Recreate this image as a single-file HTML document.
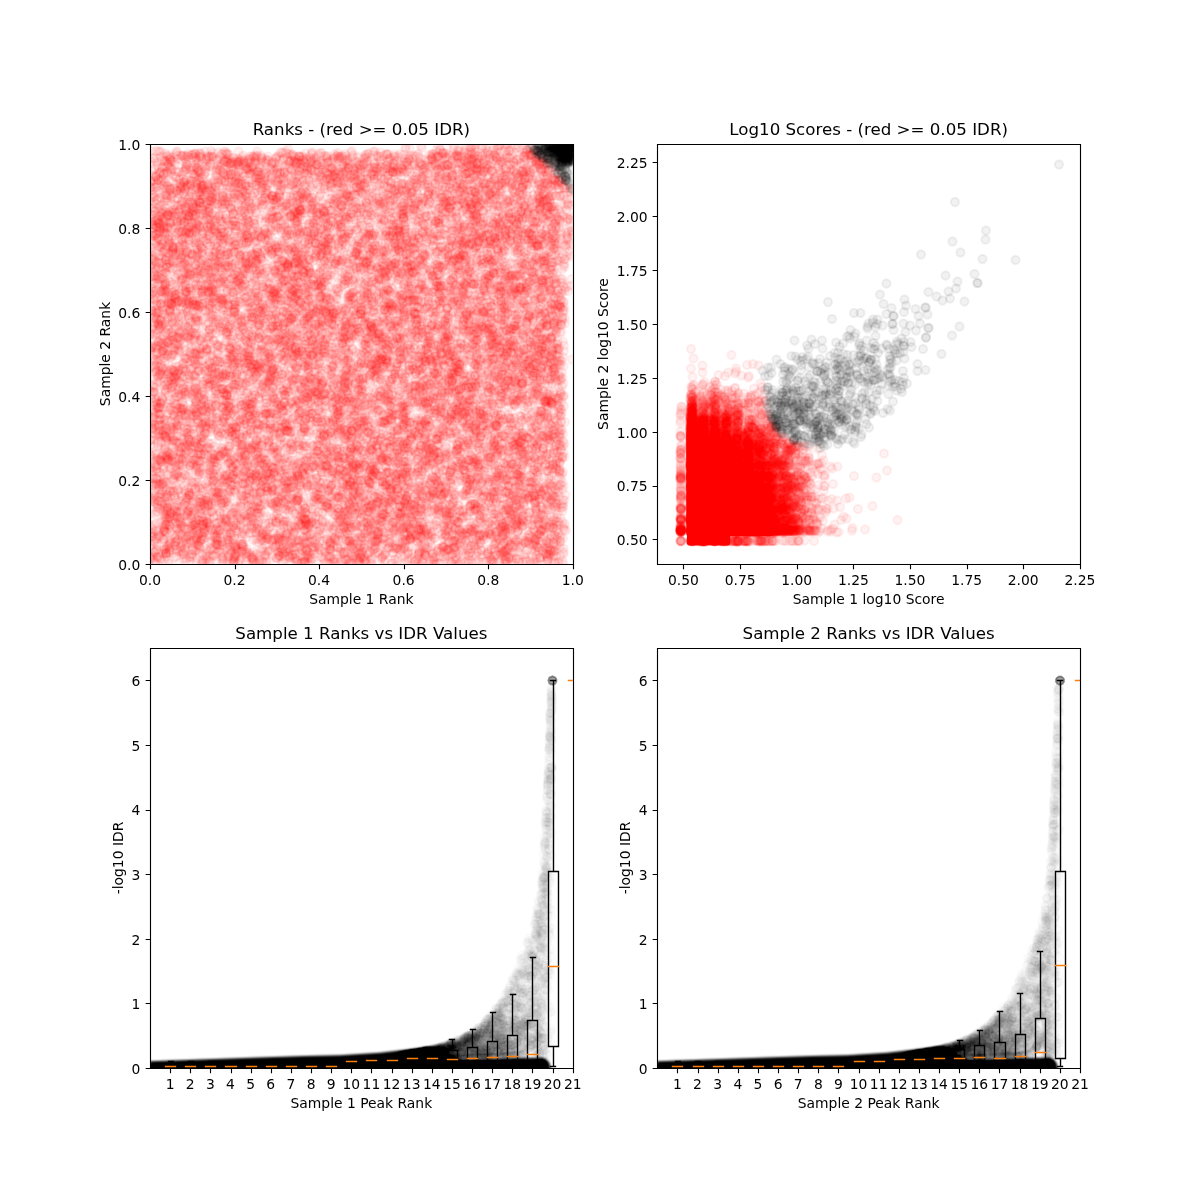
<!DOCTYPE html>
<html><head><meta charset="utf-8"><title>IDR plots</title>
<style>html,body{margin:0;padding:0;background:#fff}svg{display:block}text{font-family:'DejaVu Sans','Liberation Sans',sans-serif;fill:#000}</style></head><body>
<svg width="1200" height="1200" viewBox="0 0 1200 1200">
<rect width="1200" height="1200" fill="#fff"/>
<defs>
<marker id="mr" markerUnits="userSpaceOnUse" markerWidth="1" markerHeight="1" refX="0" refY="0" overflow="visible"><circle r="8.33" fill="#f00" fill-opacity="0.05" stroke="#f00" stroke-opacity="0.05" stroke-width="4.17"/></marker>
<marker id="mk" markerUnits="userSpaceOnUse" markerWidth="1" markerHeight="1" refX="0" refY="0" overflow="visible"><circle r="8.33" fill="#000" fill-opacity="0.05" stroke="#000" stroke-opacity="0.05" stroke-width="4.17"/></marker>
<marker id="mg" markerUnits="userSpaceOnUse" markerWidth="1" markerHeight="1" refX="0" refY="0" overflow="visible"><circle r="8.33" fill="#000" fill-opacity="0.02" stroke="#000" stroke-opacity="0.02" stroke-width="4.17"/></marker>
<marker id="mh" markerUnits="userSpaceOnUse" markerWidth="1" markerHeight="1" refX="0" refY="0" overflow="visible"><circle r="8.33" fill="#000" fill-opacity="0.01" stroke="#000" stroke-opacity="0.01" stroke-width="4.17"/></marker>
<filter id="bl" x="-5%" y="-50%" width="110%" height="200%"><feGaussianBlur stdDeviation="0.9"/></filter>
<clipPath id="c1"><rect x="150.00" y="144.00" width="422.73" height="420.00"/></clipPath>
<clipPath id="c2"><rect x="657.27" y="144.00" width="422.73" height="420.00"/></clipPath>
<clipPath id="c3"><rect x="150.00" y="648.00" width="422.73" height="420.00"/></clipPath>
<clipPath id="c4"><rect x="657.27" y="648.00" width="422.73" height="420.00"/></clipPath>
</defs>
<g clip-path="url(#c1)">
<path transform="scale(.5)" fill="none" marker-start="url(#mr)" marker-mid="url(#mr)" marker-end="url(#mr)" d="M1098 395 604 1124 964 1033 800 961 1080 753 1035 993 608 346 490 797 981 775 876 738 698 936 326 755 1057 721 785 661 630 690 600 404 851 892 593 318 729 929 614 1101 347 962 512 419 1011 351 992 941 864 551 1120 427 1010 709 507 715 780 812 1108 1111 964 292 612 1049 697 318 738 456 1063 316 904 562 637 1099 691 852 378 608 716 1075 494 684 379 1069 377 446 482 411 891 1113 451 537 781 838 809 345 1117 370 687 363 955 604 330 859 845 464 340 1034 1067 602 432 912 871 925 321 679 352 841 414 1021 1062 479 962 603 860 540 849 1109 548 1012 746 402 707 993 1104 458 684 909 931 528 603 620 1082 823 1021 656 492 486 1036 876 703 819 731 892 758 1021 378 679 1045 1073 811 843 389 750 925 1068 396 909 622 682 866 627 693 959 355 311 826 579 610 1060 622 780 438 370 455 852 811 897 797 1000 960 503 624 306 430 1112 813 508 642 593 641 563 374 403 656 452 344 709 1063 491 617 488 905 625 797 859 672 843 586 581 327 938 853 615 384 444 499 817 1111 1000 618 448 606 1040 883 561 528 769 611 837 560 346 888 1007 365 1001 622 426 842 410 702 1055 545 422 319 944 1069 881 1078 659 1127 1128 705 852 802 544 544 437 1000 529 793 951 551 688 549 856 601 823 867 986 951 398 388 793 1085 536 937 361 980 673 467 565 421 1052 921 957 593 812 385 431 576 526 1008 872 996 498 498 477 431 745 719 1019 571 753 1019 560 693 900 492 942 664 336 488 571 895 574 1122 478 814 555 501 1066 987 535 608 647 375 865 430 536 614 417 1006 663 492 1123 962 1007 370 668 1010 1067 904 346 375 500 336 1016 513 320 452 510 847 1118 698 1014 784 636 541 666 1127 793 386 797 860 403 749 1029 1107 670 706 937 679 521 602 980 445 565 876 338 1050 1085 703 362 1076 580 507 313 526 574 1108 1085 1077 940 733 894 766 358 599 746 324 1005 617 765 1133 443 730 344 982 420 436 729 921 455 799 906 564 821 694 390 530 478 923 309 358 787 918 531 1005 391 510 831 603 539 592 678 1041 771 432 1122 1073 978 378 880 331 906 986 718 355 676 780 882 738 570 1049 731 870 512 876 290 583 432 1093 914 367 367 877 509 392 805 452 828 627 447 722 354 345 1048 643 582 754 947 536 716 643 913 959 887 461 708 561 1058 533 579 510 985 332 1107 1109 1094 730 605 576 535 1044 930 319 841 390 656 316 568 326 534 302 364 815 491 907 828 599 889 1085 433 939 921 950 496 742 1057 347 525 401 1081 576 836 415 1007 839 669 359 1125 759 559 607 844 625 1067 367 1053 908 519 946 1127 570 454 618 703 885 766 412 896 820 698 589 1116 892 1068 837 598 564 482 537 664 631 487 550 503 942 509 968 321 719 895 716 991 940 800 761 313 313 808 374 979 625 1031 1012 400 662 694 827 497 777 779 368 1110 704 862 665 807 1070 898 553 653 699 595 704 862 902 601 703 876 350 992 373 844 1086 1045 563 992 1089 352 738 844 961 358 728 843 478 663 836 917 681 844 1095 992 770 495 643 742 468 547 582 609 986 448 437 989 691 684 843 657 676 866 637 1093 331 377 990 1103 363 441 666 756 371 833 566 652 960 476 1082 594 334 924 555 369 882 415 614 473 420 924 417 679 916 963 887 458 1092 1019 363 1103 314 945 408 1064 1080 411 667 1007 663 708 528 997 465 600 399 769 937 708 336 710 927 592 723 565 453 598 494 395 337 659 1012 777 805 963 922 749 756 721 351 342 901 746 1052 1075 523 325 630 343 822 623 410 1012 447 346 518 735 1084 632 984 689 314 325 775 797 469 504 511 973 746 797 463 971 880 917 332 666 327 581 545 747 378 991 1023 638 950 752 774 310 921 592 308 403 502 322 738 1009 799 674 580 807 512 751 1027 570 770 677 1022 368 387 719 979 647 359 916 597 891 639 714 355 397 1086 387 651 343 355 411 583 682 807 766 864 475 787 656 843 1008 1112 667 573 1068 581 393 902 868 845 633 578 1113 1090 550 1127 1057 889 684 1002 595 1061 585 807 574 1065 898 766 687 575 916 739 905 436 1065 1122 783 436 361 581 686 406 1048 1001 324 929 453 1015 762 1080 414 962 612 808 846 889 771 1019 987 435 797 495 453 790 507 701 1043 1090 391 580 866 358 423 541 420 451 868 659 1053 390 814 826 1048 628 522 493 787 1050 752 879 533 390 430 745 385 892 315 696 461 443 458 593 523 1057 642 335 1091 344 587 890 358 1001 1060 822 444 1062 976 734 429 850 843 665 835 969 397 330 918 631 744 392 394 704 513 930 762 426 618 469 608 1061 309 316 493 731 1125 352 761 549 894 981 483 815 417 1053 579 713 375 392 753 365 350 747 658 1077 840 935 751 359 703 448 1029 835 918 797 421 1070 1099 708 538 534 678 401 1095 936 886 1067 1090 916 1079 436 998 822 877 1060 624 704 874 333 620 530 765 857 563 406 976 596 790 1129 914 410 554 669 592 849 1011 479 509 984 1042 446 391 806 811 332 1102 746 1082 502 418 414 867 334 864 526 608 1012 1017 510 448 1094 683 785 1126 399 1084 588 635 895 1051 615 787 850 570 884 991 443 1007 549 583 855 1099 732 677 728 706 402 570 1064 471 325 558 935 549 547 436 951 654 565 991 980 677 823 405 1114 696 905 659 1059 563 598 1105 894 314 881 689 475 1051 947 764 760 913 1075 665 732 841 1035 414 562 609 598 1094 770 847 360 767 1054 502 856 373 1091 801 1079 882 388 783 517 461 924 374 677 612 970 712 706 584 465 324 541 855 772 308 1051 365 319 952 731 641 772 614 1072 711 345 427 639 1040 901 561 472 854 862 688 516 1043 748 329 766 1014 390 615 761 619 718 1125 481 566 312 627 964 850 685 515 717 313 614 708 607 318 780 637 768 587 791 1089 604 1101 674 1049 605 892 321 923 357 885 1070 444 701 837 418 314 836 308 1011 1020 598 704 654 500 1075 697 1084 425 999 703 597 710 351 786 905 350 467 443 943 788 1027 929 720 495 813 937 832 374 522 1103 557 1113 563 1099 843 1018 1021 775 930 394 821 596 375 371 617 1127 681 757 882 591 984 612 687 902 509 386 384 388 552 591 690 721 926 1032 1036 290 652 967 561 381 743 352 617 648 507 988 933 805 517 350 915 491 850 330 568 690 978 556 570 975 1008 613 856 602 379 864 689 766 464 640 706 736 347 1032 371 421 753 852 902 425 440 499 768 1029 901 368 1009 776 671 477 1128 390 992 1023 595 853 443 568 469 727 1075 1047 345 504 655 903 1008 588 482 400 406 521 507 952 899 393 828 697 376 307 428 682 799 677 759 726 911 349 494 757 753 731 997 512 1113 664 941 789 1041 579 472 571 711 557 1124 794 820 967 427 564 625 710 459 326 999 1035 430 443 712 509 725 681 1007 723 339 1035 456 610 470 1097 680 924 1074 1094 916 628 675 849 585 511 983 807 845 921 895 616 1055 524 344 495 985 674 722 1113 364 932 381 339 1068 1086 451 564 953 534 939 799 642 638 493 431 399 489 543 507 838 476 1002 1096 708 488 400 704 995 650 725 582 676 425 926 329 332 1106 453 855 328 365 515 464 693 997 456 664 330 899 367 1106 599 538 674 621 450 550 713 902 837 803 592 934 740 941 460 523 609 932 622 1048 870 448 957 787 570 962 868 309 512 1013 1043 360 407 378 806 922 498 426 571 848 622 627 461 921 743 1126 1059 485 389 333 369 711 626 1019 1103 756 915 1017 596 477 1108 900 1050 487 640 826 1103 745 988 296 893 619 947 924 1092 910 909 1082 865 724 691 638 1111 455 532 938 1039 349 502 844 494 473 491 605 1058 761 920 516 516 848 436 1060 894 812 420 423 1076 378 405 848 865 986 481 362 844 653 1075 927 1006 614 820 588 718 980 662 994 895 1021 945 419 852 340 703 659 925 368 594 334 519 940 341 590 466 1080 1121 875 835 1118 617 971 1108 558 358 895 573 408 655 465 507 893 988 813 524 316 711 1047 1120 925 715 316 500 806 804 850 1025 1030 601 326 364 373 656 982 980 317 430 360 556 432 467 822 1063 416 1008 649 416 582 407 915 495 654 946 291 374 421 778 1018 895 1101 1076 876 667 819 1022 1024 1015 403 387 753 767 813 309 649 974 721 460 414 702 1091 411 1000 981 977 676 824 623 1034 344 760 890 307 325 736 552 316 996 1029 691 621 547 791 1022 1089 491 769 546 499 496 627 1057 875 316 416 1044 441 772 993 980 1122 656 869 514 736 675 555 462 415 331 643 588 322 838 476 498 946 391 571 917 623 313 1061 311 599 498 428 674 819 517 1120 744 950 952 637 718 673 696 979 819 493 577 859 649 522 642 572 525 588 752 682 825 469 381 1063 514 860 720 860 396 742 843 988 883 823 825 660 764 945 522 381 612 496 515 1018 713 1049 1035 478 597 656 902 827 657 430 694 655 1086 783 531 442 1048 1110 383 643 931 539 606 332 1035 469 378 990 986 473 1002 777 917 1107 461 1057 887 730 563 555 1133 376 991 383 777 350 377 892 615 548 809 489 1098 872 429 746 553 441 932 658 538 830 918 896 437 605 354 758 818 1094 799 617 596 986 307 873 470 1115 327 628 987 546 371 466 431 617 354 849 990 476 810 1005 461 983 474 893 466 863 431 374 665 1066 1083 378 1103 664 1118 610 388 1083 953 350 595 647 752 939 558 817 884 858 577 963 1042 548 480 764 614 974 934 1064 400 405 350 755 388 1027 883 998 1113 808 692 352 665 914 377 425 385 378 473 776 732 535 555 370 590 526 805 835 1053 615 380 890 408 1046 462 715 994 822 643 844 1023 310 721 798 440 535 848 1060 454 974 992 850 454 1080 480 853 1014 704 989 717 820 689 693 1120 877 452 502 587 330 390 600 958 827 485 460 1066 914 736 1032 773 625 616 589 1083 405 1036 982 1120 623 411 1116 485 702 1106 782 606 573 334 740 653 920 915 522 953 827 614 618 981 453 1069 1077 694 366 627 1122 425 1104 510 594 555 723 906 424 376 799 704 323 322 1011 769 392 803 1078 479 489 711 605 542 323 598 619 910 354 1023 1084 794 992 961 1126 1007 680 316 830 509 734 1046 1124 635 767 801 975 517 569 432 921 490 926 840 656 476 486 311 427 1035 983 954 1100 881 471 1108 761 539 836 943 399 558 1041 1024 466 921 860 820 752 717 898 417 794 642 434 992 349 605 873 820 1064 908 710 357 1062 1040 770 687 572 835 472 958 791 371 1071 321 331 664 731 325 969 582 910 990 539 580 334 1013 954 492 1001 574 409 480 399 698 444 855 776 424 771 647 624 826 1124 581 928 1090 743 469 456 623 361 748 710 1105 1063 1074 894 1027 1074 406 529 736 626 827 704 949 490 890 828 1009 424 709 751 1008 705 697 567 534 347 881 555 645 632 1048 542 553 603 509 587 648 634 729 496 784 376 407 399 1012 651 698 903 411 603 385 501 618 830 531 530 396 623 806 1002 867 665 639 570 527 545 1111 798 379 779 962 991 686 312 355 723 1103 1005 1072 792 672 1019 428 360 1056 1018 715 418 992 334 312 563 601 704 1126 840 793 458 320 814 516 330 1008 1118 359 1069 697 649 1125 588 760 711 553 1108 567 865 805 966 928 861 795 387 1080 1050 589 580 684 366 497 544 644 372 1044 958 375 861 1084 711 505 994 296 586 371 732 601 775 1039 700 970 449 400 915 810 492 845 368 911 519 331 628 462 897 1099 767 684 1083 920 753 343 558 740 1053 707 325 869 464 827 951 339 563 887 1103 393 370 378 373 858 564 413 893 895 1022 962 519 622 604 779 930 571 824 731 771 795 865 955 767 417 383 468 402 889 317 439 596 960 702 427 1133 420 793 962 437 984 718 662 713 1116 897 630 899 960 573 307 999 1096 722 539 332 1106 687 369 431 925 841 776 903 382 845 1076 586 406 497 688 372 895 586 561 758 368 359 386 992 973 632 321 367 1011 544 505 448 1038 526 1124 600 468 510 480 352 419 1019 328 885 1055 802 813 921 385 821 550 763 844 483 431 781 861 722 371 973 862 990 867 873 564 711 510 371 789 1057 1075 727 1057 1118 891 370 493 349 744 816 774 319 454 1111 569 307 690 958 672 939 840 831 440 802 428 891 733 1050 799 1047 670 667 365 358 832 941 710 543 717 711 811 533 565 428 557 434 722 863 746 755 951 469 944 941 296 989 358 882 838 785 462 1056 804 547 736 882 708 808 870 595 442 531 466 353 954 663 335 919 547 794 610 1108 358 396 360 722 487 368 475 1085 1099 530 444 590 1040 949 1090 1038 1125 1118 797 676 798 499 419 1088 527 808 790 1064 323 454 671 1000 559 1008 1030 1127 1108 612 921 644 879 881 875 544 390 927 727 1100 581 748 883 792 501 484 469 500 1031 554 665 960 496 957 413 502 900 631 354 1115 730 640 426 649 422 1021 934 966 809 681 938 989 845 592 516 331 842 541 608 1058 1025 375 1029 972 728 717 779 503 647 561 583 1068 870 998 370 821 1019 952 824 1011 934 623 920 611 385 489 1100 329 596 770 1066 325 369 845 676 794 728 1029 1107 567 623 972 852 724 416 468 475 846 746 797 546 946 429 913 433 584 1021 1088 513 327 504 659 597 1060 403 363 1085 716 1014 953 810 341 842 587 635 861 888 585 838 917 545 612 562 881 617 729 681 400 608 782 470 750 1083 632 520 1026 1094 814 325 880 989 423 769 628 743 560 684 925 574 404 598 569 883 637 731 651 433 917 758 502 339 593 538 943 407 518 1016 581 922 563 465 703 897 985 704 850 618 717 567 1060 684 838 314 856 447 347 904 910 455 683 1033 1002 988 1036 777 750 1097 866 793 842 552 606 1031 1095 1015 335 431 350 479 805 676 697 1081 580 951 1031 659 892 910 1071 520 1079 837 954 680 469 621 730 1005 868 1121 966 822 689 877 397 586 401 341 705 1001 1047 734 1065 737 744 717 802 1095 1035 599 780 531 796 870 371 1123 741 900 1014 1123 733 1119 497 712 372 339 1020 554 485 810 1076 493 379 391 600 329 1060 351 848 1107 332 983 447 962 900 1099 1016 917 791 414 424 427 359 433 981 1068 1007 1103 871 878 548 995 388 832 978 809 769 621 339 1007 977 871 737 596 866 905 307 582 833 948 695 956 784 611 821 1013 978 771 992 832 457 462 1070 1082 449 954 880 417 634 695 1068 661 747 604 756 1064 865 1023 343 713 613 794 422 452 400 613 437 692 1125 979 734 430 784 492 876 971 323 427 938 856 1019 669 627 555 951 290 555 969 566 1095 568 560 598 399 966 426 1016 760 865 1121 602 916 1113 565 472 451 1046 641 1018 426 931 348 329 443 1048 305 762 684 1024 369 995 412 1033 801 542 635 478 578 957 378 916 1010 330 565 852 818 666 1120 495 726 589 755 989 633 381 1053 754 504 676 789 678 820 326 860 326 420 407 798 1108 497 953 524 545 738 551 361 746 504 1007 501 710 505 424 973 1063 743 526 962 980 1114 1112 587 946 1045 937 774 743 889 789 750 724 450 334 396 367 939 855 807 445 555 697 379 1115 801 1102 458 1091 804 805 1057 605 703 736 853 803 601 641 713 415 439 368 786 394 554 875 923 926 336 347 592 712 799 536 496 948 736 598 897 1039 1011 489 425 441 1025 1002 925 665 733 905 461 885 356 967 837 864 442 1067 972 406 820 643 944 352 354 421 1122 456 779 434 836 514 601 1055 1033 992 465 702 600 1035 649 1000 546 503 333 783 622 978 552 515 861 423 584 489 1031 1124 539 584 889 300 376 843 853 580 394 924 423 834 381 438 647 362 533 301 880 448 596 478 329 372 334 795 942 468 327 524 1079 721 627 525 1097 958 945 425 592 1124 826 1056 920 625 330 492 518 330 484 647 564 793 828 514 985 984 339 546 896 928 722 885 775 412 384 313 454 427 631 750 971 1003 324 873 528 327 447 791 842 557 504 849 922 1124 643 1038 924 940 304 802 583 647 791 1064 1050 469 854 518 409 854 659 385 349 562 489 404 1034 321 1072 934 327 952 406 1035 1063 1051 630 389 610 779 603 884 380 656 451 1064 896 358 931 421 394 550 541 421 735 395 1090 392 567 1014 764 839 443 744 898 814 478 1117 1124 1010 887 669 1077 816 811 699 939 442 865 1017 783 553 678 775 550 1128 519 442 596 1052 799 687 1024 451 524 525 703 910 813 1014 661 1094 444 1067 427 366 913 320 860 453 377 565 373 958 465 507 1113 663 539 411 1054 764 690 918 737 592 503 896 357 861 768 867 725 913 698 540 337 941 920 1076 650 545 1012 354 655 873 747 998 372 322 609 850 511 509 592 780 1056 400 978 885 311 963 994 488 953 808 1113 897 994 520 615 867 982 1048 710 928 577 452 751 1012 359 855 771 484 315 429 461 329 708 1021 300 1087 316 955 415 620 545 865 952 491 360 805 1078 374 503 508 744 753 586 808 924 1094 651 377 549 988 718 825 382 676 365 464 955 410 852 861 915 592 628 610 818 798 502 442 525 826 738 577 1096 698 839 632 647 631 624 571 578 659 625 712 628 813 524 606 662 1011 515 1078 712 591 696 309 363 1038 753 338 430 783 836 545 759 552 1037 1077 1068 584 636 499 348 768 534 1022 426 843 500 642 416 549 894 828 849 615 1086 905 855 831 487 976 859 609 864 531 537 928 568 787 862 933 312 391 1048 690 861 819 1028 870 748 380 990 771 759 576 529 751 492 743 868 767 311 808 972 709 822 864 1069 475 972 526 407 651 616 649 360 1088 580 594 846 1071 941 969 629 767 609 1010 1121 575 645 356 465 529 974 350 596 524 365 754 748 485 802 454 1103 328 1060 501 346 337 601 625 890 482 811 568 563 421 936 1083 990 744 982 982 704 1053 986 436 788 867 982 340 933 1077 361 935 1099 680 417 869 352 630 995 1027 764 438 503 623 337 811 976 917 1045 419 617 669 804 711 1076 974 846 453 805 1014 982 753 682 817 716 379 576 1069 601 608 761 1105 736 746 820 644 1012 328 934 921 368 719 940 596 592 533 1033 395 338 392 375 875 967 419 964 338 424 334 534 646 622 389 676 469 821 640 677 680 897 802 353 966 996 658 841 1010 302 584 535 814 387 426 386 727 757 918 639 582 340 554 518 329 1100 638 555 922 562 835 615 921 696 751 848 1104 343 610 786 569 523 1048 665 441 536 617 745 1090 535 669 1052 678 433 1002 601 627 628 318 993 469 322 1112 1112 1023 616 1020 1028 884 434 540 863 842 814 817 337 543 431 585 1110 590 954 1070 664 302 1074 946 669 692 956 555 509 463 336 1090 470 648 655 700 1008 1120 785 796 450 555 433 985 687 558 496 1011 458 870 955 590 936 772 625 663 865 368 446 392 556 722 1091 940 405 948 335 883 493 517 832 731 526 551 1016 888 602 526 345 892 424 830 1005 587 678 511 1067 1031 673 998 946 1096 557 867 584 1045 373 397 1089 575 701 919 884 405 372 858 608 488 943 1004 1019 877 355 777 463 1024 939 491 528 1068 838 666 407 942 355 410 818 832 1128 1010 470 1032 999 583 448 688 1030 697 905 1064 1051 714 852 695 603 1117 578 603 564 869 618 1053 1108 988 665 387 422 314 467 720 1054 943 782 419 334 511 730 1110 370 674 311 856 368 929 1033 693 1120 1128 812 933 771 955 1019 747 342 424 459 931 589 428 578 1002 759 994 754 382 583 583 533 572 789 809 409 396 378 1019 544 331 365 800 1012 683 453 509 654 546 777 1108 646 567 1099 357 695 523 539 1093 471 844 1023 405 369 684 652 1090 972 609 856 844 940 787 627 369 717 807 619 689 662 1050 909 579 308 891 1093 710 342 503 348 622 710 797 500 988 826 1086 901 643 698 326 487 731 560 688 512 938 321 505 934 814 992 649 855 1050 357 677 941 456 1051 304 952 466 315 446 835 305 1072 481 588 640 1096 845 520 956 766 737 510 485 387 494 873 548 392 804 823 855 1025 505 517 338 623 1095 341 552 318 943 440 774 553 514 962 1005 1025 473 855 373 329 729 1096 953 398 378 394 751 676 536 1078 1029 651 336 456 446 345 568 1108 738 497 784 790 872 945 339 508 666 1093 1084 597 702 971 387 460 866 734 669 528 980 398 410 1060 1098 330 796 394 1066 338 566 522 623 416 776 475 742 688 787 519 484 573 982 1012 427 1074 1047 412 648 1118 1059 1070 863 351 1035 786 697 764 938 662 567 425 469 980 1097 414 403 672 580 1101 982 635 840 328 545 334 1079 803 878 602 1086 1031 1100 989 626 341 1092 929 950 589 548 867 809 453 856 777 1070 627 868 1050 970 624 689 359 904 456 423 1024 545 656 483 440 989 875 1067 857 368 686 600 369 1011 553 972 1072 519 1011 869 859 751 334 1053 300 1050 967 457 578 986 987 582 1009 385 1109 931 600 426 655 509 472 551 532 1127 767 1094 1081 403 922 1001 799 939 964 639 934 440 596 762 911 373 996 700 393 1065 568 1121 360 738 539 947 662 346 363 575 609 660 867 983 1016 813 523 932 1081 537 885 1127 1104 976 337 830 1023 997 459 448 385 1011 799 862 1081 1115 1091 836 872 424 758 969 656 766 1114 676 582 523 982 848 877 1033 551 457 610 702 714 625 696 851 732 1093 651 998 1123 632 548 896 639 989 885 1109 748 313 638 610 586 817 1117 1091 731 1078 328 318 446 507 911 1010 609 723 778 369 982 587 1001 325 801 407 582 844 529 1053 460 578 631 570 543 924 1079 1101 969 556 955 961 409 499 720 795 762 1067 940 412 421 587 427 751 426 361 931 494 930 435 987 842 292 871 838 1038 1059 748 626 447 416 476 700 503 847 892 520 445 599 445 559 358 1036 1119 440 319 829 959 861 979 387 1038 385 599 565 541 948 816 1054 1100 880 421 380 949 418 862 716 918 509 1096 410 768 795 1074 775 463 910 505 760 856 385 870 388 451 683 1051 410 539 1055 958 1030 1041 909 443 328 974 626 1009 623 416 976 308 992 1102 805 740 751 940 672 905 1026 1107 472 313 710 734 325 1081 742 480 784 708 512 576 533 842 1067 624 472 478 343 706 559 869 1018 364 407 791 792 356 444 431 981 301 956 776 551 857 408 518 677 789 487 554 899 766 971 888 401 836 1125 1041 326 590 598 396 547 1034 716 321 994 1108 784 500 962 314 618 332 424 813 343 955 980 990 475 670 854 937 801 881 696 590 1064 732 1003 962 717 1132 493 367 387 871 826 973 367 345 774 645 330 945 616 842 1059 724 1116 1002 808 716 389 728 1096 548 736 976 913 928 490 1115 1028 897 906 569 345 845 810 576 321 878 1126 750 327 875 550 1061 486 657 383 1070 1078 627 1004 687 1119 566 941 530 936 1082 814 815 1056 336 904 1087 720 608 892 638 628 524 691 350 1053 475 1089 516 595 577 1060 344 608 569 598 602 777 485 827 532 480 1102 540 366 572 553 763 563 331 1025 730 702 999 341 716 881 454 301 447 433 320 870 442 916 535 1041 895 1136 409 1069 536 432 644 867 1011 449 787 931 517 843 604 445 417 817 404 791 874 664 648 335 918 554 828 315 706 531 920 995 955 349 832 552 1116 880 1113 382 658 449 322 848 713 320 456 321 639 497 816 1032 547 727 368 990 1055 1104 609 1016 1065 665 633 808 341 535 752 506 721 985 391 684 413 573 1067 365 614 867 914 594 943 533 806 718 947 838 777 406 849 341 1063 676 488 725 486 959 472 1074 852 632 768 706 367 644 339 866 492 645 1039 992 1070 830 783 607 949 456 373 1067 643 889 749 1044 787 831 744 967 796 416 408 658 874 469 1045 1037 710 418 478 376 857 547 761 345 644 1055 338 1072 768 1078 1096 1039 944 1121 465 1116 831 391 490 946 487 715 733 355 699 1010 1120 871 847 742 892 395 818 539 717 1035 894 699 327 413 1031 405 593 673 515 935 822 323 582 1068 1128 560 596 1045 659 878 1097 880 872 502 867 412 699 770 407 625 627 351 924 523 320 934 1072 1067 680 1107 548 619 398 481 837 730 478 379 488 404 748 781 1084 574 767 726 1075 357 852 1005 842 671 354 972 836 772 935 921 739 1080 822 373 311 458 506 1017 803 1011 376 708 1013 398 877 368 546 600 957 345 885 1093 653 838 723 1043 328 694 1044 870 782 469 875 1113 698 334 830 1096 1020 843 353 571 1071 352 816 1015 447 733 1016 877 864 645 859 432 666 734 526 937 887 748 554 594 716 851 1071 873 385 347 765 873 428 416 585 356 838 736 308 385 991 416 886 735 678 885 374 787 661 351 589 1038 574 1111 660 481 1039 447 339 694 474 478 517 563 1079 679 726 964 421 945 547 809 467 1061 344 701 996 992 770 375 599 1078 420 403 317 362 905 1102 815 716 534 523 415 841 1006 367 769 467 775 697 922 569 480 1112 1090 875 904 355 793 1143 378 1015 674 939 641 521 1060 1033 1079 413 769 771 696 844 495 476 365 755 820 551 410 438 848 325 585 947 452 360 683 420 700 751 741 743 430 670 398 698 335 1104 1104 839 567 1107 367 646 965 802 547 556 1004 991 379 717 773 744 423 476 676 593 586 677 830 769 848 490 384 612 1104 847 449 664 994 573 779 620 371 477 324 905 327 635 1063 878 1016 735 1055 377 764 701 401 974 993 1011 838 677 789 880 606 776 605 478 1063 1063 696 1105 800 662 517 813 479 825 311 742 348 677 994 323 583 755 338 1068 546 516 1004 581 322 849 842 1019 1115 775 1006 793 978 962 1086 1029 551 895 1099 1016 538 697 1004 963 1114 315 331 500 845 474 1004 479 374 1053 1100 341 486 988 625 1050 918 463 395 1038 707 1074 665 1096 800 390 1041 311 804 331 1062 608 1058 397 1071 501 585 1029 577 689 699 791 518 977 658 507 1121 1102 1034 627 985 644 850 457 752 415 455 794 900 748 509 455 1074 429 910 601 529 925 486 862 1065 907 753 609 862 392 446 580 1017 668 351 808 908 668 775 363 820 914 522 1014 958 311 704 300 781 434 494 436 338 734 810 1040 796 970 864 376 546 777 833 431 1088 675 599 486 457 496 1035 1027 1029 380 932 389 919 1120 391 1022 1060 1045 787 720 383 774 970 822 1062 715 804 762 993 945 819 1078 1044 1055 426 329 435 640 882 391 778 1122 600 711 767 836 936 455 917 689 726 1112 724 690 1119 610 613 630 1095 397 524 636 882 1045 908 450 731 928 928 352 1092 372 582 832 539 1089 366 775 589 634 700 670 635 754 1040 665 850 408 351 1089 976 704 314 368 311 980 371 904 542 362 450 347 518 880 577 935 859 1039 608 683 467 584 580 902 680 899 582 383 335 545 653 706 624 441 696 330 1032 663 643 613 462 357 732 468 397 986 669 766 963 1027 900 1002 1041 972 399 933 958 469 1122 886 1075 418 541 624 1093 986 1123 1072 517 1029 326 483 639 746 932 540 847 390 785 785 344 733 946 933 636 410 742 621 704 417 459 552 628 870 661 330 587 565 543 694 765 766 519 1094 353 606 1075 815 523 745 827 880 479 367 738 814 955 1101 428 794 650 343 600 845 943 556 456 739 865 711 322 1079 656 643 670 1092 562 658 1116 437 969 483 685 1083 340 823 786 579 584 485 703 331 580 763 515 431 503 779 461 1003 478 970 368 811 1014 395 955 1071 598 524 376 1037 950 1017 972 607 1075 325 912 734 314 317 814 852 843 799 884 478 357 882 976 376 779 975 958 484 542 321 720 644 513 1008 713 1088 747 1112 471 580 519 413 704 595 840 423 712 339 874 392 639 808 639 553 598 396 324 737 1024 834 871 1043 432 319 1070 389 724 702 641 1051 875 542 397 347 854 572 421 969 526 1103 1000 762 449 617 745 388 1050 749 646 354 1098 732 378 334 964 646 734 749 303 358 423 1027 934 492 447 1081 1029 321 758 1045 393 780 710 628 963 513 586 950 1008 404 1007 380 990 473 360 727 786 407 558 959 601 978 495 922 778 897 674 362 1068 351 590 786 1094 991 836 795 901 461 843 428 996 355 1079 670 670 868 908 753 626 445 814 585 1109 1009 547 815 886 432 801 441 517 951 430 743 1072 363 843 1057 924 1075 1078 833 849 333 546 946 918 419 1050 672 742 687 347 1002 572 610 1018 370 376 492 521 493 336 910 1041 399 812 962 1100 768 339 606 504 325 549 518 650 1105 686 1111 654 527 839 982 386 1049 895 754 929 444 897 1053 355 909 577 667 819 556 981 705 804 915 769 745 472 967 361 306 456 973 691 496 929 886 437 803 958 510 714 965 887 829 758 919 794 729 806 852 698 950 766 1000 449 1028 305 723 1007 1071 686 483 874 394 783 934 553 950 771 1096 869 907 299 972 395 715 837 472 697 444 479 1098 863 577 500 308 543 893 914 668 539 1072 775 861 801 1001 1011 381 1114 652 555 853 923 792 344 672 967 957 1091 899 521 593 801 369 491 1039 852 501 947 1037 676 636 990 916 516 949 1019 564 573 477 331 973 591 509 729 1097 325 631 674 953 667 809 1081 838 800 823 473 1001 793 469 364 692 740 755 667 707 924 787 399 477 735 787 326 699 540 459 657 803 692 431 1091 427 962 763 739 437 530 398 596 1038 1020 969 565 464 754 1119 792 609 791 992 694 750 412 1119 1049 1095 412 401 390 309 591 641 768 373 718 1031 850 335 611 800 1060 510 790 873 444 527 908 819 903 870 748 551 629 1028 616 616 465 786 995 1104 381 380 885 469 1122 1108 937 990 381 848 663 908 712 437 531 593 736 1104 412 791 1120 896 709 582 1052 882 934 454 1055 781 768 393 710 628 317 367 779 704 966 960 705 864 649 915 602 584 954 322 409 594 326 837 579 872 315 453 547 1110 361 723 386 666 1124 1090 848 661 1127 561 865 1085 687 756 903 830 771 440 524 459 840 1041 911 766 732 649 801 668 626 1114 1008 421 450 706 756 897 763 1120 1076 301 1114 505 565 1033 725 1059 741 384 406 524 608 659 717 1071 1038 958 483 1076 718 654 346 576 854 700 547 483 922 891 1109 400 306 716 525 743 1081 796 1097 646 684 561 305 1024 589 1100 1077 595 829 971 1024 362 618 611 1016 500 460 1042 448 987 899 526 574 347 568 1016 421 541 459 926 344 776 701 833 648 978 689 900 950 484 487 391 308 306 360 994 711 766 1027 769 842 891 1070 438 1044 587 931 1081 1115 692 620 764 675 822 497 1043 518 882 999 957 934 840 732 927 761 493 1115 1088 934 633 983 999 452 734 523 1068 545 905 1081 612 613 831 421 1117 761 523 572 649 378 772 718 392 829 1098 429 802 591 596 550 614 893 416 912 424 858 477 939 467 1093 407 1042 1062 964 602 605 619 1110 349 785 562 856 457 443 727 690 403 722 1096 942 304 575 437 1062 407 1057 751 527 932 414 1021 484 497 727 951 471 688 568 541 754 329 779 1033 319 304 692 395 780 995 497 791 959 682 336 1093 529 341 1085 397 610 588 555 696 594 375 314 1066 612 619 519 683 479 662 727 582 900 1099 1054 952 403 1070 1103 607 856 553 967 1053 563 621 339 481 904 535 322 563 565 550 327 792 345 548 906 1080 1115 486 548 688 826 815 533 1031 574 419 659 629 494 998 840 815 922 852 728 938 489 1002 1118 1087 1032 762 573 1008 734 774 698 1003 360 1009 749 549 588 560 348 452 951 832 998 545 775 1123 488 661 748 934 368 777 1086 690 644 953 928 821 845 772 841 681 457 678 485 996 334 772 928 331 693 353 733 842 710 395 793 948 502 817 319 1089 627 508 634 599 361 456 464 850 970 1084 766 610 527 646 497 718 331 378 414 876 684 462 799 765 1088 302 302 675 958 593 612 821 856 483 454 318 873 1042 576 525 963 662 512 590 446 341 445 809 679 692 869 650 818 389 893 626 932 414 823 662 973 814 992 348 1115 1069 366 915 940 1010 532 664 544 945 654 1016 447 532 587 1080 480 827 543 825 731 1107 907 688 441 1122 649 757 401 822 914 991 969 708 984 554 420 432 996 495 335 949 1022 803 987 1107 1005 1097 740 1019 453 976 784 753 735 426 474 416 948 628 993 758 557 979 1006 552 1045 337 347 610 1111 702 675 547 935 653 776 378 750 329 1054 392 1082 1072 572 553 1011 554 1046 541 702 619 537 820 520 825 331 921 952 709 453 539 1122 564 522 454 370 412 801 929 1060 1036 475 691 890 751 839 686 475 455 307 883 785 990 311 476 498 333 397 774 681 932 1124 603 867 322 970 992 1028 1042 1022 720 534 453 989 912 423 1077 1103 681 826 723 862 413 994 818 574 1080 405 885 426 551 706 332 876 703 795 758 1068 766 952 471 604 938 1111 381 463 843 356 1113 1043 1061 461 372 618 762 717 333 467 902 966 442 910 1084 565 1108 993 521 738 506 958 1087 695 942 409 371 361 477 338 470 969 399 355 922 331 487 327 1043 841 677 1031 1082 850 565 1017 394 486 551 423 1027 394 1090 768 643 647 763 487 1115 903 529 958 684 916 785 1106 528 654 365 312 766 968 477 406 590 576 448 563 1079 716 1122 900 706 358 983 666 1075 934 890 917 591 694 1074 944 1078 1019 861 906 514 1057 657 976 478 763 550 638 769 1074 987 1124 1103 675 812 881 530 1008 303 429 823 364 1065 562 1083 467 345 672 321 424 640 1055 862 1102 1125 1122 672 626 1129 621 608 544 389 637 377 479 538 756 883 1069 638 648 390 706 962 859 589 312 544 741 883 1011 549 609 595 704 1081 1120 975 771 400 363 1129 491 531 1064 522 1080 866 955 651 651 814 936 428 1069 514 893 479 366 615 1064 396 721 995 689 553 921 926 509 304 736 858 895 661 451 1039 576 807 809 625 706 847 583 850 585 1077 398 585 718 767 551 783 748 645 882 984 589 588 967 300 733 458 915 944 368 944 1076 835 581 584 495 836 477 332 322 470 875 757 382 627 1100 325 748 768 1003 341 334 455 1088 472 1092 586 591 434 555 336 859 533 468 978 747 784 1003 585 896 537 706 449 531 798 1027 1083 571 702 428 454 830 415 1102 542 848 830 788 574 699 1060 1122 1083 1062 1028 977 356 850 798 344 690 655 832 451 988 701 653 844 337 385 351 581 608 371 386 622 403 677 403 344 361 1047 1060 788 964 528 1058 289 609 1119 350 652 867 929 955 396 926 992 859 509 462 1075 505 729 1126 509 594 617 1059 531 445 387 676 1017 1021 1020 339 681 495 1056 942 800 1102 534 680 331 695 737 1037 464 374 1073 728 886 353 626 1056 423 1104 937 587 364 396 840 1082 323 769 605 905 773 623 758 698 1007 765 714 633 499 689 895 903 959 820 485 492 595 495 1022 341 390 339 982 698 1062 1019 303 527 469 416 453 618 863 1109 334 976 994 557 524 787 441 992 905 870 1128 760 758 514 994 685 786 447 1117 600 1021 846 617 300 880 953 1060 1045 342 655 739 826 316 719 376 693 637 581 975 640 634 1008 803 900 376 393 538 940 1012 899 621 864 730 619 632 1008 900 951 495 1123 843 892 665 879 947 614 801 503 851 926 697 938 342 953 873 542 942 842 892 883 307 1069 1121 1067 1058 491 673 859 719 952 385 652 312 947 873 740 660 394 1077 592 644 475 786 1046 469 834 366 729 1066 388 868 778 1068 992 448 358 462 779 376 969 666 333 1095 1116 700 683 997 802 683 857 853 1003 616 643 950 385 1050 974 1012 437 832 806 670 332 530 440 872 1019 658 923 922 313 920 870 968 562 874 880 972 1054 929 417 585 346 499 608 895 911 490 872 791 644 771 580 900 1063 668 1017 499 552 363 941 477 962 781 677 415 1075 710 340 423 885 601 597 1042 630 634 976 964 657 484 880 301 998 390 772 470 444 448 708 1047 856 957 301 401 928 932 1057 1082 357 945 945 812 399 399 533 827 452 646 658 371 480 521 867 996 963 648 658 1024 921 1071 460 831 773 658 337 668 790 1025 903 434 1016 1057 483 1081 800 718 762 404 359 1036 815 819 306 1122 719 987 608 526 943 518 308 317 515 496 699 435 821 670 929 908 836 675 619 945 450 511 629 669 1037 367 1040 317 342 666 983 566 557 717 307 1061 332 466 909 521 935 601 977 1063 584 352 726 1016 517 358 1056 615 1014 615 344 633 575 352 519 356 994 851 1099 1050 912 1114 625 892 451 914 907 1086 618 669 954 965 972 327 1122 408 618 520 640 603 316 475 547 784 853 758 432 581 990 956 640 965 404 1066 777 682 476 1105 488 726 800 504 879 548 950 751 927 580 383 899 721 626 1097 1119 874 503 790 641 565 920 652 433 873 1041 1119 944 800 1100 503 567 327 605 1100 399 1110 979 639 474 363 1070 621 568 779 319 413 857 598 1083 326 427 954 318 311 1029 636 467 836 937 356 781 644 1044 806 428 400 366 484 644 436 954 417 1103 929 854 734 997 870 690 789 481 547 1007 684 967 310 375 966 305 652 422 831 748 422 302 1031 914 1017 415 694 862 646 787 891 530 520 872 595 995 780 924 733 578 802 1029 301 669 780 894 583 1094 697 402 302 529 625 720 402 526 904 391 725 856 940 945 643 465 1024 458 521 993 810 1035 736 522 643 306 660 765 1081 551 1014 698 426 638 420 824 1078 548 609 1124 589 1061 545 983 462 416 609 727 309 338 676 577 714 941 735 573 907 379 583 863 673 448 410 622 942 978 627 408 435 485 378 660 309 810 545 739 824 653 915 326 931 824 965 474 932 1082 465 1054 629 657 465 951 705 519 306 958 466 1025 846 395 1123 664 940 621 781 535 365 1013 772 885 511 953 622 1046 525 547 1030 811 851 795 1066 457 369 510 1002 346 809 889 837 944 953 846 819 741 665 1015 471 759 1090 359 796 339 815 331 909 550 1117 707 841 395 583 673 966 852 487 925 884 781 520 877 1028 750 777 540 1118 625 851 723 789 746 980 883 621 417 772 522 913 830 922 776 1057 803 1070 917 890 376 1054 628 856 804 1051 894 664 502 946 726 1117 377 462 506 574 470 1056 398 926 589 907 851 526 1083 557 609 343 426 513 403 418 547 355 860 988 975 352 369 878 329 569 782 541 825 379 884 816 689 1008 942 514 500 763 1043 861 544 692 678 377 787 906 624 452 438 775 916 310 831 1088 980 960 1069 764 431 741 965 570 1042 1070 716 894 293 827 1043 492 594 676 317 739 757 598 787 384 678 341 757 902 355 489 596 407 691 910 830 669 1013 575 534 307 733 502 947 321 607 320 962 689 879 497 713 494 484 597 478 713 1018 744 393 837 836 756 1003 648 1055 1119 856 730 632 979 669 493 726 498 483 422 402 469 851 495 615 525 430 703 635 1105 703 696 1036 715 1026 790 1067 724 621 315 439 399 405 1016 1083 749 944 778 566 680 313 754 1084 835 1060 940 601 499 380 723 813 1075 1028 790 526 1012 643 878 358 591 735 805 747 357 481 487 693 490 916 643 778 411 389 912 439 440 1060 506 642 930 348 472 352 1039 831 933 628 509 386 657 558 462 1045 316 1015 949 621 1004 887 812 1079 995 477 632 315 921 1063 457 612 627 908 706 1088 486 654 880 962 1108 1125 431 782 635 569 850 847 1055 418 479 670 311 868 696 527 1034 500 1049 418 686 979 839 519 316 1002 591 709 826 1018 729 904 722 1051 742 1043 938 775 889 940 433 634 400 1014 347 861 366 735 303 395 1029 1033 336 1044 375 874 809 324 1104 808 1069 300 915 1043 357 674 573 975 1096 639 962 450 1026 559 747 1028 804 812 1010 639 419 849 629 648 504 811 650 488 1093 995 617 730 558 1110 378 466 474 1101 395 506 875 402 657 989 889 1059 1078 1049 715 360 329 839 823 637 536 960 987 852 1049 887 679 673 509 556 902 477 1078 699 393 451 1026 694 549 802 470 652 1143 396 599 696 812 327 712 929 765 1030 448 504 964 1102 302 324 958 484 487 330 943 1105 638 1068 454 953 875 541 849 370 937 768 758 532 765 977 488 1000 846 991 803 414 340 817 1008 409 939 848 548 691 306 316 1051 471 562 1097 804 504 1019 949 811 755 942 419 900 449 406 783 947 972 809 634 716 324 722 726 942 673 974 590 735 497 403 356 418 616 728 648 1074 1077 717 864 446 786 1095 839 724 749 933 533 750 611 506 1041 1114 939 617 599 560 1083 1047 1044 748 336 986 887 1000 314 861 718 455 504 447 960 650 691 370 742 638 989 943 1008 892 411 966 534 1080 654 941 750 946 691 694 802 466 1053 1060 543 902 671 1089 326 1003 538 843 860 870 632 378 638 516 571 892 646 843 1003 366 930 604 621 456 727 308 1004 816 909 572 393 866 754 876 689 524 1121 1077 784 403 835 1071 681 889 627 1104 807 913 492 801 702 335 949 708 899 638 578 1043 561 584 673 934 624 531 1052 415 487 754 1003 508 1024 437 985 1048 955 806 832 923 399 725 768 895 953 722 1035 1038 438 1095 652 1121 729 401 1004 404 377 458 597 338 563 622 1068 998 577 1078 626 541 708 1057 543 499 794 473 328 682 858 885 408 987 763 747 303 325 587 701 1093 316 359 916 601 800 710 794 676 535 1061 1119 941 721 656 1099 952 882 582 355 819 500 318 809 840 897 1086 737 543 911 570 533 982 660 980 844 835 855 478 628 1108 471 926 1011 986 805 859 757 821 736 1109 400 571 1021 673 367 474 485 354 910 581 704 1020 760 1052 947 799 964 351 482 1012 1081 759 550 620 395 576 535 976 334 1065 858 682 466 485 930 357 1044 581 636 975 385 603 391 693 843 665 660 1086 911 765 828 479 1101 869 339 481 406 1001 659 406 1030 971 1052 829 615 533 999 679 1107 596 1094 415 495 741 307 786 544 638 441 655 918 991 558 809 420 712 549 435 927 691 320 526 1125 965 373 444 304 470 461 963 643 1114 541 767 1041 457 996 830 1133 465 682 574 1115 1058 885 972 949 727 511 562 746 623 900 868 888 1053 1126 433 1106 631 659 758 758 858 384 972 1073 327 606 903 701 1081 1102 604 437 413 701 726 819 882 672 597 880 618 460 751 873 828 988 688 367 811 378 620 852 896 419 827 404 1017 340 337 592 875 1013 1042 1079 982 960 822 743 989 816 1070 860 967 321 1120 387 909 834 423 877 471 984 1125 863 963 615 915 1003 365 1100 373 448 1000 738 964 674 1109 849 399 1111 1019 443 1004 757 589 883 596 986 657 926 649 312 441 954 698 305 658 1004 367 838 428 325 614 449 481 983 780 1072 492 942 1121 1093 874 796 719 307 834 847 903 566 668 992 679 677 323 758 749 1084 1015 402 1078 331 565 855 330 553 781 839 343 508 1125 667 588 1029 836 843 841 360 532 901 418 701 963 536 1074 642 610 530 1070 636 1107 947 782 381 671 948 569 1089 522 1038 649 446 661 1081 834 409 908 1011 743 1032 1014 1026 1022 581 433 1075 788 1020 481 875 340 669 376 914 637 1114 712 1041 716 376 457 1082 560 1042 424 1093 639 843 331 500 713 731 708 410 839 741 871 998 978 849 426 1088 1063 1081 459 730 1121 628 930 685 963 1052 304 633 844 684 521 759 905 808 762 850 1044 640 593 693 804 720 512 578 719 850 473 594 672 664 872 616 1082 577 750 707 971 385 414 542 501 461 696 1103 1044 950 378 377 1022 416 463 635 711 909 1002 751 1048 898 522 485 992 900 681 630 798 618 1070 501 1042 351 933 859 887 1103 485 324 467 880 338 620 636 1007 950 877 360 710 893 636 889 359 700 618 685 715 869 989 1074 434 495 1034 448 465 870 730 315 730 835 539 397 960 814 808 1053 359 586 943 1002 832 771 647 861 1101 716 787 459 607 938 427 681 457 653 806 434 575 775 1029 800 333 712 1086 1088 836 739 669 1117 497 706 636 309 721 600 1079 1069 878 600 608 1035 527 626 795 463 472 1110 804 770 530 721 679 492 769 829 1015 316 940 1022 533 346 895 360 678 1066 592 329 762 823 822 379 490 921 654 920 313 374 990 782 702 506 779 342 753 1062 874 719 756 988 1034 448 683 453 683 1124 884 395 362 382 980 659 912 675 1035 360 721 607 373 830 1064 995 515 312 722 976 1115 438 601 752 711 880 635 560 409 741 572 438 536 826 491 470 867 407 649 435 772 912 627 783 943 308 604 419 597 602 570 745 911 338 538 959 704 1110 773 734 925 823 1062 366 568 821 926 354 925 492 343 322 489 822 1021 437 632 366 747 498 418 766 408 790 426 919 652 593 1111 595 754 919 799 503 662 485 927 808 343 872 680 409 622 546 596 427 1073 1092 872 711 896 602 432 349 898 863 453 733 313 697 1101 791 920 1059 686 433 336 748 529 880 1058 378 348 903 892 470 317 446 780 475 765 677 1010 440 466 553 1060 347 889 543 1067 757 821 979 1112 938 719 960 899 838 324 670 681 464 836 1086 772 486 569 362 310 1122 1036 807 454 790 842 713 416 471 749 647 959 581 889 931 351 1022 1062 320 676 814 843 563 1109 1070 414 406 371 1006 1074 493 524 371 1086 904 469 984 1001 305 961 341 960 743 729 649 789 770 469 442 634 1074 990 389 1079 583 1071 585 418 605 848 788 387 418 618 478 892 651 786 1106 970 928 1035 502 726 622 1072 1018 880 533 311 909 390 765 607 855 952 484 959 614 1031 551 400 1004 758 1064 677 1017 476 1097 1003 786 770 1120 945 477 419 758 594 664 547 533 496 709 998 1078 764 711 390 707 602 1032 1042 941 1064 473 707 420 381 549 734 407 760 1127 785 344 1010 959 892 963 477 303 416 1010 834 406 683 662 1100 761 1016 489 308 1049 484 707 996 665 795 978 545 531 928 550 821 845 513 879 713 744 972 331 493 802 651 713 382 738 956 931 378 433 1024 990 764 524 812 381 676 436 823 702 823 880 684 410 927 335 318 1113 1016 602 509 325 574 1050 331 781 315 724 468 713 880 989 898 988 513 1006 962 872 427 950 437 557 670 719 705 894 431 465 316 648 315 551 905 611 1066 339 315 1115 576 369 542 639 1055 811 1040 986 321 344 1044 375 823 386 416 374 792 928 466 950 706 904 654 1012 998 328 666 1057 904 765 926 737 734 676 830 1009 1011 492 508 940 769 589 412 532 637 736 347 958 646 458 915 1118 623 597 787 338 343 675 827 895 922 511 959 1072 746 657 499 532 857 898 605 312 303 622 1015 881 1099 580 496 700 312 581 934 516 1092 1090 1071 788 724 900 635 430 1120 392 878 919 377 604 726 522 800 392 615 672 638 1008 945 761 728 910 522 474 420 437 543 424 685 686 312 1047 1034 638 1049 888 641 576 567 720 913 735 784 389 387 601 334 708 983 628 562 963 451 408 867 477 930 533 839 1101 307 804 842 849 583 589 498 401 952 1021 740 964 774 308 747 675 351 948 1048 345 714 498 337 520 830 711 824 1077 804 1103 793 1043 798 385 706 428 1072 456 387 610 952 629 900 912 1054 611 319 494 584 696 943 568 435 764 855 696 928 321 945 885 365 727 689 569 829 483 1103 795 522 1011 602 922 614 973 1048 536 470 358 413 1112 967 621 1070 565 649 522 535 370 1081 830 961 901 508 417 373 844 319 1002 1126 883 460 892 1110 619 600 976 656 691 851 1063 806 633 982 545 607 886 1023 1028 649 425 603 701 438 613 874 783 390 750 778 1049 575 462 312 626 661 347 991 1064 969 477 535 927 321 747 1082 344 970 1065 888 332 645 1042 706 409 691 928 472 857 499 578 450 845 592 736 694 1068 702 351 399 944 653 554 387 920 341 446 427 960 943 331 451 904 480 320 880 299 549 664 323 515 727 852 582 319 830 864 895 1033 514 1086 1032 1008 534 536 347 879 908 1095 1032 568 976 750 384 846 1026 799 641 351 313 813 430 520 430 762 541 366 876 878 1094 788 523 673 671 527 647 344 320 839 560 389 573 989 762 438 983 343 911 725 1002 560 306 501 1079 839 566 1003 739 794 348 833 983 1070 723 929 537 1103 1005 665 891 1024 914 897 735 665 966 658 1023 1104 545 586 903 311 332 873 1004 505 1024 979 514 522 966 797 585 931 1060 684 745 901 798 595 777 337 335 878 317 433 817 369 817 781 322 607 372 338 430 458 404 785 691 744 800 1054 429 381 998 1033 832 748 304 342 1008 599 1079 998 742 530 382 371 812 977 385 512 849 462 824 1040 735 1107 567 890 969 636 847 732 924 674 505 671 810 473 511 743 412 427 406 676 630 1086 1103 524 399 858 457 1114 421 402 798 1015 562 588 572 853 1012 711 484 981 464 359 391 729 381 371 789 755 986 718 935 972 1023 691 676 904 782 812 431 397 963 739 329 1119 607 1036 518 668 991 913 380 738 777 495 1099 375 1078 364 1121 1112 945 933 677 924 995 463 602 571 924 460 912 658 705 873 536 681 611 1039 424 985 385 309 1066 985 844 1125 519 891 887 414 961 382 916 792 402 810 315 1023 1094 724 580 430 1060 735 820 802 492 392 913 1035 553 1029 579 753 1036 975 646 416 892 980 375 1026 618 582 1026 381 864 314 755 311 642 460 897 842 633 623 361 1036 596 511 449 972 350 1015 953 820 662 442 589 958 511 316 317 1075 825 618 438 432 597 536 323 924 792 478 443 409 805 616 624 657 1066 752 1010 464 722 619 1027 692 939 381 611 892 592 681 759 952 995 299 485 766 668 408 957 481 656 596 814 400 1019 415 363 824 1032 692 1037 1043 493 980 312 354 662 1075 545 976 1105 701 901 574 1092 1108 794 677 883 331 961 875 989 520 594 1009 544 710 949 876 781 654 495 634 480 890 1060 685 309 775 307 710 432 513 644 636 412 557 476 562 565 442 1078 369 357 927 584 697 627 892 805 339 886 1114 938 543 399 1092 562 523 1018 835 351 1044 432 812 793 734 386 409 999 540 562 542 598 1000 946 842 988 600 449 1006 361 703 830 787 515 671 965 623 767 893 1027 734 572 626 1005 982 1072 667 506 828 390 720 948 470 800 1033 318 944 430 490 951 1018 320 828 850 910 491 735 355 1102 342 605 819 845 922 918 418 561 818 317 956 886 364 437 1007 839 1064 399 1050 962 911 716 1085 939 684 700 690 551 814 856 662 1101 1106 930 357 575 685 388 702 407 894 401 369 893 762 881 680 530 863 775 333 1026 522 1018 1080 542 546 652 959 826 572 1043 794 691 907 598 1066 636 643 575 692 932 453 1038 367 821 387 340 522 633 918 1059 729 592 544 785 489 443 683 413 985 1027 1120 749 927 825 641 306 571 508 423 956 397 642 485 1098 1110 448 586 494 968 405 1057 727 549 585 1131 990 400 1024 894 360 656 434 370 1097 533 989 523 548 544 392 651 1079 759 742 776 358 478 452 850 368 346 875 569 499 808 706 536 353 810 885 783 758 736 852 388 820 434 596 955 833 795 1000 730 551 776 801 957 454 341 318 795 642 829 602 657 1008 1119 926 403 494 549 540 496 526 1069 428 733 619 706 646 1073 756 982 891 463 1104 664 660 829 366 444 1115 503 463 724 794 682 497 1041 574 1130 844 757 681 492 1013 410 303 1031 631 789 332 952 694 712 536 560 694 663 398 383 1036 693 860 556 435 1015 753 529 324 1006 450 402 991 446 607 906 549 1093 645 902 408 380 925 375 438 463 332 358 776 951 968 914 898 415 1028 308 577 461 649 968 1021 739 698 405 607 537 883 799 472 467 623 875 1102 1110 755 337 727 430 390 783 830 620 835 811 948 649 469 884 334 889 1048 1067 390 403 909 1113 476 899 1010 1030 652 349 1090 1077 720 918 574 1086 896 1104 454 440 429 484 890 507 440 869 814 867 741 394 827 896 1097 488 482 420 391 665 673 351 535 660 359 814 343 548 740 1031 468 536 366 318 763 350 739 1108 1053 315 807 1113 1061 1094 378 456 508 689 344 763 1092 471 866 645 651 920 565 902 532 695 424 1028 718 1056 637 959 797 420 512 713 375 471 490 1049 1082 1085 701 987 592 894 835 993 486 458 706 975 460 472 1098 958 659 618 697 748 560 360 928 459 777 661 915 635 836 517 733 424 580 758 598 529 362 952 860 1144 411 621 325 379 481 674 404 456 892 1119 502 977 909 385 348 392 643 737 711 731 1076 307 784 944 775 692 1081 492 626 1075 888 901 561 449 837 1144 719 374 671 378 496 1021 373 755 537 1129 1000 1055 727 328 958 540 761 687 401 302 912 691 1047 941 547 589 424 1121 831 716 416 943 382 928 611 311 408 430 492 852 714 574 1074 698 822 1120 730 1117 726 408 410 1095 369 840 975 885 941 419 628 326 699 338 1127 392 763 912 536 523 621 987 548 873 471 932 332 1036 553 872 504 450 349 637 902 614 513 591 1085 342 405 944 688 496 531 512 830 830 989 790 410 816 779 561 944 569 914 657 982 1126 1000 662 740 659 1093 675 388 351 915 499 860 624 305 1120 754 500 732 1078 618 556 637 860 548 682 1058 504 335 1111 347 933 668 650 788 602 420 820 830 690 477 951 960 927 985 690 418 476 602 542 1080 1058 878 354 382 666 1026 568 735 822 568 526 381 1033 653 570 681 546 400 621 886 983 640 802 924 521 926 690 429 796 441 426 735 1089 722 1002 494 346 495 331 1042 995 759 771 1004 989 470 448 630 332 857 669 313 391 728 986 1004 747 664 363 566 1042 904 349 1021 1026 794 436 536 446 596 872 768 862 431 908 990 314 817 541 986 799 790 943 1060 855 744 302 1027 988 1113 727 873 806 1015 955 865 692 433 758 466 618 542 904 423 1038 352 683 623 655 711 336 635 318 536 914 687 643 930 1005 1062 447 608 902 1124 1093 358 814 435 444 965 718 780 399 1107 1019 1058 498 537 1100 1110 871 1050 946 852 439 660 741 897 735 342 386 665 1015 802 454 1096 331 785 584 803 831 508 895 329 604 1027 613 1027 1097 442 541 683 540 807 649 787 1020 1061 412 967 988 483 1052 566 451 823 858 1128 983 784 904 1054 716 630 653 594 555 900 664 338 316 754 766 543 1028 455 907 385 620 755 846 535 399 1006 635 611 915 312 1105 739 956 1104 741 730 1117 851 787 884 596 993 487 659 380 906 1089 623 584 547 486 381 351 330 677 920 382 1110 1064 1125 980 906 462 1030 372 475 894 653 582 1086 453 568 448 642 557 1080 879 572 851 1112 561 877 788 908 893 976 962 1080 463 623 873 1043 311 469 606 835 348 991 946 969 728 328 546 936 439 340 970 592 805 909 760 452 982 1098 576 665 473 1104 933 754 994 995 689 665 713 890 1069 780 998 1088 408 544 812 999 768 583 855 681 736 1025 376 624 911 756 438 1102 785 845 833 1030 796 335 999 957 441 715 1042 342 890 1118 1010 683 791 379 314 636 403 372 996 292 490 815 529 1110 762 355 537 606 820 1059 692 781 666 844 1043 726 955 339 494 720 536 313 1035 802 630 784 462 572 924 1102 776 622 521 1121 433 689 577 636 541 578 363 480 1103 674 810 486 933 932 437 433 1093 458 1069 493 318 979 597 996 738 1090 925 802 752 534 1096 886 1084 561 1071 726 360 410 784 378 518 676 905 492 610 732 1034 1048 689 569 836 805 381 454 437 979 636 672 845 751 998 760 836 727 1035 320 1020 480 301 936 1144 460 465 451 885 811 868 826 746 801 728 1034 495 510 606 397 798 463 822 973 664 687 864 584 978 915 466 710 317 868 930 827 1084 680 752 407 624 322 1057 479 717 664 677 705 1098 482 362 1050 847 724 396 640 875 768 325 648 619 786 643 403 608 715 873 301 991 1051 359 357 442 990 445 845 1104 590 752 595 1070 1081 1016 1096 707 653 948 648 713 447 1007 717 642 325 888 572 1059 926 441 565 650 451 1094 866 660 956 885 705 408 391 986 383 1036 890 570 704 964 293 512 370 1102 806 876 541 662 864 381 362 400 549 775 783 933 591 735 321 693 549 839 963 775 726 868 578 1003 608 493 1041 939 534 1103 504 595 998 806 437 869 906 884 710 653 512 610 765 754 892 1082 1061 751 677 556 1105 1010 1064 384 521 585 462 1043 733 1106 356 351 1071 844 658 455 778 440 1074 391 823 443 588 584 1077 464 656 821 536 424 827 503 1014 364 510 689 679 468 1076 559 386 1130 576 675 853 372 739 942 961 733 469 828 412 325 504 798 1071 828 415 494 470 623 597 897 1058 722 541 661 341 950 619 829 328 518 726 409 903 598 826 320 395 632 571 1020 1090 929 805 981 607 429 970 527 469 1090 634 393 1038 619 850 927 1022 827 481 1085 717 417 1011 652 666 890 983 709 389 482 967 862 960 737 1052 555 548 646 640 917 453 871 820 597 952 667 735 698 1082 956 738 697 1069 1108 743 617 632 926 771 640 1072 1086 758 574 716 750 816 390 884 755 492 351 557 461 1028 1032 1118 1095 1102 446 486 309 566 720 982 453 331 1103 487 307 783 404 1053 741 980 896 718 543 727 877 1013 428 984 807 1055 760 991 998 435 417 1004 440 724 728 666 845 975 828 599 1032 1041 621 1116 1059 437 812 924 1063 865 643 431 696 955 1089 801 935 680 985 302 623 309 890 682 610 346 483 838 527 522 881 572 1020 662 846 764 512 735 748 325 452 1004 786 712 663 426 395 542 920 447 439 951 300 534 388 907 746 1099 389 307 378 695 1068 464 903 694 482 466 754 312 1011 470 962 552 389 797 977 742 1059 308 319 873 984 929 544 509 374 608 611 1085 778 1077 765 704 671 963 968 1034 692 490 1094 805 901 865 1087 787 371 607 685 519 1021 351 800 1037 1096 1107 578 995 456 1084 1021 950 720 1095 857 382 861 543 684 545 865 896 899 573 711 1001 310 719 661 1114 824 791 503 513 623 1044 982 735 900 1050 762 1055 856 464 885 603 466 450 548 879 1014 706 304 695 838 741 980 755 1019 1099 1133 512 614 642 301 374 507 536 444 1125 785 659 421 888 950 1056 372 1088 1071 852 694 324 1023 550 416 646 668 927 1117 1067 663 944 326 864 572 978 326 1021 455 449 342 608 463 773 760 719 744 926 941 1011 537 880 1010 970 494 1098 855 1038 663 755 832 922 1035 950 507 1119 311 745 1073 1015 972 984 824 899 762 868 465 934 421 526 318 519 1135 477 482 714 1005 1046 1059 416 346 910 1013 960 726 902 916 403 659 1098 1036 421 315 558 357 509 718 1097 1059 719 955 986 611 326 553 905 459 536 1079 871 1043 878 1114 842 1037 882 435 1080 359 499 856 672 844 543 766 634 607 1081 1005 1100 705 945 380 546 945 449 1077 923 611 604 946 744 1103 435 901 1103 665 968 454 789 1033 933 603 386 571 960 526 735 782 964 907 682 969 548 886 862 678 314 765 855 935 697 1110 609 1052 337 343 536 1084 468 568 316 320 750 563 404 373 459 905 605 770 619 383 424 927 917 1017 1099 504 312 1000 696 578 763 381 816 503 317 702 608 522 515 516 904 827 680 501 1024 506 984 690 395 1040 979 954 474 1129 528 600 421 326 438 859 931 524 633 334 534 860 989 578 978 1115 689 515 699 405 498 386 1066 493 1111 446 800 804 647 819 588 1068 455 1035 1050 563 1050 789 586 1043 987 440 1091 645 1115 987 609 690 817 394 369 748 358 340 983 931 291 933 894 979 959 943 611 840 1056 762 1078 802 748 467 376 936 1067 921 326 464 856 637 1127 306 837 328 619 380 427 1043 526 772 947 950 336 447 549 650 706 988 1028 1050 837 715 1012 706 595 849 870 556 504 709 629 945 319 572 473 504 736 750 1083 618 546 833 311 427 596 590 493 948 1068 481 1088 784 805 719 1068 421 356 558 557 566 947 809 331 850 452 834 347 634 999 484 1104 1043 391 562 777 555 1018 915 1044 638 916 481 1049 653 931 614 964 1027 558 990 752 661 1081 511 602 378 952 749 620 353 540 400 896 464 529 1038 900 421 929 462 919 562 601 758 694 810 1037 433 826 614 873 889 898 973 379 302 1066 556 916 1106 927 349 672 723 627 902 830 780 403 808 438 426 947 987 781 1035 550 686 804 441 753 527 652 690 308 905 783 748 979 1090 846 669 825 480 423 754 534 820 370 467 618 1074 678 988 399 1059 633 1101 803 1104 479 680 1043 633 440 975 659 810 459 588 314 422 749 1071 632 334 333 858 844 503 896 406 592 953 658 839 841 344 881 654 316 1068 746 776 691 1030 897 309 600 961 677 975 1108 463 558 384 906 957 403 544 905 321 690 472 1050 1023 597 914 312 917 628 1138 502 440 1061 901 700 490 568 379 577 1127 375 303 798 372 985 1011 732 312 611 372 548 331 307 385 608 445 755 1072 729 465 770 770 963 634 956 505 803 953 721 628 325 771 1029 774 579 865 617 1043 421 1059 912 988 984 652 624 732 755 643 619 1037 495 729 688 630 785 532 320 794 431 851 904 1005 482 944 325 471 364 415 699 1115 1051 393 397 421 555 808 702 366 484 798 528 402 1018 895 749 1051 530 899 510 930 340 792 382 756 996 340 754 747 693 583 578 1065 486 1026 323 1019 579 1008 1061 854 814 1031 580 454 832 1119 362 922 540 781 335 1097 515 1088 1071 974 773 1082 429 724 736 305 985 531 657 649 363 1122 818 1107 490 791 802 772 674 888 729 372 1002 526 851 840 1128 746 904 893 1060 461 578 421 327 691 754 649 787 482 810 396 730 953 506 732 690 1068 1000 1026 1076 1046 570 460 981 766 581 985 400 762 413 949 299 357 548 859 505 739 380 957 569 975 508 301 925 896 504 1017 434 841 804 594 573 1039 970 505 839 871 940 544 327 1063 992 312 730 689 1105 490 525 484 368 832 552 554 587 857 603 621 446 1027 706 709 1053 380 642 742 1008 1117 775 728 853 567 1049 997 563 1052 553 336 763 497 445 920 1090 550 684 1106 1056 991 630 626 453 1043 886 1040 1005 504 536 611 462 422 1059 1041 706 776 922 818 497 896 481 342 936 400 385 420 612 618 603 404 884 341 1088 858 398 1110 1125 477 770 636 786 855 867 758 831 1101 973 486 1088 1133 471 756 769 902 441 608 465 765 1021 876 1057 1019 894 720 1025 371 922 340 535 1014 573 490 413 400 681 427 558 681 851 773 467 815 1080 832 649 797 925 869 578 1058 993 743 728 1080 395 664 733 529 1071 874 879 964 779 877 416 533 975 608 761 328 582 873 674 457 1112 778 449 582 1080 1084 736 400 452 367 1107 817 361 364 1108 492 490 441 437 484 1072 746 430 905 523 445 400 863 996 463 760 473 569 916 887 599 342 650 1103 889 508 1129 376 773 872 331 895 454 533 1065 963 546 592 632 1080 394 1117 1006 953 1101 726 586 605 982 365 891 359 699 974 1107 945 438 724 886 396 778 1001 623 321 1112 796 310 825 631 651 637 465 732 698 721 446 868 448 698 934 645 666 824 875 1028 1079 807 420 1110 392 828 933 894 617 1002 806 988 1090 572 862 696 775 346 494 695 554 1117 861 945 464 750 924 551 539 778 721 779 1095 416 1002 545 494 1092 559 1132 1061 874 656 373 1117 790 909 354 751 840 650 496 763 849 1019 1096 771 1058 711 634 329 1086 1049 927 830 1008 640 574 1069 379 582 518 361 691 437 324 923 785 966 542 497 441 764 413 409 939 828 443 465 570 803 965 755 689 917 1105 356 976 968 815 1070 744 347 1078 702 866 1113 966 472 862 481 521 335 1141 387 520 539 933 833 818 1053 528 694 441 778 980 705 900 945 1122 1009 414 703 992 686 782 365 918 780 475 884 392 1100 855 1070 903 940 612 755 767 668 728 570 983 460 693 343 1058 777 1060 664 733 524 610 802 730 795 820 1072 590 526 1037 499 557 567 534 622 721 835 526 640 715 491 850 1106 831 410 316 653 419 447 331 585 415 1045 768 403 745 668 514 343 903 479 311 621 620 821 362 960 796 448 723 710 314 1014 1094 677 856 584 898 1084 599 421 612 1046 683 350 716 343 787 696 884 1093 813 996 824 799 652 1107 1080 322 1035 599 519 721 963 839 453 395 1099 895 956 412 515 731 855 639 852 921 1041 644 914 663 607 724 571 932 859 889 455 985 436 365 320 1018 586 926 371 895 833 662 424 736 940 825 861 624 801 329 400 428 795 592 1103 709 839 1092 523 315 811 1088 750 735 459 799 701 1053 331 781 983 674 908 291 668 607 1051 1085 904 834 963 312 960 820 923 778 805 596 1013 693 567 684 366 754 890 380 334 325 342 345 1068 446 721 708 800 906 771 799 676 836 824 601 793 892 911 861 601 971 530 596 462 348 529 460 572 769 820 776 698 921 1103 1101 683 1066 574 713 1053 648 601 1126 813 996 549 797 821 904 366 559 847 701 979 559 652 1090 766 328 975 329 749 728 737 976 636 714 734 916 419 1070 470 549 625 848 766 636 363 824 1007 564 687 1107 791 1098 321 362 821 1079 460 906 827 1047 669 522 630 1037 698 684 1063 459 911 731 1015 448 1076 396 389 480 555 904 303 849 553 496 929 409 482 1033 318 525 451 750 444 599 392 671 561 559 805 1084 472 369 933 964 838 470 837 578 580 468 1045 1038 674 685 579 330 594 1034 941 486 935 308 407 420 1086 436 839 325 452 665 837 615 757 645 483 556 1070 1005 816 615 629 730 707 1034 748 706 588 432 723 687 690 776 358 344 909 983 700 1122 1017 1049 887 1052 357 979 769 900 691 643 536 465 1110 426 612 682 786 426 775 841 1096 814 595 450 535 907 1078 687 706 927 692 944 358 763 1077 792 687 835 993 954 870 347 609 690 499 313 575 476 456 1108 978 777 441 922 759 349 1126 429 739 446 786 1008 1082 737 343 696 685 871 406 873 547 449 945 915 437 871 753 1037 731 1080 648 493 333 580 447 572 875 529 475 648 706 698 337 685 456 607 1031 491 1055 954 990 354 884 510 567 984 914 435 951 1049 995 636 402 541 974 729 1019 1004 1036 941 1073 1023 931 665 637 1049 874 480 533 934 971 572 321 582 404 469 753 994 802 367 1085 554 477 726 692 320 544 857 1020 572 917 516 308 449 332 1098 386 906 771 542 1073 734 415 758 767 896 592 496 1039 356 950 1009 1082 700 580 1085 812 867 755 754 611 307 485 1088 360 680 934 610 842 891 520 986 1055 1048 1036 506 1003 323 338 487 1026 363 576 734 352 972 530 954 861 468 1049 365 477 630 379 676 766 964 641 543 1012 1102 565 667 900 835 1045 804 404 507 454 741 693 706 714 325 462 964 1096 831 349 1032 1056 997 601 314 538 708 485 997 753 593 526 487 395 704 1109 900 664 858 1070 848 301 1003 335 1022 1063 546 945 490 843 408 489 909 400 433 1112 761 314 1088 800 1027 734 357 653 902 320 673 1051 436 652 503 328 1098 385 748 1127 391 789 830 782 548 454 964 513 425 1047 905 891 657 904 352 456 509 720 628 918 540 1063 865 407 1058 504 639 433 1073 429 893 1011 874 739 510 1046 866 580 1116 649 944 312 1126 536 982 937 587 1079 1037 548 1095 1041 542 493 994 749 1063 496 404 929 754 782 652 439 912 1102 582 365 604 463 546 966 442 448 321 1023 1116 318 733 754 373 1056 986 348 657 885 341 824 859 1086 342 918 793 827 418 1080 523 839 963 694 1082 584 1060 762 605 552 554 853 808 790 868 694 1087 678 835 990 697 481 495 1012 868 1124 772 1068 738 860 853 717 875 374 312 742 1017 1044 841 330 897 749 753 524 568 937 537 696 783 804 665 507 673 947 867 1017 565 300 917 933 772 625 370 919 811 743 744 1025 1057 696 991 315 610 1064 855 637 344 521 640 742 819 564 811 491 737 421 949 713 541 631 804 355 601 838 1059 882 692 960 940 699 602 930 940 880 651 430 432 317 382 934 881 349 325 407 371 531 847 989 831 500 719 834 493 618 815 829 1019 768 911 820 1058 622 402 779 999 330 1019 1072 1117 903 983 774 712 676 450 1019 315 350 755 364 956 520 576 349 952 424 523 616 480 512 1107 466 586 880 551 764 963 515 1018 886 660 1034 790 608 641 515 630 869 1115 1086 388 499 962 391 635 895 616 787 327 830 567 958 648 540 556 1077 596 547 422 335 1000 778 484 327 578 681 861 906 815 636 773 767 503 497 584 550 594 1095 994 503 808 1012 298 446 696 367 596 873 611 648 699 676 369 976 354 923 594 515 601 594 365 806 758 1022 1002 479 803 377 901 679 345 587 554 922 617 506 680 340 938 525 945 896 669 555 1117 1046 429 1079 407 1048 458 777 944 874 889 828 952 890 795 631 665 444 1083 714 1029 1105 525 873 1126 567 1080 707 564 612 501 1093 582 665 799 679 939 634 784 1003 1053 1105 417 907 655 529 1025 595 1126 641 312 329 1059 872 1016 606 338 321 816 885 1068 475 321 1023 439 362 633 957 395 367 736 856 646 318 659 1025 753 646 1082 841 893 756 1071 926 939 939 791 1035 1084 485 912 556 937 316 793 385 964 961 758 892 1040 863 876 672 1031 685 400 335 749 1122 789 505 1116 499 831 393 641 323 483 372 324 1140 441 690 560 854 512 681 448 425 514 960 928 811 945 779 315 362 456 1088 955 1024 928 722 629 316 1011 559 701 660 357 898 754 805 998 302 463 998 470 578 705 929 391 488 542 817 600 492 1108 1086 974 639 547 730 975 533 1078 808 434 934 978 1111 1006 859 669 466 383 376 1072 771 689 1100 998 1067 304 837 402 1049 528 1105 805 906 556 1117 751 738 1013 838 876 973 830 406 884 981 916 876 891 309 1006 806 954 581 550 590 327 515 731 987 487 994 859 1013 1114 1004 625 493 766 368 830 606 320 442 443 1119 866 349 699 518 676 363 830 612 575 791 1032 410 865 903 506 909 903 933 409 811 836 1012 803 317 448 393 1060 699 1083 806 889 337 1003 549 1094 737 1022 856 686 830 463 915 486 481 950 683 769 744 608 341 1025 478 415 835 741 969 1068 328 455 631 812 976 614 872 1114 746 1009 696 552 809 924 674 913 681 843 987 706 656 946 833 881 983 678 1015 1013 957 318 362 594 761 423 607 641 900 707 646 530 962 1069 1112 441 505 586 616 658 339 975 900 954 594 354 1056 428 620 1084 940 559 361 1002 1021 839 485 824 970 1014 434 932 772 561 807 629 779 895 1007 1112 789 1045 896 672 849 760 880 709 460 1126 372 717 717 845 307 520 425 1013 776 350 338 606 615 397 1098 918 404 586 1037 1000 303 847 826 1029 339 908 358 1086 1025 434 318 431 481 702 573 421 671 936 339 1100 637 495 594 443 512 754 993 1072 1005 1105 689 916 1108 974 455 859 625 1044 1058 1000 1014 546 740 708 576 1010 588 366 784 912 466 1050 919 450 762 719 869 1020 844 749 469 624 948 783 318 444 571 862 875 312 951 694 939 630 456 409 821 866 947 555 1001 1109 807 463 605 529 546 461 517 639 804 1036 1112 632 730 467 530 919 813 425 319 975 1070 991 325 333 1049 821 846 1053 531 821 795 560 686 330 1095 908 669 650 480 841 686 640 985 1051 740 460 809 1096 817 1105 697 567 318 646 383 580 966 368 765 963 699 797 968 373 612 710 787 933 1069 478 1126 604 759 518 820 344 301 535 310 512 473 1062 1071 1079 776 852 353 438 1126 1077 599 912 637 998 1064 470 319 559 311 353 520 593 639 544 830 611 393 802 806 606 625 445 1090 336 1013 438 889 529 638 393 733 389 472 868 600 1112 983 737 734 727 832 1072 746 940 874 962 732 557 710 936 621 788 829 469 340 570 547 406 1045 1021 1047 812 333 684 917 1045 1055 310 1124 354 677 823 454 324 578 783 328 716 642 800 338 527 402 1048 412 829 355 522 332 520 791 999 1090 976 569 334 512 511 1023 757 608 1086 650 689 562 791 806 517 1035 1068 854 886 762 708 1024 659 939 1106 899 786 1001 385 733 317 646 652 800 805 440 313 633 431 319 1003 1120 613 790 998 967 909 1001 682 607 775 352 456 1030 759 581 888 468 916 951 453 618 755 651 1012 860 1035 489 848 842 698 867 745 674 947 976 1067 1054 875 435 1090 547 400 620 914 1029 755 448 816 805 960 958 1005 672 715 518 336 961 913 925 583 640 877 406 640 480 726 782 560 1087 645 841 749 1104 696 304 612 584 370 509 617 771 545 947 829 409 762 1005 687 942 1045 888 331 497 1128 761 305 400 940 361 895 492 682 1005 395 415 807 482 804 778 916 830 312 865 870 853 416 724 825 1071 323 986 546 1008 560 418 312 940 391 919 833 614 341 914 1069 1031 895 598 964 592 1123 1090 371 817 483 829 627 812 839 939 429 422 863 500 808 749 365 492 871 905 1097 416 332 855 851 809 1002 783 967 894 702 710 1028 985 328 306 996 1082 650 499 326 567 354 692 844 720 842 931 475 910 726 536 946 574 945 348 806 407 845 814 564 723 358 910 819 798 589 474 692 395 616 303 450 653 598 844 1103 701 670 347 741 358 602 807 854 401 347 375 1029 744 932 939 1045 661 939 358 601 383 310 956 1014 755 897 1034 348 498 412 377 947 1127 572 868 764 674 475 493 836 824 964 667 695 632 843 935 323 318 515 328 333 448 555 1112 523 474 747 657 700 866 558 499 342 1001 1057 813 603 1127 373 635 902 877 409 646 798 758 584 623 923 1048 583 1036 1103 841 767 701 877 1116 582 597 391 807 674 641 595 1003 641 1038 961 992 408 895 636 813 715 615 794 997 807 545 392 990 554 665 990 301 667 449 907 697 1032 446 1006 1058 311 499 681 875 773 444 1106 769 675 907 997 550 799 895 514 914 890 827 546 881 592 406 579 1096 358 857 779 957 1122 715 480 328 347 390 669 611 838 769 1109 939 455 715 336 1086 575 549 820 711 675 1046 381 1117 815 507 1104 796 874 952 729 423 634 927 585 530 499 827 899 876 921 773 600 928 748 641 1004 674 899 347 829 330 629 339 489 512 1127 408 441 930 569 533 682 471 536 513 909 321 304 362 549 456 531 497 953 883 628 654 1078 614 1057 919 609 514 919 1080 401 553 1042 888 825 1032 889 735 1037 772 779 944 318 1064 310 381 613 712 875 865 978 1101 1107 868 796 546 680 899 999 943 505 831 773 696 561 699 589 433 757 628 1094 798 742 711 611 656 489 742 861 765 765 303 853 842 1059 498 373 1123 587 978 1003 938 969 521 1111 863 1007 526 774 1066 826 502 686 1029 503 690 658 480 920 747 500 440 441 373 584 893 675 680 373 989 521 1074 912 705 929 528 926 409 804 978 468 378 332 313 957 870 394 568 962 609 858 739 1041 1011 712 584 878 435 471 1043 485 1127 732 383 693 938 575 673 922 735 563 1107 412 647 447 398 996 1018 301 943 954 362 517 799 485 456 927 926 421 364 556 665 943 1072 515 1064 884 1126 635 988 993 855 347 819 419 325 967 340 619 605 864 943 342 814 887 302 554 971 1037 402 875 393 832 647 627 586 727 879 806 908 603 1073 1110 511 1110 634 790 772 505 818 819 1094 429 982 343 955 436 404 787 998 781 495 470 477 505 338 1050 742 649 343 1027 445 376 799 1049 838 905 576 977 359 1043 337 315 707 531 858 827 428 961 813 847 314 1008 1003 795 650 484 919 379 319 412 933 761 513 761 856 676 646 959 941 661 923 835 382 697 849 508 581 604 983 579 328 764 995 454 975 1105 370 1099 656 967 321 920 813 592 1103 579 1042 866 423 669 367 776 741 573 971 487 620 666 966 444 1089 707 320 564 629 692 599 971 675 829 826 1022 983 526 548 691 967 1029 894 716 503 837 540 957 318 828 847 715 403 585 1026 697 822 874 889 732 841 531 1082 1062 421 689 541 933 729 1123 1058 466 959 645 1033 506 1064 968 1095 366 942 651 955 575 577 528 398 385 376 653 607 674 767 392 970 470 1057 455 541 734 479 958 701 856 407 1078 753 729 428 457 744 652 966 961 537 946 489 421 921 1031 480 674 991 1009 551 589 949 916 1092 1107 856 534 398 950 959 379 855 368 310 695 890 1009 850 319 892 985 711 404 961 855 482 652 588 473 736 1059 739 1014 1019 1118 521 1026 867 560 362 418 869 1076 309 1104 801 668 642 387 916 649 920 727 690 761 585 710 1104 1073 389 531 576 1042 499 648 695 871 950 841 383 828 355 980 969 486 1072 608 354 451 1085 615 1033 949 924 482 1031 974 967 607 553 738 766 1111 1024 928 841 1072 552 872 1004 1068 598 821 1056 580 505 891 1141 487 383 384 1044 766 422 789 333 583 996 897 975 407 406 1119 1066 787 1102 922 609 324 983 642 992 601 393 456 466 429 632 786 764 1059 784 1050 712 460 322 988 1010 289 544 1037 984 712 495 439 921 904 768 640 1105 970 1043 1092 1054 792 328 464 601 419 394 887 591 731 603 459 339 521 832 760 782 368 600 429 741 358 533 830 514 650 727 813 540 1053 529 704 656 911 843 1108 915 873 639 599 333 505 1005 432 1044 374 445 754 888 827 481 907 307 758 321 511 385 1057 729 931 408 908 475 725 911 1075 441 458 1070 601 929 895 780 421 557 1103 934 989 676 915 566 782 503 1022 632 834 606 1011 355 344 466 938 610 1038 1042 873 616 908 529 353 1016 958 427 939 321 493 836 675 999 895 471 443 684 974 949 309 468 340 960 1087 775 983 717 523 1030 385 574 479 914 820 546 653 975 820 498 890 976 920 707 957 317 739 1111 445 1114 687 882 469 743 950 703 1094 900 424 617 533 472 452 721 600 301 701 656 347 749 1026 334 433 510 695 459 517 790 953 317 817 1050 311 576 602 569 790 416 598 649 377 456 533 549 543 707 340 664 744 540 828 453 822 1113 495 803 344 615 738 841 520 1092 639 564 305 690 337 1065 399 846 863 857 333 328 349 780 607 574 693 760 342 570 659 682 787 1077 988 971 391 948 457 335 684 826 532 773 965 857 977 962 827 946 1057 974 1049 733 527 596 706 808 310 533 437 1087 803 374 622 626 723 738 960 1009 499 937 1081 1003 1108 979 404 497 968 785 526 498 996 540 744 1083 447 330 522 437 365 741 532 681 1103 775 946 1029 889 381 722 824 1069 371 916 676 1025 516 907 956 665 1055 997 1004 695 1086 561 1010 1053 850 932 326 555 888 675 810 420 995 890 398 454 628 1082 361 667 516 591 635 902 809 983 974 563 994 901 364 663 836 935 526 855 719 452 1059 631 808 619 1091 930 428 511 589 581 665 434 550 400 335 638 504 1119 737 782 877 573 708 375 612 386 940 319 863 420 769 1056 625 406 569 847 1027 708 387 314 582 803 393 666 679 1023 1051 989 413 899 354 858 797 499 371 654 978 719 1025 908 919 519 628 1001 338 484 519 705 681 769 697 716 1074 519 1119 715 599 527 521 850 557 650 860 539 1120 1094 834 869 585 762 624 1078 304 1056 373 1033 782 982 869 745 661 750 1013 1122 504 634 553 314 481 513 665 1076 1095 731 386 930 702 435 703 667 954 452 682 525 305 942 571 1007 344 893 671 984 1041 485 1039 704 912 1122 871 941 387 1021 1038 390 1100 418 546 625 328 321 415 525 1072 629 1002 585 866 328 1061 737 420 601 846 1125 1077 442 974 496 824 385 721 535 705 468 1111 710 1124 917 324 337 1068 422 389 682 659 846 960 1016 715 656 1020 1006 839 437 936 345 807 406 583 468 474 941 899 704 816 587 1039 853 788 434 706 803 605 798 344 393 464 493 508 860 928 448 403 390 899 494 880 825 1088 488 602 1050 954 717 752 674 567 677 524 672 937 1126 1008 1104 1010 1046 966 512 1044 971 1033 1080 712 715 313 957 853 1110 662 634 676 1036 663 627 385 1003 806 833 405 721 1091 604 909 1021 645 534 468 387 459 873 757 880 454 477 929 940 696 631 445 815 1076 832 997 507 353 675 523 519 755 715 557 925 846 577 831 905 926 375 689 1055 835 1002 677 658 734 850 528 613 568 379 876 651 1040 552 1007 1053 572 303 378 984 696 607 601 680 736 1073 399 451 766 1013 955 329 918 729 476 390 470 617 471 693 849 466 591 630 412 319 366 653 818 739 767 845 358 565 669 549 330 402 843 570 1051 714 544 727 759 843 1115 880 525 771 732 1023 813 473 1123 722 1054 646 1042 479 623 1117 902 712 1027 331 615 600 526 963 490 1107 792 1038 581 569 1040 885 588 893 611 734 500 408 552 454 422 595 1068 729 483 606 513 638 1094 399 444 308 1064 544 729 959 940 838 635 906 780 583 559 1037 457 696 976 308 528 718 1063 659 995 391 1129 1060 647 1004 392 480 938 498 957 621 978 1047 458 533 1047 1005 632 1032 644 790 1026 630 664 388 931 390 310 536 722 868 724 508 447 621 592 1027 878 965 624 428 786 449 453 1085 633 625 572 330 967 325 1080 901 853 1058 1125 565 893 941 1022 879 943 335 832 672 441 508 916 318 694 561 1085 677 907 734 380 703 681 680 883 824 765 867 302 996 685 629 480 845 917 1011 577 784 754 1049 777 827 549 903 398 476 403 824 1121 832 884 766 922 470 561 866 502 899 589 928 678 440 343 454 312 540 393 941 957 1044 338 599 644 491 619 495 472 1046 612 581 909 316 994 498 818 720 307 415 792 365 1116 721 963 982 421 900 762 920 619 1053 961 1020 679 813 697 335 992 1083 961 1039 1056 570 487 1058 712 704 1097 1085 884 315 545 630 923 828 490 367 323 687 577 1112 502 1050 395 1015 644 830 364 403 581 593 680 995 325 702 936 402 1093 369 782 798 912 375 634 956 1005 765 587 712 885 805 845 787 1056 977 632 607 445 1119 792 551 880 452 773 337 866 360 372 423 953 520 398 741 603 840 645 339 901 402 789 313 652 446 660 1111 897 675 630 798 805 367 844 556 975 1108 998 422 591 594 666 774 329 839 327 411 444 902 335 1017 448 785 417 539 377 528 531 855 940 970 897 759 980 568 638 1023 1100 633 566 1002 476 914 757 995 647 977 951 743 1024 996 1058 467 693 517 904 1069 1052 675 517 506 653 890 510 526 686 822 533 491 766 1077 314 915 877 641 454 321 348 387 650 607 588 552 697 1057 990 573 720 367 861 674 848 620 451 308 467 584 474 944 960 1036 329 901 739 454 448 325 946 1008 656 915 849 578 933 899 740 941 404 1078 436 305 920 1086 314 401 921 681 381 837 782 486 385 1053 952 867 556 516 990 931 451 319 530 717 884 534 939 1025 558 432 406 620 560 670 735 1063 357 634 686 779 386 465 434 1069 804 336 634 424 359 667 751 758 1076 567 432 1087 417 773 383 882 684 687 726 754 768 439 340 623 652 885 611 839 784 576 333 1113 472 490 700 476 484 1102 327 960 800 1075 309 422 815 499 469 1072 389 799 1121 1082 782 674 354 1070 959 898 451 833 548 338 362 371 301 931 942 718 421 560 809 1093 947 568 1042 422 617 511 452 786 949 422 460 328 1060 419 1032 1089 907 1005 323 626 1053 657 597 950 613 1045 616 517 940 753 1009 698 785 333 945 382 379 542 573 676 502 684 426 769 562 946 886 606 741 646 625 1051 997 573 312 742 853 783 393 1090 450 757 349 822 863 826 999 1103 841 373 1048 1013 996 900 733 832 878 587 517 1026 508 904 443 358 853 1006 472 856 1054 368 329 873 380 557 459 493 548 827 757 1005 968 941 301 1066 370 914 706 861 891 313 663 368 382 925 408 1066 981 605 470 623 842 1030 821 1033 961 523 637 585 736 960 825 945 804 717 475 589 462 584 655 1008 1036 1091 975 717 459 481 465 709 329 501 622 844 677 1026 352 381 627 389 435 775 340 318 685 1001 896 1112 947 890 351 573 369 527 474 755 670 795 840 783 344 476 602 859 385 788 940 543 1126 1015 399 709 588 714 841 618 1059 443 547 1066 1026 682 579 847 616 463 709 657 1065 759 351 688 338 1104 498 801 379 433 697 1091 946 448 749 334 1074 945 1058 665 956 983 879 774 338 445 350 410 368 437 372 562 811 496 1041 788 793 935 522 700 866 700 734 954 1027 1011 1035 1026 1107 854 1080 472 874 650 716 616 316 850 924 1020 939 710 457 901 906 366 839 957 930 822 933 852 988 885 356 318 1086 873 1067 1091 548 754 371 529 328 1062 1082 653 376 1010 942 1053 508 784 838 972 838 1037 676 1093 509 831 861 681 1030 291 684 1014 973 1122 796 727 611 333 865 315 1077 712 314 742 423 314 740 749 949 933 444 739 943 528 1041 494 552 496 978 964 560 540 331 1064 1035 768 789 863 1067 499 448 1024 713 505 598 1017 943 1062 575 315 637 908 626 405 340 314 340 377 504 508 524 949 1041 693 659 1049 980 914 719 426 1012 459 495 978 602 647 994 851 585 883 530 645 1124 745 810 808 872 1001 724 960 526 1067 887 468 722 1081 753 948 672 335 872 573 1058 911 557 759 933 947 763 1117 731 782 966 830 418 401 742 1045 892 894 657 573 877 439 755 951 726 483 389 1101 888 840 1061 920 957 486 1000 898 995 977 771 332 448 476 904 777 939 806 689 741 608 420 588 525 346 773 1037 294 1003 452 846 804 484 378 942 1092 838 1024 698 392 1004 705 476 490 969 833 819 880 770 501 393 931 1114 920 434 331 1066 752 949 380 426 909 369 342 853 1061 1038 858 989 1089 679 349 334 492 942 294 752 499 460 865 479 875 1094 879 329 647 1023 585 412 338 424 1023 325 815 306 1066 399 457 1043 463 616 798 568 623 881 494 592 941 404 897 713 1053 928 406 845 339 855 1015 655 1016 750 1107 401 615 385 446 893 354 491 912 741 510 708 849 965 698 1082 822 439 340 966 480 1074 444 503 520 932 624 617 822 668 946 989 937 798 466 360 753 903 522 462 374 686 951 487 538 966 918 445 973 479 636 830 331 466 594 677 374 1028 528 816 1105 693 971 1031 862 896 646 1005 366 632 782 576 643 554 580 804 488 874 468 510 585 1089 829 1102 961 353 1057 1141 454 904 845 904 1014 1116 620 592 518 676 306 738 686 562 370 705 745 531 376 471 725 997 748 1088 702 876 1022 596 489 364 918 643 843 435 857 702 460 500 1035 497 899 347 895 348 881 448 464 1017 399 1046 342 1010 967 671 1060 480 604 1013 1009 797 621 1004 948 514 351 313 968 358 673 962 469 998 447 678 496 726 468 931 926 691 1051 318 1071 916 836 417 808 567 651 671 834 822 532 311 934 310 721 717 1100 474 929 534 893 357 1079 369 383 927 710 762 560 412 622 402 870 792 447 618 723 533 825 677 773 874 732 808 1098 446 392 591 552 1100 801 470 457 901 593 928 525 727 733 713 374 478 715 637 414 1050 1114 743 377 858 903 618 1105 598 827 968 576 564 1075 704 1119 714 909 963 828 759 668 350 472 797 957 1021 697 568 780 1086 530 378 821 1037 799 745 657 739 909 1094 828 1054 698 581 962 794 883 320 920 825 384 578 691 762 586 1068 300 863 318 660 864 485 771 747 884 1079 977 404 354 673 642 467 733 963 873 911 662 317 456 655 979 1084 697 599 470 549 980 698 803 837 982 545 1007 791 652 523 971 555 653 429 540 391 976 949 928 339 768 1007 1049 643 494 1070 575 662 918 737 1000 642 560 663 420 956 342 996 751 468 549 610 1025 829 397 682 1103 601 1127 829 974 303 531 632 935 551 490 912 818 555 836 617 449 975 635 857 449 893 873 343 377 880 350 792 525 746 1093 793 733 471 818 395 1060 718 511 376 826 763 657 1077 323 683 948 487 574 937 822 1024 762 768 1001 403 1121 1075 531 319 640 531 1103 897 405 1100 1101 1011 631 590 832 867 550 467 781 762 760 794 1096 1010 524 740 645 658 993 453 664 480 1120 852 805 606 946 656 350 827 592 363 603 941 621 353 852 996 905 485 896 985 525 467 317 1124 639 888 1103 910 312 559 868 526 619 368 462 759 643 1044 899 1056 480 731 966 568 886 711 931 1050 609 371 675 1038 720 499 614 873 622 321 883 944 1064 845 507 415 697 898 664 1000 581 932 981 816 1108 948 353 533 1073 638 515 1099 782 471 388 369 419 366 819 530 348 1102 1053 811 609 347 376 363 529 1062 691 641 537 677 584 1108 447 790 905 1048 870 492 373 402 372 485 414 808 711 896 340 436 700 379 879 788 612 782 376 850 336 440 600 1102 608 612 779 1033 879 732 685 451 802 409 688 605 1022 730 568 1096 756 930 772 831 627 788 504 670 1127 563 1113 584 974 668 401 313 557 569 344 628 571 928 461 707 833 676 470 484 899 512 946 1019 835 966 770 698 627 513 767 586 973 319 650 1081 325 994 515 648 620 341 739 674 519 762 876 689 476 586 1065 911 570 303 970 627 711 1001 617 932 646 753 737 977 784 393 1073 836 1111 941 958 778 446 373 757 933 325 889 1037 584 997 1090 679 1014 397 713 1123 440 513 446 600 466 1086 1100 562 511 363 740 1105 305 503 492 558 656 642 1109 482 997 410 1122 1016 585 991 971 692 1099 929 622 335 594 680 365 778 848 1056 576 590 598 759 1099 492 411 866 533 737 964 602 882 914 801 695 770 413 1059 950 735 586 914 901 1050 552 613 357 679 916 548 945 584 951 573 999 348 314 851 949 435 408 631 900 926 644 1102 1001 1014 293 709 799 837 713 1103 617 700 685 878 906 368 442 385 714 515 473 1040 1047 1031 761 863 657 609 935 582 646 582 1014 435 994 743 554 625 959 579 325 1058 976 1083 342 603 657 468 729 1108 721 865 623 971 1057 693 1102 579 693 1088 534 423 738 1005 741 719 759 441 334 892 398 367 445 1022 852 474 1065 1092 472 1106 1056 885 504 472 768 807 625 961 437 658 922 527 744 742 515 798 558 877 504 731 309 335 942 532 1126 642 977 933 961 411 843 923 824 623 958 556 334 1082 413 883 678 818 602 757 791 337 880 558 586 457 638 1121 1036 325 652 352 308 673 422 940 847 730 345 951 428 856 551 661 470 822 792 967 450 635 330 665 841 914 890 1015 1083 384 1107 838 1107 808 590 946 349 365 842 316 535 776 1095 594 1001 352 353 482 1053 484 1089 1011 985 1069 883 913 820 458 893 604 321 463 863 938 987 817 868 730 803 595 954 397 902 904 762 651 906 770 1012 673 996 840 854 488 717 889 469 1010 655 423 666 959 415 915 892 455 499 992 453 1008 772 675 883 566 823 427 644 303 1115 680 1069 753 1027 733 406 867 1053 976 836 648 421 596 716 556 1076 1047 1004 536 470 491 403 998 779 800 816 1045 613 874 1103 691 955 1030 1037 705 595 844 571 397 1091 736 616 576 969 816 375 486 781 556 358 675 1118 841 638 622 567 1033 730 582 804 577 708 1047 315 472 839 816 552 556 744 840 782 419 574 411 604 1122 970 960 971 613 1100 682 1040 971 655 413 1117 410 574 492 524 1010 773 699 528 601 605 320 806 521 363 1001 582 731 1068 307 584 922 544 839 866 913 908 519 647 555 609 933 956 498 482 710 363 620 769 933 875 1119 825 582 1124 430 920 1039 950 393 365 761 333 932 418 384 509 715 821 595 1044 576 413 359 419 544 939 894 390 737 677 405 696 382 1083 673 700 750 940 645 1025 811 772 527 636 568 835 450 810 609 497 1018 860 485 347 1021 606 731 811 350 400 683 1122 767 643 714 817 676 855 698 707 891 760 784 1003 760 985 319 464 324 983 1119 913 866 797 419 1038 960 498 634 691 943 773 1070 558 803 430 392 313 666 708 512 354 637 324 475 381 1061 847 1113 906 563 812 399 542 914 481 514 406 701 645 1122 844 674 355 419 661 349 734 999 1127 850 581 1085 792 950 551 334 989 1098 414 883 572 1018 970 597 926 790 496 608 997 320 1045 329 503 892 972 808 1033 614 796 427 749 789 993 1032 1084 517 1061 663 791 605 596 347 410 1092 1082 837 903 1086 966 1044 1040 472 859 938 890 592 380 517 743 475 948 984 340 1111 737 1022 704 391 937 685 750 642 1101 697 440 446 1049 483 653 530 463 839 451 535 370 538 445 627 777 850 805 349 702 593 364 842 1020 1012 851 634 892 471 705 613 921 805 382 1020 317 342 395 1115 615 1102 851 512 327 847 449 335 373 553 395 703 355 547 325 318 968 880 821 776 324 1075 765 1082 476 892 445 1018 761 1105 560 598 342 706 310 617 565 789 309 582 491 305 568 1040 533 767 769 1098 1046 734 413 428 598 1094 1010 436 707 627 619 378 432 1066 357 530 907 1060 965 891 501 916 519 319 683 327 967 785 827 988 880 775 1034 353 607 646 355 321 1117 368 315 485 891 812 790 790 653 409 371 925 871 730 690 852 1011 755 438 627 934 879 603 1089 782 1028 606 1037 996 693 953 836 603 614 863 779 978 470 889 1008 926 915 510 773 717 410 789 722 589 944 488 750 935 721 917 375 399 572 983 1005 355 1121 1073 898 775 662 406 949 442 777 362 760 820 865 387 907 1039 586 769 804 983 999 755 893 699 421 433 720 1095 324 703 930 496 700 1128 720 330 1078 388 676 348 381 368 1055 835 325 797 780 1021 808 825 451 649 421 1086 337 310 593 741 855 691 748 357 490 391 793 963 968 624 369 1009 792 950 1007 846 428 593 776 386 313 1092 669 343 919 856 804 421 1019 377 607 553 1007 873 365 1045 744 578 956 390 1126 683 1033 659 799 815 623 340 1075 489 640 1082 461 350 650 867 1082 489 336 763 797 312 396 538 854 361 642 754 404 815 457 1055 530 827 1073 855 585 808 452 936 630 1048 894 1030 521 554 394 1003 699 917 681 468 708 855 368 405 886 955 331 737 485 875 840 898 967 343 971 366 1007 496 951 917 534 700 892 1024 1056 816 304 693 465 687 676 436 1030 770 856 708 340 431 1095 812 409 877 871 382 571 1119 314 399 330 538 791 644 501 973 460 376 1079 1069 491 910 465 856 1091 437 597 837 971 817 990 467 821 628 685 480 512 751 610 1025 589 625 343 857 361 628 514 989 570 1080 399 922 517 896 560 869 868 834 1014 923 614 649 624 827 529 754 890 492 1002 787 741 477 532 1109 431 461 711 907 897 1062 648 1097 852 567 624 1097 651 678 1046 606 442 472 551 853 1045 349 536 480 522 727 364 559 643 857 1108 498 355 604 493 1074 328 1037 608 965 845 736 643 592 970 524 1058 1087 712 807 906 351 927 566 859 404 575 434 1045 768 742 731 380 712 641 790 1017 973 1045 924 677 1082 815 896 463 955 321 804 864 729 1019 727 618 361 639 875 713 409 707 433 486 966 353 1113 809 406 558 387 301 1090 967 651 802 685 595 947 578 1092 504 635 1048 411 571 667 1004 793 399 947 964 760 671 341 335 771 719 928 766 1036 486 967 478 842 933 291 964 1110 607 389 749 1091 696 363 351 554 853 991 786 400 323 849 759 537 745 578 577 862 392 316 607 402 609 951 394 628 546 897 948 1002 1127 1052 441 652 968 624 473 884 723 880 1015 628 603 1100 773 640 957 960 838 495 889 393 813 1034 698 466 890 374 1031 872 921 686 973 336 737 473 945 1112 912 933 546 773 889 678 461 752 686 484 1035 479 1026 1106 839 773 495 891 581 459 1091 991 335 430 790 1042 941 1064 321 742 381 551 645 681 791 740 911 716 1100 932 721 1036 947 604 982 612 1122 860 363 579 964 535 764 798 709 341 309 393 441 1000 619 540 714 891 498 449 811 538 1090 575 620 453 652 409 962 667 1074 472 1003 604 499 663 751 385 991 512 373 860 395 505 447 768 530 1047 881 1103 460 993 605 760 875 890 333 402 882 707 949 565 318 971 1109 438 418 420 870 809 1015 480 827 429 891 809 395 830 986 786 359 904 721 1072 924 801 1035 484 437 913 894 1042 971 799 724 331 464 748 1017 551 1002 545 796 948 483 1068 442 813 888 987 901 839 1093 794 439 756 987 448 506 393 627 688 1005 512 940 381 384 310 890 985 771 996 877 574 915 411 965 328 612 1049 562 1104 932 483 1027 342 981 993 397 1068 878 371 527 786 1085 679 747 725 440 1099 647 910 323 968 1058 722 1100 406 419 366 470 739 916 900 981 777 424 742 310 784 658 475 798 748 777 642 802 626 950 856 511 581 966 365 975 745 602 820 911 595 592 381 683 794 1056 689 1072 327 952 680 1049 359 782 439 908 737 917 474 567 822 355 1000 458 356 941 1023 784 976 950 384 939 959 1104 717 694 386 1089 645 448 303 1109 859 829 1123 754 910 922 1084 735 631 396 543 937 881 327 458 386 429 794 727 794 349 604 774 715 765 757 666 1012 358 1055 682 1007 583 504 614 415 368 539 437 979 1066 595 509 757 668 867 791 577 727 420 332 685 616 783 531 426 925 775 390 1068 965 880 834 923 1066 544 355 610 1095 1114 611 1059 1061 507 367 984 727 424 398 448 451 1051 467 915 802 937 920 952 901 486 954 354 749 1034 874 737 1061 910 745 923 1035 380 1080 666 1059 843 708 660 550 369 949 1046 867 784 1066 521 741 654 677 1032 430 1107 845 1070 1087 392 838 997 589 977 542 1054 582 850 1088 758 546 476 1016 401 679 560 1066 961 806 454 790 434 1080 443 361 688 913 833 472 539 567 1007 969 1002 766 726 524 886 306 1005 1010 462 816 375 600 744 901 514 505 312 1024 749 992 507 334 966 422 302 880 910 328 354 1059 764 719 779 984 417 1083 1078 975 863 1093 963 653 515 504 707 1098 928 387 358 1060 1048 329 759 705 841 993 688 1107 1048 1041 952 923 835 991 855 793 1094 349 1099 856 714 853 431 1076 445 308 722 961 787 829 481 393 432 1003 1020 402 315 692 671 711 789 321 841 568 1072 977 315 825 866 552 958 719 568 806 332 654 629 915 413 1120 789 701 751 871 712 657 774 330 737 839 704 700 922 773 1113 646 737 721 993 484 1015 784 1028 657 589 504 779 583 785 1095 1090 343 349 766 837 1109 508 928 384 508 327 569 1103 372 690 1010 846 795 959 957 760 470 780 1004 515 999 1078 998 697 767 952 1078 601 779 777 581 580 642 394 889 1074 324 972 961 618 740 616 704 916 300 538 577 1033 924 612 764 646 438 669 1077 1034 735 815 961 947 430 1054 1042 457 524 1006 429 874 1027 311 384 379 383 1092 627 457 309 1048 698 948 356 1044 768 812 370 577 561 1012 624 648 706 543 392 1086 491 998 814 650 564 510 790 1082 1013 806 948 932 521 624 574 592 803 551 650 326 1053 1032 803 1068 702 598 585 742 1012 457 821 703 1076 548 1032 992 1110 984 804 395 341 644 693 1126 445 677 717 773 511 1042 961 653 618 615 763 1029 1084 999 666 504 789 804 493 353 1032 308 893 931 929 319 463 477 570 766 734 473 884 396 522 571 1038 621 914 569 789 1036 356 582 429 992 849 456 402 1066 742 327 899 696 1051 432 583 833 527 997 372 878 1036 633 973 955 427 391 1047 427 365 906 756 489 1069 729 728 656 836 642 482 353 468 492 371 332 989 1075 589 493 863 811 895 832 730 710 390 318 919 509 436 708 670 747 776 362 816 554 348 784 607 1092 809 450 409 661 638 954 367 512 890 865 991 402 314 842 629 683 412 334 841 1000 757 984 986 568 1005 1076 491 792 466 544 804 589 436 699 1009 417 731 1089 707 662 1086 470 832 461 1069 640 708 1062 499 339 449 363 873 314 719 346 444 317 840 1026 378 418 401 819 643 861 819 948 484 976 508 803 967 498 401 398 612 1000 996 986 319 469 1089 944 417 580 863 801 700 416 896 431 372 885 1013 339 1037 577 813 594 436 693 975 687 949 786 1030 890 335 308 636 910 688 579 589 734 879 845 1044 307 482 970 1049 337 745 932 1108 423 311 471 1056 1036 701 899 780 807 860 853 928 880 751 463 557 750 751 626 707 1055 516 1124 948 436 718 868 925 644 360 370 583 800 788 302 505 1113 766 623 712 1108 649 1110 797 1082 746 715 961 766 1064 1040 428 607 335 640 360 889 355 619 479 471 980 470 422 1115 521 927 370 953 700 626 861 1086 749 336 1058 1032 369 654 600 330 964 906 362 322 495 688 468 394 603 924 1099 362 311 1009 1086 796 559 525 929 603 1003 574 628 1093 1085 627 1025 358 388 363 635 1107 966 501 808 1045 539 601 939 1100 758 907 559 966 979 763 436 498 1107 356 676 833 432 1040 551 342 433 844 362 566 1043 696 705 754 1005 776 717 976 457 1013 660 830 499 783 700 873 522 702 861 480 352 829 902 354 1010 916 699 987 826 445 404 404 398 1066 730 874 879 1023 658 553 1115 530 792 569 705 858 385 819 731 862 753 568 413 994 315 600 823 878 944 439 358 950 943 353 304 488 635 1049 588 770 556 615 351 302 696 460 816 1106 476 1031 433 443 958 395 635 868 713 318 720 485 474 765 383 988 358 691 1063 303 791 398 1097 946 340 532 857 516 857 1061 620 1043 402 972 632 1108 1034 811 457 709 1010 704 679 646 515 362 559 321 656 349 950 580 1115 798 614 1031 643 512 519 909 866 770 734 711 347 636 738 662 485 780 977 453 616 862 722 974 903 438 799 530 617 1039 1096 1105 862 754 1065 1110 1071 558 314 717 878 472 942 374 996 985 646 748 740 954 360 840 574 383 394 857 1074 799 551 323 861 714 592 658 893 307 716 573 672 795 795 1015 641 850 880 347 709 411 333 915 736 1105 707 1121 648 1109 868 595 407 750 995 392 1125 552 1091 470 770 372 464 655 413 981 483 875 1019 990 549 927 512 400 723 446 778 726 1043 880 495 896 1075 522 781 1016 1020 808 435 1030 629 660 322 937 661 558 679 800 1013 369 972 795 388 690 473 582 975 588 390 528 485 324 708 757 1076 338 679 611 1042 763 366 304 417 514 548 638 609 302 576 936 1111 472 616 766 830 877 550 374 533 564 966 928 776 333 453 424 842 1110 372 685 1044 743 867 925 1036 954 493 505 796 698 670 953 326 1097 877 364 311 632 507 904 1070 903 743 486 511 435 1076 319 849 1002 1055 388 1044 774 1097 641 991 396 619 324 1043 839 778 744 603 406 653 753 779 567 491 357 983 383 316 589 502 1076 863 666 624 734 841 1048 691 738 470 560 816 610 733 564 841 617 773 506 458 1082 707 737 397 615 590 620 803 857 459 771 532 327 371 1097 846 1006 649 992 854 1048 602 878 1029 859 769 787 914 314 1113 1074 446 999 445 404 520 979 454 932 486 586 1095 971 297 779 803 718 727 901 943 1047 515 615 612 1008 1021 542 785 805 589 383 360 435 974 595 370 626 560 366 387 720 849 350 497 870 368 628 932 360 886 721 784 849 434 812 481 423 513 913 922 980 679 864 554 921 852 771 542 434 690 977 849 550 581 657 528 507 887 952 1111 1100 619 1076 747 651 929 842 1084 405 420 649 686 917 632 1093 942 799 1010 412 583 954 687 816 896 1067 956 792 710 497 717 821 772 345 923 362 1091 432 860 404 439 671 453 892 664 315 765 362 894 1009 361 976 1098 759 963 688 752 601 1033 642 939 876 692 1073 319 829 720 694 1041 780 653 1011 1101 670 837 390 463 730 830 619 578 1081 883 927 1058 710 748 955 1080 1086 352 824 544 594 959 811 1009 385 735 568 576 358 662 327 1080 876 446 810 766 306 971 994 576 788 1061 351 742 431 734 876 816 498 1066 417 730 666 938 519 363 765 1008 370 865 447 888 637 343 1023 551 871 610 555 803 988 1036 323 836 852 974 1013 661 610 1016 310 1086 989 998 444 545 926 661 632 486 1014 671 391 307 763 918 504 373 1064 1101 849 818 486 657 655 930 934 346 983 613 815 617 1117 984 458 812 659 785 1018 689 648 869 597 724 468 428 891 675 446 483 710 352 899 911 415 529 776 640 371 1071 1014 951 522 514 396 831 500 960 460 326 504 1035 1100 758 755 711 1076 950 1066 529 893 538 1025 734 434 836 764 486 774 921 656 325 353 856 720 359 397 404 578 689 914 773 578 540 898 516 1000 350 535 765 822 396 888 859 510 691 308 770 676 770 812 453 979 765 1046 742 582 637 949 304 786 1045 1095 877 590 529 1122 461 754 407 1063 857 535 576 484 879 1108 645 609 689 456 960 759 409 474 355 348 494 599 623 654 516 586 567 448 901 767 831 341 1100 405 325 552 1093 829 496 551 545 995 879 344 921 654 895 563 749 910 1094 459 823 490 679 626 1117 1045 1032 543 755 1072 1019 518 799 348 858 836 676 445 762 1082 667 767 897 731 488 952 824 325 965 651 625 1011 316 1087 729 763 334 393 777 454 905 597 524 797 993 929 305 736 695 757 315 412 381 1112 642 497 895 960 532 803 881 451 1036 667 1003 991 729 753 893 612 317 553 925 365 894 458 925 714 580 1133 479 1091 804 773 1105 642 498 1089 383 984 1021 536 861 453 719 954 337 569 347 773 944 615 1110 444 540 746 960 960 444 883 394 413 556 998 290 558 1036 1025 487 387 707 339 380 322 733 1099 712 403 384 869 465 639 995 573 954 549 990 846 1048 734 335 621 597 1131 518 858 898 337 329 1069 937 1104 744 913 866 611 799 794 989 823 438 839 859 586 900 1090 695 705 1086 861 501 854 890 418 1055 837 714 893 929 845 665 563 675 348 523 539 630 797 781 503 509 1031 577 935 855 373 557 336 479 585 920 770 777 425 1061 1010 1082 543 324 499 987 530 682 1015 1081 843 659 1026 914 519 655 804 853 938 980 1103 752 438 393 822 514 592 424 930 690 323 362 934 427 651 1113 819 741 308 455 764 922 377 1044 601 1071 685 662 1000 346 550 491 1019 1115 905 1083 1038 954 751 890 730 707 349 584 882 745 393 708 1025 366 617 395 535 388 407 482 916 339 479 669 607 426 949 1088 771 620 384 1100 958 765 1114 546 471 375 536 1101 398 333 313 909 351 623 893 814 852 672 354 1035 847 351 636 583 982 875 322 916 606 395 906 711 616 807 1011 1027 400 539 387 599 390 330 1025 471 1095 1007 430 385 903 823 542 900 1031 721 825 706 1072 1035 1138 462 646 763 445 411 976 486 753 635 935 805 465 1124 812 571 418 674 942 592 717 899 850 402 1007 786 450 324 596 1081 478 925 1102 1070 793 543 826 724 920 816 821 1035 625 610 474 629 706 740 764 914 1061 327 722 729 500 821 410 733 905 482 1121 869 704 1057 893 863 1007 326 437 745 546 385 997 678 454 1003 757 1106 916 530 614 663 1027 383 571 681 940 410 775 895 834 641 610 420 474 325 889 871 988 546 353 931 592 1119 863 652 643 747 682 387 875 906 489 991 908 1095 731 1002 748 349 718 479 341 1080 455 804 537 1046 1002 830 988 579 364 993 1048 350 936 557 860 334 495 602 1013 1044 416 423 915 837 758 665 377 605 989 929 539 568 815 604 1011 582 939 789 578 350 1098 967 540 1005 893 585 1032 937 561 906 511 523 482 1039 785 620 655 324 351 1105 832 988 408 390 400 888 1070 746 348 753 824 634 671 801 720 1106 912 1101 591 443 570 790 378 468 373 430 1054 370 1052 1080 629 662 417 774 772 919 783 840 900 850 1095 389 655 871 422 921 338 1096 810 936 854 644 597 494 332 1021 790 502 1067 690 1045 872 1033 347 925 584 758 712 982 479 369 1058 327 1078 1116 591 765 546 544 476 574 979 736 990 465 355 935 848 351 811 709 975 1105 463 906 566 508 755 336 657 364 896 966 310 833 338 822 1008 697 337 1115 362 1112 392 640 391 794 474 419 672 882 570 394 336 322 357 468 556 701 381 786 851 688 378 794 535 466 970 303 518 674 457 308 1104 845 468 1046 996 573 963 973 470 534 1069 360 367 456 781 419 723 1081 764 1031 1056 778 960 804 370 591 1116 478 611 819 635 498 538 422 1096 511 355 734 1015 833 371 1107 613 983 1113 937 1057 664 956 1040 580 657 937 588 960 893 330 338 650 1118 697 865 541 398 742 878 445 634 432 476 1125 1101 833 548 659 432 1060 673 479 937 1120 934 632 356 746 1041 944 378 870 784 799 999 1079 419 1122 802 475 1065 524 1007 705 620 1069 913 609 589 712 797 888 1076 1039 976 1103 918 313 550 829 832 1120 1084 489 926 379 544 329 691 333 416 962 559 1112 538 599 469 491 804 1088 540 1101 812 551 331 770 820 1080 681 426 698 591 406 1042 605 489 611 1038 595 579 965 476 661 789 373 505 464 420 525 401 371 478 1088 401 576 377 724 948 1088 515 322 692 681 983 651 812 605 381 598 320 333 1028 899 488 454 997 1074 1004 715 749 1004 330 747 421 438 746 640 752 990 849 996 951 1030 874 362 793 1085 408 807 773 403 1027 743 663 1085 648 1021 465 421 440 425 835 639 726 970 559 677 996 341 681 680 1031 457 814 547 953 519 938 987 409 831 407 745 477 697 1028 738 920 799 455 334 550 1065 553 754 1009 1079 328 765 844 649 599 309 552 615 347 598 350 402 682 1096 704 1019 463 787 947 753 1081 840 740 877 756 966 580 401 406 556 311 412 461 1048 889 381 404 1021 929 881 608 509 483 746 484 653 317 976 303 835 640 1036 535 477 656 1113 1036 575 861 500 556 352 1084 461 738 834 639 1090 1041 483 1116 706 982 666 626 815 1014 837 1058 341 861 1125 559 343 338 1057 995 429 1058 817 635 330 575 952 1123 531 502 993 316 640 816 400 1082 1039 449 975 564 719 985 661 605 1079 921 431 940 813 444 389 680 689 756 813 697 613 795 725 703 451 1042 508 314 808 375 780 882 764 719 883 1097 468 1117 622 380 735 439 681 366 905 741 466 720 726 924 1022 837 653 931 795 568 905 959 560 889 675 1096 548 945 824 1071 1002 905 621 970 735 864 1006 869 512 1027 860 464 717 955 917 1088 709 831 644 643 945 472 873 446 661 421 677 991 312 970 806 695 593 1108 398 418 1096 475 721 936 369 429 553 394 664 749 459 745 610 623 429 953 522 973 714 503 891 720 465 714 1122 365 392 811 374 584 932 1019 830 661 357 742 576 461 394 824 697 600 787 776 1034 631 940 1013 916 593 607 505 360 374 597 673 328 379 1000 473 663 976 1092 425 792 1060 655 312 708 618 300 698 512 748 831 354 553 835 807 1040 1069 714 789 381 877 588 322 642 854 993 677 758 605 439 389 853 386 817 323 343 975 440 810 650 857 660 974 516 760 701 820 392 482 1007 316 883 303 857 834 843 866 1127 903 437 398 973 987 543 570 366 491 964 923 398 691 447 381 930 760 1083 1078 330 1111 852 418 816 364 464 833 1070 863 431 577 530 650 371 1075 490 715 1087 530 829 859 376 505 1116 566 1104 534 805 1033 727 1051 1119 959 1085 321 488 788 893 446 445 1021 764 794 947 575 862 1102 675 871 624 800 883 1006 430 748 309 1034 931 995 867 431 1006 696 720 806 889 512 883 962 685 931 478 465 702 632 509 981 686 1054 644 654 585 347 982 1144 383 306 968 462 349 818 663 518 916 389 510 329 1099 872 331 554 397 411 855 852 432 530 784 1014 724 380 706 1072 898 832 714 1111 503 827 514 484 440 1023 823 1068 1060 1108 1107 466 672 1123 515 421 455 1107 790 562 380 898 496 352 1083 1086 321 301 1072 783 821 1098 957 802 449 775 885 604 945 955 568 435 721 529 547 568 1043 846 800 826 418 802 719 510 510 955 955 816 400 421 540 886 306 671 629 727 424 909 462 789 748 848 338 702 741 724 783 1081 672 831 627 496 824 691 802 1017 722 747 470 1000 1106 754 1069 784 758 1000 473 832 680 1118 974 1100 885 697 1118 918 359 809 645 706 932 634 844 656 1112 1027 562 1005 959 501 732 560 442 363 376 1145 435 912 530 1033 296 306 516 845 643 1017 433 553 400 650 813 305 512 305 653 518 344 745 562 421 493 577 497 796 371 923 787 664 876 1035 748 451 719 720 760 805 429 519 437 910 387 677 996 1033 449 599 465 362 377 710 952 358 903 376 783 376 890 1082 1049 779 761 344 761 355 442 309 321 1006 1071 1044 793 866 493 406 1050 393 511 753 337 768 367 807 839 430 1072 455 684 363 1056 314 476 613 967 567 497 945 786 933 564 571 1019 1049 746 366 531 358 645 875 748 962 466 981 333 465 404 826 496 712 670 900 757 1122 600 784 822 1060 1025 926 891 955 733 1043 793 480 511 624 683 843 951 446 655 574 1098 359 816 736 1044 903 701 809 1124 402 847 644 768 396 401 463 727 927 932 444 617 522 358 1034 396 840 982 692 312 639 627 920 474 359 740 657 637 439 749 413 1046 546 607 988 896 906 1008 981 488 583 850 1075 431 1082 1059 936 385 934 512 581 368 748 623 824 352 529 1008 967 422 840 579 745 913 934 631 1108 640 858 776 847 396 403 851 631 485 1024 1038 827 597 329 1015 965 675 698 675 751 1012 817 929 1107 1049 680 1038 816 691 1028 495 375 674 354 872 433 452 913 1087 344 854 453 1065 1018 349 622 374 1010 1102 983 524 906 589 1001 383 552 1075 1081 1074 763 875 794 676 792 433 1107 650 390 885 829 805 870 420 406 821 584 593 468 769 357 953 1050 742 919 714 748 465 384 507 401 997 614 339 866 864 719 591 574 811 404 1073 953 706 1020 365 516 528 480 697 319 1107 770 665 1012 1063 461 451 910 791 752 825 799 928 613 1068 919 730 460 1093 747 707 693 697 587 564 722 771 456 657 388 415 991 444 936 639 713 334 898 1122 919 941 308 549 577 621 1128 614 516 622 326 704 802 529 493 786 882 975 703 390 1029 808 1112 453 713 536 661 436 471 929 599 616 583 946 1072 357 1048 921 841 317 1066 746 456 1009 997 1061 938 648 966 896 318 918 1004 491 545 878 819 465 893 1073 933 981 697 588 871 343 1112 890 723 835 707 350 686 1067 445 986 767 531 1092 480 927 636 916 611 736 578 967 991 629 449 599 1050 711 794 356 689 433 1097 586 609 308 1082 851 488 475 976 920 383 586 309 302 1117 390 776 863 604 545 549 1045 601 610 485 463 364 632 868 361 1095 692 478 343 665 690 342 481 502 831 864 612 1040 500 605 880 396 1056 937 744 1118 500 745 649 496 338 604 362 368 1081 368 587 819 385 1115 701 801 457 872 777 1052 1114 1073 697 973 401 697 604 364 980 1061 630 1100 335 584 1093 1121 904 1108 409 812 617 1050 834 1015 926 617 912 1053 978 800 720 1116 830 690 1029 646 783 465 742 651 1057 356 338 1082 604 412 996 946 1095 547 980 994 395 417 775 1018 987 531 571 493 544 982 316 477 920 696 551 460 562 461 795 1023 498 699 1109 836 428 796 1080 397 378 1023 969 334 1143 513 980 712 352 1099 333 857 391 983 309 472 829 420 533 637 915 582 538 882 1069 1063 1127 531 533 927 319 348 946 688 771 428 545 1081 1036 460 904 762 770 846 843 943 655 1126 949 410 515 1025 1025 860 884 832 953 715 352 794 663 646 681 821 1000 647 1084 576 750 945 1125 756 605 724 346 502 554 484 1024 1011 938 862 795 658 1077 957 1095 800 699 740 679 535 734 493 1099 434 1097 339 851 1110 1037 410 1102 1017 609 1049 661 367 912 1105 731 1045 980 310 911 719 916 934 407 834 948 433 426 543 357 650 427 405 448 869 1024 541 904 931 423 1081 922 610 1083 919 378 986 1103 678 684 312 691 701 949 806 417 981 513 344 473 397 319 479 699 1127 783 891 448 951 390 978 479 472 463 437 588 772 573 784 817 425 571 846 473 1013 977 696 325 711 943 415 973 548 609 730 324 970 815 944 1017 900 581 433 431 787 928 664 781 412 641 868 589 1052 898 1026 345 640 433 986 856 1094 939 415 618 592 1006 524 910 937 719 379 947 440 589 1027 1109 743 376 655 953 601 693 354 396 500 870 720 378 1114 602 870 890 523 418 506 635 502 614 1073 424 575 312 468 492 951 646 643 303 444 806 892 600 396 604 781 659 397 1074 1071 744 1046 1096 612 493 683 581 470 1090 537 353 749 1128 702 889 643 997 414 786 1057 845 926 1117 915 1106 662 813 653 927 1107 844 1090 899 1032 728 520 320 656 449 350 640 795 366 1019 471 633 862 1023 694 930 662 902 877 728 386 731 497 720 445 648 1122 469 1136 437 905 888 931 1071 345 1069 710 661 670 610 1093 799 583 552 795 999 1074 777 685 760 900 1009 909 1070 900 1019 715 723 523 820 993 1005 1004 750 795 978 460 470 458 340 724 1105 850 868 907 579 445 1084 959 1056 988 646 717 499 314 967 351 507 456 396 1066 443 1066 427 1071 314 782 954 528 362 552 1004 986 321 592 699 774 720 985 521 659 634 975 614 935 695 659 613 833 540 848 358 884 595 406 855 319 815 590 423 419 417 582 1056 841 973 519 965 817 578 434 409 955 955 781 985 350 464 1080 576 974 986 812 998 1104 712 534 380 613 1100 739 399 628 729 693 649 653 337 405 764 565 1107 497 607 851 878 361 908 486 546 641 510 435 1046 834 811 316 886 411 343 686 349 654 453 406 981 592 1081 1017 830 470 1113 728 429 640 378 451 1099 750 1097 737 307 432 527 759 1109 405 949 403 970 694 1055 493 1105 1014 289 797 460 552 577 1036 720 953 772 1032 331 475 560 837 600 831 628 342 363 569 595 498 833 426 848 1004 1046 561 1007 800 480 711 492 1123 615 761 672 1007 683 1017 941 1021 341 559 644 324 495 409 924 813 488 1055 1084 846 345 1042 659 1090 522 596 930 393 859 536 512 1092 1003 626 426 759 1047 478 324 1121 616 560 405 868 772 326 691 986 734 820 949 851 699 343 635 420 727 1122 758 729 887 737 491 309 849 855 466 1071 1013 565 455 817 1009 427 917 871 355 557 717 869 812 948 312 908 1100 432 439 327 463 645 571 466 341 858 1052 486 1064 802 942 945 925 1087 403 362 876 1039 575 560 694 905 783 1064 542 369 752 435 707 546 582 816 985 826 546 394 468 508 804 993 306 1086 605 830 640 825 658 827 738 400 935 1087 367 937 358 894 1038 1007 1077 805 548 841 886 1052 747 718 755 878 432 1009 617 731 633 573 536 743 623 1121 888 1093 912 872 633 1050 541 405 613 600 588 675 870 789 923 418 940 392 463 468 815 825 804 744 655 1072 486 528 410 1012 594 1049 607 369 1055 689 775 556 364 527 840 590 442 972 343 502 474 801 590 870 704 391 579 812 826 342 814 790 527 917 1128 856 837 341 625 345 421 333 1034 781 1077 694 830 1115 520 1046 779 397 343 978 513 497 476 654 909 1026 962 952 1071 594 598 426 814 1045 1041 998 765 563 709 912 750 701 964 781 342 375 460 610 484 844 480 660 357 461 698 691 1104 667 839 569 859 599 313 854 932 533 1122 639 772 819 297 301 910 890 438 1054 574 530 762 387 967 329 546 391 430 999 412 496 318 1019 994 730 636 453 966 715 659 337 686 929 827 731 1030 344 768 449 364 683 994 312 532 544 826 769 1033 1125 1022 831 590 819 311 983 682 621 1121 437 640 650 801 806 945 668 674 377 538 722 371 966 628 904 321 418 1113 1107 827 635 901 934 701 432 781 709 767 892 1030 516 922 647 485 944 898 672 695 1127 370 892 975 582 361 581 406 360 379 1047 339 1114 1079 852 693 391 1021 559 392 412 536 596 521 827 359 716 900 422 820 651 680 802 389 419 847 836 1077 995 1077 637 654 847 497 1064 443 476 1034 415 973 1030 1001 892 770 1032 442 855 839 422 382 968 1123 872 571 431 554 352 808 932 795 648 873 340 853 1034 1045 308 374 861 906 308 646 585 759 492 463 645 407 379 631 863 928 373 464 878 678 385 427 874 726 396 326 1024 737 1096 1122 614 553 1134 399 492 387 316 302 573 966 1010 1127 852 722 1001 716 478 1121 780 393 700 911 787 892 848 996 1100 1100 831 600 836 1030 637 695 828 360 779 473 405 1073 324 636 1118 379 398 1040 409 1075 656 551 1109 568 829 644 1087 1107 903 1049 492 841 1091 681 952 647 852 838 817 388 777 431 550 515 705 1112 487 861 584 629 713 932 644 507 711 1080 407 798 349 799 978 388 741 900 806 605 836 659 664 896 404 382 457 990 672 346 938 447 426 394 685 557 1126 620 636 449 831 402 658 893 893 852 446 905 1064 437 322 450 841 429 529 1004 723 723 788 453 348 742 862 652 354 1025 512 1064 1092 1097 1006 1065 729 595 792 405 722 614 735 650 1098 395 1072 405 701 356 1041 954 796 926 928 481 621 783 706 561 521 612 666 352 434 965 533 921 835 485 394 596 674 993 544 705 514 498 686 317 432 522 775 375 606 361 468 957 410 867 521 518 366 1086 889 693 510 323 689 546 779 1085 771 970 674 860 1038 627 1109 1102 545 934 417 571 856 936 759 783 714 426 377 366 653 802 574 819 427 916 762 540 530 396 571 412 516 384 333 346 1115 972 551 451 577 1104 338 1120 882 705 1104 629 481 1000 438 690 881 927 1056 900 527 929 732 413 430 504 532 1091 674 793 632 995 667 1094 744 679 928 760 709 1112 797 830 305 449 585 616 1107 904 960 879 998 456 400 314 666 816 908 1082 638 781 527 1102 657 644 908 537 360 691 848 529 406 431 894 915 976 514 871 987 436 656 729 917 540 758 582 1112 1000 414 533 981 714 457 1084 856 411 539 950 730 489 767 777 396 367 599 570 915 652 491 993 741 1090 1039 535 638 696 336 662 373 1110 1100 1023 885 922 1123 548 745 995 503 343 340 1074 1124 513 880 793 1053 1051 414 579 336 498 498 718 484 981 445 1082 735 795 759 371 334 1042 833 424 812 592 570 607 546 466 934 1059 709 458 1080 1029 985 885 536 636 843 728 933 638 568 432 617 727 1118 889 394 398 711 949 671 380 758 743 669 827 804 1106 532 649 1044 1046 1123 790 924 852 716 1119 947 1040 766 541 827 818 600 977 665 436 567 654 550 869 960 554 339 542 685 1112 993 358 1067 780 736 1005 320 644 984 847 1126 399 360 517 518 905 877 1028 890 740 1101 1018 748 1020 679 423 1009 1075 515 825 787 754 740 852 849 398 1018 330 466 514 365 577 1020 982 498 888 1092 781 648 786 345 855 816 927 746 1029 351 971 317 977 488 436 694 680 675 796 947 678 912 1067 888 736 978 949 399 514 482 593 757 904 1027 758 604 670 1030 632 1004 482 989 584 666 324 397 860 993 853 907 895 331 981 854 614 633 539 953 1119 593 773 1033 1005 995 414 525 1102 577 379 590 979 390 839 853 556 576 634 618 832 359 357 686 644 482 479 566 961 913 391 1078 581 886 438 873 340 981 1022 849 1098 339 536 768 895 793 987 444 960 467 481 555 1026 883 938 394 1070 1076 482 322 990 476 942 1097 579 669 966 518 1098 564 943 410 845 589 746 951 417 579 804 599 303 621 642 563 370 717 458 897 334 920 897 512 492 332 457 316 895 779 1118 923 808 814 998 433 379 768 525 368 440 509 980 407 493 988 1071 746 460 1100 890 425 979 349 495 379 423 915 727 465 306 465 363 514 662 779 793 539 332 1108 306 668 421 756 610 1127 639 1062 409 348 716 656 724 858 1124 860 338 826 344 584 433 985 306 965 811 294 443 842 918 742 959 928 412 435 410 845 838 773 335 342 370 784 1000 952 927 507 1089 721 692 656 561 842 695 437 321 1117 541 601 567 986 717 734 1029 1016 999 730 370 537 782 618 311 987 1121 607 553 494 865 308 688 1055 1107 466 538 890 316 892 546 1042 403 380 980 759 523 896 382 895 583 996 1007 414 510 553 793 460 908 987 531 738 492 1031 1027 324 414 312 1067 481 985 370 426 580 653 357 663 337 910 507 587 728 738 470 604 617 631 463 597 547 472 985 1014 693 520 666 909 842 958 842 940 523 912 782 606 707 1020 802 1066 726 599 422 1127 906 1012 578 1036 354 731 374 838 1060 973 772 1117 1044 463 514 1142 571 655 1014 809 392 870 530 868 638 1123 805 558 1094 737 723 906 460 873 878 772 1040 1061 1128 1003 457 709 845 920 1125 1004 621 604 925 424 597 353 885 894 670 747 877 903 1128 334 1016 760 1038 676 318 468 505 878 720 777 668 350 996 1076 780 305 859 451 1041 586 907 1063 783 510 926 1110 361 359 1103 739 727 950 667 540 442 875 306 1067 1041 341 594 806 850 1021 580 689 723 1091 675 808 664 826 1075 709 439 370 416 635 703 994 959 550 599 1036 627 412 1107 512 1046 568 805 327 1063 772 761 617 1049 929 883 415 1124 1145 469 1101 414 371 743 610 930 1047 927 676 512 677 735 848 513 781 979 815 1121 1027 1048 331 570 559 1090 503 391 354 303 980 570 585 663 330 872 588 497 352 921 428 479 520 1127 427 313 914 806 617 1039 867 482 642 458 1013 893 939 346 766 1089 785 681 1011 736 892 540 1085 677 400 312 1053 875 1039 375 612 393 700 917 1028 993 412 1001 553 434 432 808 540 713 1034 587 487 325 652 468 364 1052 756 395 393 880 749 786 804 731 708 732 875 313 563 810 523 1073 948 569 565 319 955 735 789 683 406 1049 606 628 625 485 1063 498 646 932 889 751 330 848 950 544 981 389 510 611 395 786 595 1094 455 325 1098 803 650 579 947 965 1102 680 692 1028 466 442 581 638 432 1108 804 380 866 998 659 523 367 344 871 365 831 698 376 673 651 841 636 370 900 402 1027 961 714 460 1067 791 998 662 929 699 747 1009 512 956 629 815 480 476 875 535 605 402 852 1066 437 331 533 400 951 294 333 742 789 741 613 718 929 322 1109 525 720 921 595 377 336 1037 1020 990 372 1090 622 479 940 981 532 543 608 391 781 888 323 883 428 441 332 912 874 795 495 749 589 416 755 1081 430 924 513 880 675 1016 898 416 992 322 829 994 1110 361 986 807 757 447 556 985 461 669 669 411 664 791 518 1033 656 511 674 897 371 950 656 632 552 366 1047 676 981 824 660 846 778 614 1077 1081 447 395 574 852 783 522 929 450 597 951 449 691 612 373 761 407 972 582 674 521 326 1107 902 579 470 1025 675 363 753 647 1087 566 624 677 794 854 393 916 348 696 985 660 865 308 655 933 1061 468 572 517 1003 582 1091 1030 381 1013 981 519 688 1010 1109 1128 472 523 1116 796 931 992 630 764 888 988 427 1112 829 764 850 537 1063 517 376 1058 758 434 632 958 800 469 694 902 832 815 456 1079 536 979 637 752 415 321 529 555 305 671 700 993 684 990 896 643 318 336 390 562 1110 1014 606 1124 342 970 431 401 496 910 391 921 364 804 522 350 312 639 580 654 790 703 759 1053 616 729 748 1071 1107 1103 624 788 1007 838 1095 1114 853 855 787 614 647 327 850 937 1048 1009 610 1124 1049 323 1059 630 1083 338 539 788 518 650 512 310 503 735 575 616 564 819 798 540 849 1069 592 1002 1025 411 924 845 635 837 547 1077 1097 623 658 479 757 554 832 945 363 403 1004 872 739 521 925 511 906 934 909 971 508 446 417 995 745 952 441 986 515 1049 639 891 376 440 994 438 1043 631 982 924 886 418 632 651 756 931 756 351 926 988 640 927 1104 991 721 472 1068 308 1127 972 1120 721 402 309 1015 704 1012 337 455 669 822 530 418 315 852 1097 848 777 663 970 801 1013 858 966 417 1012 385 1030 619 536 785 1044 1022 732 886 533 322 729 621 867 353 379 342 564 482 674 1054 383 730 1088 1103 719 912 1048 999 722 992 891 1047 673 800 471 999 837 797 914 465 1018 747 795 701 592 954 326 1070 1006 1053 319 416 1044 875 745 1029 687 400 1066 1053 459 405 737 334 914 507 344 562 710 420 472 1074 989 728 585 944 724 1117 874 434 465 1011 1112 567 696 1011 589 323 806 437 738 810 748 730 367 735 359 647 765 959 828 1016 753 504 956 1000 289 941 768 331 519 811 813 1073 892 328 1078 857 594 512 469 495 338 768 518 451 958 1059 992 689 855 572 896 871 492 777 945 834 918 765 722 778 788 871 582 875 656 374 884 814 533 502 605 982 379 519 858 775 525 633 455 600 804 969 379 867 1118 438 466 487 1028 595 798 555 953 686 617 1058 1026 871 712 951 850 694 509 522 311 711 1029 545 1084 509 347 808 828 1114 985 994 572 815 703 798 829 998 874 1111 840 499 896 1045 738 559 634 1031 584 1076 935 383 1016 812 533 823 531 476 544 511 1079 606 522 512 771 688 622 471 805 567 648 491 820 531 679 1037 431 800 413 790 395 874 869 475 610 371 826 395 965 622 828 367 726 774 574 614 673 735 703 630 758 420 491 604 826 796 341 866 1107 734 589 694 749 771 399 812 943 373 965 585 339 316 553 723 844 722 726 669 308 447 751 896 632 362 765 662 972 524 890 565 781 777 308 595 454 1115 501 523 690 420 845 485 396 595 711 627 355 643 334 782 531 1111 893 722 443 756 791 549 572 1049 479 935 369 782 779 314 625 773 389 1026 843 737 609 831 510 874 565 496 1012 1085 746 874 660 538 893 939 1058 880 699 442 946 540 468 972 956 742 595 320 747 918 1061 732 525 723 383 713 962 680 941 729 771 1019 859 885 855 594 445 994 532 584 1083 1054 299 436 927 622 751 794 906 756 641 541 359 637 571 447 844 1054 342 1008 1085 945 463 965 448 1053 568 495 339 1109 736 710 644 399 990 967 409 777 529 1038 870 855 525 999 572 321 652 541 837 368 364 525 1061 598 313 301 496 452 436 775 579 664 925 1129 887 1080 761 907 1106 961 593 396 449 496 908 407 871 486 1092 988 672 933 631 471 452 560 714 405 582 855 699 788 1062 312 302 703 590 867 467 930 661 906 307 1002 829 335 684 864 381 571 473 477 720 660 663 895 699 878 447 423 653 500 702 481 902 804 1014 915 412 504 666 701 1017 853 582 785 534 732 403 956 562 358 493 949 592 775 351 829 1012 335 807 632 328 1052 1123 829 543 1075 732 1097 649 1048 504 574 531 1029 385 1089 625 432 343 919 480 447 1012 716 929 952 761 447 838 970 839 654 358 1145 464 335 372 559 928 1141 383 624 432 911 648 1107 739 494 530 371 581 838 853 789 1118 724 1028 857 695 1029 514 1016 905 693 524 405 657 638 923 390 666 1058 356 760 690 836 925 350 425 465 496 942 488 1017 1017 376 716 688 674 513 901 1089 885 683 805 668 316 915 457 664 354 637 822 943 307 804 411 568 405 696 809 660 1091 579 816 406 501 486 841 478 388 1045 859 677 530 1076 880 891 720 391 379 344 999 320 539 537 872 1046 915 879 439 1022 705 455 441 466 1128 359 360 809 368 826 772 1061 963 982 880 765 916 326 360 949 316 843 768 461 806 1078 1058 632 402 872 522 852 981 557 998 321 430 882 657 836 454 312 1100 431 647 500 443 425 886 1029 884 764 500 492 581 717 975 723 1074 493 1059 835 358 341 992 361 490 890 641 370 796 1116 364 396 570 824 1028 672 579 718 818 619 655 639 708 612 541 564 692 908 1041 564 1127 306 472 881 1127 917 301 1120 968 616 1015 957 323 872 722 560 1021 703 941 1041 1001 665 1044 905 401 876 1097 806 885 1120 1084 631 513 380 931 537 476 684 682 1127 409 706 607 724 778 791 1092 313 667 1023 707 1031 665 344 523 910 836 711 754 904 747 991 397 656 671 376 430 1110 695 514 303 876 919 801 463 868 609 1090 804 711 973 407 1010 931 569 1069 1039 1010 321 941 373 507 821 617 584 1032 393 783 881 889 851 873 368 770 972 895 758 812 1052 853 374 786 741 494 457 333 876 599 434 961 406 350 1076 885 413 622 671 467 694 979 1044 908 1120 321 459 974 470 1019 344 425 555 679 760 553 625 957 985 927 545 846 525 382 986 979 574 321 827 913 310 453 792 1015 860 375 1087 889 785 647 887 948 397 989 893 420 771 1045 765 858 409 423 384 474 367 562 448 808 850 768 371 954 799 821 419 678 643 472 653 869 821 389 352 392 427 982 503 902 801 1044 937 1122 558 465 1028 381 576 879 563 914 309 708 1014 919 399 391 612 888 1075 801 717 1112 932 723 642 1021 1123 1067 914 360 664 934 434 1011 365 419 945 566 624 365 646 979 847 957 893 732 973 338 1091 704 861 565 926 1030 440 481 552 598 527 670 661 655 1058 556 593 1051 1087 442 599 596 884 890 460 898 763 1052 435 760 323 969 585 361 464 795 859 754 724 760 998 860 970 343 608 556 529 518 949 685 673 564 351 486 560 514 1026 726 993 1043 757 318 750 685 313 818 968 413 317 657 795 636 689 530 699 739 760 659 456 769 840 640 673 594 468 664 365 1098 573 300 664 835 443 702 305 886 858 1007 998 1019 1023 305 1110 667 618 702 916 1028 343 525 767 394 701 965 528 385 603 1088 508 913 754 711 927 590 998 662 1022 1109 608 303 627 733 924 562 1062 701 1087 620 835 900 713 532 726 842 600 596 587 326 687 897 746 568 369 416 1061 498 527 620 629 380 1122 815 805 882 961 642 997 1107 634 1092 462 1008 927 985 808 411 1021 482 722 1070 993 377 998 722 1076 452 812 709 635 1022 1032 325 542 1107 540 432 811 890 904 688 676 987 693 310 632 914 664 575 864 533 772 928 843 598 770 545 980 528 818 331 545 666 731 979 521 908 746 345 612 940 960 559 1078 766 1077 422 576 1017 656 1083 597 372 602 363 516 494 934 1113 921 474 542 1057 600 601 533 374 370 443 1044 478 436 530 624 1028 1126 1040 753 382 1073 676 1095 583 692 374 329 827 851 751 1020 470 753 661 1009 515 455 325 868 659 1101 795 1123 969 660 429 545 520 508 985 658 416 634 391 774 383 867 611 368 690 765 1077 491 1011 338 687 1122 551 723 786 678 959 1039 827 329 421 582 1071 821 424 397 1012 598 314 938 660 575 788 817 431 599 788 970 1015 1097 913 709 1095 1095 491 1044 955 920 374 955 681 396 624 935 499 919 1080 417 600 655 559 770 597 460 1081 633 782 867 891 1071 808 568 546 617 309 956 677 452 556 658 319 623 903 1124 530 999 722 363 1071 513 1033 961 1005 901 674 809 617 940 646 704 550 731 696 413 359 505 514 917 582 770 539 415 985 1120 783 364 515 953 1118 955 898 636 468 625 1122 820 338 820 596 324 1021 361 311 797 322 987 529 956 925 879 611 681 495 1003 1046 698 389 753 647 761 386 1008 1045 668 421 941 791 486 783 577 647 557 939 1091 775 319 496 926 529 341 916 511 1115 650 886 733 321 556 954 516 627 478 868 1062 1099 1088 1046 1051 963 593 705 392 569 710 639 655 484 1091 370 650 1005 911 404 806 760 794 831 979 692 671 513 729 392 1063 510 597 928 650 1103 414 440 912 686 941 449 479 904 608 839 525 578 573 407 768 716 491 493 512 807 412 456 349 705 572 501 502 1017 772 386 413 864 318 394 612 870 562 452 430 1063 310 1107 727 575 498 380 404 589 576 691 875 368 672 1094 454 1073 533 896 1055 956 942 677 888 706 1082 598 416 806 816 569 937 792 493 609 639 800 611 609 851 1100 586 701 920 819 1057 664 949 455 1122 503 367 469 488 903 930 519 544 453 1038 530 806 810 460 1054 391 913 401 1009 686 1005 734 702 656 535 665 713 508 382 1031 869 1077 689 773 813 820 321 989 709 855 538 502 950 1019 527 615 919 427 765 650 578 645 869 481 424 544 401 854 626 680 1099 504 674 783 650 934 1029 793 1002 843 669 1124 343 739 303 819 996 502 745 968 544 873 851 349 945 856 1126 714 1091 920 819 697 549 806 522 477 813 506 1059 843 310 1104 950 385 399 400 605 518 479 742 433 1046 400 1042 424 616 772 721 392 412 945 676 896 508 1080 419 420 1047 854 613 1041 616 681 936 1047 715 1018 986 531 344 309 422 456 344 330 322 635 924 1083 988 1104 972 799 555 557 574 979 495 764 1036 772 699 542 959 567 854 370 700 565 853 805 755 904 828 646 540 405 1126 692 752 773 870 515 932 675 312 511 973 658 659 411 570 862 332 946 632 897 329 300 1113 781 401 943 910 477 324 632 930 383 846 768 738 516 821 589 348 1002 630 730 462 661 614 896 783 722 620 718 995 792 1097 481 592 435 1082 355 549 904 334 652 625 1013 929 594 515 476 638 490 704 330 1050 834 1082 578 1024 920 489 823 674 335 979 530 375 993 909 1027 579 886 877 677 495 609 689 1017 452 752 696 383 1047 800 1106 742 653 1133 409 927 496 776 724 971 693 529 749 903 331 372 589 1000 487 1078 385 928 455 802 1026 744 745 624 558 1108 1088 583 962 346 506 683 789 925 381 477 531 948 680 810 1007 830 770 417 533 567 306 527 1077 378 537 545 972 919 1021 341 324 487 486 418 469 324 570 980 552 436 612 785 982 424 945 730 479 912 1118 600 1092 666 629 668 1118 1081 598 1083 910 858 912 624 499 1018 814 324 1010 489 932 414 1047 512 826 1051 777 371 570 996 438 875 983 857 800 1043 955 329 696 642 760 1061 709 1111 927 998 941 789 486 803 645 1026 438 964 964 571 560 975 900 755 1077 1109 993 713 629 1080 1116 529 848 586 836 823 664 846 908 1107 1042 1027 680 734 876 810 1054 807 427 436 864 1084 1102 509 413 589 428 434 341 1025 658 425 964 470 482 802 1033 771 545 435 468 900 1025 747 1069 569 918 310 551 966 573 821 684 683 454 441 471 923 877 805 331 1022 330 624 396 1063 1064 1034 948 917 825 529 975 719 843 974 306 976 937 702 910 1085 862 719 809 905 1005 433 1031 754 882 780 607 771 969 907 743 694 319 686 376 719 577 827 1010 316 753 430 767 814 994 660 1084 912 400 1017 555 388 485 1041 1019 1074 889 1008 351 694 970 433 934 510 889 355 1032 925 467 302 518 860 686 563 681 878 1008 954 338 1101 907 555 406 465 583 639 442 313 433 502 862 678 1042 810 1020 825 1107 841 326 597 802 768 931 503 955 453 798 1102 492 455 1060 488 321 644 825 876 314 985 800 801 1098 1073 424 680 981 734 609 504 809 742 660 1011 559 912 903 892 406 324 437 374 505 861 1120 656 321 338 743 814 1001 736 596 834 1049 1036 1063 1140 438 546 923 626 759 380 523 1094 1118 934 1031 1095 1086 715 382 814 324 910 1058 306 866 1117 811 401 998 543 455 494 826 446 748 539 714 501 699 770 1109 1036 745 1078 626 954 710 638 803 595 738 342 503 901 1023 524 891 467 848 1112 566 844 296 341 921 445 816 816 746 580 898 1018 902 800 600 797 977 589 847 1112 489 887 1094 704 302 474 1030 635 477 831 836 1112 1010 1005 1103 610 856 777 607 606 1052 998 937 1128 691 956 679 1088 557 578 447 390 485 1022 339 724 1054 348 352 1109 486 540 751 1065 704 719 707 349 1037 311 850 1087 475 373 616 513 571 976 458 540 849 362 441 346 538 1115 638 699 461 1017 937 423 1005 607 992 1109 595 377 975 873 761 727 1114 434 322 513 626 1065 946 903 343 417 369 603 1051 989 362 780 545 847 1094 957 950 723 340 1136 582 836 628 848 762 1074 895 556 994 808 897 552 404 858 389 634 764 1097 475 918 467 745 335 904 841 640 909 957 363 378 636 1092 691 687 798 873 847 1068 591 572 601 906 555 818 406 570 614 396 845 735 590 1012 343 1033 661 819 740 421 1099 370 565 333 1049 744 729 528 1036 810 991 417 425 857 801 1084 404 898 310 1064 1111 1128 791 353 1017 796 983 492 568 495 851 640 593 325 489 462 478 648 425 885 990 483 396 933 855 308 1083 1051 662 909 720 349 432 717 925 751 472 316 685 1036 1038 304 588 670 429 593 758 462 402 331 916 302 1119 532 799 809 1066 697 403 358 793 559 677 466 426 673 392 480 510 1085 656 442 866 700 565 476 317 555 680 497 996 972 381 941 453 391 545 511 455 675 766 569 450 518 797 718 407 940 936 740 765 417 742 649 312 980 550 502 415 303 430 695 720 905 1066 386 1097 493 705 454 629 519 968 742 505 550 936 548 811 950 925 478 560 678 634 925 718 915 437 561 996 772 501 493 486 392 355 1079 494 1083 1029 1032 1009 979 428 842 698 920 728 440 1022 501 866 748 467 829 1123 312 903 669 759 485 433 454 582 613 1097 1071 336 349 1086 692 1017 994 669 925 499 620 757 549 922 1085 730 431 773 441 563 788 381 1133 490 784 758 931 1067 782 840 307 395 641 511 718 1122 507 508 648 873 935 835 839 890 633 501 651 840 484 753 885 718 855 760 332 1037 517 675 580 400 846 405 501 1008 859 596 796 1027 921 927 1106 929 874 531 937 812 853 433 417 416 452 600 445 394 914 463 890 831 343 783 1029 691 1050 506 595 578 644 999 437 1055 411 823 481 374 771 560 334 814 982 654 843 899 832 909 809 317 1011 619 661 680 370 587 898 497 553 337 887 586 913 421 696 872 763 781 911 931 463 970 546 1079 903 595 810 576 862 312 1011 542 383 963 708 583 1103 440 1097 836 1032 459 394 497 510 660 646 1066 946 328 1118 824 1020 688 995 913 1135 573 606 711 1065 685 715 993 975 550 639 489 300 599 592 487 361 1041 613 818 556 965 728 1046 468 769 732 660 814 666 375 1021 1109 1076 835 614 466 610 472 563 470 527 449 1005 1115 657 590 668 939 867 1081 612 892 909 1092 510 775 805 680 915 353 611 303 438 477 905 663 325 654 729 880 1026 905 807 562 549 337 1106 482 369 410 1065 1092 711 695 788 322 609 802 491 530 396 515 717 1085 373 570 548 532 387 704 775 349 603 693 879 1139 491 959 824 414 401 553 752 1057 465 517 651 1109 347 1037 486 851 516 413 486 446 942 797 843 936 649 718 1000 878 472 1109 874 890 682 599 406 785 943 967 1079 706 1005 1052 306 543 337 940 330 957 934 539 589 680 634 452 530 609 529 322 434 988 754 726 996 898 709 900 724 445 777 346 386 599 807 974 1077 1120 942 419 896 781 1068 874 952 683 712 994 546 641 658 661 1098 585 396 1108 422 904 955 876 873 688 942 959 588 595 349 675 365 717 937 445 1066 819 1076 705 737 392 528 313 692 1069 916 746 882 1094 980 965 624 579 1067 399 412 530 458 870 331 772 934 672 1082 1028 807 434 1056 593 951 336 919 550 1078 556 797 544 964 499 832 926 1065 310 558 612 638 811 543 348 758 872 556 449 615 1083 799 1011 542 1000 341 426 717 757 881 1046 748 599 418 1051 575 617 1115 305 623 1052 841 885 672 766 1028 339 1031 414 752 635 761 838 554 988 996 758 402 1070 833 442 499 1098 1110 994 852 659 1128 1046 1032 868 900 426 854 950 769 426 851 744 1010 593 706 490 477 825 600 1053 722 474 582 533 318 493 439 618 355 321 314 394 448 998 589 721 1011 406 706 934 974 1126 868 585 418 628 472 692 741 774 538 365 462 441 895 433 638 512 807 538 768 544 956 561 941 711 987 1037 581 319 448 789 528 879 857 760 920 568 1054 792 969 333 882 953 437 685 564 959 843 389 447 952 1098 969 993 998 1049 811 298 964 703 560 507 386 780 1120 443 864 1108 721 1115 1034 1038 524 916 1003 372 676 1078 599 878 899 414 553 907 383 1025 963 746 622 793 505 540 408 546 811 754 545 1090 542 579 957 922 564 416 1093 1065 1105 873 750 490 1005 704 947 919 479 868 1001 610 344 754 668 501 695 858 836 411 780 695 378 751 502 744 430 738 1105 860 877 530 542 411 343 911 692 542 965 1012 769 358 1082 629 628 446 668 628 1063 810 367 358 615 721 318 346 963 731 850 850 761 952 1076 1095 588 862 348 1019 313 481 464 684 474 744 716 971 779 425 946 599 797 923 888 841 317 683 809 1071 615 970 490 737 564 728 352 691 942 469 937 491 536 584 435 525 961 520 772 464 465 1119 1061 1022 931 413 310 737 452 822 564 656 983 625 1070 726 432 381 594 589 531 1113 396 443 470 1094 1101 621 317 1065 334 994 693 878 935 814 579 586 347 441 305 856 895 410 1004 973 704 483 506 1080 1087 896 539 679 680 863 591 694 540 720 947 578 492 408 686 677 707 337 1123 651 428 909 1087 565 740 588 1017 404 918 442 445 488 339 617 1092 812 566 956 688 974 1118 698 554 809 578 501 1122 892 761 320 357 976 457 665 977 656 918 818 929 890 355 604 1047 370 432 406 1094 760 314 801 631 949 1013 475 940 831 504 1056 532 828 507 636 985 488 380 844 1140 509 523 474 694 1024 346 322 568 460 673 979 474 749 698 869 644 505 627 570 941 911 772 906 777 998 523 918 977 694 390 1056 966 342 913 366 879 344 980 519 607 1009 1105 391 750 799 413 674 767 409 517 745 710 896 1058 564 951 862 347 498 374 866 487 869 519 1063 304 935 720 338 823 1101 741 537 1067 552 419 504 935 1100 703 817 504 634 1026 991 1002 639 716 1120 608 575 763 1115 925 962 707 673 342 776 707 989 755 1104 509 739 769 744 616 738 436 842 817 572 455 581 605 567 778 631 435 1105 982 914 491 922 653 1007 1084 822 623 711 945 704 1071 557 730 810 860 711 334 911 1017 1079 875 701 864 925 870 326 697 989 636 1023 596 553 433 352 1063 310 1028 651 734 821 1010 563 1070 1006 622 547 562 815 736 713 692 381 767 787 1094 597 674 816 735 587 480 1036 750 922 1030 408 615 637 999 792 907 772 782 734 915 502 762 505 899 581 419 658 790 314 579 998 624 1000 1081 403 563 635 923 350 537 320 958 1073 384 464 1046 799 977 924 523 956 1010 503 637 585 360 815 687 799 322 850 571 568 1020 472 502 1110 783 1000 636 565 825 951 917 898 1082 378 645 417 340 620 496 824 429 777 1030 587 704 644 496 1039 650 535 1002 378 799 647 846 638 488 643 1032 1117 667 901 707 934 795 460 751 666 559 320 971 936 1055 740 596 435 794 982 949 629 1029 912 782 1127 474 459 760 792 1038 1118 329 1056 465 534 351 712 1126 624 674 899 335 454 1040 402 524 401 1088 835 942 566 1071 966 816 864 817 547 592 474 991 983 969 943 885 721 988 309 891 637 961 945 406 468 981 996 928 720 1116 682 335 916 347 983 365 491 1055 299 519 850 555 1027 460 678 557 855 677 522 898 1041 517 471 735 863 557 1076 312 350 1047 974 715 494 638 819 1024 426 743 564 737 866 914 397 410 1125 590 1054 1075 391 335 1007 1072 960 961 644 1045 466 612 586 569 643 544 598 466 731 622 317 415 371 375 545 483 571 1078 997 859 752 722 437 350 777 1021 399 470 958 571 1112 1045 375 393 405 1002 735 1117 1124 641 620 400 579 669 349 594 463 1034 590 919 304 485 525 323 1075 953 620 655 531 599 808 622 933 498 980 911 862 710 822 677 950 655 559 899 415 1099 714 815 534 1032 890 905 605 682 619 453 949 1093 1054 658 469 365 509 1040 1094 511 520 341 689 963 338 932 498 985 342 604 1040 349 635 494 603 762 812 397 1040 987 919 832 795 698 467 1062 840 810 1086 718 1107 1045 367 769 555 376 1070 845 737 600 1081 1009 915 1075 919 513 542 665 804 1045 299 531 433 1112 882 560 394 416 1000 467 1123 954 328 583 638 987 795 965 653 887 1094 1009 1008 980 625 510 836 626 614 589 596 466 425 336 328 854 839 571 940 1030 372 895 331 389 1050 928 640 992 951 686 1077 477 529 1099 663 372 318 375 521 627 467 1087 897 492 536 477 343 755 352 905 524 577 457 323 793 349 931 333 513 1120 665 598 458 513 705 968 981 715 982 1036 467 865 594 706 1115 1130 647 769 336 446 466 996 682 636 617 355 1048 727 539 916 924 961 342 1020 528 806 509 303 381 368 854 850 1091 317 649 878 757 1020 684 722 404 1012 1118 1095 834 552 607 603 336 819 556 768 440 327 446 515 1126 315 929 468 868 1044 700 1105 547 511 1014 724 757 1071 621 969 751 554 346 869 865 522 985 606 579 698 724 857 885 325 996 337 791 771 419 557 491 738 423 770 471 881 575 1115 434 890 792 435 1090 1086 693 387 1060 459 862 807 521 761 1042 604 425 909 1058 403 376 954 1013 511 850 883 792 448 787 812 508 613 320 1068 557 408 577 520 919 644 767 1083 694 713 1104 977 944 822 1067 658 815 778 692 463 934 773 982 364 879 647 999 1119 938 365 1074 394 1055 374 554 449 779 686 1052 796 654 387 926 307 352 1045 1052 451 404 379 654 561 457 683 748 705 586 412 530 302 1000 440 662 518 1044 533 950 815 1123 557 531 820 505 694 362 426 569 921 789 1119 813 532 947 719 508 898 724 879 1020 920 508 852 484 900 966 686 688 501 999 748 957 310 929 369 863 965 631 497 1029 693 804 1034 1053 500 721 428 761 625 978 1092 400 849 718 651 596 389 434 1121 565 881 795 372 1078 542 592 1015 676 740 968 337 701 1055 771 494 771 548 949 429 451 995 932 920 744 1100 579 983 425 1111 557 676 864 567 561 1060 953 1067 669 656 1053 978 669 841 1063 414 453 853 432 686 806 668 504 360 954 684 367 1094 1113 955 1059 688 716 545 742 841 690 804 523 893 696 1005 532 687 332 885 870 928 453 452 1045 312 1078 397 944 707 991 774 727 646 713 481 1013 366 804 525 504 738 944 616 334 666 443 412 932 598 312 1041 884 845 435 1104 950 367 877 882 990 1052 510 357 1013 454 705 598 600 800 783 922 687 469 387 620 616 967 1071 1089 1050 588 879 424 441 829 869 929 487 1000 397 910 1034 782 1024 501 1053 1129 582 716 610 619 518 1095 519 981 479 976 566 800 308 818 924 598 1053 572 1019 860 852 462 635 781 611 517 768 641 857 874 326 501 626 854 484 947 1063 629 350 359 462 877 324 758 737 886 648 827 624 850 805 726 836 914 724 671 796 778 923 304 390 302 362 800 677 1109 413 727 993 444 604 1002 367 1044 532 584 757 798 316 883 389 440 1026 393 610 1038 311 738 649 743 1116 1057 900 569 719 780 763 694 781 545 595 962 1003 1038 969 512 370 598 352 767 621 567 355 483 887 544 1055 799 1065 1103 531 1019 561 1058 876 985 360 399 517 864 922 439 679 679 394 673 577 1027 401 556 1003 1067 527 955 1105 568 722 1070 783 1025 468 804 806 952 774 488 808 507 736 708 950 1093 701 647 871 875 571 563 633 542 486 471 1094 1063 925 946 985 961 721 307 596 681 448 413 1098 698 527 309 522 736 417 738 337 656 1081 799 456 689 859 832 1045 850 723 745 493 452 856 726 765 339 915 838 1106 799 705 1088 981 1125 1044 330 994 989 746 775 847 316 868 365 817 585 402 626 420 483 738 601 388 391 964 316 921 775 373 787 343 757 890 395 893 938 721 797 686 653 485 992 1041 816 537 1027 450 921 619 889 556 633 1090 739 1050 461 712 695 648 721 424 542 656 998 535 399 895 750 810 737 440 916 742 894 478 682 655 833 547 399 405 365 321 976 814 1101 849 1095 398 863 896 312 774 857 914 594 390 674 1043 590 815 1011 462 1118 455 628 467 607 554 736 634 740 932 806 930 424 629 362 914 1066 639 434 828 493 806 589 343 507 808 565 1087 478 551 1066 641 389 556 696 1021 948 1029 368 341 1119 587 989 1028 844 414 701 895 787 832 1097 788 803 336 322 808 1079 678 752 755 784 450 463 677 964 788 1051 729 598 636 797 1055 1141 431 565 874 963 520 519 465 671 356 741 1120 393 634 591 325 526 698 884 494 312 524 849 980 949 1007 947 537 694 784 1048 700 990 891 1040 681 535 724 749 742 839 1104 393 1079 1115 1015 572 850 951 360 773 462 853 770 898 950 1065 797 364 431 416 417 991 435 677 809 674 827 965 375 1104 870 1101 540 952 862 1046 438 974 289 1086 437 368 364 746 939 474 1113 490 940 332 1048 758 675 513 849 318 815 714 364 1044 1054 422 635 591 540 854 1008 601 511 350 591 552 1044 950 858 1111 757 1023 482 966 1073 661 375 948 660 741 1063 927 651 509 922 952 849 679 799 600 604 647 897 622 1018 969 717 1058 996 976 725 663 529 638 975 977 650 1051 735 640 373 320 467 956 895 399 926 346 831 559 863 712 790 1016 625 1021 598 972 606 593 324 704 1025 834 978 1011 1059 391 530 618 1051 940 434 378 828 982 1119 330 725 1069 893 566 800 542 750 1046 561 881 913 996 673 441 1039 964 866 618 735 813 380 423 403 580 523 815 975 739 859 1046 987 765 449 952 433 777 787 1093 421 783 773 481 782 618 637 726 386 1070 443 1091 401 576 559 873 961 777 620 936 429 438 903 616 558 930 596 368 816 1052 643 842 1025 346 619 926 405 342 1026 487 383 740 387 769 618 834 1055 371 784 936 629 1120 613 1062 408 357 839 606 314 375 1094 758 572 458 804 604 798 509 476 529 932 588 1100 379 602 402 496 1108 1039 938 402 554 854 702 898 786 345 1048 616 741 539 847 772 439 508 422 817 339 473 529 879 1003 648 961 835 601 671 667 452 355 808 935 920 320 303 432 340 817 963 404 414 556 652 789 617 462 858 308 644 804 902 565 749 884 660 540 857 941 880 720 664 1005 434 706 960 1030 1050 489 459 581 751 918 949 367 526 878 906 808 719 1081 865 377 632 587 776 1061 762 440 475 300 437 405 1108 397 922 428 1033 687 720 1015 782 894 352 694 736 512 936 833 651 1106 810 1079 417 383 723 504 1058 1095 685 343 1043 964 966 330 868 1093 500 622 324 446 749 490 548 444 1045 772 591 624 645 615 1112 360 1023 744 815 925 923 647 690 391 367 594 734 995 637 910 921 712 609 430 1016 635 472 352 588 463 1067 877 637 913 1082 330 470 492 945 446 429 404 1125 430 795 850 958 883 433 994 1109 814 842 544 438 700 904 865 586 543 975 558 1070 814 1051 957 663 859 673 380 549 302 1051 337 920 367 1117 431 533 754 566 817 315 515 523 707 622 390 349 614 440 1105 982 950 468 1093 513 1122 897 373 373 355 886 695 938 302 482 380 508 825 711 660 599 824 1118 765 1018 980 529 985 959 346 680 341 380 479 880 890 786 1067 657 868 911 527 914 460 697 796 497 991 313 828 628 836 376 1039 884 488 849 559 839 995 983 949 322 572 526 1103 468 833 1083 339 526 1111 875 610 962 501 673 546 1009 582 508 367 729 1080 337 383 664 609 1059 850 919 950 688 752 857 920 570 343 608 518 617 398 344 853 658 463 1106 630 756 508 1049 831 1069 726 1020 459 955 909 787 1135 474 844 330 992 1087 1076 822 828 1042 617 1117 636 549 991 842 613 655 594 1002 554 1072 452 635 396 645 652 621 804 729 735 799 1039 991 497 443 852 874 552 836 426 605 652 1013 938 309 1094 431 1086 875 699 608 960 1031 379 463 1095 941 957 312 315 367 645 1024 404 821 621 1007 805 1057 345 492 978 467 1119 992 1042 952 708 519 678 925 521 625 905 975 559 1111 949 752 924 730 451 791 629 975 596 806 1002 939 902 876 858 310 862 693 523 876 698 1041 351 511 1004 822 490 640 916 315 645 421 616 489 485 752 306 843 513 314 760 557 651 438 836 659 893 1099 885 1024 983 364 655 738 352 942 435 868 326 313 545 1046 575 529 671 527 473 335 903 911 636 802 485 969 1023 622 822 562 715 816 1019 613 1015 407 951 643 741 940 426 583 313 607 913 902 624 777 616 634 1118 889 401 506 1039 522 458 482 323 934 713 1051 626 417 672 722 890 317 753 507 733 474 690 561 771 917 463 325 550 676 676 566 340 320 721 793 976 917 641 525 849 604 510 967 430 423 691 397 1004 741 765 344 1084 519 1068 752 532 326 334 456 599 520 1073 985 312 486 651 932 615 389 844 719 1115 367 348 1014 634 865 1127 892 316 658 370 908 1103 607 1019 877 616 570 903 772 968 488 1054 533 696 796 872 799 729 1113 936 903 886 306 644 770 1090 999 496 669 595 1000 469 793 343 457 775 803 494 528 449 362 516 389 475 473 795 363 491 813 794 321 926 1071 846 781 786 589 732 405 1086 871 419 667 977 833 340 1053 483 632 498 669 1054 478 776 700 784 1086 920 513 828 739 510 484 355 949 454 1041 506 627 1132 370 409 1008 550 978 1138 482 779 827 561 357 713 777 671 1079 454 308 437 318 825 572 382 1086 1079 370 303 1073 1126 944 405 463 1017 460 825 667 821 1076 516 897 964 1124 559 546 767 894 676 405 1017 1035 1038 437 1042 406 1047 435 679 355 314 1100 709 547 666 770 1004 887 869 901 661 477 582 737 397 895 1045 903 641 566 474 563 737 949 807 418 670 1075 1061 977 954 343 648 918 1007 748 398 794 817 1025 700 1062 686 1104 448 918 572 938 808 800 933 628 892 628 1093 329 377 877 1077 500 559 917 334 345 316 627 497 361 590 510 363 479 334 378 977 528 1027 589 1044 345 480 916 1026 799 517 594 743 540 371 1076 1080 452 940 359 758 569 778 794 820 321 697 323 719 1124 785 609 307 369 871 707 356 825 532 814 430 575 513 847 739 966 1038 1123 642 867 993 718 345 507 314 675 856 708 1017 747 927 812 406 476 379 466 413 330 307 1000 1099 550 387 348 917 744 828 623 425 755 697 495 922 601 393 513 741 446 1064 867 334 528 978 382 824 557 639 975 1047 907 673 591 303 495 312 587 562 756 869 989 1128 604 1065 478 536 563 966 561 490 652 1006 1052 1011 477 522 700 787 477 640 334 399 735 978 858 1033 609 492 894 1065 481 462 928 610 1122 912 786 749 1080 518 794 1018 916 767 407 1049 514 537 437 372 360 770 1124 1069 692 1130 637 763 1035 363 992 959 875 992 480 903 724 970 308 876 970 692 387 340 1051 341 800 337 477 642 575 452 666 717 329 513 910 864 1074 413 698 696 467 320 386 336 605 788 803 345 958 630 412 965 654 745 738 495 869 822 868 1084 560 662 897 856 391 395 1033 563 1000 732 740 718 936 741 937 498 754 1111 623 713 417 779 823 876 737 661 335 796 522 342 874 606 464 914 367 744 595 959 722 564 749 403 522 1106 991 470 819 1027 846 886 994 414 739 922 376 932 776 1063 829 717 431 479 1030 751 557 717 521 691 444 383 994 571 646 872 692 1022 1053 735 961 445 1090 846 512 836 638 419 844 1117 419 1089 830 1109 421 395 375 942 1008 699 755 482 642 1117 439 1110 509 1057 1069 674 707 1137 412 514 1056 656 495 335 427 856 389 747 613 411 634 846 822 1048 312 899 375 728 1090 328 702 318 1061 713 891 756 720 487 1093 455 725 1064 360 628 516 362 789 425 1110 612 1086 915 696 438 521 682 834 619 314 534 529 930 301 589 780 689 1071 791 754 835 601 813 952 457 1011 691 694 730 644 448 355 720 347 576 831 435 1089 938 566 408 801 700 964 835 840 715 966 1052 344 920 1022 794 619 698 394 739 499 968 579 1063 525 575 895 667 942 586 584 609 611 990 869 507 950 945 774 563 536 571 548 328 771 894 683 477 830 845 356 1057 586 837 522 968 326 982 439 669 909 800 628 918 381 600 841 852 916 403 504 1031 765 965 880 392 320 1013 310 1101 392 794 544 794 387 1056 763 452 747 808 450 534 1077 1041 385 771 720 589 323 1023 691 921 562 795 472 350 844 515 1077 581 864 810 941 911 540 797 1117 993 361 456 567 512 1002 415 567 1013 984 490 969 584 309 905 475 691 495 935 464 1034 775 872 425 656 478 407 947 684 490 886 1094 769 443 900 944 462 938 924 471 610 948 543 348 330 569 463 418 742 1128 955 624 610 769 985 313 383 927 1004 787 705 830 778 471 474 720 619 948 931 811 932 348 816 1050 637 353 912 810 445 906 633 991 385 818 989 1097 952 843 953 988 496 322 610 696 515 342 588 607 653 939 673 732 745 495 765 468 614 336 1085 824 421 1023 759 511 922 798 853 615 1043 1050 594 409 649 612 908 518 866 635 952 431 505 1125 809 903 1103 939 995 910 443 631 930 955 781 811 825 586 575 924 494 1104 549 855 977 894 808 570 485 584 518 539 393 934 1137 406 375 676 621 628 818 786 965 618 935 334 1003 717 922 326 892 692 748 351 1085 1020 470 610 303 418 326 673 375 772 623 410 938 316 903 402 895 696 902 559 618 827 807 700 655 509 483 421 1125 914 533 974 1046 763 1089 522 659 773 918 814 514 547 374 519 423 918 381 367 1029 811 879 501 973 808 330 415 337 507 519 984 748 604 464 872 890 651 488 841 953 392 396 938 807 1070 713 650 370 515 325 738 351 643 1084 524 1118 872 462 790 984 983 494 538 1054 635 555 1014 579 792 522 402 749 344 735 662 397 975 720 766 1078 511 518 1085 642 967 640 676 917 359 485 320 518 606 835 388 1086 337 303 988 403 876 525 835 903 494 924 520 523 382 502 817 761 784 1126 1012 419 724 415 437 664 649 880 813 763 876 774 503 460 713 550 1003 507 871 740 795 817 545 459 878 713 415 404 427 694 434 653 464 889 587 426 485 402 789 512 540 686 665 727 328 1089 1095 657 500 606 941 354 444 697 532 807 1024 747 515 550 944 864 761 386 832 985 891 573 1078 369 1030 665 718 562 763 380 596 577 1013 1059 340 533 507 1013 468 548 342 734 934 777 579 322 418 1082 310 1027 892 1028 590 943 944 460 947 422 856 845 674 730 365 1101 725 969 893 423 809 856 321 1010 768 471 462 752 397 503 689 466 1025 388 422 510 440 555 763 655 777 882 816 624 1083 463 1036 725 388 448 465 468 636 1044 768 383 446 666 318 816 934 1123 391 692 651 685 1050 601 601 841 1074 436 909 643 353 498 336 1083 871 934 478 353 427 721 418 430 722 565 1123 1122 956 845 930 990 1048 838 1064 393 335 520 787 861 1071 571 1103 858 321 560 345 443 1007 346 670 491 936 510 1046 897 429 651 1004 838 1052 542 1007 896 808 1010 633 838 867 1098 1056 890 805 731 311 861 720 795 859 1090 418 896 681 1078 774 587 382 752 867 657 615 403 808 925 843 845 992 925 1039 843 728 840 395 922 313 870 654 1079 619 612 837 693 1022 968 833 652 500 771 514 524 411 546 797 348 420 492 665 988 420 489 958 689 1022 699 970 566 561 931 944 587 627 613 954 1016 724 922 961 720 561 350 595 344 709 592 700 679 696 406 453 576 574 539 658 595 976 639 787 845 465 967 435 1070 346 740 740 1089 330 1025 778 825 1035 622 469 699 882 766 612 707 819 1046 877 367 403 391 416 590 747 318 852 991 1086 744 807 633 512 903 461 703 836 823 1009 859 679 611 1115 1087 1059 327 347 534 385 483 992 608 546 1142 463 673 396 495 466 723 642 741 748 470 604 394 878 332 392 420 686 1023 846 1045 526 962 447 835 369 483 421 300 940 1124 913 759 371 596 506 340 1086 933 551 445 724 957 761 780 1014 1072 1002 761 793 597 1080 667 881 639 726 821 592 334 776 497 1012 864 650 1023 868 884 787 599 899 959 1070 992 1004 989 960 357 525 963 400 1107 1011 703 794 624 395 787 686 904 734 741 427 928 641 697 329 878 888 786 471 399 922 1015 932 400 307 457 364 607 923 609 510 306 773 796 491 633 442 417 894 739 362 941 530 902 481 822 386 1036 527 679 859 1034 913 626 689 311 594 301 890 468 1112 774 777 511 948 914 348 1052 728 935 316 316 360 311 451 593 426 967 851 844 1030 727 372 727 525 1042 501 851 869 626 843 313 939 323 525 995 624 947 655 806 724 317 864 589 1065 696 674 717 858 947 568 605 889 513 528 606 934 989 730 891 1019 979 369 680 868 857 1068 688 424 726 509 740 1025 926 1024 992 584 407 769 972 696 936 685 698 651 668 651 655 858 688 969 491 371 708 348 416 931 773 725 1110 476 748 846 591 698 908 372 851 688 403 495 616 470 950 1060 536 939 795 862 1031 739 1105 360 787 411 590 1109 929 1126 725 358 876 792 678 1059 821 515 967 345 742 1062 837 1002 382 1003 705 415 570 659 823 577 1067 772 537 494 442 480 364 606 730 612 1101 677 1135 437 523 725 604 551 786 724 695 410 972 557 592 1057 725 758 892 374 471 1016 777 945 344 821 838 333 989 778 666 663 347 646 371 413 810 630 972 648 453 352 1045 759 975 1044 1082 984 999 693 829 535 806 436 492 326 781 874 509 781 963 349 866 663 492 338 1061 719 612 934 378 454 1038 592 306 553 419 610 623 680 999 705 893 339 595 1014 1036 680 1092 518 590 982 1118 609 639 428 438 779 344 914 306 823 437 1089 975 413 872 903 632 425 1010 474 1031 1043 576 298 885 878 954 434 766 916 729 336 809 624 867 321 803 825 757 807 772 947 995 694 700 776 781 873 824 465 567 971 767 503 1018 1094 417 771 556 818 458 979 729 842 548 861 708 971 742 466 333 390 452 304 583 312 421 375 971 457 748 1045 530 1082 606 1095 953 682 595 1122 842 1044 403 708 1035 638 1053 600 849 509 757 721 1074 798 759 662 781 449 1075 381 949 881 505 526 930 417 1067 799 803 948 314 453 983 753 658 1017 749 808 1130 1048 1088 664 701 890 444 779 756 483 1077 319 326 452 926 658 1106 699 682 1098 780 317 716 1065 1085 395 859 625 664 619 982 1072 930 1004 593 978 503 1031 579 322 641 836 918 779 600 1047 603 454 559 370 497 979 982 1101 1057 633 512 950 1015 580 893 456 919 883 490 514 372 575 818 731 940 950 726 636 783 978 489 352 949 1094 691 618 732 669 398 907 534 734 503 421 977 791 524 785 843 1074 677 953 970 555 930 512 918 363 920 792 736 518 329 1027 510 560 929 989 447 1122 414 478 767 388 876 981 1002 342 820 944 990 851 996 878 388 659 1016 1041 544 355 572 624 823 879 1046 388 413 1041 457 461 1052 583 747 1100 756 549 1025 951 927 940 696 770 476 912 956 728 359 493 597 401 447 1113 402 909 1129 534 1127 1097 768 843 729 543 755 537 712 1095 394 459 894 844 800 1085 738 466 980 1068 918 913 1094 648 721 790 988 594 728 317 821 1077 946 1085 398 486 301 835 427 1099 1033 954 798 908 996 604 373 1025 755 655 391 608 1013 898 1143 558 722 1126 1068 940 525 1068 889 566 663 493 1109 688 658 707 961 554 904 761 887 404 644 945 1041 833 750 404 906 704 671 955 339 801 816 836 723 1108 335 429 694 723 921 609 1024 525 1067 802 1099 537 1003 520 659 1098 333 567 636 644 324 797 1119 522 1108 736 919 406 998 858 748 944 336 951 459 926 309 442 1037 414 507 1012 500 764 306 827 372 789 1040 972 905 748 815 1001 947 814 656 449 636 804 988 977 1086 1059 717 607 332 745 458 693 1048 401 916 946 716 782 616 939 693 391 784 688 798 641 306 856 1023 551 707 945 1003 602 701 759 992 1065 743 1089 595 426 603 696 386 858 426 306 301 755 461 718 513 1066 686 587 864 982 546 794 532 617 374 889 601 758 872 442 763 750 417 609 1121 761 867 391 697 759 1021 785 565 1082 530 775 841 517 859 995 360 510 413 651 1087 593 580 412 624 585 959 506 672 904 805 1016 932 573 954 311 490 904 497 340 354 949 400 906 752 566 829 530 400 857 1040 894 845 446 946 699 592 787 440 579 503 1114 646 918 414 757 1096 729 580 664 793 593 1112 458 962 1045 974 867 579 1097 902 824 395 1101 678 777 1085 594 460 653 703 586 1096 739 557 674 1033 445 365 919 596 564 768 589 788 541 1084 469 729 726 1060 1090 1068 991 903 939 504 623 590 333 873 376 425 315 891 927 919 868 1104 766 615 831 419 511 640 1059 703 843 494 548 690 1039 513 826 566 520 839 1019 572 410 803 957 995 737 786 334 537 763 466 395"/>
<path transform="scale(.5)" fill="none" marker-start="url(#mk)" marker-mid="url(#mk)" marker-end="url(#mk)" d="M1135 314 1133 307 1118 302 1127 313 1098 290 1142 293 1103 296 1083 294 1141 294 1128 302 1141 293 1111 311 1110 315 1121 289 1124 332 1114 296 1145 379 1125 357 1143 293 1097 301 1076 301 1141 303 1129 313 1145 296 1075 299 1127 322 1145 289 1137 318 1116 346 1133 291 1116 312 1063 290 1140 303 1115 348 1109 301 1145 313 1107 296 1127 309 1106 289 1141 323 1104 320 1142 304 1079 290 1143 295 1109 304 1125 316 1081 306 1097 293 1106 309 1142 291 1122 291 1091 293 1120 319 1137 292 1123 347 1139 308 1130 314 1142 302 1129 290 1119 290 1134 296 1125 290 1136 321 1071 306 1109 291 1134 307 1106 291 1134 307 1140 303 1135 317 1134 344 1126 296 1077 304 1141 293 1143 298 1077 303 1087 305 1112 332 1141 292 1099 327 1136 296 1139 293 1064 292 1120 299 1133 341 1093 292 1099 296 1136 349 1139 314 1131 304 1090 298 1141 307 1119 294 1125 343 1141 291 1143 310 1120 314 1078 309 1136 307 1123 311 1131 288 1137 297 1143 300 1097 297 1139 312 1139 324 1118 333 1140 292 1113 314 1131 317 1089 299 1123 299 1142 322 1136 297 1116 302 1141 303 1112 326 1129 352 1129 294 1140 376 1098 294 1138 292 1107 304 1109 296 1130 317 1075 288 1137 300 1131 353 1121 314 1143 317 1100 305 1137 297 1129 309 1121 300 1134 323 1121 315 1134 308 1141 294 1125 316 1096 315 1097 316 1124 314 1110 295 1139 317 1132 355 1086 292 1082 299 1140 288 1113 308 1104 306 1108 304 1131 293 1081 289 1129 290 1127 314 1116 290 1112 291 1130 338 1134 309 1133 359 1120 289 1125 301 1141 300 1103 300 1142 304 1131 311 1134 301 1138 298 1125 315 1142 290 1142 313 1116 294 1080 300 1101 302 1111 340 1131 359 1125 295 1121 289 1137 293 1110 329 1136 293 1074 302 1131 328 1131 324 1133 288 1116 295 1137 306 1102 289 1126 304 1105 335 1138 289 1133 323 1136 321 1137 310 1114 296 1142 308 1123 330 1131 290 1133 292 1127 289 1101 296 1139 317 1114 312 1144 291 1120 296 1109 306 1099 292 1127 312 1094 326 1124 297 1132 293 1098 317 1085 316 1130 295 1081 288 1095 310 1097 316 1123 301 1144 320 1094 303 1140 302 1123 291 1107 296 1123 306 1129 295 1121 313 1070 300 1131 301 1139 322 1074 307 1127 297 1140 341 1133 307 1112 326 1143 290 1145 310 1113 304 1112 289 1132 296 1136 292 1122 293 1097 297 1119 294 1133 361 1139 293 1133 294 1134 307 1132 312 1139 292 1145 292 1097 304 1095 297 1107 290 1129 320 1131 298 1116 303 1115 301 1112 305 1141 298 1095 318 1126 297 1113 293 1121 288 1095 326 1124 323 1119 325 1133 303 1121 300 1110 323 1128 291 1142 312 1132 321 1118 293 1086 315 1133 313 1113 299 1144 318 1137 314 1134 327 1092 299 1131 352 1132 361 1097 306 1123 313 1129 306 1108 294 1083 309 1118 326 1141 316 1145 323 1124 294 1145 291 1120 297 1135 298 1077 290 1117 297 1130 316 1144 301 1113 323 1141 309 1139 302 1143 298 1142 319 1120 334 1121 322 1126 324 1072 299 1145 301 1138 316 1098 302 1143 303 1125 303 1121 306 1101 291 1119 329 1145 291 1117 298 1135 304 1129 316 1129 303 1123 322 1138 290 1141 294 1121 316 1087 301 1127 300 1138 325 1060 296 1136 311 1126 298 1124 328 1115 314 1095 312 1138 293 1096 319 1140 305 1139 325 1144 304 1109 302 1144 291 1123 346 1090 296 1131 317 1136 315 1123 288 1130 317 1097 290 1107 291 1141 300 1101 288 1143 321 1143 302 1102 319 1087 315 1101 310 1094 317 1082 306 1127 294 1135 308 1075 289 1123 291 1107 288 1132 292 1131 311 1101 290 1091 299 1138 359 1116 312 1098 289 1080 311 1140 310 1114 330 1122 319 1094 319 1121 289 1132 292 1121 306 1138 291 1119 301 1131 321 1069 301 1116 325 1142 321 1112 299 1139 321 1139 295 1119 310 1132 312 1067 291 1138 320 1108 329 1114 314 1101 289 1103 302 1145 306 1131 290 1109 307 1125 358 1126 323 1142 292 1104 300 1136 313 1136 297 1099 304 1139 289 1092 291 1123 302 1131 299 1145 305 1124 315 1126 314 1143 306 1128 294 1114 303 1122 292 1117 304 1127 293 1141 297 1139 369 1107 293 1117 303 1131 291 1130 299 1144 294 1131 361 1135 299 1133 325 1089 310 1130 339 1116 294 1137 364 1114 310 1140 294 1083 308 1107 310 1084 310 1137 324 1078 303 1116 344 1131 314 1120 340 1125 335 1144 308 1137 311 1127 317 1136 290 1128 302 1133 292 1114 306 1140 294 1124 324 1141 291 1132 354 1137 319 1112 290 1091 297 1118 304 1116 309 1145 319 1135 321 1101 326 1141 304 1140 306 1127 298 1121 303 1145 377 1096 305 1108 305 1105 313 1133 308 1144 310 1077 310 1138 303 1074 302 1112 306 1111 294 1122 291 1078 293 1119 340 1120 320 1123 340 1124 292 1117 330 1101 292 1122 332 1099 321 1102 292 1122 327 1117 289 1105 308 1096 291 1140 290 1091 291 1135 311 1145 317 1142 308 1122 296 1083 298 1123 306 1144 295"/>
</g>
<g clip-path="url(#c2)">
<path d="M688.5 534.3L770.5 534.3L770.4 534.3L770.3 534.1L770.0 530.4L769.7 526.8L769.2 523.2L768.7 519.6L768.0 516.0L767.2 512.4L766.3 508.8L765.3 505.2L764.2 501.6L763.0 498.0L761.6 494.5L760.1 491.0L758.5 487.5L756.8 484.0L754.9 480.5L752.9 477.2L750.8 473.8L748.5 470.5L746.1 467.3L743.5 464.2L740.8 461.1L737.9 458.1L734.9 455.3L731.8 452.5L728.5 449.9L725.0 447.4L721.5 445.1L717.8 443.0L714.0 441.0L710.0 439.3L706.0 437.7L701.9 436.4L697.7 435.3L693.5 434.4L689.2 433.8L688.5 433.4L688.5 433.3Z" fill="#f00" stroke="#f00" stroke-width="4" stroke-linejoin="round"/>
<path d="M689.5 533.3H727.5V542.8H689.5Z" fill="#f00" stroke="#f00" stroke-width="5" stroke-linejoin="round"/>
<path transform="scale(.5)" fill="none" marker-start="url(#mr)" marker-mid="url(#mr)" marker-end="url(#mr)" d="M1387 925 1437 872 1384 1042 1361 1016 1525 1060 1542 1017 1477 808 1597 1015 1581 901 1514 950 1546 1019 1472 925 1565 1060 1521 997 1473 934 1496 1060 1522 988 1560 1012 1382 886 1448 908 1408 828 1584 983 1524 979 1505 897 1433 844 1508 838 1384 1017 1452 871 1548 1062 1391 1022 1406 811 1383 969 1395 831 1442 1051 1380 1063 1382 1039 1473 905 1553 956 1525 1018 1555 1061 1385 1019 1455 1060 1501 975 1548 1047 1511 953 1384 954 1379 845 1497 894 1438 829 1545 1024 1510 846 1553 1062 1527 1059 1541 999 1534 976 1636 948 1542 1050 1578 955 1487 822 1631 1060 1564 1025 1386 956 1382 869 1539 1031 1361 1063 1424 785 1408 852 1473 927 1382 890 1505 979 1471 941 1500 953 1451 870 1494 915 1496 868 1497 935 1573 1061 1564 1019 1427 869 1542 956 1379 834 1437 851 1412 871 1539 925 1547 1063 1409 864 1479 829 1513 1008 1488 868 1426 770 1486 1059 1384 929 1574 994 1431 884 1385 1038 1492 964 1539 956 1409 867 1381 1061 1430 1058 1513 1081 1514 885 1461 835 1538 1000 1617 1042 1585 977 1472 882 1504 846 1384 934 1451 893 1455 807 1557 1020 1571 1019 1516 871 1382 1057 1386 935 1452 850 1386 905 1381 835 1409 863 1387 978 1479 889 1384 958 1436 866 1406 804 1386 997 1390 864 1383 858 1548 883 1499 852 1386 933 1453 885 1542 988 1432 893 1448 882 1522 1037 1578 1003 1387 917 1518 977 1541 873 1407 868 1530 1057 1427 1064 1569 995 1434 883 1382 883 1470 795 1507 996 1500 895 1544 949 1484 956 1393 1032 1363 890 1398 1082 1522 983 1565 1002 1450 863 1363 1058 1388 1064 1361 957 1384 996 1495 1060 1445 1082 1546 1037 1383 1027 1411 881 1385 1061 1380 1043 1536 1039 1384 849 1526 1002 1444 826 1465 1064 1506 977 1578 1062 1420 878 1566 1061 1566 976 1493 911 1385 879 1361 917 1555 1042 1386 856 1499 839 1500 1053 1440 1081 1552 1036 1361 1058 1585 1014 1481 1062 1464 1058 1478 922 1580 987 1404 792 1458 893 1518 1000 1526 922 1512 901 1385 843 1533 944 1496 1056 1383 991 1505 938 1517 1082 1384 954 1387 996 1420 884 1415 1060 1391 827 1384 848 1511 955 1543 968 1409 858 1524 1013 1507 978 1533 1052 1384 842 1614 1056 1380 868 1567 932 1453 892 1385 974 1620 1065 1429 880 1387 1023 1442 863 1559 935 1405 876 1385 795 1361 958 1488 895 1447 904 1503 947 1677 1064 1432 801 1560 943 1528 975 1386 1018 1444 1081 1516 1061 1508 1065 1537 1057 1430 873 1490 859 1588 894 1380 929 1523 992 1384 912 1498 1062 1384 1045 1382 829 1386 922 1385 898 1565 951 1475 1059 1385 1063 1498 955 1382 892 1477 830 1380 1038 1382 1041 1423 1059 1477 870 1502 913 1479 879 1447 861 1502 880 1616 993 1497 814 1543 970 1556 1023 1646 1042 1470 1059 1430 879 1590 977 1400 866 1628 1062 1529 1060 1630 1060 1517 1019 1495 1082 1573 1050 1362 1039 1518 861 1406 858 1362 992 1543 986 1384 913 1497 881 1478 900 1431 845 1383 906 1383 925 1513 950 1570 1029 1494 1057 1451 899 1511 976 1516 911 1479 929 1538 885 1526 998 1693 1037 1497 982 1405 731 1529 1018 1487 1063 1384 933 1521 995 1444 819 1570 955 1413 836 1384 889 1416 1056 1630 992 1386 800 1477 927 1382 1042 1384 879 1435 1060 1381 959 1486 908 1531 952 1532 979 1534 980 1541 993 1385 1055 1460 907 1387 855 1545 988 1497 925 1572 1056 1533 952 1576 1059 1381 931 1406 1083 1637 998 1612 1060 1563 919 1544 910 1386 931 1381 860 1567 1025 1541 977 1475 916 1521 1063 1380 931 1481 908 1565 985 1408 818 1511 934 1452 1063 1503 1061 1531 947 1454 841 1442 873 1386 922 1382 868 1529 963 1386 933 1428 837 1381 1038 1441 881 1590 954 1469 811 1385 957 1386 871 1534 1015 1501 938 1543 1036 1569 1056 1632 928 1361 1053 1431 1082 1361 1063 1511 925 1461 888 1516 803 1570 1063 1476 1066 1387 932 1381 879 1516 861 1592 1014 1505 1062 1387 876 1538 932 1393 934 1535 990 1530 962 1543 930 1436 890 1498 941 1648 981 1492 922 1568 1016 1477 849 1543 975 1405 1064 1570 1014 1521 928 1518 966 1450 893 1446 868 1383 837 1382 1006 1440 846 1446 1061 1509 1054 1382 1010 1382 934 1527 879 1534 1028 1385 860 1421 782 1511 995 1421 1052 1558 961 1586 1082 1561 948 1522 875 1583 994 1452 849 1582 893 1548 906 1532 1064 1444 906 1403 853 1394 842 1408 860 1381 832 1361 978 1543 955 1535 930 1518 900 1498 977 1471 932 1380 1061 1523 906 1390 859 1547 1047 1580 1062 1492 879 1456 876 1407 838 1386 771 1410 852 1381 834 1608 950 1465 860 1385 969 1549 1042 1437 750 1580 1060 1557 1041 1383 864 1363 1063 1429 1081 1477 1082 1405 1061 1533 856 1413 839 1618 915 1529 789 1510 948 1603 1018 1362 1040 1451 834 1438 1081 1506 883 1497 960 1386 989 1600 962 1552 1041 1399 1059 1386 1062 1383 880 1428 887 1383 1003 1460 881 1379 1017 1441 1082 1362 946 1560 1037 1385 866 1507 962 1453 1082 1516 1061 1541 1053 1479 928 1497 861 1452 1055 1519 990 1527 924 1558 1062 1582 1050 1479 934 1513 965 1510 978 1385 998 1382 1082 1541 1018 1520 1062 1385 1018 1387 895 1513 993 1518 886 1609 958 1414 879 1385 971 1388 883 1556 1011 1438 839 1560 1057 1464 884 1475 1060 1406 858 1399 1063 1382 1043 1544 931 1477 896 1480 911 1573 1063 1409 1055 1385 1037 1381 876 1406 823 1387 871 1509 1055 1388 951 1509 1061 1430 813 1468 893 1474 1062 1477 792 1453 895 1544 1041 1385 974 1436 786 1448 898 1489 956 1607 976 1426 882 1429 1082 1545 877 1502 865 1521 996 1495 911 1433 1060 1386 981 1381 1031 1406 881 1499 959 1382 1048 1388 1010 1475 1059 1503 1059 1361 1011 1560 976 1383 995 1418 818 1534 980 1495 948 1408 850 1578 1033 1412 835 1490 1083 1488 787 1387 846 1383 929 1384 1038 1531 1058 1538 989 1429 863 1555 874 1537 1064 1382 1040 1461 866 1523 972 1496 1061 1409 839 1384 955 1486 1063 1382 872 1382 1082 1553 1065 1556 1021 1402 1059 1512 919 1383 939 1533 1059 1386 1002 1572 1035 1535 1049 1409 869 1527 998 1524 954 1386 957 1383 877 1381 866 1494 937 1427 854 1567 1043 1383 842 1503 1064 1584 1082 1518 888 1472 909 1383 1019 1507 895 1451 870 1590 1006 1381 960 1572 910 1455 1082 1426 870 1520 920 1383 926 1592 1014 1516 954 1487 1062 1591 894 1382 928 1488 933 1560 979 1571 975 1492 922 1361 1060 1565 971 1383 849 1453 1061 1611 957 1426 1082 1453 892 1409 878 1382 911 1541 1059 1515 1062 1526 1043 1381 839 1540 952 1451 897 1382 788 1523 835 1382 926 1535 1044 1383 968 1580 1043 1383 1063 1381 1012 1535 862 1532 997 1542 854 1521 1018 1397 1061 1473 894 1386 1062 1379 922 1495 977 1507 887 1605 1033 1427 873 1564 1011 1361 1064 1512 952 1492 928 1381 1045 1432 861 1531 1037 1462 1064 1422 842 1420 787 1531 944 1473 909 1405 835 1475 864 1543 984 1385 830 1483 865 1479 903 1544 1016 1539 954 1501 918 1382 931 1540 966 1576 978 1362 1062 1453 906 1471 902 1404 1053 1592 895 1362 1036 1550 1023 1392 1060 1402 844 1551 926 1474 855 1390 1034 1383 1044 1617 908 1383 1048 1383 1040 1379 895 1362 1057 1466 920 1525 963 1485 945 1543 999 1505 906 1493 905 1440 888 1498 1062 1379 1039 1362 982 1380 1014 1543 907 1493 883 1538 1060 1538 1039 1382 1008 1380 924 1554 1000 1520 908 1533 1003 1548 1043 1622 986 1476 1082 1429 838 1386 943 1381 1082 1609 1081 1575 1034 1407 876 1540 910 1558 1059 1562 1062 1521 969 1569 1042 1391 1058 1413 874 1539 1017 1533 896 1524 997 1535 1060 1384 908 1390 940 1489 1063 1558 923 1508 902 1598 1011 1382 902 1537 957 1532 1018 1534 996 1493 930 1541 987 1540 973 1494 869 1385 953 1496 885 1453 844 1529 1022 1391 941 1407 1082 1487 963 1557 974 1549 958 1409 1081 1606 951 1429 874 1405 1060 1453 870 1494 932 1497 976 1518 1022 1425 889 1511 986 1563 1044 1513 892 1602 973 1532 932 1390 845 1483 847 1441 1082 1380 1060 1385 1003 1386 891 1385 905 1551 875 1559 914 1383 970 1602 1003 1573 1062 1507 1055 1480 954 1383 989 1361 952 1496 944 1515 1057 1510 983 1622 1025 1382 994 1508 1082 1446 854 1480 815 1537 994 1562 1018 1449 888 1508 927 1568 975 1570 969 1386 998 1399 840 1543 1034 1564 932 1646 997 1609 993 1450 865 1566 1019 1382 1062 1381 974 1591 997 1590 1017 1403 870 1382 955 1387 862 1493 960 1450 904 1387 905 1523 1082 1452 882 1546 1017 1391 1001 1530 976 1472 906 1382 849 1406 1056 1429 1065 1380 875 1507 889 1435 1057 1580 1061 1455 825 1449 898 1383 914 1567 974 1452 906 1599 988 1439 886 1497 806 1571 995 1382 858 1440 878 1451 781 1431 1063 1575 914 1583 969 1380 963 1538 1037 1386 954 1405 1052 1453 911 1544 919 1545 987 1466 851 1382 898 1410 863 1519 1057 1515 1082 1383 1023 1613 1061 1409 852 1394 1082 1563 930 1426 877 1431 896 1520 1082 1523 801 1495 826 1495 888 1496 962 1383 932 1592 1060 1388 923 1386 894 1431 792 1521 921 1524 978 1528 983 1630 979 1544 993 1553 996 1538 1060 1427 891 1474 896 1578 1062 1557 1053 1520 895 1404 866 1619 1046 1460 920 1581 1061 1528 923 1407 1060 1530 1037 1410 863 1388 939 1387 1053 1600 1035 1384 1039 1590 1082 1527 887 1390 815 1454 1082 1528 1049 1382 1082 1525 923 1561 1014 1410 1062 1397 857 1390 811 1419 847 1388 852 1452 890 1382 1062 1522 1014 1592 1010 1460 887 1385 813 1529 935 1596 950 1404 865 1578 1019 1477 944 1510 1055 1496 1053 1409 764 1392 1019 1565 1014 1555 1064 1384 837 1577 905 1518 948 1527 964 1504 949 1408 1055 1467 867 1514 956 1559 963 1382 883 1519 905 1500 954 1582 992 1554 1041 1452 893 1546 893 1426 876 1629 1003 1503 913 1538 1081 1382 943 1474 870 1534 1060 1529 837 1526 903 1429 867 1387 869 1503 842 1386 1031 1598 986 1522 923 1592 1036 1508 873 1384 946 1382 1082 1474 853 1452 886 1579 1062 1385 858 1546 1061 1383 881 1550 886 1361 1034 1509 864 1521 1013 1531 1013 1550 1065 1523 1022 1385 858 1446 848 1518 1058 1383 1041 1666 968 1512 903 1388 1050 1603 1027 1513 995 1391 1008 1505 876 1496 887 1517 801 1514 1063 1387 970 1383 1053 1497 975 1517 1060 1428 843 1383 962 1598 1001 1490 882 1408 841 1449 914 1384 889 1390 984 1385 924 1387 927 1523 996 1519 1013 1609 1063 1503 790 1382 1062 1512 1055 1571 1023 1548 997 1535 924 1527 887 1431 1061 1389 807 1519 1058 1519 1015 1409 1058 1469 915 1381 1065 1473 913 1471 879 1523 860 1513 900 1517 868 1463 888 1450 1062 1575 970 1452 875 1539 969 1431 784 1504 1063 1429 834 1543 1059 1517 1061 1562 1006 1455 911 1572 901 1382 877 1516 1059 1449 867 1433 847 1480 942 1428 842 1464 886 1384 1007 1585 1061 1382 845 1382 973 1384 1048 1384 794 1559 951 1505 1057 1456 870 1491 958 1425 1062 1386 1046 1399 843 1562 1060 1496 1060 1555 1016 1616 933 1430 763 1381 795 1384 803 1517 1017 1613 992 1517 1020 1524 878 1408 848 1534 1082 1436 794 1498 959 1504 904 1406 1082 1534 869 1385 939 1593 984 1396 1053 1429 873 1578 923 1452 906 1566 1030 1386 930 1487 916 1497 946 1673 1065 1486 961 1491 954 1472 929 1428 876 1501 931 1528 1063 1538 987 1539 887 1521 945 1512 1062 1465 1082 1477 1058 1543 860 1544 937 1403 843 1515 953 1474 872 1383 813 1383 889 1537 1065 1469 920 1502 892 1434 810 1452 890 1431 882 1436 881 1435 844 1383 870 1544 1062 1522 1018 1395 801 1550 980 1599 1063 1394 814 1402 1061 1575 973 1381 952 1594 1061 1383 819 1564 919 1576 1007 1520 1023 1509 936 1579 989 1615 1031 1384 942 1542 856 1542 1040 1493 920 1716 1018 1575 1014 1383 822 1407 1064 1529 987 1593 945 1473 880 1382 989 1602 922 1550 1066 1386 995 1381 1012 1460 874 1563 1062 1383 857 1505 986 1496 874 1388 999 1514 961 1382 908 1361 871 1506 1062 1524 867 1383 915 1542 1006 1406 832 1409 1060 1583 972 1613 955 1385 905 1380 960 1533 953 1547 848 1499 828 1450 819 1532 1030 1384 915 1542 974 1453 1061 1484 911 1471 857 1535 976 1537 1063 1570 1036 1451 901 1472 924 1384 821 1476 901 1457 902 1388 909 1479 941 1447 1081 1566 1049 1543 908 1593 998 1491 810 1386 950 1561 1065 1385 907 1542 838 1385 1046 1382 860 1471 841 1597 1015 1503 936 1388 871 1387 893 1449 897 1454 861 1537 988 1603 1011 1383 795 1598 1044 1559 911 1407 846 1503 888 1535 873 1521 1030 1651 1021 1404 1082 1381 948 1521 940 1532 966 1510 827 1383 957 1586 1034 1400 854 1518 894 1590 1059 1497 887 1553 996 1412 1082 1387 885 1518 972 1498 912 1387 956 1413 1057 1517 1020 1494 971 1379 954 1425 1082 1410 856 1514 1081 1383 977 1361 1063 1392 1065 1384 990 1565 1043 1583 1024 1499 1064 1400 1058 1427 881 1475 882 1560 1019 1493 891 1383 1082 1555 970 1518 898 1383 1061 1499 854 1555 916 1380 1040 1579 951 1454 877 1428 880 1566 995 1538 1045 1381 1041 1551 1023 1383 919 1530 1038 1396 1065 1474 918 1384 809 1495 1056 1612 925 1552 1048 1430 841 1550 1064 1390 907 1383 1041 1384 843 1524 1011 1477 941 1407 827 1604 1033 1408 1059 1625 994 1544 928 1429 869 1430 847 1560 1006 1569 1017 1520 883 1753 955 1524 886 1471 901 1499 952 1562 1038 1540 1061 1385 908 1472 1059 1428 846 1361 872 1453 845 1406 804 1384 919 1500 1083 1383 892 1533 885 1554 1021 1520 827 1380 974 1491 1053 1578 1018 1574 951 1569 1027 1426 860 1430 861 1385 973 1411 866 1626 1041 1382 908 1584 1017 1363 1053 1501 924 1383 910 1408 833 1524 891 1575 1017 1431 895 1540 1060 1362 1052 1383 952 1362 1040 1384 1010 1557 1061 1497 1058 1386 903 1386 930 1574 1061 1391 954 1408 862 1583 952 1545 996 1491 907 1633 1062 1475 901 1463 810 1444 844 1639 1062 1532 1026 1524 892 1511 865 1474 915 1538 1008 1420 1059 1382 829 1543 909 1510 970 1384 968 1388 974 1390 960 1386 818 1542 1062 1511 992 1527 1033 1440 899 1427 1059 1556 1062 1383 888 1669 1049 1384 952 1520 950 1584 890 1449 1052 1465 1061 1437 1060 1385 975 1583 1061 1482 1058 1522 967 1576 1001 1437 1061 1429 826 1450 913 1595 951 1582 1051 1387 913 1521 943 1387 930 1387 1062 1452 1082 1385 1000 1451 889 1598 906 1398 851 1388 770 1617 1061 1509 912 1482 1063 1382 1040 1522 905 1385 886 1386 1053 1584 969 1413 1053 1543 1024 1521 988 1520 951 1589 1053 1509 1061 1547 867 1614 995 1389 1038 1505 888 1382 1005 1509 997 1533 826 1598 1063 1520 1000 1383 1025 1492 965 1566 949 1603 993 1382 828 1444 800 1462 890 1523 1033 1385 1021 1382 849 1550 1039 1510 907 1581 1018 1554 1000 1432 864 1569 874 1390 872 1531 1025 1384 1058 1362 957 1564 1011 1384 856 1533 956 1498 930 1580 1058 1382 1059 1452 915 1384 1020 1385 866 1428 841 1405 1064 1428 1060 1508 857 1454 887 1431 1082 1413 1061 1476 908 1470 899 1406 842 1384 1082 1520 887 1543 1055 1549 1039 1470 903 1508 881 1598 893 1563 981 1550 1014 1383 1005 1361 1055 1386 1043 1532 898 1489 919 1432 1060 1384 933 1559 1009 1408 1061 1529 987 1382 964 1540 844 1390 948 1494 976 1384 885 1408 858 1386 1000 1560 1013 1591 891 1476 824 1385 1014 1382 915 1524 966 1577 1037 1502 870 1520 977 1537 876 1539 898 1551 911 1383 952 1412 1060 1458 1063 1385 978 1394 1082 1542 1036 1641 1035 1382 975 1648 972 1455 869 1457 856 1384 919 1494 958 1471 938 1590 999 1562 888 1475 937 1523 993 1384 964 1386 1032 1596 975 1488 963 1552 1062 1413 876 1581 986 1448 834 1459 894 1541 1043 1386 1082 1508 934 1407 1056 1448 909 1541 953 1450 1057 1484 911 1541 1034 1406 827 1421 1057 1427 824 1548 983 1566 1008 1386 910 1469 852 1387 945 1552 993 1496 1060 1382 1047 1546 1054 1579 957 1386 906 1406 1061 1387 953 1449 900 1388 831 1543 1017 1385 850 1385 1043 1484 878 1462 928 1486 1061 1529 1018 1361 909 1496 755 1476 924 1595 975 1383 969 1406 871 1397 876 1418 865 1383 849 1405 1064 1476 920 1456 829 1474 912 1474 914 1544 1014 1464 1062 1449 890 1621 993 1410 1061 1435 869 1398 817 1382 975 1526 902 1572 1042 1495 976 1481 904 1406 1054 1426 805 1573 1050 1383 855 1492 1082 1515 999 1493 864 1495 871 1429 823 1381 916 1547 894 1485 955 1395 806 1506 954 1383 983 1514 972 1488 853 1387 1035 1494 926 1547 1025 1460 836 1490 1054 1396 858 1522 974 1510 966 1449 861 1430 1082 1476 853 1406 861 1535 913 1433 831 1362 1061 1446 854 1393 974 1385 914 1379 855 1551 919 1471 876 1636 1019 1497 856 1457 1062 1380 899 1402 876 1437 1060 1384 848 1539 913 1515 998 1518 891 1383 845 1476 847 1385 854 1489 880 1534 875 1578 1041 1380 922 1643 1057 1548 1034 1540 1010 1577 926 1388 1082 1489 1061 1386 965 1583 1061 1586 1062 1381 958 1443 891 1529 1062 1560 1053 1495 979 1533 1051 1387 960 1611 1044 1382 974 1453 1082 1384 912 1506 933 1527 885 1429 1082 1514 1060 1404 822 1427 858 1519 1008 1486 905 1406 1082 1415 884 1489 874 1382 1016 1382 840 1480 905 1560 1048 1547 934 1384 886 1539 948 1544 938 1548 950 1519 896 1604 1025 1451 830 1542 1039 1441 850 1583 1028 1535 1057 1515 1019 1564 1059 1384 884 1496 1061 1526 949 1583 911 1492 1062 1496 880 1610 1018 1384 864 1557 866 1431 1060 1545 1037 1400 856 1527 1061 1516 1064 1475 936 1546 1082 1532 944 1588 974 1581 992 1461 844 1504 839 1382 1027 1558 952 1383 944 1456 868 1473 875 1586 1039 1517 1054 1521 938 1498 1062 1472 940 1565 994 1545 982 1387 839 1383 828 1553 877 1489 906 1589 1035 1436 1061 1554 1059 1422 1057 1573 952 1382 908 1578 1053 1579 887 1582 1038 1513 936 1550 918 1449 843 1469 821 1517 991 1385 855 1453 900 1386 839 1521 950 1534 943 1381 1020 1569 1001 1453 846 1456 891 1362 1018 1523 1021 1449 829 1563 936 1386 967 1382 1053 1558 996 1588 1038 1575 1034 1623 999 1480 930 1543 1082 1599 1044 1384 871 1471 810 1489 1053 1461 891 1576 1041 1546 1053 1505 988 1577 932 1540 1039 1382 954 1386 941 1406 855 1439 868 1509 974 1624 952 1494 1054 1386 944 1427 1059 1361 956 1559 933 1477 933 1454 869 1455 1056 1525 1061 1453 883 1567 994 1599 973 1411 839 1508 1063 1573 974 1383 910 1418 856 1381 1082 1548 1063 1383 994 1387 1031 1503 854 1582 956 1492 905 1382 1040 1584 976 1384 919 1526 1012 1517 899 1389 1017 1519 1064 1465 917 1401 794 1554 892 1411 864 1451 1051 1382 868 1382 698 1362 1055 1386 839 1520 985 1561 961 1522 909 1496 932 1382 857 1387 1017 1518 910 1462 920 1496 931 1385 832 1382 989 1418 882 1404 773 1384 823 1471 1083 1380 868 1485 914 1361 846 1569 1013 1544 984 1362 1000 1383 982 1382 954 1518 905 1525 971 1532 1062 1503 931 1498 806 1361 1041 1682 1040 1501 908 1432 878 1497 951 1523 1006 1507 914 1556 922 1457 893 1470 874 1520 1083 1577 907 1492 883 1529 1017 1420 885 1529 803 1524 954 1593 1054 1545 1060 1362 1040 1496 1063 1499 1056 1384 956 1558 978 1473 894 1524 970 1422 1053 1383 976 1494 1055 1524 829 1539 1045 1463 1063 1495 979 1361 902 1520 1052 1431 881 1390 994 1476 842 1563 1058 1517 931 1382 850 1568 1009 1524 934 1386 1062 1515 803 1406 848 1522 933 1476 845 1524 964 1485 950 1477 1064 1491 871 1379 1032 1562 1009 1442 880 1526 930 1571 982 1385 976 1546 958 1598 1060 1451 883 1520 884 1550 1041 1549 995 1495 794 1569 1052 1387 995 1445 1083 1523 914 1574 1018 1428 882 1411 1065 1557 1024 1576 954 1423 1063 1558 1061 1382 918 1471 830 1384 901 1503 959 1439 902 1539 899 1568 1028 1428 858 1555 1023 1502 950 1532 873 1408 809 1480 935 1618 1016 1569 1027 1514 853 1553 893 1583 972 1578 1064 1402 1062 1466 1060 1388 882 1387 936 1381 930 1408 858 1570 951 1554 1022 1385 992 1594 997 1492 964 1588 959 1496 890 1559 1032 1407 877 1383 952 1564 976 1384 1016 1550 931 1546 872 1382 841 1426 875 1595 933 1549 934 1520 1020 1412 870 1520 995 1429 855 1537 1033 1595 891 1645 939 1382 1063 1436 1060 1476 826 1655 1018 1520 832 1383 835 1545 923 1513 917 1462 817 1385 851 1492 889 1385 946 1515 786 1627 931 1363 813 1550 1005 1362 1063 1611 922 1544 938 1512 882 1445 896 1547 923 1427 794 1495 930 1443 867 1499 839 1383 861 1385 885 1517 866 1553 935 1388 997 1362 1063 1522 999 1408 857 1561 942 1385 808 1515 999 1565 929 1687 1033 1541 1042 1517 1058 1520 975 1382 737 1384 889 1540 986 1384 1062 1611 941 1552 994 1550 1008 1463 823 1647 951 1436 899 1385 1055 1511 925 1385 975 1475 842 1543 1019 1478 1062 1429 895 1473 794 1382 1058 1387 883 1459 840 1543 1059 1431 884 1464 903 1385 1082 1405 868 1430 831 1391 971 1582 1054 1384 1061 1385 845 1406 769 1362 991 1405 840 1477 929 1495 911 1546 892 1526 975 1513 1016 1411 880 1560 1058 1362 873 1462 915 1535 913 1393 849 1539 995 1437 866 1465 910 1452 877 1514 1061 1541 1000 1442 874 1384 844 1476 829 1384 866 1362 1061 1414 807 1453 833 1441 779 1443 1062 1388 970 1541 1014 1618 1039 1383 908 1531 1060 1572 979 1489 954 1486 873 1551 972 1575 991 1606 1062 1578 978 1564 1063 1538 1057 1516 948 1529 889 1461 809 1422 815 1452 887 1542 1058 1382 867 1474 876 1475 1082 1491 928 1384 952 1493 1061 1462 903 1384 964 1492 928 1454 1058 1382 894 1427 1081 1448 891 1487 911 1399 856 1484 900 1572 953 1518 1063 1383 996 1387 975 1495 907 1486 925 1523 945 1542 852 1362 1063 1570 895 1556 967 1391 1024 1384 1037 1637 1017 1499 951 1552 1031 1553 1063 1487 1061 1386 884 1390 977 1542 1021 1426 814 1637 1065 1433 855 1470 776 1384 913 1449 1082 1496 1064 1474 831 1475 891 1520 1063 1384 856 1543 953 1516 933 1424 1057 1533 931 1388 890 1500 956 1383 877 1432 877 1526 1058 1528 863 1512 985 1571 1033 1534 1033 1386 837 1505 1061 1485 950 1510 1063 1562 995 1504 961 1384 829 1499 949 1451 907 1381 998 1533 1048 1391 784 1593 1006 1380 824 1381 948 1457 908 1424 851 1440 1082 1468 1062 1508 1059 1494 974 1386 791 1576 1047 1517 1020 1436 865 1438 827 1441 875 1488 1057 1434 823 1600 895 1384 1050 1447 1082 1556 931 1390 893 1465 797 1612 999 1486 1082 1536 977 1522 997 1524 1030 1543 955 1427 880 1434 878 1524 1063 1506 950 1548 1048 1453 812 1518 890 1554 926 1386 887 1441 878 1457 1054 1541 892 1431 815 1541 1040 1436 1082 1388 868 1540 888 1427 874 1453 917 1699 995 1572 1014 1391 910 1474 878 1399 1082 1621 1062 1361 1050 1390 918 1591 964 1433 875 1476 904 1516 1082 1451 1063 1457 891 1380 799 1495 1083 1387 936 1387 862 1663 998 1517 1056 1599 974 1470 885 1495 904 1584 1045 1454 833 1500 973 1382 1082 1386 880 1520 957 1383 878 1567 1057 1526 925 1383 986 1530 951 1361 947 1392 1032 1548 1018 1427 862 1385 895 1554 1061 1388 1008 1445 908 1384 1038 1417 798 1406 1063 1523 1058 1405 866 1582 974 1382 901 1398 862 1401 1062 1545 1062 1542 1040 1511 868 1507 888 1540 950 1434 1063 1496 930 1528 1061 1512 1000 1384 1006 1473 832 1454 912 1382 859 1498 1062 1449 893 1411 865 1495 862 1470 848 1564 1061 1572 1027 1495 934 1442 790 1383 822 1447 906 1383 974 1576 989 1431 818 1493 864 1491 821 1503 947 1520 874 1478 924 1452 1063 1403 869 1541 998 1382 1032 1426 867 1403 873 1454 854 1529 964 1579 1052 1525 977 1705 1056 1540 1065 1423 838 1573 1038 1484 952 1588 1056 1401 1060 1564 1032 1385 835 1497 862 1542 1044 1399 798 1386 1056 1525 1019 1405 1057 1440 1061 1616 1000 1541 971 1588 972 1429 869 1382 914 1621 977 1536 1063 1573 1061 1482 1059 1362 1041 1497 1064 1514 1063 1477 1063 1550 910 1362 1018 1386 1082 1525 902 1380 936 1499 949 1633 1007 1528 999 1527 911 1561 943 1560 1058 1520 954 1625 1018 1496 946 1389 920 1393 1065 1435 876 1498 1082 1528 1057 1556 988 1519 983 1486 829 1488 960 1518 921 1525 1083 1500 888 1361 956 1569 1020 1390 955 1385 1082 1528 968 1479 952 1381 1013 1574 893 1430 841 1401 1082 1528 960 1555 939 1521 985 1389 1043 1486 959 1507 888 1363 814 1470 900 1537 906 1444 818 1412 828 1450 872 1474 1081 1383 844 1497 921 1384 1018 1380 835 1423 820 1469 1082 1447 887 1388 986 1499 950 1409 1082 1563 1039 1407 833 1460 894 1559 1062 1405 1082 1473 1061 1381 975 1385 1045 1560 1059 1499 972 1361 1016 1483 1063 1426 1064 1486 889 1486 887 1576 973 1450 890 1483 935 1597 1061 1585 1002 1383 994 1474 868 1496 934 1535 994 1566 1063 1553 924 1549 955 1424 1081 1564 1065 1519 957 1520 967 1419 841 1600 970 1474 862 1382 893 1537 1013 1427 1063 1483 938 1408 1082 1495 885 1430 1063 1593 951 1384 993 1386 1063 1607 952 1570 991 1517 804 1616 921 1427 894 1428 1062 1379 889 1361 1060 1361 1062 1559 1061 1385 995 1383 932 1409 875 1473 911 1523 903 1382 949 1552 1062 1494 954 1635 1047 1477 814 1607 1018 1387 860 1544 972 1508 1057 1523 1012 1403 880 1387 916 1536 1037 1527 1060 1470 837 1361 1061 1599 998 1414 789 1385 857 1544 998 1520 1081 1381 1002 1387 814 1408 851 1565 916 1542 915 1491 952 1533 957 1385 901 1413 885 1453 835 1537 1043 1529 904 1509 976 1546 946 1503 958 1506 884 1384 891 1554 1049 1363 956 1431 888 1597 1053 1552 946 1530 954 1450 910 1518 868 1424 804 1533 894 1566 1053 1586 980 1385 958 1462 888 1517 953 1522 910 1428 1058 1463 880 1541 1062 1384 848 1498 863 1473 909 1443 888 1387 954 1383 1060 1430 800 1542 927 1382 824 1551 928 1607 980 1384 855 1558 924 1546 1062 1497 1058 1637 1035 1629 1062 1628 1082 1533 1039 1483 1082 1494 1059 1428 1064 1589 1015 1527 1011 1462 916 1430 896 1429 859 1634 1046 1536 1063 1395 1083 1534 996 1406 1059 1546 977 1386 886 1497 961 1550 1054 1506 1059 1596 1041 1512 951 1458 824 1381 907 1497 973 1362 825 1382 802 1562 977 1496 944 1389 967 1540 973 1531 879 1617 963 1431 1064 1483 914 1446 910 1420 841 1428 835 1389 976 1578 1052 1489 909 1574 996 1501 1063 1437 1063 1438 875 1519 865 1527 998 1493 1062 1522 1055 1447 894 1389 892 1523 922 1379 1000 1524 1060 1540 1017 1515 874 1406 1082 1408 861 1362 1040 1400 1055 1404 839 1385 1063 1474 942 1512 895 1486 956 1433 861 1520 896 1529 1020 1362 1061 1474 894 1382 887 1405 842 1532 1040 1386 1025 1533 1040 1464 1082 1382 909 1478 904 1526 879 1362 941 1452 849 1402 866 1518 1003 1543 995 1381 863 1385 887 1577 1008 1517 954 1382 859 1448 861 1528 1059 1429 895 1383 929 1383 795 1455 888 1379 825 1475 931 1381 827 1384 838 1542 942 1519 955 1562 1060 1675 933 1565 874 1362 969 1379 960 1380 929 1385 893 1439 850 1496 930 1510 791 1521 990 1531 973 1429 1082 1491 872 1533 1060 1608 1020 1384 1035 1579 931 1423 851 1432 808 1542 996 1519 804 1433 840 1547 1063 1450 1062 1539 954 1418 834 1577 1034 1385 886 1455 817 1467 1082 1435 900 1430 1060 1473 890 1572 1013 1484 936 1541 869 1383 903 1474 852 1384 895 1382 905 1452 1064 1428 1058 1387 1007 1521 929 1440 903 1398 859 1445 869 1385 852 1384 1058 1452 889 1401 1082 1513 1065 1431 1082 1406 878 1476 906 1541 996 1539 996 1384 882 1497 1062 1474 1059 1500 975 1430 828 1479 836 1416 879 1385 899 1472 840 1384 1016 1380 1018 1393 1036 1504 968 1601 914 1452 1063 1601 934 1447 849 1567 1021 1598 1082 1525 1022 1533 1015 1386 1014 1383 821 1606 906 1450 808 1412 809 1386 802 1388 850 1462 888 1472 923 1389 889 1546 975 1429 873 1389 909 1500 926 1583 1051 1479 941 1383 887 1361 872 1506 951 1362 1063 1407 1082 1383 834 1545 1064 1500 849 1526 962 1574 960 1538 930 1577 977 1382 953 1559 1038 1488 887 1593 1063 1438 877 1361 1082 1498 982 1386 1058 1606 899 1427 840 1386 926 1385 903 1380 880 1532 1017 1574 1020 1519 972 1512 1058 1384 876 1498 1063 1382 824 1575 976 1546 952 1385 1059 1548 913 1391 1042 1453 842 1504 986 1476 786 1477 1062 1382 994 1385 1043 1388 1064 1476 818 1580 901 1428 867 1491 914 1409 1061 1452 873 1388 928 1362 1039 1384 812 1385 1014 1384 959 1384 867 1596 968 1392 977 1522 912 1385 912 1386 1065 1455 887 1420 866 1518 892 1363 991 1526 1061 1650 950 1472 921 1611 1048 1450 911 1490 845 1447 897 1406 820 1465 864 1385 906 1387 851 1427 890 1525 998 1745 1012 1519 987 1453 889 1399 857 1398 835 1416 1063 1476 1082 1489 960 1401 857 1421 869 1475 1083 1527 1082 1473 930 1511 889 1382 1016 1381 1040 1557 953 1502 1065 1434 819 1416 883 1362 909 1385 819 1361 1062 1523 1006 1429 776 1383 972 1382 855 1384 907 1384 994 1506 1056 1430 847 1529 878 1487 1082 1454 1060 1382 948 1386 994 1531 996 1453 843 1362 1019 1581 900 1382 953 1572 982 1557 1060 1386 927 1418 839 1569 1063 1409 840 1520 1062 1507 1062 1554 1060 1505 990 1592 977 1457 860 1380 822 1478 1062 1472 1082 1384 949 1472 743 1542 1032 1531 1062 1472 933 1403 1061 1404 837 1580 911 1517 1020 1380 817 1382 865 1401 1065 1578 918 1392 869 1389 870 1577 981 1498 896 1628 1034 1476 913 1450 1059 1391 870 1385 845 1465 791 1428 1059 1558 879 1441 1058 1529 1061 1405 881 1449 882 1385 868 1451 1060 1410 872 1588 1039 1520 996 1380 877 1558 1042 1393 1042 1495 905 1384 942 1387 868 1477 1063 1456 1062 1533 1082 1450 883 1617 923 1481 947 1578 1062 1499 1052 1553 1037 1422 889 1381 1046 1361 955 1431 1061 1382 1037 1382 899 1430 1082 1525 933 1383 886 1384 1032 1382 973 1519 997 1565 965 1382 888 1562 922 1362 892 1384 941 1549 866 1494 895 1525 1040 1472 869 1451 874 1408 882 1434 1059 1574 1010 1461 912 1541 1059 1515 849 1561 1028 1383 837 1484 870 1568 996 1494 1082 1427 877 1383 891 1385 867 1388 1025 1380 1046 1383 1026 1385 1081 1391 1019 1447 1062 1589 951 1381 903 1542 1039 1479 1059 1566 965 1384 991 1430 867 1523 830 1409 1052 1474 882 1450 887 1361 1055 1384 952 1382 1040 1489 871 1381 978 1429 885 1386 1039 1432 855 1473 1058 1385 974 1454 902 1561 1062 1361 1051 1407 1082 1384 830 1500 794 1469 914 1506 937 1494 1060 1382 1035 1613 1016 1385 1031 1514 961 1497 967 1452 881 1384 864 1381 979 1414 822 1389 1062 1470 900 1430 1062 1429 1082 1389 904 1383 957 1382 789 1477 886 1503 893 1442 896 1446 1062 1546 887 1532 1033 1468 878 1361 905 1362 998 1386 1021 1533 852 1477 787 1447 885 1362 1036 1418 886 1538 874 1551 1040 1405 797 1385 1034 1441 842 1432 1061 1563 989 1450 1061 1467 869 1380 851 1458 1064 1525 1006 1385 812 1384 893 1384 821 1385 841 1392 841 1429 881 1560 1018 1497 976 1424 887 1541 1016 1547 917 1388 834 1426 1061 1520 982 1453 913 1482 1062 1590 979 1384 995 1515 952 1541 1051 1405 745 1528 1047 1429 840 1528 1013 1384 818 1452 910 1667 1017 1384 807 1597 1081 1430 1082 1498 891 1456 920 1560 924 1381 877 1524 913 1515 1062 1493 953 1411 854 1535 1010 1518 998 1507 998 1502 884 1520 980 1381 903 1509 927 1572 1082 1567 1019 1635 897 1428 1061 1570 1057 1477 886 1537 1046 1515 962 1381 897 1390 926 1649 972 1435 890 1564 929 1408 866 1568 1082 1429 858 1385 913 1387 902 1541 1041 1477 903 1472 737 1390 854 1508 908 1362 988 1531 1041 1501 1063 1443 886 1385 1060 1528 1062 1408 860 1483 1082 1381 866 1575 902 1481 907 1547 1062 1542 1018 1451 836 1426 861 1588 956 1385 979 1523 998 1586 996 1533 986 1386 956 1527 894 1381 1039 1474 866 1414 1060 1452 805 1465 891 1381 1010 1432 888 1556 1062 1501 1056 1481 885 1388 949 1455 1064 1537 1028 1446 910 1382 902 1575 1060 1547 949 1451 1081 1445 864 1421 1082 1559 952 1493 897 1450 1062 1466 931 1547 1008 1498 931 1384 1052 1471 1081 1481 936 1382 976 1453 903 1443 867 1516 1063 1505 831 1558 1049 1405 877 1435 1082 1517 972 1539 1062 1528 871 1384 1007 1566 930 1404 833 1541 994 1382 1037 1403 848 1385 848 1407 874 1387 830 1568 917 1389 1017 1412 880 1383 802 1457 868 1385 838 1403 1063 1488 1065 1573 1053 1411 868 1384 877 1385 929 1643 926 1432 1081 1497 890 1385 975 1380 896 1473 912 1587 1027 1521 1005 1426 1060 1462 888 1427 811 1384 1000 1380 920 1393 845 1530 1021 1500 925 1406 801 1382 972 1362 1061 1489 958 1406 1063 1489 1054 1554 962 1536 1016 1548 1063 1513 1061 1401 1060 1361 828 1503 899 1428 1082 1521 1029 1593 1057 1382 1054 1454 913 1574 994 1494 1063 1509 954 1385 898 1538 1002 1454 848 1391 938 1463 1060 1425 831 1396 872 1408 1082 1431 1055 1562 995 1390 857 1476 1083 1510 861 1496 885 1566 1042 1556 927 1571 952 1520 1006 1515 1063 1441 858 1413 1063 1468 1082 1491 894 1456 890 1631 1007 1435 785 1550 903 1412 860 1517 975 1511 933 1411 878 1572 1057 1578 927 1554 977 1450 850 1492 950 1508 920 1451 878 1481 928 1454 904 1557 996 1393 993 1545 1041 1382 1028 1456 849 1390 995 1500 965 1387 864 1381 999 1493 952 1523 1060 1495 963 1382 1062 1392 866 1405 1061 1570 913 1539 894 1427 1081 1452 878 1469 1062 1546 997 1404 822 1388 907 1529 1059 1405 866 1489 859 1477 845 1459 842 1541 957 1495 1058 1498 914 1475 875 1434 1052 1441 888 1398 866 1563 1020 1548 1062 1506 855 1474 836 1475 1057 1437 898 1405 881 1387 968 1531 896 1512 935 1406 865 1504 893 1425 878 1389 939 1428 867 1391 886 1592 914 1463 796 1582 897 1497 880 1512 911 1382 936 1492 902 1379 1047 1386 1063 1549 1082 1439 880 1521 1061 1628 1039 1361 1082 1515 874 1424 868 1499 933 1448 1062 1384 973 1424 843 1383 944 1504 926 1479 833 1382 1082 1598 1060 1621 1062 1522 1081 1382 1059 1607 1029 1573 910 1386 850 1406 867 1523 931 1543 974 1445 1082 1458 828 1384 1000 1520 976 1408 863 1388 955 1387 880 1432 877 1543 1039 1430 764 1382 952 1549 1059 1472 920 1567 1061 1362 1051 1384 963 1384 919 1385 958 1389 859 1497 931 1388 971 1388 907 1590 1062 1525 916 1385 868 1514 943 1393 1041 1432 832 1426 1061 1397 828 1510 999 1398 828 1444 1082 1455 886 1535 1039 1586 1062 1452 855 1381 1045 1451 1061 1495 962 1387 1063 1495 887 1415 1062 1572 992 1539 1062 1382 993 1536 1035 1508 894 1597 930 1609 922 1386 779 1406 844 1490 899 1383 1023 1385 959 1588 1005 1434 889 1552 873 1361 906 1380 984 1520 975 1543 978 1570 1056 1535 1057 1449 1059 1556 929 1443 889 1593 1036 1532 926 1480 1063 1494 1060 1404 1062 1525 1063 1557 1022 1381 855 1535 1041 1515 976 1486 1063 1518 995 1385 829 1662 1059 1449 1063 1382 806 1493 889 1509 978 1467 931 1590 974 1435 891 1612 980 1454 1082 1407 1061 1561 1061 1498 940 1496 954 1428 887 1538 1000 1623 1061 1498 1062 1404 869 1492 1058 1470 857 1401 791 1497 910 1383 896 1384 918 1579 1059 1385 865 1474 940 1446 1059 1391 1062 1541 917 1511 965 1643 997 1518 1015 1533 896 1384 996 1518 1082 1387 879 1570 1064 1383 1026 1428 1082 1460 822 1379 1034 1508 926 1446 1082 1385 859 1505 919 1623 994 1539 1063 1382 926 1388 970 1387 897 1523 1015 1445 905 1384 1040 1520 905 1505 855 1388 1082 1433 896 1382 1024 1568 997 1497 839 1457 1059 1403 1062 1528 873 1576 898 1381 853 1452 909 1384 1049 1388 890 1570 877 1596 944 1431 830 1385 1062 1577 1065 1474 926 1450 861 1506 728 1578 900 1540 931 1384 982 1520 998 1666 1057 1511 841 1382 857 1477 810 1498 933 1492 974 1550 1060 1488 883 1429 1062 1431 877 1384 836 1491 1062 1480 912 1504 905 1385 824 1529 1082 1593 1058 1517 1063 1531 941 1520 937 1533 995 1436 848 1416 1082 1432 812 1602 960 1454 855 1421 862 1573 950 1477 853 1566 890 1555 1059 1452 866 1519 950 1494 909 1539 1017 1522 857 1361 975 1382 1042 1527 1043 1390 1020 1387 788 1517 1051 1514 843 1526 990 1507 959 1535 911 1603 974 1482 950 1452 912 1493 922 1387 869 1430 840 1449 894 1431 810 1500 916 1588 1008 1505 913 1475 933 1381 1030 1427 1082 1380 928 1565 921 1539 968 1386 1028 1516 949 1476 910 1403 851 1564 1061 1382 937 1633 1017 1564 1016 1524 1081 1463 882 1491 963 1518 1016 1484 839 1647 921 1474 908 1392 1061 1484 938 1526 927 1398 1055 1412 1062 1523 905 1527 928 1462 914 1387 867 1496 876 1409 829 1506 968 1562 1018 1406 867 1533 817 1408 1058 1531 950 1498 938 1384 843 1730 1059 1406 866 1547 1043 1390 973 1383 957 1541 995 1550 1060 1512 892 1511 997 1452 1053 1524 1057 1495 1057 1382 1043 1459 888 1454 859 1549 897 1451 799 1499 951 1454 883 1530 953 1490 915 1474 1053 1361 951 1426 874 1453 857 1463 1062 1533 1063 1571 1055 1539 1017 1535 998 1500 936 1581 1040 1595 934 1382 1038 1383 995 1486 1063 1579 1033 1454 915 1498 911 1543 1063 1385 1013 1513 928 1533 968 1392 954 1514 1017 1362 957 1404 833 1452 910 1462 893 1475 1063 1406 837 1566 881 1468 834 1437 889 1549 1063 1381 970 1704 1061 1385 876 1512 946 1544 951 1503 796 1525 831 1600 932 1461 1059 1449 885 1585 1035 1384 1062 1389 859 1450 1058 1383 976 1585 958 1501 893 1626 1060 1485 946 1552 932 1524 1016 1529 969 1384 988 1536 847 1386 848 1524 1060 1397 843 1361 1082 1550 1038 1542 1020 1382 947 1362 1030 1475 934 1529 829 1412 871 1527 955 1458 806 1458 827 1509 929 1480 1056 1512 977 1523 1000 1542 1048 1488 892 1531 1016 1384 1012 1493 1063 1528 1027 1521 990 1523 955 1512 988 1362 875 1533 1055 1538 1083 1429 797 1516 1011 1595 1082 1444 900 1477 845 1587 1011 1464 1081 1574 1010 1506 856 1385 871 1571 1063 1383 1063 1383 974 1637 927 1577 953 1386 855 1483 859 1510 848 1534 1041 1539 999 1428 847 1528 1048 1361 1059 1387 1032 1505 899 1491 904 1491 1063 1496 928 1564 956 1385 1009 1380 1062 1545 949 1547 1019 1388 944 1484 917 1384 1001 1528 1043 1384 889 1391 1061 1450 896 1533 1062 1602 960 1382 839 1406 850 1402 847 1381 978 1564 953 1571 1040 1391 1001 1467 875 1405 1082 1546 1037 1536 992 1384 850 1383 876 1406 815 1505 1060 1406 1057 1430 847 1385 829 1516 868 1362 1059 1384 909 1483 886 1387 1017 1456 889 1575 901 1533 1029 1389 855 1446 850 1485 913 1571 1019 1597 1082 1384 916 1525 892 1428 1059 1470 1082 1549 1061 1406 870 1557 1019 1478 928 1404 1055 1434 889 1386 1023 1517 956 1383 992 1385 859 1498 929 1531 1043 1455 872 1503 839 1523 975 1527 1006 1520 1064 1382 877 1536 1061 1537 996 1514 1006 1416 877 1523 996 1542 1011 1385 961 1379 945 1533 975 1429 869 1450 888 1557 948 1431 1057 1385 856 1574 971 1391 838 1584 1032 1428 1058 1620 967 1579 1023 1480 939 1509 1054 1406 1058 1381 991 1581 1032 1429 1059 1479 1082 1464 891 1596 1038 1390 879 1383 855 1467 809 1577 928 1485 893 1555 1026 1445 1059 1593 1023 1429 811 1443 1058 1544 961 1438 864 1387 945 1403 1059 1363 1058 1555 998 1442 899 1384 1014 1409 1058 1383 916 1384 995 1588 1062 1448 891 1543 1062 1403 855 1525 1018 1465 906 1406 785 1510 981 1548 1005 1479 906 1447 1061 1407 850 1518 1061 1452 871 1594 973 1692 997 1530 885 1383 891 1532 874 1426 877 1497 929 1560 1059 1402 1061 1475 913 1510 976 1385 882 1610 953 1511 984 1455 921 1518 938 1596 1004 1525 975 1388 978 1424 871 1384 838 1539 974 1494 954 1533 962 1384 830 1525 984 1441 898 1409 878 1430 892 1388 1058 1559 1028 1531 859 1583 1031 1471 1059 1404 849 1453 834 1604 972 1453 833 1552 1041 1548 898 1535 930 1558 1031 1416 1058 1428 1082 1516 973 1391 818 1537 1060 1508 990 1405 1056 1461 880 1502 962 1612 921 1484 901 1562 895 1548 1009 1553 1061 1495 974 1430 1082 1361 997 1447 1082 1768 907 1478 911 1477 869 1477 805 1522 1081 1543 945 1472 916 1440 853 1580 1082 1602 1060 1494 935 1389 933 1499 951 1384 1044 1437 791 1549 858 1476 1060 1540 924 1577 1061 1549 1028 1484 906 1517 972 1521 928 1495 911 1532 919 1390 1049 1566 890 1407 874 1382 1041 1526 978 1556 914 1384 902 1507 882 1380 1036 1526 910 1536 934 1544 972 1477 931 1576 935 1510 933 1542 955 1531 929 1503 918 1489 1082 1519 1081 1406 1082 1535 943 1408 873 1390 1082 1575 997 1387 1030 1561 1054 1496 944 1528 910 1475 846 1554 1028 1538 991 1474 1061 1539 1002 1533 976 1391 985 1546 927 1548 954 1539 1049 1392 950 1512 996 1510 1063 1587 964 1380 934 1361 1037 1382 867 1600 1057 1535 918 1411 1061 1498 900 1450 867 1489 923 1505 942 1529 1027 1429 865 1429 859 1528 1018 1362 942 1435 899 1391 861 1362 994 1590 1041 1644 1019 1431 1054 1386 831 1393 988 1516 1054 1517 932 1384 807 1533 979 1499 846 1451 1064 1479 929 1456 780 1473 929 1381 842 1520 1062 1545 1029 1547 979 1506 976 1472 879 1531 1016 1530 1059 1389 970 1386 1009 1386 895 1384 1036 1383 1016 1624 1016 1382 973 1435 863 1493 907 1548 1059 1603 1019 1566 976 1361 936 1382 984 1431 846 1542 1053 1599 1045 1362 981 1598 1060 1474 904 1492 839 1489 954 1548 897 1383 854 1521 951 1563 1045 1383 1039 1415 855 1552 936 1534 935 1503 947 1385 869 1413 839 1560 1022 1608 1020 1561 1015 1384 860 1574 960 1448 1082 1591 892 1382 953 1495 882 1481 883 1544 967 1580 928 1476 816 1564 1042 1497 1060 1583 932 1517 996 1514 964 1576 1005 1638 929 1566 985 1386 873 1498 845 1484 927 1507 949 1583 960 1543 1019 1361 1038 1409 1058 1518 1012 1517 970 1384 1007 1429 844 1505 928 1481 865 1380 835 1422 888 1649 955 1440 893 1600 1062 1386 1061 1498 906 1539 858 1552 1061 1381 937 1361 1018 1431 890 1508 825 1521 1001 1465 864 1502 980 1406 850 1496 1061 1450 752 1444 1056 1428 850 1395 1062 1446 861 1464 782 1383 918 1361 1037 1379 899 1423 807 1390 841 1585 1040 1429 831 1475 830 1523 899 1544 965 1382 934 1496 1062 1601 1019 1518 865 1533 973 1428 873 1571 1016 1399 876 1535 1017 1547 965 1494 1082 1383 869 1381 864 1545 955 1509 926 1384 903 1529 886 1412 1061 1386 950 1571 1036 1382 999 1428 1082 1389 931 1517 731 1508 1060 1458 913 1530 1054 1465 870 1608 1037 1443 817 1488 926 1434 1061 1381 862 1362 951 1501 956 1608 1063 1505 855 1387 945 1384 972 1423 1058 1520 988 1388 941 1559 1044 1567 947 1531 1006 1504 996 1538 1062 1401 1063 1466 931 1599 999 1542 1029 1389 866 1520 919 1479 910 1389 1019 1451 1057 1490 933 1535 956 1361 1040 1379 996 1525 1056 1401 850 1381 933 1448 794 1562 965 1533 1045 1516 1060 1548 933 1590 913 1495 912 1463 915 1380 858 1392 898 1509 927 1383 875 1428 809 1430 891 1521 994 1570 932 1386 838 1586 1045 1362 1061 1531 931 1431 868 1617 1025 1526 1037 1383 979 1454 877 1494 1060 1575 1061 1493 958 1578 979 1562 1007 1381 1000 1498 932 1500 939 1381 1041 1384 1039 1542 921 1497 951 1405 1061 1496 914 1576 958 1447 837 1568 1042 1537 973 1539 933 1452 864 1516 952 1519 955 1429 892 1565 1060 1380 850 1458 1063 1522 970 1407 861 1545 1082 1574 903 1511 1061 1408 838 1451 836 1383 1017 1384 882 1543 1061 1560 980 1452 910 1386 1082 1389 996 1383 929 1382 973 1530 935 1524 950 1535 953 1460 896 1452 803 1415 846 1641 938 1514 928 1408 867 1420 841 1426 1082 1521 811 1504 991 1453 888 1409 1083 1493 944 1485 907 1392 1061 1533 848 1513 1063 1562 886 1362 1020 1361 1063 1362 1018 1469 933 1449 902 1496 972 1508 777 1380 1038 1512 985 1362 1060 1508 1058 1497 910 1384 931 1544 988 1566 1063 1520 1055 1423 838 1447 889 1541 931 1423 802 1382 1033 1542 908 1567 1056 1464 916 1560 1044 1387 935 1496 930 1437 868 1538 1015 1497 934 1382 864 1426 1063 1406 1082 1385 869 1483 864 1583 940 1403 1063 1475 1060 1520 976 1464 926 1421 810 1388 971 1529 949 1518 1000 1568 1059 1382 949 1590 966 1511 1081 1519 913 1530 1028 1382 953 1519 931 1382 892 1514 1019 1509 899 1361 1062 1388 856 1382 814 1492 1082 1492 866 1575 974 1385 1014 1524 967 1405 871 1473 826 1449 901 1382 997 1516 1018 1589 951 1388 980 1427 878 1484 842 1585 1063 1577 1063 1388 851 1409 1053 1525 937 1427 1059 1385 823 1519 903 1382 1063 1553 867 1516 956 1381 1038 1562 1017 1579 972 1567 1063 1382 890 1487 1064 1545 1082 1384 1058 1405 1059 1416 887 1382 804 1520 993 1433 893 1591 1017 1498 1063 1382 914 1477 930 1408 1057 1511 987 1384 963 1498 908 1563 886 1519 979 1550 879 1550 1060 1427 802 1576 960 1592 1039 1433 865 1563 1001 1392 905 1558 1012 1381 1003 1385 814 1428 864 1535 1025 1502 905 1522 908 1556 1000 1560 998 1619 1058 1614 967 1496 973 1383 818 1387 873 1507 944 1538 1059 1385 1020 1382 906 1536 963 1541 1014 1383 976 1479 827 1451 875 1385 823 1556 1015 1585 1038 1441 849 1530 994 1405 1063 1385 1039 1429 1061 1506 911 1387 1001 1384 1057 1384 1082 1472 926 1385 754 1447 1082 1541 1062 1502 815 1477 1061 1530 1040 1497 1061 1708 952 1502 961 1386 867 1400 1060 1590 909 1471 1065 1383 871 1444 831 1497 862 1420 1052 1397 839 1502 899 1515 890 1385 1011 1483 940 1508 857 1382 913 1552 1040 1432 879 1382 924 1434 896 1383 1060 1419 863 1383 1031 1386 894 1520 985 1519 997 1383 868 1380 932 1382 898 1602 1025 1391 916 1537 913 1379 974 1476 1083 1380 856 1428 1060 1382 975 1496 928 1569 1062 1382 974 1455 836 1526 959 1362 1042 1510 930 1389 1036 1522 1007 1455 881 1382 969 1384 1060 1449 810 1385 831 1538 1062 1510 1065 1574 1059 1362 949 1516 980 1471 906 1449 902 1496 947 1361 932 1420 1063 1571 990 1510 881 1560 930 1610 986 1384 871 1399 850 1539 1025 1470 913 1524 995 1545 944 1457 817 1413 1062 1565 1000 1494 1064 1474 1062 1450 896 1565 920 1472 921 1514 1060 1532 1082 1540 1022 1430 826 1590 1064 1496 930 1476 907 1519 965 1578 934 1385 998 1383 1060 1618 1060 1418 849 1362 990 1537 1026 1502 935 1501 1057 1497 949 1384 969 1561 986 1382 986 1487 1055 1385 994 1562 928 1531 1042 1361 939 1521 1021 1469 883 1592 906 1395 843 1589 1034 1482 864 1545 979 1552 978 1362 1021 1451 1082 1386 1082 1661 1063 1511 808 1409 842 1390 912 1383 996 1498 978 1525 860 1512 1062 1607 925 1405 1082 1476 1065 1385 924 1464 916 1494 888 1415 1063 1384 854 1498 1060 1409 1058 1565 1040 1494 730 1522 988 1387 860 1403 842 1382 898 1472 912 1496 906 1474 865 1388 971 1382 836 1380 993 1552 930 1448 862 1602 1051 1431 818 1382 1039 1406 769 1476 827 1497 913 1625 936 1556 1060 1526 956 1506 1063 1499 892 1504 913 1388 933 1384 946 1587 1062 1361 900 1532 898 1540 997 1512 998 1558 1043 1541 882 1545 1018 1399 1059 1538 1046 1538 969 1466 908 1384 956 1383 878 1383 1082 1450 1062 1544 1016 1521 956 1513 931 1433 863 1384 943 1585 1053 1361 993 1565 1026 1384 874 1573 1040 1538 1061 1362 1015 1387 960 1472 863 1470 851 1538 1039 1548 1044 1391 845 1521 1015 1474 1063 1415 804 1539 1030 1383 991 1556 1048 1433 1062 1471 796 1459 1055 1456 784 1574 969 1517 927 1383 848 1528 981 1431 809 1385 978 1362 820 1476 1055 1385 1024 1382 1042 1559 1022 1363 1061 1384 932 1531 1017 1540 1032 1552 943 1528 931 1383 949 1362 1052 1362 1037 1544 1027 1430 784 1382 845 1380 835 1386 801 1506 986 1493 906 1427 1063 1429 823 1389 1057 1383 1058 1502 852 1529 1020 1449 887 1409 1060 1452 842 1408 857 1501 954 1609 1057 1385 998 1389 837 1507 1003 1453 847 1449 1059 1437 1061 1535 951 1474 1083 1406 1082 1514 989 1443 859 1361 962 1386 814 1383 947 1434 1060 1572 1000 1383 1025 1438 900 1586 1052 1603 1056 1384 1056 1498 977 1495 1055 1427 844 1538 1028 1558 911 1540 953 1430 1082 1361 831 1435 799 1553 904 1537 1041 1585 1012 1386 1043 1379 992 1361 1057 1418 859 1530 945 1545 1060 1626 1033 1446 1082 1382 920 1575 1017 1384 1019 1603 962 1384 867 1449 1060 1581 1008 1389 976 1511 923 1362 1063 1382 790 1386 902 1547 1021 1500 983 1487 958 1637 970 1547 919 1420 1064 1564 1047 1430 837 1452 1064 1487 889 1529 1033 1521 932 1519 942 1382 816 1533 842 1516 982 1603 1059 1569 938 1383 1039 1408 1062 1387 979 1440 792 1383 949 1385 885 1382 887 1385 996 1362 1039 1539 890 1620 1060 1569 910 1385 936 1419 827 1525 906 1432 877 1497 1060 1437 827 1384 890 1533 1061 1530 902 1405 1064 1523 931 1516 942 1495 908 1433 831 1579 921 1537 958 1388 977 1382 1019 1446 888 1565 954 1475 883 1362 1063 1521 867 1448 885 1568 1000 1384 887 1430 1082 1655 1063 1389 832 1521 812 1532 1058 1531 802 1563 1017 1540 1014 1361 1059 1581 901 1518 1060 1387 1011 1600 979 1404 1062 1386 992 1384 926 1497 1061 1361 954 1470 776 1505 927 1545 997 1517 1019 1458 817 1473 1057 1451 1061 1388 909 1525 1041 1436 883 1453 856 1523 997 1431 847 1463 883 1503 884 1474 831 1538 977 1440 1060 1387 1037 1572 957 1434 768 1545 1013 1634 1050 1470 1082 1449 878 1545 852 1447 893 1361 1062 1432 890 1389 857 1547 1012 1529 1005 1605 967 1492 873 1471 891 1567 967 1543 1038 1523 1060 1476 912 1385 950 1382 949 1498 866 1521 905 1558 954 1517 815 1519 974 1407 835 1618 1057 1387 1042 1382 999 1383 1042 1382 938 1529 849 1410 812 1384 778 1467 929 1539 1059 1383 998 1520 1039 1385 810 1396 1058 1534 866 1537 1064 1528 1028 1429 888 1474 1083 1584 898 1544 951 1575 1062 1475 1063 1470 820 1384 891 1403 1082 1488 879 1568 1006 1549 895 1460 1057 1540 1063 1474 891 1552 879 1384 1029 1543 1082 1382 1038 1558 928 1475 932 1411 1081 1525 1021 1531 1060 1448 1063 1548 1042 1499 1062 1472 820 1445 1082 1480 890 1492 895 1487 909 1458 1082 1384 1082 1386 859 1625 1063 1520 993 1466 882 1386 978 1496 926 1385 925 1394 856 1427 879 1362 1058 1523 820 1520 994 1446 813 1404 866 1403 824 1468 824 1578 955 1556 1053 1381 1061 1386 831 1534 952 1392 970 1495 1081 1542 976 1478 1059 1413 1064 1409 854 1402 1082 1453 830 1478 884 1385 820 1383 928 1431 770 1450 1082 1619 961 1550 886 1387 1036 1602 948 1473 908 1387 1018 1495 896 1384 864 1458 912 1473 907 1382 924 1452 1057 1430 862 1383 862 1387 998 1470 1063 1566 1059 1407 1059 1597 1059 1484 939 1534 998 1473 935 1471 896 1500 869 1461 882 1518 1060 1484 820 1549 863 1570 946 1473 939 1384 933 1541 1036 1535 980 1510 983 1362 958 1635 927 1502 793 1450 799 1523 1034 1429 881 1405 1059 1456 828 1388 982 1457 867 1447 837 1391 1014 1407 1083 1487 1082 1521 1059 1391 898 1518 990 1386 910 1592 909 1581 991 1384 1031 1501 1062 1476 864 1385 1026 1492 904 1524 951 1429 1061 1382 1022 1462 882 1583 1038 1362 1058 1522 891 1430 888 1430 826 1494 1060 1582 945 1459 881 1517 1004 1383 842 1597 890 1520 970 1587 1063 1530 1018 1434 1055 1387 932 1384 842 1450 855 1533 838 1386 841 1501 937 1476 843 1551 887 1395 1062 1362 995 1569 1060 1429 1062 1434 898 1492 869 1385 967 1545 968 1519 1062 1382 995 1389 986 1560 955 1511 972 1387 1039 1361 1001 1406 808 1417 886 1362 898 1543 1062 1436 1061 1381 1006 1494 1059 1408 854 1521 1019 1541 1046 1386 933 1524 1058 1387 1037 1432 890 1390 1059 1383 880 1362 923 1580 1022 1495 1061 1524 1051 1397 849 1435 797 1383 952 1531 962 1505 997 1451 1062 1388 934 1557 1016 1504 966 1474 864 1384 877 1561 1000 1571 1041 1517 1010 1405 845 1533 877 1407 872 1409 813 1421 839 1437 842 1520 851 1544 864 1384 1036 1462 1060 1511 1065 1457 787 1594 1061 1506 905 1502 930 1547 1034 1537 997 1383 966 1362 981 1382 1021 1384 962 1557 976 1519 1061 1577 885 1405 1082 1467 1063 1498 887 1494 938 1383 1021 1525 980 1428 872 1410 1081 1462 838 1573 975 1664 937 1524 1082 1387 912 1433 1060 1565 1015 1383 1022 1500 1064 1539 1043 1384 1031 1389 1001 1559 1060 1463 845 1573 933 1488 908 1430 877 1386 869 1384 1060 1521 866 1546 905 1541 994 1474 867 1474 830 1473 887 1382 953 1454 1063 1454 864 1518 891 1534 980 1591 1037 1385 1047 1407 1064 1386 943 1421 774 1546 854 1382 957 1383 1058 1583 1042 1382 961 1503 1060 1468 910 1481 934 1429 864 1589 1060 1475 1082 1386 1056 1571 896 1530 1006 1472 878 1388 975 1544 1061 1422 1058 1382 996 1447 1058 1362 906 1385 1033 1382 1042 1585 1062 1385 996 1464 887 1454 1082 1619 1040 1454 1082 1382 997 1541 933 1450 1083 1567 1056 1470 1064 1516 1065 1443 858 1570 973 1423 852 1542 856 1382 969 1521 1016 1497 857 1431 894 1574 1020 1450 876 1605 1037 1476 1062 1388 994 1386 1065 1452 877 1556 888 1382 934 1521 875 1385 1018 1384 918 1409 814 1473 1060 1460 823 1504 968 1383 882 1497 805 1487 808 1532 1012 1412 880 1518 1022 1389 849 1489 1061 1398 1061 1404 801 1409 830 1474 892 1534 894 1393 1065 1470 1056 1519 928 1551 979 1385 909 1453 877 1603 1065 1453 1061 1619 1061 1382 907 1388 918 1458 900 1386 837 1617 1061 1398 1058 1544 923 1580 1058 1506 925 1429 894 1480 839 1386 819 1390 998 1470 747 1384 1063 1455 840 1474 923 1361 916 1502 987 1449 1081 1548 970 1478 1081 1383 1006 1474 1062 1521 999 1468 916 1383 1026 1544 948 1362 1081 1470 933 1544 998 1590 915 1418 1060 1575 1059 1530 1081 1458 920 1493 916 1419 844 1475 917 1521 945 1452 1082 1569 1048 1512 936 1500 967 1475 1061 1382 815 1392 849 1543 893 1472 920 1383 911 1382 983 1430 866 1457 841 1384 925 1583 1011 1464 1083 1361 1059 1561 987 1499 958 1385 1056 1519 1001 1391 990 1436 833 1391 921 1475 806 1384 1042 1474 890 1532 950 1381 952 1383 1032 1383 1046 1472 1063 1382 1008 1385 858 1408 1059 1524 774 1603 1043 1538 1038 1451 848 1382 858 1472 941 1509 956 1656 1001 1386 1035 1383 873 1489 890 1475 943 1517 1057 1465 892 1385 860 1497 957 1361 1016 1473 889 1530 987 1557 1019 1621 945 1516 822 1384 1018 1362 969 1386 965 1383 806 1388 918 1396 1081 1404 1082 1392 934 1542 891 1469 897 1426 852 1521 1060 1383 860 1382 886 1386 988 1608 891 1502 908 1498 920 1389 1013 1416 887 1523 1061 1383 976 1491 936 1382 901 1385 832 1386 1063 1406 863 1497 892 1572 1003 1390 892 1382 774 1418 835 1586 1046 1515 869 1383 853 1557 995 1406 1052 1536 1005 1449 843 1385 878 1519 997 1494 975 1537 1082 1522 874 1402 863 1383 871 1509 1004 1450 1061 1382 1031 1561 973 1429 864 1535 1029 1469 924 1505 854 1456 1059 1362 1028 1383 890 1404 780 1383 1038 1428 850 1384 851 1421 835 1387 934 1521 981 1383 1018 1380 993 1451 886 1627 1051 1361 1060 1537 831 1383 935 1402 850 1479 910 1506 975 1607 998 1430 805 1585 991 1460 855 1428 1064 1556 1060 1499 915 1568 888 1427 848 1612 961 1473 845 1549 1039 1523 948 1383 895 1553 992 1445 796 1547 974 1563 884 1362 1058 1429 799 1392 914 1507 960 1405 851 1384 1043 1568 942 1575 1036 1432 845 1532 953 1538 896 1504 969 1505 854 1389 921 1529 1019 1526 909 1591 933 1383 992 1361 917 1522 924 1429 1063 1567 1062 1383 1027 1652 1025 1521 1061 1569 930 1582 1053 1536 1029 1547 927 1532 1057 1468 854 1475 933 1561 896 1412 1083 1382 953 1520 784 1385 1041 1423 801 1475 880 1419 843 1538 993 1522 997 1408 843 1380 1066 1589 1056 1475 1061 1541 1043 1482 934 1568 938 1384 926 1384 914 1549 994 1399 1082 1521 971 1460 1061 1423 790 1420 840 1498 752 1385 971 1530 1056 1383 978 1384 775 1433 834 1497 1059 1581 971 1450 821 1383 1015 1505 980 1391 968 1405 875 1507 993 1476 902 1614 954 1493 890 1614 999 1453 839 1563 1009 1432 1060 1492 1082 1491 919 1477 1059 1572 1043 1501 1061 1392 996 1384 1004 1450 903 1429 894 1500 1060 1560 930 1424 780 1567 988 1496 1082 1466 923 1389 932 1385 1060 1411 1083 1674 1001 1536 890 1389 1046 1592 971 1547 923 1453 905 1553 1052 1386 1063 1383 1062 1361 1060 1382 871 1481 896 1500 878 1469 861 1526 1053 1475 1063 1380 841 1504 886 1501 929 1514 909 1586 1014 1579 895 1530 1083 1523 948 1572 920 1513 864 1384 924 1522 977 1568 1018 1510 986 1411 816 1522 1024 1582 894 1400 825 1454 907 1405 854 1581 1017 1385 896 1383 874 1385 1022 1537 984 1451 912 1505 943 1541 1056 1382 924 1630 944 1383 955 1568 950 1461 1083 1500 867 1497 1059 1520 921 1513 895 1381 944 1610 892 1621 968 1386 915 1427 894 1534 989 1518 940 1420 863 1407 1063 1537 903 1385 1061 1499 855 1586 1014 1492 1062 1388 864 1392 1057 1558 1057 1535 998 1385 997 1452 899 1597 953 1496 1059 1546 968 1511 909 1564 1081 1431 1056 1427 847 1454 876 1455 1064 1384 978 1384 865 1558 1004 1433 865 1389 1059 1519 944 1586 883 1382 932 1610 915 1428 848 1545 950 1453 841 1520 1060 1532 948 1398 1052 1410 865 1522 1016 1380 860 1530 936 1450 1082 1384 969 1524 994 1434 870 1387 1049 1405 1063 1383 919 1380 1082 1526 910 1446 909 1500 876 1362 961 1680 1014 1523 1060 1455 845 1597 909 1561 934 1431 865 1520 972 1407 844 1512 911 1546 1042 1644 910 1389 990 1580 1062 1382 1056 1574 909 1515 903 1596 1042 1543 1003 1574 999 1474 912 1567 1017 1451 846 1544 931 1560 933 1497 899 1410 1082 1407 1057 1463 1061 1406 869 1362 1062 1539 953 1483 862 1429 856 1544 1048 1546 1001 1477 888 1385 866 1382 953 1386 866 1490 1082 1489 873 1526 892 1652 1016 1422 862 1380 884 1457 844 1564 1062 1566 937 1404 864 1585 957 1573 902 1529 1044 1405 1057 1384 972 1467 893 1383 932 1407 1065 1478 867 1384 1058 1387 893 1418 817 1382 1063 1522 1061 1383 1063 1546 885 1471 878 1494 944 1450 1062 1497 799 1493 890 1382 936 1601 937 1438 803 1447 837 1429 896 1382 969 1418 824 1413 1062 1546 887 1500 866 1607 1024 1439 1082 1574 885 1581 955 1385 975 1448 894 1498 936 1592 922 1382 951 1485 918 1609 959 1421 886 1384 885 1456 911 1535 1063 1475 1060 1548 1017 1477 834 1402 873 1469 891 1482 949 1493 909 1487 1062 1381 1036 1571 1024 1591 1062 1406 1081 1426 884 1361 1059 1561 911 1386 1030 1611 978 1582 1060 1385 893 1363 1082 1453 860 1566 945 1418 1060 1522 997 1474 932 1496 1083 1519 902 1387 866 1508 937 1363 1062 1547 1022 1432 1058 1564 1046 1388 884 1409 1062 1407 1060 1612 1004 1403 1062 1451 902 1382 938 1587 1013 1618 917 1382 873 1363 1012 1408 1065 1448 880 1591 1060 1497 1053 1417 856 1520 962 1417 1080 1511 966 1382 918 1553 1039 1594 953 1469 928 1488 925 1428 888 1586 1058 1451 877 1361 1065 1587 1062 1505 959 1576 921 1452 1061 1386 946 1495 976 1547 927 1486 927 1385 868 1476 1082 1521 1038 1538 946 1534 963 1383 855 1470 894 1531 938 1561 977 1386 829 1439 885 1530 971 1387 932 1382 816 1387 854 1386 973 1774 941 1580 1039 1383 838 1388 831 1393 978 1559 1030 1512 936 1504 994 1441 1062 1568 929 1382 846 1555 982 1493 1056 1383 834 1430 1055 1489 878 1496 971 1383 945 1515 1018 1542 1036 1475 878 1527 1048 1526 1051 1493 975 1496 811 1543 1062 1520 877 1391 905 1394 871 1556 956 1550 894 1551 1082 1537 1020 1496 949 1565 999 1432 819 1446 827 1517 995 1555 976 1415 1082 1513 989 1400 1057 1385 894 1497 1062 1512 906 1498 1055 1570 918 1559 953 1544 998 1382 1058 1386 974 1402 871 1473 872 1539 1000 1512 1008 1448 901 1411 847 1517 972 1517 1060 1501 945 1381 986 1598 983 1515 946 1430 875 1382 913 1486 926 1416 865 1383 916 1400 1063 1495 1063 1430 863 1385 1082 1382 861 1551 1062 1573 933 1362 1082 1485 806 1567 921 1381 982 1544 1060 1476 940 1387 891 1510 1062 1485 1055 1444 1061 1385 904 1471 930 1540 1010 1449 908 1489 930 1382 852 1487 895 1474 1057 1382 875 1470 1082 1462 1060 1379 1036 1462 846 1488 882 1473 877 1382 930 1526 907 1570 958 1424 854 1423 1058 1450 1058 1547 1032 1383 1024 1537 952 1503 974 1416 1058 1470 920 1604 992 1528 1020 1498 1051 1383 1061 1523 903 1383 913 1390 817 1381 933 1382 888 1382 875 1522 858 1451 887 1379 966 1614 1057 1387 1017 1522 955 1496 864 1526 877 1409 874 1503 1060 1534 1034 1382 905 1390 845 1388 928 1510 910 1544 1016 1432 1055 1386 967 1467 929 1553 1022 1428 1059 1384 814 1382 959 1501 1058 1543 967 1385 987 1519 881 1541 938 1417 842 1503 827 1619 1039 1383 1045 1506 1060 1492 911 1598 994 1384 1019 1412 879 1473 905 1537 855 1542 909 1382 950 1522 1013 1382 832 1384 1042 1497 923 1388 953 1428 1059 1477 869 1428 1055 1361 929 1515 957 1521 767 1383 867 1409 875 1384 1062 1496 1064 1551 1015 1407 816 1383 1059 1570 1063 1485 871 1388 799 1422 791 1382 902 1495 912 1390 837 1409 834 1493 913 1384 1020 1431 1081 1504 951 1409 1063 1632 1042 1412 847 1405 1083 1407 878 1535 986 1546 1021 1387 817 1383 892 1473 943 1401 1082 1522 931 1500 951 1589 996 1511 890 1388 813 1466 904 1363 917 1591 1035 1520 954 1539 1015 1443 1083 1444 900 1386 922 1380 1015 1431 1056 1452 836 1451 892 1362 1083 1536 1020 1382 952 1528 928 1568 1038 1544 1046 1496 883 1661 933 1549 999 1388 975 1522 857 1458 1081 1498 1060 1410 1082 1498 1059 1542 951 1511 915 1384 1060 1656 1060 1449 1056 1383 1064 1431 1063 1582 992 1499 1062 1522 1059 1383 1022 1388 901 1393 795 1383 886 1521 1021 1455 845 1564 1015 1546 973 1534 1065 1381 979 1392 928 1435 850 1431 882 1517 993 1440 889 1580 1050 1382 994 1452 1058 1450 882 1425 1061 1381 1036 1475 925 1504 977 1431 889 1385 983 1496 854 1501 1053 1527 930 1624 1023 1383 907 1495 930 1502 939 1488 908 1469 861 1382 908 1403 869 1563 949 1578 1042 1602 1007 1597 1062 1530 883 1527 934 1383 1065 1598 1059 1385 823 1488 1063 1519 1061 1430 894 1572 944 1522 952 1595 979 1384 881 1407 1059 1385 1063 1474 938 1466 851 1551 1061 1408 1061 1441 1061 1463 710 1552 1048 1382 1042 1406 839 1483 945 1457 923 1361 1082 1536 1039 1542 993 1519 956 1389 1035 1525 981 1579 887 1515 965 1518 1022 1383 1061 1387 907 1464 855 1451 1064 1499 878 1362 1062 1383 908 1563 1023 1381 963 1434 897 1510 1060 1382 912 1493 899 1533 931 1405 842 1479 909 1561 987 1402 865 1386 930 1440 885 1795 1040 1488 806 1507 976 1389 1044 1362 899 1382 918 1386 1081 1484 863 1471 890 1585 898 1383 894 1407 841 1379 932 1489 1082 1452 884 1457 834 1535 1059 1382 881 1542 956 1495 953 1387 717 1361 863 1380 888 1483 751 1384 991 1389 953 1513 878 1489 917 1383 856 1559 998 1419 807 1496 893 1431 1055 1554 1057 1568 1058 1385 794 1469 1061 1496 942 1564 880 1387 960 1386 912 1388 1057 1361 952 1361 841 1453 1059 1538 938 1361 1038 1388 1027 1492 895 1617 893 1518 900 1602 1004 1416 1062 1564 976 1390 1019 1518 958 1623 1027 1599 1046 1523 1065 1514 918 1385 810 1491 1061 1363 1018 1486 1062 1382 940 1520 923 1404 1057 1576 967 1524 989 1422 1060 1535 1029 1452 866 1388 880 1406 1065 1556 908 1383 932 1416 1061 1382 854 1385 967 1537 979 1384 891 1398 845 1578 904 1583 970 1380 830 1551 1060 1463 876 1422 790 1519 956 1509 849 1382 891 1384 1017 1533 973 1383 917 1598 1039 1387 883 1387 885 1433 828 1529 979 1449 1055 1584 1007 1383 984 1584 930 1384 1049 1550 1061 1442 1060 1524 856 1553 977 1541 1024 1390 829 1493 936 1586 1023 1538 888 1498 912 1448 836 1489 940 1474 875 1509 1003 1502 809 1428 877 1538 948 1454 911 1465 1059 1551 1000 1409 1083 1384 932 1520 1018 1476 901 1429 895 1546 969 1381 842 1548 908 1405 842 1585 1013 1410 1053 1454 800 1510 890 1406 862 1555 960 1428 852 1584 976 1456 745 1434 858 1384 946 1382 1061 1404 880 1546 1065 1503 1060 1585 1059 1500 961 1385 973 1406 839 1387 940 1385 918 1545 976 1399 1082 1383 790 1461 852 1385 993 1459 1061 1589 1063 1505 1064 1486 890 1380 1039 1526 975 1495 888 1553 1016 1598 1048 1474 920 1533 933 1497 843 1382 816 1523 1081 1502 1060 1384 875 1362 1016 1470 1056 1510 1057 1417 815 1610 1037 1540 991 1390 854 1518 963 1448 793 1453 891 1495 884 1483 944 1533 1061 1453 872 1475 876 1512 894 1495 881 1512 955 1526 1018 1386 1000 1580 1013 1510 876 1383 913 1574 899 1557 1038 1552 863 1544 974 1519 1062"/>
<path transform="scale(.5)" fill="none" marker-start="url(#mk)" marker-mid="url(#mk)" marker-end="url(#mk)" d="M1587 823 1554 854 1755 739 1540 806 1570 734 1632 864 1566 837 1650 735 1625 725 1621 835 1621 855 1577 846 1598 822 1652 813 1563 811 1536 774 1724 798 1693 746 1563 779 1736 764 1737 767 1683 828 1573 846 1635 860 1576 805 1561 811 1677 782 1721 757 1647 865 1617 808 1758 756 1656 850 1706 808 1560 812 1631 827 1639 839 1619 889 1620 845 1764 752 1723 869 1675 738 1583 806 1698 728 1556 850 1681 769 1629 728 1562 814 1596 819 1570 810 1639 874 1698 672 1607 848 1753 741 1606 871 1694 755 1588 877 1567 832 1564 805 1738 759 1639 834 1537 814 1746 698 1737 785 1592 776 1641 887 1777 771 1640 743 1644 681 1753 729 1680 731 1534 808 1742 719 1613 839 1678 828 1669 833 1702 753 1725 787 1733 823 1683 850 1653 725 1647 791 1571 805 1742 696 1794 781 1599 841 1615 814 1779 727 1618 848 1646 811 1671 740 1578 749 1786 803 1732 808 1795 707 1618 805 1668 800 1561 728 1599 802 1567 736 1552 844 1728 742 1703 779 1677 790 1835 742 1577 758 1576 860 1676 737 1679 845 1647 780 1598 756 1630 688 1701 660 1668 862 1675 826 1676 814 1672 685 1749 736 1576 837 1675 733 1628 813 1620 751 1636 862 1783 760 1712 806 1590 828 1566 867 1671 761 1694 722 1536 780 1689 811 1781 717 1613 718 1663 860 1533 800 1613 840 1808 756 1587 816 1804 784 1606 720 1662 782 1627 794 1560 848 1639 877 1551 851 1755 802 1608 887 1608 827 1790 760 1773 689 1593 869 1574 791 1665 849 1574 779 1593 805 1740 811 1571 799 1671 809 1566 749 1626 877 1669 706 1607 825 1623 771 1672 840 1552 838 1605 834 1661 814 1556 820 1630 847 1536 735 1561 831 1741 828 1781 719 1632 828 1594 801 1710 769 1681 718 1696 815 1727 701 1539 828 1559 799 1648 892 1577 802 1699 741 1602 781 1675 775 1602 870 1703 858 1784 725 1671 781 1597 796 1625 772 1678 843 1539 817 1676 796 1560 854 1652 790 1657 744 1751 692 1800 706 1658 796 1595 886 1673 770 1561 822 1679 693 1609 843 1774 691 1814 767 1807 691 1807 704 1676 888 1725 763 1684 803 1716 830 1676 705 1566 763 1613 769 1598 869 1661 862 1608 819 1694 673 1547 841 1621 823 1625 774 1656 866 1634 742 1749 698 1561 863 1764 768 1644 849 1580 857 1612 808 1649 858 1729 784 1779 736 1637 882 1552 854 1776 749 1751 718 1591 877 1738 746 1584 738 1676 725 1525 741 1583 817 1672 814 1557 806 1780 821 1733 801 1692 853 1672 778 1687 772 1576 867 1595 795 1632 836 1655 889 1703 820 1645 797 1582 775 1658 854 1541 822 1733 681 1600 820 1645 697 1835 728 1590 848 1553 719 1602 740 1681 833 1683 816 1578 807 1733 848 1688 725 1626 854 1809 717 1711 667 1635 842 1721 698 1595 826 1677 792 1581 787 1535 775 1614 854 1883 708 1717 713 1671 729 1545 780 1565 785 1619 807 1588 880 1645 738 1589 851 1610 763 1652 785 1642 746 1608 814 1676 845 1681 881 1632 877 1705 765 1648 752 1602 842 1574 777 1635 852 1652 734 1689 843 1572 798 1684 762 1722 874 1616 821 1725 733 1615 888 1548 799 1599 827 1666 821 1597 781 1594 840 1696 878 1577 738 1585 782 1631 869 1851 740 1639 866 1711 853 1780 753 1552 855 1628 763 1588 880 1545 838 1623 869 1760 749 1693 841 1609 873 1543 746 1625 815 1649 829 1683 748 1677 719 1640 764 1646 806 1598 813 1652 836 1637 836 1719 686 1691 817 1747 819 1632 782 1594 880 1743 741 1718 818 1596 761 1714 841 1581 802 1684 839 1566 817 1753 789 1625 883 1545 786 1608 838 1577 825 1660 712 1775 739 1695 710 1687 708 1660 848 1588 814 1635 743 1561 828 1549 837 1589 865 1636 784 1648 834 1657 815 1775 818 1582 743 1763 697 1573 859 1638 800 1713 855 1583 855 1642 832 1699 729 1751 654 1793 721 1585 740 1552 855 1600 841 1731 753 1542 832 1780 763 1724 722 1760 780 1646 867 1548 822 1579 835 1682 802 1556 840 1618 828 1591 813 1699 852 1595 809 1679 782 1564 859 1576 857 1685 878 1554 804 1635 808 1798 762 1564 853 1605 714 1630 787 1586 848 1681 750 1673 753 1562 858 1681 838 1564 865 1562 792 1632 844 1584 835 1631 766 1723 692 1706 883 1714 750 1574 819 1699 790 1531 780 1741 719 1584 808 1617 875 1673 819 1662 778 1572 840 1588 832 1633 870 1694 839 1595 761 1555 803 1642 869 1543 803 1591 713 1805 764 1558 848 1655 845 1618 815 1651 743 1712 736 1710 860 1653 761 1684 836 1565 784 1541 792 1597 824 1738 725 1587 881 1697 765 1554 828 1693 831 1700 677 1602 823 1635 743 1632 843 1742 720 1565 791 1583 712 1806 771 1686 687 1790 773 1724 796 1629 879 1754 758 1640 718 1552 849 1741 825 1617 697 1779 712 1565 786 1671 831 1777 788 1789 767 1592 862 1638 882 1823 694 1599 782 1747 686 1756 706 1591 860 1664 873 1656 765 1558 791 1790 707 1530 752 1562 833 1584 867 1575 785 1754 648 1788 699 1608 806 1808 692 1563 868 1645 809 1540 794 1555 832 1572 760 1712 847 1649 874 1751 672 1627 857 1656 765 1584 800 1552 830 1606 779 1595 719 1692 755 1688 834 1639 870 1572 781 1733 715 1569 838 1707 823 1747 814 1652 761 1713 748 1705 727 1607 804 1720 757 1715 751 1629 850 1675 879 1709 673 1620 807 1665 819 1786 773 1537 752 1616 755 1744 798 1738 855 1644 791 1570 742 1604 795 1649 879 1722 712 1655 845 1718 857 1802 778 1588 787 1581 755 1600 841 1707 710 1736 738 1747 761 1659 788 1701 860 1661 838 1602 730 1554 850 1733 717 1754 781 1660 790 1732 805 1544 838 1550 798 1721 709 1640 820 1550 814 1674 830 1618 782 1638 856 1735 653 1715 827 1737 647 1749 745 1746 639 1645 888 1592 782 1641 852 1695 802 1556 841 1588 863 1781 735 1672 877 1573 766 1640 896 1662 871 1718 690 1709 887 1583 874 1567 803 1797 687 1586 779 1779 698 1659 870 1661 857 1749 760 1694 838 1680 741 1750 822 1649 749 1587 842 1693 820 1542 735 1542 803 1588 847 1663 867 1623 789 1671 826 1625 850 1650 789 1691 730 1614 691 1689 764 1717 813 1588 811 1790 701 1765 755 1606 815 1594 873 1578 850 1628 797 1808 684 1792 689 1735 657 1715 725 1549 839 1663 871 1544 834 1623 679 1579 816 1689 869 1742 769 1626 728 1550 831 1731 838 1571 851 1618 734 1636 854 1673 752 1603 883 1694 740 1606 797 1698 745 1729 765 1739 724 1670 729 1597 844 1571 845 1696 767 1609 872 1650 859 1623 798 1601 722 1766 826 1559 851 1719 720 1711 795 1710 864 1779 748 1695 807 1746 645 1652 778 1600 829 1543 828 1568 829 1755 639 1794 683 1628 773 1670 715 1728 717 1616 713 1636 850 1846 698 1613 845 1659 808 1701 786 1613 791 1637 726 1713 830 1821 684 1747 760 1712 827 1806 742 1555 811 1634 884 1688 763 1569 813 1674 762 1700 745 1910 404 1972 461 1971 479 1905 483 1921 505 1842 509 1965 518 2031 520 1949 548 1891 551 1955 566 1955 566 1915 563 1912 577 1897 583 1900 597 1857 584 1873 593 1885 601 1929 603 1773 567 1809 599 1812 611 1808 624 1783 616 1767 608 1831 618 1851 615 1851 615 1855 629 1837 632 1919 653 1904 671 1857 656 1857 656 1840 647 1832 661 1820 651 1811 664 1807 647 1787 632 1787 632 1785 648 1785 648 1787 660 1773 628 1765 651 1852 675 1852 675 1803 677 1760 589 2118 329 1656 604 1664 638 1708 626 1721 626 1589 681"/>
</g>
<g clip-path="url(#c3)">
<path d="M148.0 1070.0L150.0 1061.3L305.0 1056.0L340.0 1055.3L380.0 1052.7L410.0 1049.3L428.0 1046.8L438.0 1047.5L445.0 1051.0L452.0 1056.0L460.0 1059.5L480.0 1059.5L510.0 1058.5L530.0 1057.8L543.0 1058.2L547.0 1060.0L549.5 1063.5L550.5 1069.0L551.0 1070.0Z" fill="#000" filter="url(#bl)"/>
<path transform="scale(.5)" fill="none" marker-start="url(#mh)" marker-mid="url(#mh)" marker-end="url(#mh)" d="M1058 1929 1104 1409 1036 2078 953 2101 896 2093 1043 2078 1097 1561 973 2099 867 2102 997 2033 937 2077 924 2105 1097 1962 947 2097 921 2106 1048 1978 1089 1776 1082 1877 822 2118 1036 2041 1075 2054 1005 2101 928 2101 813 2109 1003 2103 1104 1376 1065 2026 1052 1957 950 2076 1023 2090 1036 1976 1101 1437 890 2114 1041 2007 895 2104 908 2087 1043 2071 1050 2094 1083 1768 906 2101 905 2088 1099 1482 920 2094 836 2106 978 2077 1097 1722 1003 2109 900 2112 843 2105 895 2105 850 2111 940 2075 1091 1658 842 2118 924 2087 967 2115 816 2115 854 2113 1042 1940 1019 1976 985 2094 1019 2090 868 2098 1096 1569 981 2115 840 2104 1011 2091 1045 2070 886 2112 912 2118 1100 1502 1044 2097 1086 2128 1094 1659 885 2104 889 2118 1081 2127 1079 2122 951 2105 1022 2100 1094 1673 937 2071 986 2067 952 2073 1092 1622 826 2108 1007 2105 920 2117 1045 1986 1041 1986 831 2106 835 2105 1061 2091 963 2058 1083 1963 880 2109 986 2104 828 2113 861 2099 893 2117 1015 2004 895 2092 822 2108 1054 1972 849 2115 1064 2090 926 2098 1068 1997 1049 2045 942 2087 912 2094 948 2082 844 2104 1063 2008 847 2111 1093 1882 816 2119 865 2100 908 2104 891 2095 930 2078 894 2111 825 2108 994 2060 959 2086 955 2077 904 2105 936 2113 1004 2077 993 2089 961 2100 1103 1498 874 2105 888 2094 1059 1901 856 2116 844 2103 1068 2026 1087 1835 1051 2036 931 2085 936 2072 1094 1684 955 2106 987 2030 1006 2076 804 2115 890 2118 1056 2073 1084 1872 1089 1887 1042 2061 1059 1952 1103 1444 1028 2068 974 2067 1095 2132 914 2086 1101 1681 843 2117 1061 2005 1080 1949 1011 2091 968 2107 961 2081 1022 2008 866 2102 816 2108 1024 2061 869 2109 931 2085 804 2111 1100 1562 829 2107 904 2108 999 2115 884 2117 1091 1685 861 2109 938 2079 828 2107 929 2099 984 2040 1074 2002 1021 2102 1085 2083 1018 2051 1047 2047 808 2115 925 2109 974 2078 843 2118 817 2107 1044 2048 999 2062 800 2112 969 2116 1061 1952 1001 2096 803 2118 1061 2051 1081 1862 899 2106 1054 2038 1088 1834 1071 1973 989 2101 1099 1856 828 2106 876 2112 1083 1875 1091 2054 820 2108 1004 2114 824 2106 957 2111 922 2118 883 2111 813 2115 969 2111 1005 2093 881 2102 917 2105 1000 2033 1020 2015 831 2117 999 2109 1002 2085 958 2067 930 2096 944 2071 868 2096 1100 1426 913 2113 836 2107 1041 1966 898 2091 987 2103 1059 2086 810 2117 1097 1529 1093 1737 1101 1714 1007 2056 823 2108 933 2084 984 2094 820 2118 1062 2078 820 2109 935 2092 1101 1588 837 2116 1007 2115 894 2097 928 2107 1088 1756 828 2109 1089 2100 965 2069 1026 1961 998 2033 1013 2028 1092 1804 827 2114 910 2118 1064 2049 897 2095 963 2111 1044 1948 1030 2041 1096 1644 968 2091 1087 1866 982 2099 833 2106 1007 2093 1090 1980 1028 1985 951 2088 882 2099 1075 1861 1049 2057 821 2109 1057 1991 1096 1938 899 2107 920 2115 822 2113 1021 2061 1052 2053 815 2108 1073 2106 872 2112 854 2103 908 2115 1074 2028 1028 2025 902 2117 1015 2068 856 2103 1014 2110 1070 1954 839 2111 1099 1466 852 2117 850 2105 1093 1744 1090 1955 971 2056 865 2098 1065 1989 823 2108 948 2093 839 2111 985 2041 899 2111 818 2109 1001 2037 1001 2075 1056 2035 901 2109 1045 2111 1062 2082 1072 2110 914 2088 889 2105 1095 1627 1079 2040 1011 2104 914 2103 976 2041 816 2108 858 2103 822 2107 944 2107 1085 2011 974 2072 1025 1985 876 2118 1037 1936 866 2109 880 2099 936 2072 944 2093 856 2104 1090 2121 1095 1714 924 2092 972 2075 1071 1976 1059 1892 953 2102 950 2079 951 2094 1020 1969 932 2077 983 2059 951 2113 1030 2039 974 2097 955 2116 900 2118 1075 2095 931 2077 1049 2064 1038 2062 1073 1994 968 2116 876 2101 941 2065 1035 2066 1000 2040 1084 2076 884 2101 854 2117 831 2107 1008 2085 936 2106 821 2109 1072 1871 926 2113 874 2096 876 2102 972 2102 1102 1477 1035 2029 1044 2110 808 2115 968 2086 1013 1986 928 2081 896 2118 866 2114 840 2105 804 2110 913 2102 812 2118 1085 1762 803 2110 1082 2129 1074 2068 1021 1982 1070 2067 1101 1386 895 2095 893 2118 857 2100 821 2108 940 2116 970 2091 952 2117 1066 1914 997 2084 925 2090 811 2115 967 2116 986 2083 935 2103 1082 2080 1031 1963 962 2078 1027 2047 931 2075 960 2098 882 2108 927 2084 958 2096 1023 2104 970 2096 1088 1811 879 2114 829 2106 912 2087 810 2110 1041 2087 832 2106 1075 1905 1036 2072 822 2115 1011 2079 976 2041 1015 2031 939 2095 840 2104 848 2108 1029 2048 941 2079 861 2117 900 2118 965 2104 1006 2023 1048 1926 1062 1952 957 2116 942 2081 914 2115 1084 1801 982 2102 978 2092 1085 1802 862 2108 879 2098 1087 2125 1092 1635 988 2114 885 2117 1073 1868 906 2087 846 2110 1009 2084 1066 1944 878 2096 896 2097 966 2073 890 2091 989 2065 1006 2090 1011 2084 1019 1981 929 2095 911 2108 995 2073 913 2089 1090 1688 962 2108 1095 1581 1087 2091 1084 2127 810 2111 1060 2010 857 2108 857 2104 835 2111 1023 2113 1007 2077 1086 1963 861 2104 1007 2047 1012 2113 1014 2000 1071 1943 880 2095 884 2097 901 2098 972 2114 934 2104 852 2101 1095 1803 1084 1864 993 2091 960 2077 929 2091 1034 1953 1082 1798 974 2101 803 2111 1007 2107 842 2118 838 2106 852 2102 857 2103 992 2018 842 2118 995 2047 973 2073 883 2098 1039 1950 865 2098 945 2088 1094 1600 992 2088 922 2118 991 2108 1001 2074 860 2101 955 2078 974 2087 983 2050 1087 1810 1035 2080 883 2112 840 2104 890 2098 874 2109 804 2110 979 2112 807 2117 885 2097 1091 1818 1104 1419 1015 2101 887 2109 876 2100 968 2062 903 2086 851 2111 1004 2050 969 2109 858 2107 861 2118 1044 2080 1007 2112 852 2106 909 2118 949 2076 951 2067 1068 2054 1095 1818 1010 2101 1077 2122 1089 1687 1096 1879 1069 1848 1033 2059 806 2110 984 2045 870 2101 842 2108 1086 1854 952 2100 962 2116 920 2096 1060 2090 872 2098 886 2116 849 2118 812 2116 924 2101 807 2111 965 2115 894 2117 807 2116 840 2110 898 2097 865 2114 1093 1713 966 2064 1080 2063 1022 2100 837 2117 984 2058 1001 2103 981 2073 1006 2091 1075 1816 905 2090 979 2101 912 2116 938 2105 832 2107 924 2099 946 2078 815 2110 1101 1603 1039 1983 1098 1544 1003 2083 940 2090 901 2119 824 2107 948 2078 960 2097 855 2101 990 2039 921 2082 833 2107 841 2104 1004 2115 1077 2123 927 2094 992 2069 883 2096 850 2113 908 2118 882 2115 972 2116 905 2093 850 2110 864 2114 900 2109 956 2113 892 2095 873 2100 1078 2119 1096 1860 987 2109 864 2115 993 2085 905 2113 939 2116 877 2111 1059 1939 957 2100 874 2096 1041 2051 974 2070 976 2105 868 2117 915 2081 1019 2100 952 2095 1037 2109 1002 2025 1101 2082 1103 1832 822 2116 1098 1699 1103 1559 1100 1472 1081 1982 1027 1959 1073 1868 898 2097 947 2093 994 2072 896 2116 1082 2007 866 2108 805 2112 903 2091 1103 1506 1094 2084 938 2087 1054 1989 916 2110 942 2091 1056 2074 1086 1943 954 2100 1030 2059 1032 2053 861 2103 948 2100 1104 1419 820 2107 833 2107 1016 2001 1047 2048 823 2114 1040 2104 917 2099 907 2116 935 2088 975 2066 893 2096 882 2097 997 2085 914 2099 1081 1789 888 2098 950 2075 800 2110 1095 1808 1101 1612 915 2091 975 2112 909 2088 1055 2072 949 2099 944 2090 1084 2018 1080 1897 851 2106 873 2098 973 2081 950 2096 835 2107 820 2108 955 2098 1091 2019 993 2033 1017 2114 1078 2036 866 2111 858 2104 1062 1990 1053 1924 975 2075 829 2111 887 2096 985 2103 1092 1651 1055 2027 890 2117 925 2117 891 2119 828 2108 945 2105 1093 1920 873 2099 963 2106 910 2091 813 2109 1081 1909 960 2066 850 2107 1089 1753 1018 2113 875 2109 811 2115 985 2088 896 2093 977 2069 1049 1957 894 2118 895 2099 1075 1872 903 2115 803 2111 1072 1930 1101 1440 950 2117 1023 2096 906 2119 910 2101 989 2056 816 2108 927 2112 867 2118 831 2108 1093 1643 1099 1476 852 2101 1089 1673 929 2083 852 2119 958 2116 1017 2099 829 2107 870 2116 800 2114 1102 1614 1049 2050 1081 1864 1103 1457 840 2116 1097 1601 840 2117 984 2114 993 2114 1064 2080 935 2072 1026 1961 902 2091 1076 2077 915 2107 1100 1522 855 2104 1086 2124 984 2093 944 2116 1003 2032 901 2086 951 2080 1101 1766 924 2104 890 2106 878 2100 850 2102 1099 1558 1094 1742 826 2112 881 2093 859 2106 985 2035 851 2109 1028 2113 1057 1912 891 2111 1002 2095 907 2116 1087 1943 1077 1934 865 2109 854 2104 1101 1556 1012 2091 1090 1895 1037 2103 1082 2042 902 2118 857 2113 998 2048 880 2119 913 2096 884 2103 1001 2093 885 2117 972 2094 882 2095 830 2117 1076 2098 899 2108 1005 2063 955 2069 818 2116 886 2098 905 2118 1042 2012 908 2087 942 2096 851 2107 1047 1986 957 2092 986 2051 1073 1988 987 2084 1073 1858 912 2107 1085 1913 878 2109 863 2109 1079 1849 979 2057 1066 1906 1001 2042 910 2104 866 2099 1058 2076 898 2095 859 2117 884 2100 892 2110 1067 2018 858 2104 1025 2112 977 2116 1096 1788 1095 2097 996 2102 957 2117 1064 1912 966 2115 972 2047 816 2108 901 2092 972 2103 1032 2054 911 2096 922 2109 883 2099 1100 1433 815 2108 930 2107 882 2115 954 2095 931 2083 1003 2106 886 2092 1103 1534 980 2110 1100 1549 926 2108 902 2087 1072 1879 927 2094 1062 1905 891 2098 1090 2010 973 2071 814 2111 921 2078 906 2088 977 2100 937 2113 880 2118 880 2099 811 2109 903 2090 874 2101 1035 2006 923 2082 1028 2040 876 2105 870 2114 890 2118 1101 1463 1044 1910 891 2106 987 2079 1064 2082 940 2080 830 2108 955 2075 1035 2111 849 2113 1093 1770 1077 1802 878 2094 1027 2088 969 2053 900 2113 1096 1645 880 2094 811 2108 960 2065 1095 1614 974 2107 960 2094 824 2107 975 2052 1071 1841 981 2057 950 2101 907 2115 1071 1971 1051 2045 952 2075 1043 2059 979 2037 891 2103 1076 2024 960 2061 876 2102 1098 1503 911 2113 1006 2015 836 2113 989 2036 1055 2064 1035 2061 883 2100 963 2066 871 2108 995 2098 1088 2078 857 2117 936 2075 835 2115 826 2107 1064 2068 984 2115 1104 1665 941 2078 1089 1936 970 2110 1045 2056 1094 1971 1068 1889 823 2108 929 2118 827 2117 1021 2014 1055 1956 1003 2009 976 2114 970 2053 979 2115 1083 1930 852 2102 993 2017 977 2059 992 2088 969 2108 1033 1980 1064 2076 962 2115 897 2094 1084 2023 827 2110 824 2116 929 2074 845 2103 880 2095 1078 2074 1050 1941 935 2073 945 2070 923 2085 882 2098 1092 2126 1074 2007 980 2052 1043 1917 923 2083 864 2100 842 2104 1090 1786 890 2104 853 2117 983 2115 1086 2092 987 2071 1018 2041 879 2119 884 2097 1101 1405 908 2108 932 2078 950 2074 981 2099 867 2107 1074 2120 954 2113 948 2116 1051 1980 839 2114 940 2117 903 2089 1091 1719 1005 2035 1061 1992 1009 2101 937 2075 809 2119 848 2107 850 2114 914 2118 985 2110 1079 1926 1005 2079 1073 2018 1011 2052 1005 2005 1069 1943 999 2075 1088 1756 994 2108 881 2119 986 2114 829 2115 1043 2069 914 2096 1095 1776 943 2078 915 2118 1025 2091 938 2109 908 2094 1032 1951 943 2075 968 2070 1097 1794 976 2107 820 2119 1083 2021 828 2107 1094 1770 1088 1692 909 2114 952 2097 976 2070 913 2099 1071 2098 898 2089 1029 2111 863 2102 848 2102 1100 1587 845 2118 954 2083 900 2118 1006 2074 835 2118 1008 2115 836 2107 983 2115 1097 1542 1012 2113 813 2110 926 2103 1066 2088 888 2103 1097 1561 1030 1979 926 2080 985 2048 1056 1907 822 2107 1082 2033 1006 2047 821 2109 929 2117 1001 2113 905 2090 842 2113 848 2111 851 2104 1045 2016 853 2103 1022 2077 1036 2020 855 2104 885 2099 937 2084 811 2110 1048 2067 937 2102 885 2094 1010 2102 1076 2034 937 2069 1090 1951 869 2096 1084 2091 1088 1775 929 2089 1034 2004 896 2110 1100 1437 998 2025 1075 1857 1009 2068 856 2100 1015 2042 1027 2078 981 2097 1084 1804 1010 2004 1098 2014 933 2097 851 2102 1065 1971 948 2096 810 2109 990 2115 857 2117 870 2114 1008 2007 913 2094 1075 1851 972 2115 958 2063 862 2108 846 2108 835 2105 1008 2085 1092 1955 1082 1847 871 2109 1025 2046 875 2119 1079 2126 816 2109 1024 1994 902 2105 1099 1487 1095 1813 1093 1910 1080 1830 909 2110 883 2111 1058 2053 1012 2065 887 2118 831 2105 974 2093 864 2115 1064 2053 808 2109 927 2080 1049 2052 822 2109 1046 1985 830 2105 994 2098 892 2115 912 2093 988 2076 1046 2044 867 2119 1100 1449 1057 2043 914 2080 1103 1426 1054 2013 975 2091 975 2092 982 2050 822 2113 1025 2112 850 2101 996 2115 1076 2084 886 2103 880 2106 932 2074 1058 2096 850 2111 981 2057 835 2109 833 2107 1025 2102 973 2101 930 2093 932 2090 1007 2025 902 2102 836 2107 904 2115 1046 2055 908 2098 846 2114 987 2064 1068 1901 867 2111 985 2082 1044 1948 1040 2112 988 2115 816 2114 897 2106 899 2087 903 2087 926 2082 910 2110 851 2118 1027 2055 918 2099 842 2105 1007 2114 1055 1996 983 2061 836 2111 853 2102 1103 1394 979 2072 1085 1769 999 2019 1048 2086 989 2093 1077 1931 1103 1855 982 2101 905 2115 1006 2105 954 2116 800 2111 937 2099 907 2119 998 2024 963 2066 934 2092 1003 2035 948 2101 828 2116 1064 1972 1098 1699 821 2107 1021 1972 975 2092 1065 1981 977 2055 850 2101 914 2118 954 2063 952 2104 897 2100 1024 2097 923 2091 1095 1659 986 2102 876 2103 1086 1771 925 2108 871 2113 880 2113 909 2089 876 2098 923 2107 1077 2057 1028 2090 823 2113 870 2102 847 2102 956 2107 859 2099 837 2105 995 2072 906 2089 949 2089 888 2102 837 2115 1014 2079 1074 2031 1036 2074 1006 2094 849 2105 1011 2075 1099 1669 888 2100 1091 1844 868 2099 1034 2014 1004 2091 851 2103 825 2119 1043 1920 855 2107 902 2086 1070 1864 886 2108 938 2104 924 2114 979 2067 858 2108 938 2116 829 2106 986 2080 1002 2114 1038 1951 963 2056 802 2112 948 2082 1098 1499 1097 1543 1024 2090 998 2080 983 2046 987 2045 1080 1911 1070 2103 1065 2083 825 2119 962 2102 809 2118 979 2092 1103 1394 826 2116 1099 2110 903 2105 936 2080 1008 2054 1030 1995 1055 1955 873 2107 928 2093 1054 2092 1086 1814 1100 1651 968 2116 967 2097 915 2092 1101 2065 1021 2016 1104 1390 1063 1941 1074 2052 1079 1923 1028 2064 1100 1666 1077 1823 1022 2106 1042 2028 1099 1513 1049 1985 908 2113 993 2043 869 2099 1081 2036 855 2100 1104 1538 928 2084 1047 2107 815 2109 867 2102 840 2108 1072 1834 1098 1869 1004 2012 1088 1808 848 2115 1065 1884 991 2058 902 2088 1093 1782 994 2038 881 2118 934 2107 861 2116 1047 1916 917 2106 812 2114 1075 1974 808 2118 851 2102 840 2111 1094 1829 1091 1845 879 2102 1077 1927 1027 2065 1071 1848 1091 1703 1060 2007 886 2110 834 2115 911 2084 1057 2097 957 2088 878 2096 935 2074 1086 2126 1092 1750 985 2077 1096 1847 933 2077 893 2094 1094 1594 1067 2025 1103 1384 960 2101 1081 2005 1048 1945 864 2099 815 2115 1100 1871 845 2114 899 2119 1051 1933 1102 1394 1101 1941 809 2111 871 2098 924 2100 812 2112 825 2111 819 2107 894 2117 959 2092 1049 2030 1062 2046 1048 2051 984 2080 1018 2085 1085 2126 903 2097 975 2060 852 2109 944 2106 1060 2095 930 2118 957 2055 862 2118 868 2098 850 2105 913 2091 1089 1682 1103 1469 1086 1759 913 2094 1078 1828 821 2117 971 2066 896 2091 882 2101 864 2100 946 2116 1063 2006 816 2118 827 2107 963 2115 835 2107 998 2066 980 2066 931 2091 1088 1960 1082 1853 1017 2051 825 2117 849 2118 834 2106 1092 1787 931 2095 804 2109 1074 2088 812 2113 981 2038 1053 2017 1044 2103 819 2107 876 2113 1087 1819 844 2105 947 2079 966 2100 989 2077 1076 1829 868 2104 836 2106 1037 1956 971 2116 821 2108 913 2094 825 2110 813 2115 1025 2089 843 2116 886 2113 810 2118 1095 1954 984 2115 986 2096 1015 2112 1090 1645 1003 2048 1028 2087 1100 1630 1016 2079 980 2085 1007 2038 1079 2024 1022 2091 1006 2064 844 2105 1084 2067 978 2080 839 2104 851 2110 1097 1548 1071 1954 940 2094 1034 2087 1010 2067 895 2118 1091 1967 938 2087 860 2117 999 2051 930 2080 944 2080 1096 1801 1066 1949 989 2031 855 2104 892 2090 1066 1912 888 2119 889 2099 804 2110 1097 1644 845 2110 825 2109 904 2118 871 2118 1056 2040 951 2098 832 2107 885 2096 853 2104 1055 1953 808 2113 959 2068 1083 1785 1033 2070 1096 1754 822 2108 889 2106 912 2086 911 2118 1015 1981 1004 2094 1037 2028 1003 2111 856 2107 1088 2094 921 2105 809 2114 817 2112 992 2076 866 2112 994 2067 850 2102 816 2116 849 2104 1078 2057 974 2074 1101 2025 1008 2078 997 2048 900 2097 1086 1876 1040 2055 876 2119 1052 2104 880 2105 1097 1862 850 2103 951 2079 931 2117 919 2115 1054 2051 1013 2108 1095 1831 897 2119 908 2088 884 2101 925 2118 829 2108 1031 2087 1101 1433 903 2086 895 2094 999 2085 968 2059 833 2109 1051 2038 996 2114 996 2039 1039 1971 973 2116 887 2097 1080 2124 907 2112 1091 1697 1102 1590 917 2118 988 2084 1060 2055 1012 2091 1022 2081 927 2118 1055 2049 1016 1986 999 2046 920 2117 1011 2072 1064 2092 981 2029 1060 2002 891 2094 872 2115 927 2079 1014 2073 838 2106 1025 2083 965 2116 1099 1495 1077 1938 1073 1964 829 2107 859 2101 1060 2026 1037 1943 941 2089 1066 2090 845 2108 975 2067 1059 1973 865 2105 878 2108 990 2087 899 2092 882 2098 968 2058 821 2111 1018 1990 1005 2102 1091 1789 848 2112 838 2109 837 2118 1073 2044 878 2101 1076 1854 848 2104 924 2110 971 2042 996 2031 889 2095 914 2084 1067 1980 1027 2009 948 2116 984 2090 1058 2081 1052 2024 1043 2009 1063 2023 1042 2064 895 2118 930 2076 948 2064 835 2110 812 2112 949 2116 831 2106 960 2066 861 2114 879 2098 1072 2013 972 2065 1052 2100 843 2117 1095 1570 842 2107 928 2078 896 2113 954 2059 1085 2129 1099 1487 978 2111 1097 1537 1097 1546 1085 2122 1074 2026 945 2074 1095 1733 1064 1914 858 2118 835 2108 1043 1978 1008 2105 809 2120 1101 1583 1032 2061 829 2110 926 2117 1009 2113 953 2112 1006 2110 948 2109 1085 2014 905 2098 852 2104 1024 2113 825 2110 878 2108 1089 1740 831 2114 942 2078 1070 1932 1020 2084 883 2095 804 2118 822 2109 950 2101 956 2068 1100 1762 883 2107 1088 1948 880 2118 938 2106 891 2118 987 2055 853 2104 1096 2027 899 2118 941 2117 995 2037 963 2102 951 2106 925 2091 1007 2112 958 2073 1085 1774 928 2075 1073 2112 875 2099 1092 2125 901 2103 945 2095 954 2116 973 2038 887 2095 876 2102 1011 2089 1091 1839 1083 2007 938 2118 901 2094 1010 2055 1059 2020 966 2091 897 2110 969 2046 903 2111 941 2071 970 2053 934 2074 861 2117 909 2099 1043 2084 827 2118 852 2116 1082 1866 896 2092 856 2102 1084 2123 1093 1677 1029 1972 981 2036 1034 2084 988 2070 816 2114 947 2086 843 2109 964 2095 1020 1989 914 2116 942 2082 866 2102 861 2104 980 2096 950 2075 1002 2114 997 2056 1101 1676 876 2100 806 2109 1032 2113 830 2107 986 2053 878 2098 1024 2030 847 2102 1066 2039 947 2064 893 2119 881 2097 921 2109 846 2104 913 2103 875 2098 1078 2047 928 2091 865 2107 869 2102 833 2107 867 2114 1018 2015 1100 1472 811 2118 837 2106 1081 2117 840 2111 984 2114 1089 2075 892 2111 888 2109 844 2110 982 2057 970 2051 871 2111 950 2117 1038 1947 824 2108 954 2062 836 2111 882 2109 1030 2021 846 2104 978 2095 861 2103 864 2102 1088 1757 915 2113 1102 1635 1074 1950 815 2114 821 2107 885 2118 908 2103 882 2098 821 2107 816 2118 982 2111 1097 1831 887 2101 877 2102 840 2106 911 2095 1002 2056 895 2094 1012 2020 1026 2015 986 2111 962 2086 1050 2068 856 2102 840 2105 1093 1650 1092 1900 881 2097 1104 1415 1009 2050 1064 2048 864 2118 834 2112 950 2074 978 2097 934 2096 1025 2113 812 2109 1047 2093 930 2086 907 2119 840 2103 1036 2096 1029 2022 825 2119 998 2096 1082 2033 985 2080 1063 2046 1033 2078 996 2070 853 2105 822 2116 1085 1777 843 2106 1087 1774 811 2108 1032 2012 800 2112 1012 2108 874 2114 825 2109 1007 2095 966 2112 851 2104 942 2076 1007 2111 980 2057 929 2105 835 2106 1028 2057 1052 2053 1022 2057 807 2116 851 2103 1004 2069 825 2110 944 2110 1042 2015 880 2119 1037 1979 1020 2049 841 2116 1054 1950 977 2108 825 2107 922 2088 837 2115 1070 1901 904 2114 1088 1994 942 2117 1104 1399 1089 1992 1072 2086 876 2100 1078 2062 972 2109 966 2051 897 2108 1030 2058 1033 2086 920 2109 966 2107 983 2068 897 2091 927 2085 977 2116 834 2105 1102 1631 866 2112 1078 1937 1002 2049 871 2106 1098 1497 991 2081 919 2084 933 2081 949 2076 922 2107 1003 2071 957 2073 867 2098 974 2077 1084 2045 1068 2006 806 2111 1031 2047 799 2111 997 2026 899 2117 955 2072 1078 1956 895 2099 898 2087 909 2097 891 2091 1086 2110 1096 1552 1096 1571 870 2111 837 2106 976 2110 1065 2046 892 2115 1035 2091 1100 1476 947 2068 865 2112 914 2088 1002 2034 972 2074 1035 1976 895 2113 856 2103 940 2112 1103 1382 959 2077 974 2046 1087 2111 1088 2001 1085 2113 856 2103 903 2103 849 2112 1029 2057 924 2087 885 2099 950 2116 1093 1980 983 2094 806 2111 1025 2032 1087 1710 1072 2030 944 2085 833 2106 917 2094 1010 2092 853 2103 935 2084 1095 2006 1054 1945 921 2090 1005 2062 1051 2022 830 2107 1072 1918 998 2104 955 2083 966 2115 1016 2088 936 2108 1093 1712 1032 2027 995 2104 851 2104 1075 1993 1090 1741 1074 1830 938 2076 971 2099 985 2070 1031 2043 1056 1968 887 2099 979 2106 805 2113 1028 2030 1064 2075 1008 2016 881 2107 1070 2079 1034 2070 1081 1889 970 2108 916 2101 1099 1470 1054 2026 937 2075 829 2105 895 2089 852 2101 867 2118 819 2110 944 2073 937 2081 904 2112 913 2092 939 2076 879 2110 1025 1994 851 2101 1050 2084 1030 2094 910 2085 921 2079 938 2115 1082 1881 843 2105 823 2119 936 2107 917 2107 936 2082 1014 2110 961 2059 825 2114 1078 2047 1016 2019 987 2043 1097 1979 877 2097 811 2111 861 2117 1102 1709 1030 2069 956 2061 1101 1566 850 2104 1052 2033 972 2115 846 2104 827 2108 881 2115 948 2109 1062 2032 1102 1428 812 2108 1011 2114 931 2111 1039 2059 1102 1477 1040 2092 1063 1958 952 2112 1092 1790 859 2112 824 2106 1053 2100 1017 2014 930 2117 813 2112 963 2058 958 2114 953 2095 826 2118 801 2118 1087 1894 1020 2093 841 2113 884 2114 928 2075 882 2106 1070 2075 1089 1698 1099 1536 826 2106 1002 2006 938 2070 903 2093 977 2115 807 2109 1001 2073 814 2110 961 2071 952 2105 914 2118 935 2116 913 2117 1099 1646 1085 2054 1058 1939 949 2083 978 2059 844 2104 916 2094 944 2109 1083 1807 810 2110 1090 1830 1034 2039 1007 2001 842 2104 1019 1996 820 2109 1084 1896 1016 2086 920 2114 995 2071 1083 1764 953 2071 1096 1746 1079 2082 1091 1644 900 2101 915 2107 942 2070 1060 2048 1044 2016 959 2055 1003 2085 922 2117 1048 2045 961 2066 1052 2043 934 2090 984 2047 1102 1535 956 2062 1063 1914 958 2079 1034 2044 984 2115 1094 2043 1006 2115 1103 2023 1042 1976 927 2105 894 2118 1019 2104 911 2097 949 2111 884 2111 996 2029 957 2078 1064 2052 997 2098 805 2113 1013 2055 1000 2104 1042 2060 851 2105 838 2116 1098 1687 1006 2113 1096 1560 906 2099 1029 2097 929 2116 884 2111 1084 1904 824 2114 840 2116 988 2066 1102 1818 904 2105 970 2077 1038 2016 826 2114 863 2114 1061 2091 1049 1951 1014 2111 831 2105 1088 1724 1002 2088 1014 2078 1092 1626 959 2068 942 2074 826 2106 1055 1934 927 2118 877 2100 853 2119 847 2104 924 2078 1070 2014 867 2118 852 2101 966 2098 998 2079 871 2100 1032 2103 1015 2077 952 2071 895 2094 1035 2015 1004 2056 1092 1998 1005 2016 840 2103 992 2029 816 2110 1079 1877 1084 1869 1004 2042 1016 2083 874 2114 1036 2062 892 2096 859 2112 1023 2111 910 2091 1088 1728 847 2110 923 2118 869 2117 846 2110 965 2104 876 2099 1074 1948 999 2045 1103 1533 924 2086 812 2110 1104 1459 841 2111 962 2116 970 2048 991 2045 1075 2057 845 2105 1058 1985 854 2100 1043 2055 1042 2077 1033 1946 1057 2051 866 2099 832 2118 909 2106 977 2059 959 2075 979 2111 897 2099 882 2093 883 2118 902 2099 887 2107 1031 2060 1100 1426 1090 1839 812 2110 1098 1947 1063 1919 874 2097 991 2071 1001 2080 977 2115 1089 1765 831 2117 1103 2058 859 2103 1074 1839 938 2113 802 2115 848 2105 879 2096 887 2118 829 2116 985 2114 1001 2085 816 2110 1086 1754 882 2101 955 2074 1069 2087 933 2102 1075 2096 1004 2094 913 2117 943 2082 918 2081 985 2115 1049 2052 1079 2103 1003 2079 1074 2100 1004 2099 889 2108 925 2080 896 2105 1066 2023 812 2110 1034 2092 1014 2113 823 2114 868 2118 1031 2087 972 2094 942 2117 911 2099 962 2112 986 2037 939 2105 1069 2050 1095 1573 935 2072 921 2105 945 2069 914 2088 997 2070 874 2108 1017 2048 1089 1754 969 2088 984 2034 1039 1960 1018 2056 986 2061 998 2065 1052 2040 811 2108 875 2104 1073 2084 1054 2051 1059 2071 1070 1867 943 2071 1054 2097 910 2115 975 2115 892 2110 848 2117 833 2106 1078 2108 978 2078 1000 2056 1031 2111 942 2081 1081 2065 1096 1758 827 2106 1059 1881 1022 1999 886 2096 1075 1849 857 2118 817 2108 904 2096 1000 2114 1095 1703 854 2108 1089 2030 1095 1785 1010 1990 875 2104 871 2115 829 2112 1097 1625 850 2111 826 2107 872 2102 1090 1692 1102 1611 921 2090 937 2075 862 2117 898 2112 850 2102 1084 1938 1031 2041 1088 2091 828 2106 1090 1956 1069 2002 1041 1919 907 2091 864 2114 1075 2074 1088 1785 1056 1903 967 2053 919 2101 914 2103 1029 2055 926 2089 1099 1818 862 2100 828 2114 876 2096 1078 1894 1051 2034 913 2115 946 2115 911 2114 1091 1932 1044 2016 889 2091 1063 1957 1043 2112 1103 1580 858 2102 926 2111 811 2115 1011 2098 838 2118 954 2057 1061 1901 1057 1984 937 2103 1044 1937 877 2111 964 2054 1069 1921 1046 2039 880 2107 957 2069 992 2104 948 2092 804 2112 922 2087 885 2092 847 2114 1101 1452 1005 2048 818 2109 1034 2045 852 2102 933 2078 826 2117 1081 2129 1040 2110 937 2109 1089 1980 916 2080 900 2099 984 2041 1082 1894 813 2108 883 2094 833 2115 911 2107 825 2109 990 2115 938 2087 1077 1828 1094 1667 895 2117 1096 1557 832 2106 955 2103 813 2113 873 2117 999 2015 892 2101 818 2118 811 2110 865 2118 849 2114 827 2106 966 2059 835 2106 1056 1953 1095 1580 938 2074 847 2113 842 2104 1057 1887 1095 2065 1092 1734 935 2091 942 2069 1092 1926 1003 2066 1039 1985 1075 1827 874 2102 982 2053 1000 2114 1041 1987 908 2088 938 2117 957 2084 848 2105 915 2089 1089 1955 802 2118 814 2116 1078 2073 955 2058 882 2099 959 2116 1009 2114 851 2116 1096 1905 879 2097 1079 1839 802 2113 859 2115 1078 2109 942 2100 1023 2002 959 2067 984 2115 837 2117 887 2118 1085 1930 884 2097 807 2117 997 2020 904 2088 1059 1938 952 2080 1029 1974 1053 2074 1084 2078 910 2089 1005 2094 892 2096 1085 1763 1013 2083 1093 1821 905 2092 834 2106 826 2107 941 2076 1024 2084 1025 1956 820 2115 1075 1877 814 2108 975 2069 1074 1980 813 2117 832 2113 1095 1920 904 2088 842 2104 862 2115 855 2115 875 2096 1081 2066 1092 1636 1013 2028 986 2095 1080 2126 1029 2002 969 2106 902 2091 1039 2074 1054 2085 942 2101 839 2106 959 2079 1064 1951 853 2103 884 2113 1076 1929 1070 1927 1086 1886 837 2107 1083 1812 847 2103 999 2112 993 2017 1078 1804 1095 1782 934 2104 1047 2102 1024 2098 1030 2113 856 2110 904 2097 825 2114 810 2116 1031 2010 1015 2052 933 2098 1004 2061 878 2099 843 2103 931 2107 1063 1991 1043 2049 1068 1910 958 2080 974 2057 955 2086 959 2116 1100 1460 1042 2035 967 2066 856 2101 1034 2086 1016 2088 847 2104 1100 1930 910 2085 802 2112 980 2115 941 2094 816 2108 827 2108 952 2078 820 2109 942 2105 971 2050 1086 1746 955 2103 932 2100 1036 2075 1057 2052 873 2111 901 2108 1101 1551 1084 2113 1079 1998 1031 2112 945 2104 989 2077 968 2082 813 2109 953 2068 839 2107 1101 1588 846 2111 819 2108 944 2116 877 2111 838 2116 803 2114 904 2100 865 2101 1073 1877 919 2114 893 2096 862 2112 1070 1919 1101 1445 960 2094 833 2106 820 2115 872 2099 1047 2080 814 2109 823 2113 1044 1973 856 2110 874 2098 952 2112 856 2101 807 2110 912 2105 958 2117 812 2110 975 2095 849 2102 1084 1755 912 2118 903 2086 1101 1641 845 2107 899 2104 915 2084 964 2095 814 2113 1063 2005 907 2099 810 2109 901 2097 960 2107 871 2100 1016 2096 926 2084 1012 2033 893 2096 1087 1990 1007 2108 924 2099 858 2109 853 2103 995 2099 874 2114 954 2064 976 2116 998 2044 1099 1494 1099 1610 840 2104 838 2108 1078 2113 887 2094 1070 2058 893 2093 864 2118 996 2054 911 2116 878 2097 1040 1990 1026 2040 993 2043 913 2086 1099 1495 976 2066 841 2106 1095 1580 983 2114 972 2098 993 2103 1033 2113 1098 1520 1016 2056 995 2089 956 2078 1080 1968 818 2115 841 2108 956 2103 1011 2113 1082 2128 891 2104 983 2067 1044 2075 993 2077 878 2095 848 2103 1042 1979 968 2097 942 2115 1021 2045 1026 2110 958 2071 996 2100 901 2087 1102 1422 946 2067 1099 1474 1015 2041 905 2101 874 2114 1036 2061 1076 1888 1036 1967 1094 1627 962 2097 1081 1831 1068 1979 970 2105 883 2102 949 2100 983 2081 822 2114 1082 2001 949 2081 1102 1559 893 2117 976 2103 1024 2025 975 2048 847 2105 1015 2099 1091 1963 904 2119 839 2108 889 2093 1096 2076 994 2091 1035 2109 1017 2051 1073 2086 1045 1995 991 2082 1029 2086 1042 2112 959 2101 1101 1898 973 2116 1046 2106 872 2097 1099 1940 1093 2108 834 2110 867 2107 1030 1961 908 2119 822 2115 998 2088 998 2103 1055 1940 1046 2005 922 2108 1074 1922 1091 1733 798 2112 1077 2079 1085 1858 904 2093 877 2111 1085 2095 939 2108 982 2032 923 2117 968 2106 1050 2105 895 2119 1085 1846 824 2107 960 2099 1006 2037 890 2104 907 2106 921 2090 846 2109 908 2083 1028 2102 840 2112 829 2115 948 2112 922 2118 880 2103 880 2118 1102 1406 1081 2122 1070 1991 955 2106 968 2080 970 2108 1081 1895 848 2106 1104 1534 1090 2098 1021 2104 965 2116 1015 2074 1092 1647 872 2119 852 2109 952 2087 977 2038 998 2083 1098 1514 1047 2076 1078 1834 824 2106 922 2091 922 2115 1070 1943 847 2118 1083 2125 954 2113 859 2106 964 2092 903 2110 1062 1910 919 2102 1086 2049 847 2117 1092 1738 1005 2079 908 2104 886 2104 951 2109 974 2063 931 2072 951 2087 996 2114 1000 2067 1094 1593 952 2112 1083 1966 967 2084 846 2105 881 2098 1098 1633 887 2110 902 2085 802 2115 1095 1670 1081 2107 1071 1867 924 2090 1031 2102 853 2104 1026 2061 1100 1426 979 2090 982 2099 994 2066 1009 2101 992 2097 892 2110 931 2117 921 2086 821 2110 1086 1960 1093 1763 1071 1872 1092 1799 1070 2004 1000 2097 1104 1540 893 2101 932 2116 1077 1820 822 2107 974 2086 1080 1868 906 2104 994 2028 899 2090 845 2103 807 2110 856 2118 876 2110 914 2102 824 2109 832 2114 869 2096 964 2069 842 2108 890 2118 1074 2033 1095 1568 802 2110 1071 1954 989 2069 1065 1880 921 2094 978 2065 1045 2074 997 2076 1014 2069 1036 2040 980 2102 991 2036 899 2111 1071 2099 1079 2107 935 2077 963 2106 831 2106 1097 1689 926 2092 1007 2016 820 2111 898 2090 1003 2091 970 2058 964 2116 977 2060 881 2101 1089 1976 848 2102 1090 1751 805 2111 896 2098 987 2099 1027 1968 863 2098 1006 2113 995 2063 947 2108 911 2099 854 2104 842 2103 1023 2091 1055 2082 830 2115 863 2117 918 2095 1099 1621 1096 1941 1042 2110 999 2014 814 2114 1102 1376 998 2104 1016 1983 964 2095 996 2103 957 2108 1029 1979 1024 2095 985 2101 960 2089 973 2111 893 2107 1021 2106 930 2086 905 2093 1093 1623 1087 2092 952 2070 911 2107 906 2094 802 2118 845 2118 960 2078 851 2118 1016 2012 969 2085 980 2054 967 2059 894 2096 1032 1946 1006 2070 1040 2085 917 2093 919 2109 816 2110 898 2098 923 2103 854 2100 1090 1859 1017 2076 819 2109 801 2116 1083 1799 825 2115 920 2090 1100 1652 1068 2029 942 2071 1012 2004 875 2105 970 2114 944 2098 923 2118 842 2106 845 2114 1085 2129 1096 1549 1008 2005 853 2101 1082 2076 835 2118 958 2074 1057 1909 1043 1925 832 2116 886 2094 1060 1928 972 2110 904 2086 1090 1731 1040 2000 1079 1860 937 2083 819 2107 851 2104 970 2103 873 2102 966 2087 1082 2014 1016 2089 935 2090 986 2114 967 2108 890 2107 970 2092 1075 1834 989 2094 873 2118 1094 1886 874 2102 1091 1857 1059 1921 975 2051 836 2104 1102 1948 895 2116 880 2098 1086 2101 933 2117 863 2098 995 2091 1102 1402 916 2119 852 2103 1017 2002 1080 1840 947 2111 889 2095 1062 1909 1103 1480 1074 2104 995 2103 1100 1440 857 2103 1090 1755 1023 2105 871 2112 944 2093 1054 1930 876 2095 1030 1965 979 2059 828 2108 924 2083 1074 1934 1044 2109 941 2089 986 2050 1023 2104 867 2108 929 2097 1102 1416 1046 2096 1080 1828 1019 2071 970 2046 831 2106 1050 1913 1018 2111 1079 2123 925 2084 1087 1758 969 2046 853 2102 1027 2039 1045 2050 926 2079 977 2104 976 2085 1032 2070 896 2117 859 2113 1030 2113 967 2088 866 2116 1082 1897 838 2106 1087 2101 1004 2113 1093 1637 825 2106 1087 1915 851 2105 1011 2056 1005 2027 939 2098 1035 2057 1027 2110 1085 1860 943 2083 1085 2068 833 2117 1076 2068 951 2067 1101 1755 939 2070 1031 2007 991 2023 1073 1945 938 2118 942 2117 839 2110 1012 1997 1083 2039 877 2108 988 2068 852 2115 1095 1716 1052 2070 1040 2064 956 2084 903 2087 855 2100 972 2115 945 2116 1102 2063 916 2118 1075 1975 955 2097 843 2108 910 2117 817 2111 1071 2067 1099 1473 856 2102 975 2065 909 2086 1095 1589 1032 1997 918 2095 993 2045 1088 2076 1090 1947 862 2100 1036 2012 827 2112 869 2116 817 2114 918 2113 1010 2038 997 2032 823 2113 857 2119 870 2102 867 2102 1006 2038 949 2082 1070 1918 912 2090 951 2114 1089 1822 874 2101 809 2114 906 2112 838 2105 1020 2062 1102 1398 1018 1993 945 2093 990 2098 1017 2083 895 2090 858 2114 1103 1390 912 2103 847 2108 1085 2049 850 2116 929 2085 851 2103 856 2118 825 2114 995 2089 1102 1536 1001 2053 1103 1557 1100 1661 1041 2012 843 2117 811 2109 977 2038 1070 2037 831 2111 1055 1885 1006 2083 1098 1866 932 2115 866 2103 1059 2046 842 2106 1083 1790 1087 1870 913 2114 1057 2097 1057 1876 1000 2050 813 2110 1039 2052 845 2111 906 2114 846 2114 935 2105 1050 1951 899 2092 1046 1941 1026 2079 849 2112 1083 1902 874 2111 996 2029 1075 1931 1030 1996 870 2108 1098 1733 827 2111 1018 1987 815 2118 890 2092 1023 2113 1102 1744 1098 1636 959 2099 881 2098 1036 2049 1083 2062 1029 1995 806 2116 984 2041 1096 1563 1014 2069 917 2092 914 2093 1036 1949 883 2106 855 2107 960 2111 929 2116 901 2098 1074 2059 947 2094 1095 2077 1027 1985 866 2101 898 2098 1074 2073 1022 2069 894 2110 882 2104 888 2119 990 2093 883 2112 1104 1403 952 2073 877 2100 835 2113 938 2077 925 2097 854 2106 934 2076 848 2108 953 2070 822 2106 1062 1955 850 2111 926 2089 1074 2015 1002 2037 933 2108 897 2095 1040 2013 1074 2072 807 2115 969 2100 1084 2076 1041 2096 1058 1900 1095 1565 1015 2064 878 2100 1039 2039 824 2108 817 2108 1029 2047 962 2106 1045 2073 1043 2041 1064 2079 867 2105 983 2092 971 2071 854 2104 961 2090 859 2104 1007 2100 981 2037 924 2098 904 2107 1049 2001 991 2026 1076 1872 1073 2019 1102 1591 1077 2077 1090 1967 1011 2041 832 2114 955 2115 910 2092 1049 2101 1001 2079 934 2114 911 2118 838 2116 1058 2024 1047 2107 1066 1938 1063 2090 882 2104 832 2106 942 2096 1066 1928 855 2102 886 2119 1026 2006 945 2079 1070 1851 1084 2121 1038 2112 887 2100 962 2079 975 2086 1087 1853 899 2098 891 2098 1085 1786 978 2066 870 2115 1056 2089 1053 1977 989 2066 890 2117 806 2115 829 2105 887 2097 1081 2126 1101 1492 911 2106 983 2049 922 2095 1016 2090 971 2091 806 2119 838 2104 1104 1482 989 2070 975 2039 1089 2128 925 2104 1103 1913 811 2110 1056 2007 970 2051 986 2105 905 2118 805 2111 1080 1894 1027 2063 984 2105 944 2078 817 2110 1058 1990 905 2095 1089 1931 1104 1403 1080 1986 825 2119 994 2016 1090 2109 869 2111 798 2110 1012 2061 854 2113 1086 2074 1072 1889 825 2117 818 2115 1001 2056 994 2025 1093 1731 968 2116 812 2108 869 2102 1087 1768 841 2103 951 2081 1091 1784 879 2098 922 2112 906 2098 1083 2016 1043 2059 928 2077 1076 2004 828 2108 1002 2008 808 2111 867 2101 818 2107 1054 1886 1041 2084 1033 2103 1101 1551 1070 2101 1067 1913 856 2109 927 2094 1094 1736 939 2091 892 2115 896 2093 845 2115 868 2118 1028 2003 937 2086 963 2103 1009 2083 1099 1697 1058 2063 902 2118 802 2111 895 2098 1002 2071 1054 2067 925 2113 924 2105 1073 1982 962 2075 998 2052 1045 1993 811 2111 1031 2040 896 2115 921 2084 1030 2095 1005 2002 843 2106 1024 2053 819 2120 823 2108 832 2107 967 2071 833 2106 950 2078 861 2111 864 2102 1034 2094 1103 1413 941 2106 811 2116 1103 1389 886 2118 989 2081 931 2074 974 2083 1102 1441 1066 1909 1048 2043 1073 1847 1035 2082 851 2105 908 2109 1102 1465 932 2110 890 2113 969 2058 1036 2022 910 2098 989 2114 840 2104 928 2081 897 2106 1097 1650 961 2073 910 2091 936 2082 798 2112 987 2101 914 2094 1041 1945 937 2089 959 2056 848 2110 845 2105 992 2086 814 2117 1047 2051 963 2116 848 2103 1089 2064 1086 1787 963 2115 915 2118 1062 2041 1075 1819 1073 2088 1029 2111 997 2022 980 2101 806 2115 939 2077 843 2103 924 2107 814 2113 1024 2029 894 2102 1060 2026 920 2093 998 2017 988 2089 1026 2064 978 2047 1046 1992 838 2105 1083 1846 830 2108 1070 1974 982 2116 822 2117 1021 2043 892 2098 959 2117 1089 1898 1084 2131 957 2095 1061 2050 1073 2069 814 2111 1001 2062 862 2109 998 2089 1090 1685 851 2104 1084 1893 947 2095 1019 2113 1006 2006 1053 2039 865 2109 813 2110 958 2067 877 2105 867 2102"/>
<path transform="scale(.5)" fill="none" marker-start="url(#mh)" marker-mid="url(#mh)" marker-end="url(#mh)" d="M1105 1361 1105 1361 1105 1361 1105 1361 1105 1361 1105 1361 1105 1361 1105 1361 1105 1361 1105 1361 1105 1361 1105 1361 1105 1361 1105 1361 1105 1361 1105 1361 1105 1361 1105 1361 1105 1361 1105 1361 1105 1361 1105 1361 1105 1361 1105 1361 1105 1361 1105 1361 1105 1361 1105 1361 1105 1361 1105 1361 1105 1361 1105 1361"/>
<path d="M165.5 1067.5H175.5V1064.5H165.5ZM170.5 1064.5V1061.5M170.5 1067.5V1067.5M168.5 1061.5H173.5M168.5 1067.5H173.5M185.5 1067.5H195.5V1064.5H185.5ZM190.5 1064.5V1061.5M190.5 1067.5V1067.5M188.5 1061.5H193.5M188.5 1067.5H193.5M205.5 1067.5H215.5V1064.5H205.5ZM210.5 1064.5V1061.5M210.5 1067.5V1067.5M208.5 1061.5H213.5M208.5 1067.5H213.5M225.5 1067.5H236.5V1064.5H225.5ZM231.5 1064.5V1061.5M231.5 1067.5V1067.5M228.5 1061.5H233.5M228.5 1067.5H233.5M246.5 1067.5H256.5V1064.5H246.5ZM251.5 1064.5V1061.5M251.5 1067.5V1067.5M248.5 1061.5H253.5M248.5 1067.5H253.5M266.5 1067.5H276.5V1064.5H266.5ZM271.5 1064.5V1061.5M271.5 1067.5V1067.5M268.5 1061.5H273.5M268.5 1067.5H273.5M286.5 1067.5H296.5V1064.5H286.5ZM291.5 1064.5V1061.5M291.5 1067.5V1067.5M288.5 1061.5H293.5M288.5 1067.5H293.5M306.5 1067.5H316.5V1064.5H306.5ZM311.5 1064.5V1061.5M311.5 1067.5V1067.5M309.5 1061.5H314.5M309.5 1067.5H314.5M326.5 1067.5H336.5V1064.5H326.5ZM331.5 1064.5V1061.5M331.5 1067.5V1067.5M329.5 1061.5H334.5M329.5 1067.5H334.5M346.5 1064.5H356.5V1058.5H346.5ZM351.5 1058.5V1057.5M351.5 1064.5V1067.5M349.5 1057.5H354.5M349.5 1067.5H354.5M366.5 1063.5H376.5V1057.5H366.5ZM371.5 1057.5V1056.5M371.5 1063.5V1067.5M369.5 1056.5H374.5M369.5 1067.5H374.5M387.5 1063.5H397.5V1057.5H387.5ZM392.5 1057.5V1055.5M392.5 1063.5V1067.5M389.5 1055.5H394.5M389.5 1067.5H394.5M407.5 1062.5H417.5V1055.5H407.5ZM412.5 1055.5V1050.5M412.5 1062.5V1067.5M409.5 1050.5H414.5M409.5 1067.5H414.5M427.5 1062.5H437.5V1053.5H427.5ZM432.5 1053.5V1047.5M432.5 1062.5V1067.5M429.5 1047.5H434.5M429.5 1067.5H434.5M447.5 1062.5H457.5V1050.5H447.5ZM452.5 1050.5V1039.5M452.5 1062.5V1067.5M449.5 1039.5H454.5M449.5 1067.5H454.5M467.5 1061.5H477.5V1047.5H467.5ZM472.5 1047.5V1029.5M472.5 1061.5V1067.5M470.5 1029.5H475.5M470.5 1067.5H475.5M487.5 1061.5H497.5V1041.5H487.5ZM492.5 1041.5V1012.5M492.5 1061.5V1067.5M490.5 1012.5H495.5M490.5 1067.5H495.5M507.5 1062.5H517.5V1035.5H507.5ZM512.5 1035.5V994.5M512.5 1062.5V1067.5M510.5 994.5H515.5M510.5 1067.5H515.5M527.5 1062.5H537.5V1020.5H527.5ZM532.5 1020.5V957.5M532.5 1062.5V1067.5M530.5 957.5H535.5M530.5 1067.5H535.5M548.5 1046.5H558.5V871.5H548.5ZM553.5 871.5V680.5M553.5 1046.5V1066.5M550.5 680.5H555.5M550.5 1066.5H555.5" fill="none" stroke="#000" stroke-width="1.39" stroke-linecap="square"/>
<path d="M165.5 1066.5H175.5M185.5 1066.5H195.5M205.5 1066.5H215.5M225.5 1066.5H236.5M246.5 1066.5H256.5M266.5 1066.5H276.5M286.5 1066.5H296.5M306.5 1066.5H316.5M326.5 1066.5H336.5M346.5 1061.5H356.5M366.5 1060.5H376.5M387.5 1060.5H397.5M407.5 1058.5H417.5M427.5 1058.5H437.5M447.5 1059.5H457.5M467.5 1058.5H477.5M487.5 1057.5H497.5M507.5 1056.5H517.5M527.5 1054.5H537.5M548.5 966.5H558.5M568.5 680.5H578.5" fill="none" stroke="#ff7f0e" stroke-width="1.39" stroke-linecap="square"/>
</g>
<g clip-path="url(#c4)">
<path d="M655.3 1070.0L657.3 1061.3L812.3 1056.0L847.3 1055.3L887.3 1052.7L917.3 1049.3L935.3 1046.8L945.3 1047.5L952.3 1051.0L959.3 1056.0L967.3 1059.5L987.3 1059.5L1017.3 1058.5L1037.3 1057.8L1050.3 1058.2L1054.3 1060.0L1056.8 1063.5L1057.8 1069.0L1058.3 1070.0Z" fill="#000" filter="url(#bl)"/>
<path transform="scale(.5)" fill="none" marker-start="url(#mh)" marker-mid="url(#mh)" marker-end="url(#mh)" d="M2036 2113 1945 2085 2024 2083 2068 1896 1978 2087 1925 2086 1975 2059 2103 2044 2035 2019 1945 2098 2087 1935 2102 2089 1902 2113 1897 2100 2108 2012 1896 2118 1984 2108 2098 1980 1864 2108 1896 2118 1960 2117 1937 2115 1937 2113 2108 1673 1818 2111 2028 2084 2086 1872 2105 1665 1913 2113 2008 2047 1999 2101 1973 2107 1903 2091 1935 2088 2061 2055 1877 2100 1833 2109 2104 1980 2007 2085 2105 1654 2088 1940 1879 2108 2005 2036 1894 2110 1985 2058 1855 2104 2073 2001 2073 2031 1868 2104 2081 1922 2025 2096 2087 1832 1989 2058 2039 2071 2089 2080 1839 2108 2085 2104 2115 1486 1942 2076 1896 2113 2028 2110 2047 1963 1863 2115 1944 2092 2117 1591 2083 2074 1943 2078 1986 2084 2014 2062 1936 2097 1913 2119 1955 2113 1825 2109 1964 2090 1835 2115 1973 2067 2079 1922 1835 2107 1907 2099 1981 2099 1932 2098 2119 1658 2071 1940 2040 2086 2097 1892 2095 2049 1875 2100 1973 2095 2007 2022 2116 1385 1971 2063 1964 2086 1998 2069 2023 2114 1863 2118 2107 1729 2111 1747 1999 2046 2090 2083 2021 2113 2113 1503 2000 2054 1984 2096 1871 2112 1830 2114 1949 2078 1864 2116 2097 2104 2081 1979 1874 2104 2103 1762 1876 2100 1930 2105 1966 2095 1974 2112 2016 2095 1850 2106 2108 1601 1918 2088 1999 2103 2031 2075 1918 2117 1836 2118 2055 2033 2113 1492 1825 2117 2085 2006 2021 2006 1983 2066 1869 2101 1970 2069 2018 2070 1936 2117 2115 1462 1837 2115 2023 2115 2105 1874 1923 2107 1951 2104 1966 2116 1952 2118 1826 2108 1903 2118 1905 2111 1948 2085 1989 2105 2034 2013 1839 2107 1907 2098 1948 2107 2015 2109 1905 2099 2111 1769 1940 2106 2092 1814 1935 2102 2109 1953 2069 2076 2094 1966 1920 2092 2043 2085 2049 2019 1935 2109 2082 2095 1875 2105 1979 2069 1843 2110 2073 2093 2097 2028 1888 2099 2052 2013 1853 2114 2038 2013 1843 2105 1845 2107 2091 1821 2107 1765 2073 2095 1815 2112 2115 1569 1930 2090 1993 2112 2117 1609 2076 1946 2115 1477 1966 2066 1927 2087 1941 2086 2024 1995 1943 2118 2100 1770 1856 2103 2035 2112 1998 2069 1835 2109 1986 2087 1990 2104 1835 2108 2037 2074 1905 2106 2110 1561 1853 2117 2000 2097 1883 2098 1844 2107 2014 2102 2006 2044 1947 2089 2020 2056 2093 2048 1885 2118 1952 2087 2117 1380 1936 2080 1905 2104 1963 2110 1913 2118 2078 1928 1964 2081 2094 2070 2040 2031 1855 2114 2018 2079 2015 2090 1980 2066 2100 2040 2003 2043 2016 2091 2074 1991 1910 2112 2099 2131 1937 2111 1961 2103 1980 2094 1901 2095 2082 1908 2051 2094 2109 1846 2104 1694 1954 2091 1827 2116 2003 2085 2069 1930 2115 1719 1833 2108 2103 1813 2068 1920 1837 2117 1901 2099 1866 2101 1900 2105 1836 2112 2107 1642 2036 2112 2038 2113 1989 2047 1962 2082 2015 2114 1841 2109 1912 2096 1868 2104 1999 2078 2029 2077 2094 2071 2054 1996 1848 2105 1989 2113 2092 1925 1969 2116 2039 2112 1850 2111 1944 2095 1823 2116 2066 2041 2050 1943 2073 1988 1885 2100 1930 2092 1866 2117 2049 1981 1888 2119 1874 2115 1911 2100 2031 2078 2104 1910 2015 2040 1879 2111 1891 2099 1924 2107 1867 2114 2097 1878 1975 2101 1996 2047 1990 2115 2022 2010 2069 1979 1953 2101 1904 2109 2015 2108 1989 2081 1946 2115 1815 2118 1880 2098 1975 2083 1909 2095 2003 2053 2094 1837 2074 2082 2022 2064 1934 2104 2022 2089 1918 2105 2005 2027 2057 2041 1932 2087 1850 2109 1977 2086 1942 2102 2076 2000 1839 2114 1835 2109 1995 2051 2099 2118 1975 2075 2000 2056 1935 2109 1982 2058 2092 2007 1978 2063 1851 2115 1820 2114 1941 2090 1842 2106 1867 2110 1842 2114 1861 2102 1847 2106 2011 2110 1973 2113 2030 2065 2116 1534 1977 2116 1868 2107 1843 2109 2023 2069 1875 2100 2036 2025 1831 2109 1992 2077 1855 2114 1863 2104 2113 1716 1856 2103 1898 2099 2001 2028 1911 2094 1944 2086 1954 2076 2064 2066 2108 1725 2099 2131 1867 2118 2113 2089 1948 2116 1916 2086 2030 2106 2042 2074 1877 2108 2065 2042 1837 2109 1827 2111 1854 2104 2113 1798 1873 2102 2076 1983 1888 2101 1882 2105 1912 2099 1953 2069 1830 2118 1846 2109 1825 2114 2063 2014 1992 2059 1927 2088 2006 2114 2099 2129 1930 2105 1988 2040 1998 2087 2016 2068 1852 2107 2090 1828 1936 2104 1906 2119 2007 2112 2057 1971 2116 1537 1879 2115 1962 2098 2029 2009 1859 2103 1927 2117 2098 2067 1849 2105 2094 2006 2100 1761 2110 1570 2043 2025 1979 2058 1958 2117 2116 2106 2052 1960 2014 2095 1841 2108 1853 2105 1946 2115 2092 2125 2077 1978 2064 2038 1969 2074 1964 2094 2092 1828 2027 2095 2107 1663 1892 2098 2092 1903 1855 2116 1915 2112 1949 2082 2086 1988 2033 1977 1858 2104 2115 1490 1900 2105 2097 2125 2092 2031 2076 1891 1940 2115 1824 2110 1975 2100 1849 2107 2112 1511 1845 2108 2110 1701 1854 2106 1880 2113 1962 2061 1880 2100 2059 1988 2017 2094 1854 2117 2043 2054 1943 2118 1952 2105 2026 2071 1954 2095 1922 2090 1849 2107 1822 2118 2078 2032 2101 2089 2109 2103 2091 1922 1917 2119 2081 2075 1902 2093 1942 2084 2118 1965 1913 2098 1843 2113 2102 1984 2011 2113 2103 2032 2086 2004 2103 2087 1839 2112 2063 2079 1883 2102 2069 2069 2090 2111 1851 2106 2088 1972 2115 1528 1988 2114 2010 2048 2115 1450 2011 2078 1890 2102 1829 2113 1832 2109 1977 2055 1910 2099 2023 2017 2024 2104 1972 2099 2025 2042 2072 1960 1901 2099 2115 1621 1890 2107 1889 2119 1905 2095 1898 2113 1952 2107 1945 2106 2078 1924 1874 2104 1969 2070 1835 2116 2093 1925 1990 2040 2111 1873 2056 1963 2090 1884 1984 2047 2014 2084 1849 2115 2109 1601 2047 2071 1902 2095 1857 2110 1935 2093 1848 2106 1829 2109 1884 2101 1870 2102 1949 2075 1885 2099 1908 2118 1943 2081 1987 2074 1968 2116 1843 2110 2026 2058 1930 2113 2117 1424 2112 1684 2084 2032 2052 2071 1940 2090 1907 2097 1827 2119 2024 2060 2006 2030 2076 1880 1976 2085 1823 2109 2105 1724 1985 2069 1979 2073 1973 2080 1999 2077 1955 2113 1999 2031 1951 2117 1880 2101 2032 2068 1831 2119 2025 2035 2115 2034 2075 2031 2114 1930 1997 2049 2035 2077 1950 2087 1875 2117 2040 2112 1883 2102 2031 2112 2091 1837 1861 2106 2001 2079 1988 2116 2109 1627 2109 1577 1963 2112 2010 2100 2107 1904 1898 2118 2115 2034 2034 2112 1837 2116 1939 2094 2112 1777 1939 2100 1948 2084 1940 2080 1938 2111 1965 2088 2115 1395 2094 1907 2116 1379 1903 2111 2015 2028 1966 2102 2053 2078 1853 2118 1907 2097 1967 2088 1857 2114 1833 2116 1950 2104 2095 2094 1983 2109 1952 2108 1998 2037 2017 2065 1924 2096 1955 2113 1822 2120 2018 2034 1943 2091 1864 2105 1978 2094 2017 2100 1987 2040 2107 1846 1944 2098 1874 2107 1962 2111 1815 2110 2079 1984 1885 2097 2112 1881 1842 2107 1896 2106 2105 1994 2071 1901 1980 2111 2001 2103 2011 2037 1875 2103 2005 2114 2058 1944 2073 1897 1890 2096 1887 2100 2075 1976 2116 1665 2037 1975 1971 2094 2093 2037 2091 2035 2007 2053 1985 2071 1920 2098 1839 2113 1883 2098 1954 2086 1919 2105 2060 1977 1826 2111 1868 2114 2021 2026 1966 2103 2046 2000 2006 2055 2017 2012 1871 2105 1840 2117 2027 2104 1895 2103 1983 2071 2091 1963 1986 2094 1976 2115 1897 2119 1927 2112 2110 2066 1859 2109 2079 2035 1912 2097 1881 2101 1844 2118 2029 2075 1832 2112 1839 2108 1933 2087 1851 2112 2118 1530 1930 2094 2008 2085 2045 1963 2103 1771 1924 2087 1906 2107 2105 1793 2052 2069 1989 2051 1834 2114 1933 2101 1984 2054 2097 1976 1870 2118 1998 2090 2007 2034 1868 2104 1964 2105 1961 2065 1878 2101 1948 2106 1843 2108 1922 2091 1834 2109 2028 2028 1867 2108 1907 2115 1854 2104 1838 2112 2107 1653 2041 2084 1834 2109 1841 2108 2021 2107 2017 2039 1844 2106 1865 2114 2082 2062 1871 2112 1877 2106 1899 2100 2070 2086 2022 2113 1832 2114 2113 1811 1897 2102 2109 1836 1965 2070 1963 2114 1837 2106 1849 2107 2059 1988 2073 1938 1834 2108 2058 2058 1981 2068 1932 2098 1856 2116 1850 2107 2004 2115 2085 1963 1943 2091 2116 1418 1899 2114 2031 2070 2091 1988 1941 2110 2096 2091 1852 2115 1954 2114 1836 2120 1844 2107 2094 1916 1965 2096 1907 2095 1812 2111 2042 2010 2092 1842 2100 1873 2092 2116 2115 1535 1878 2107 1988 2094 1971 2089 1993 2043 1838 2109 1817 2112 1822 2120 1963 2117 1911 2099 2000 2107 2052 2027 1890 2101 2099 2072 2113 1505 1976 2060 1899 2118 1944 2089 2111 1938 2112 1944 1998 2037 1950 2116 1856 2104 1937 2083 1870 2102 2016 2011 1948 2102 1849 2105 2109 1588 1945 2076 2095 1820 1979 2095 2088 1969 2081 2000 1952 2078 2116 1453 1913 2108 2107 1677 2094 1796 1845 2116 2064 1951 1928 2103 1854 2104 2046 2112 1942 2117 2065 2072 2072 2006 1928 2094 2038 2024 2077 1947 2096 2015 1908 2095 1851 2111 1834 2113 2097 1863 2115 1541 2009 2048 2099 2122 1901 2100 1871 2117 2052 2031 1961 2071 1924 2094 1863 2109 2080 2077 1840 2106 1859 2118 2070 2099 2087 2063 1957 2098 1861 2104 2011 2109 2094 2126 2107 1639 2104 1857 2051 2033 1864 2103 1980 2116 1904 2097 1834 2109 2014 2113 2049 2096 1872 2102 2103 1927 2100 2024 1887 2101 1889 2119 2105 1931 1901 2119 1985 2055 1898 2105 2050 1967 1961 2104 2013 2107 2075 1915 2074 1899 2104 2091 1925 2083 1834 2109 2105 2075 2067 1952 1923 2102 2085 1883 1860 2116 2072 2093 2013 2114 2014 2104 1879 2118 1981 2116 2069 2034 2023 2029 1872 2118 1948 2096 2088 2031 2051 2112 2091 1862 1924 2116 2107 1749 1837 2111 1960 2117 1957 2066 2062 1949 1964 2095 2118 1380 1834 2112 2040 2001 2112 2110 1933 2080 1895 2097 1919 2097 1911 2116 1893 2113 1970 2059 2096 2123 1911 2118 1938 2094 2110 1622 2057 2080 2104 1853 2015 2093 1923 2114 2096 1773 1861 2103 1927 2115 1937 2116 2036 2112 1825 2111 1897 2093 2086 2017 2080 1962 1967 2062 1894 2116 1925 2113 1920 2094 1996 2086 2118 1537 1883 2119 2093 1880 1865 2103 1832 2116 2063 1920 2063 1991 1821 2109 1864 2115 2026 2037 1874 2106 2105 1850 1998 2110 1902 2093 2087 1957 2043 2055 1990 2042 1836 2110 1831 2118 2115 1569 2012 2101 2108 1626 1837 2106 1902 2098 1944 2080 2083 2035 1847 2106 1822 2113 2030 2080 1963 2088 2063 2023 2094 1933 1924 2116 1979 2062 1919 2094 2118 1454 1906 2113 1847 2113 1834 2116 1960 2108 2115 1871 1845 2106 1918 2116 1977 2084 1997 2096 1870 2118 2026 2084 2090 2038 1998 2106 1825 2110 2098 2073 1924 2084 1995 2057 2002 2091 1903 2098 1828 2108 1949 2075 1919 2093 1960 2086 2079 1988 1974 2084 1884 2104 2007 2086 2091 1833 1871 2101 2054 2094 2070 1944 1995 2029 2015 2023 2104 1786 1853 2118 1874 2102 2056 2042 1956 2067 1850 2106 1964 2116 1974 2098 2041 2083 1930 2083 2090 1950 2058 2096 2104 1767 2097 2127 1914 2098 1986 2108 1837 2108 2075 2093 1886 2112 1955 2083 1994 2115 2048 2067 2053 2088 1843 2116 1839 2116 1925 2087 1893 2115 2042 2097 2016 2064 1986 2058 2109 1723 2061 1977 1909 2094 1927 2118 2111 1676 2114 2094 1883 2119 1963 2110 2103 1987 2091 1999 2050 2020 2099 2130 1941 2118 1933 2103 1934 2082 2052 2041 2065 1930 2093 1893 2002 2031 1865 2114 1863 2104 1830 2119 1932 2079 1934 2108 2030 2017 1971 2060 1834 2107 2044 2064 1962 2112 2097 1777 2021 2112 1977 2060 1882 2100 2060 1924 1935 2094 1844 2113 2010 2115 1827 2110 1886 2103 2101 1977 2056 2067 1839 2110 2091 1868 1965 2116 1916 2103 2116 2055 2022 2022 1949 2081 2094 2052 2016 2012 2002 2108 2100 2130 1983 2089 1899 2118 2040 2003 2103 1871 1893 2100 2080 2069 1836 2109 2068 2052 2063 1972 2052 1980 1863 2113 2103 1909 1892 2118 2031 2081 2042 2051 1963 2079 1950 2075 1983 2057 1998 2041 1909 2116 1930 2099 1972 2093 2026 2097 2029 2050 2090 2067 1880 2101 1826 2110 1874 2100 1850 2107 2103 1915 2072 2092 1823 2109 1843 2116 1818 2113 2005 2034 1850 2107 1903 2099 1963 2066 1981 2063 1904 2092 1850 2104 2085 1996 2116 1622 2063 1935 2021 2049 1924 2105 2064 2054 2023 2047 2044 1948 2011 2020 1993 2078 1975 2082 1841 2109 2015 2098 2111 1551 1980 2058 2013 2114 2076 2004 1846 2117 2002 2115 1996 2073 1899 2098 1922 2089 1840 2109 1985 2072 1821 2111 1837 2108 1957 2069 2029 2001 1923 2107 1996 2097 1921 2116 1922 2089 2025 2025 1962 2117 1964 2117 1819 2112 2021 2114 1859 2115 1964 2066 1924 2090 1883 2099 1894 2096 2093 2119 1948 2073 2116 1406 1953 2083 2026 2071 2066 2077 1986 2076 1966 2094 2022 2041 2027 2106 1974 2094 2068 1974 2106 1640 1885 2098 2073 2092 1854 2113 1971 2071 1996 2052 2062 2059 1962 2093 1911 2118 2094 2075 1816 2112 1883 2098 2113 1563 1833 2111 1887 2105 1944 2095 2114 1640 1869 2107 1844 2115 2113 1525 2082 1967 2078 2023 1920 2110 1964 2069 1903 2112 1971 2091 1985 2050 1959 2082 1890 2101 2023 2089 1960 2095 1903 2094 1903 2101 2070 2066 1831 2118 1857 2112 1918 2116 1986 2073 1939 2082 2056 1916 1825 2116 1985 2090 1919 2091 1837 2106 2014 2051 1824 2109 2115 1765 2019 2018 1917 2092 2097 2095 1846 2107 1838 2109 2037 2070 1958 2114 2007 2075 1937 2092 1847 2107 2085 2099 2100 2122 1987 2109 2094 2060 2082 1989 2098 1772 1976 2103 2067 1895 2083 1938 1950 2108 2105 1822 2020 2027 2027 2072 1934 2087 2013 2040 1833 2109 1825 2112 2049 2111 2040 2020 2019 2104 2061 1919 2007 2071 1887 2119 2066 1944 2013 2100 1913 2113 1881 2101 2033 2060 2025 2076 2106 1663 1833 2109 2021 2102 2099 1761 2114 1889 1843 2108 1906 2094 2091 2042 1857 2113 2067 2092 1983 2077 2031 2044 1920 2093 2112 1533 1877 2101 1868 2100 2033 2087 2022 2042 1930 2081 2009 2085 1916 2091 1995 2034 1948 2075 1893 2095 2111 1556 2076 1877 1974 2093 2082 1943 1949 2078 2119 1377 2084 1930 2055 2049 1909 2114 1872 2113 2007 2065 2054 2046 2042 1955 1829 2111 1983 2112 2077 2080 1987 2042 1927 2090 2082 1933 1905 2094 1910 2102 1941 2103 2000 2084 1865 2114 2071 1998 1870 2110 2043 2032 1922 2092 1942 2115 1897 2113 2074 2091 2034 1976 2009 2108 1912 2092 2017 2021 1826 2111 1959 2116 2107 1945 2001 2094 1915 2095 2074 1980 2098 2018 1830 2107 1970 2077 1864 2102 1887 2097 1859 2111 2040 1987 2043 1967 1998 2039 1898 2112 1942 2086 2054 2106 2089 2071 1945 2104 2008 2089 1948 2091 2103 1854 2027 2051 2102 1891 2076 1942 1884 2099 2049 2052 2109 1618 1861 2118 1859 2104 1997 2041 1956 2101 1867 2108 2028 2086 1842 2107 1998 2115 1867 2103 1999 2070 1941 2094 2034 2068 2097 1881 1967 2117 2079 1929 2029 2082 1926 2089 2078 1996 1951 2114 2095 2066 2110 1951 2037 2070 1932 2119 2032 2104 2061 2021 1877 2112 1856 2114 1906 2098 1984 2044 1946 2072 2104 1869 1971 2056 2016 2036 2117 2085 2084 2069 2085 1929 1976 2051 2093 2078 1959 2089 2086 2006 1981 2055 1922 2118 2069 2060 2056 1980 2101 2122 2024 2036 2083 2025 2101 2025 2108 1824 1888 2119 2061 2016 2096 2007 2028 2101 1929 2099 2106 1684 1967 2078 1915 2103 1977 2053 1908 2094 1840 2112 1947 2077 2092 2045 2096 2050 1857 2105 2081 2086 1950 2091 2072 1909 2032 1998 1842 2107 2015 2112 1950 2094 2050 2071 2058 2111 2116 1516 2057 2047 1867 2111 2110 2083 1990 2100 1903 2093 2108 1598 2082 2083 1889 2119 2054 2023 1852 2106 1969 2072 1873 2110 2108 1620 1995 2071 1895 2099 1942 2076 2052 2112 1816 2113 1917 2093 1933 2118 2059 1985 1836 2114 1955 2109 1979 2101 2070 1923 1966 2081 1823 2115 1885 2117 2077 1977 1957 2077 2095 1983 2108 1875 1872 2119 2093 1998 2065 2037 1945 2113 1997 2083 2032 2050 2103 1871 2040 2089 1954 2110 2097 2127 2012 2017 2031 2105 1981 2086 1880 2104 1962 2117 2095 2086 2011 2070 1925 2118 2095 2122 1829 2113 1853 2103 2110 1682 1893 2094 2096 2128 2084 1844 1981 2064 2112 1578 2016 2114 1992 2069 1935 2107 2075 2089 2031 2038 1928 2082 2078 2046 1837 2110 1867 2114 1889 2112 2016 2112 1951 2107 1879 2105 2112 1762 2049 2084 2094 1997 2075 1932 1933 2104 1863 2108 2009 2021 1913 2094 1988 2096 1968 2110 2013 2016 1838 2108 2054 1931 2072 2095 1965 2100 1872 2113 2022 2013 2002 2088 2023 2087 1896 2101 1997 2087 2049 2069 1930 2112 1886 2101 2040 1964 2009 2037 2021 2085 2117 1458 1903 2109 1847 2117 1891 2102 1939 2116 2017 2058 1824 2114 1852 2106 2092 1839 1891 2095 2085 1862 1943 2116 1881 2100 1884 2101 2059 1975 1996 2092 1851 2118 1899 2114 2101 1928 1991 2077 1983 2097 2078 1914 1987 2071 2069 2102 2092 2084 1926 2096 1970 2089 1892 2108 2008 2081 2032 2105 2099 2125 2025 2113 1972 2059 1976 2064 1896 2095 1886 2100 1970 2059 2101 1722 1976 2063 2111 1969 1922 2104 1952 2080 1864 2113 1923 2097 2062 2039 2092 2115 1896 2112 2076 2000 2106 2048 1933 2088 1861 2103 2002 2059 1911 2106 2107 1610 1922 2090 1952 2085 2099 2127 2094 2067 1916 2089 2081 2031 2082 1916 1864 2113 1892 2102 1940 2107 2101 1835 1907 2097 1816 2113 2050 2097 2077 2032 1998 2075 1988 2051 2047 2056 2039 1991 1821 2110 1838 2108 2010 2083 2104 1807 2004 2032 1943 2076 1876 2118 1928 2101 1838 2119 1907 2117 1861 2114 2114 1801 2093 1897 2095 1960 2096 2125 2044 2109 1870 2102 1923 2116 1992 2038 1962 2091 1962 2081 2030 2042 1956 2080 2107 2105 1898 2106 1995 2085 1955 2084 1943 2087 2091 1918 2104 1720 1860 2113 1951 2069 1914 2089 1902 2097 2101 2104 2071 1904 1999 2098 2111 1626 2119 1424 1967 2116 1946 2093 2039 2064 1937 2108 2090 1952 2038 1961 2047 1977 2034 2058 1909 2094 1962 2114 1927 2091 1867 2102 1928 2096 1941 2082 1870 2101 2026 2109 2083 2029 1999 2115 2024 2059 1875 2101 2007 2058 2061 2094 1935 2097 1943 2092 1957 2107 2038 2076 1856 2109 2018 2082 2000 2110 1855 2106 2005 2115 1825 2109 1978 2098 1965 2089 1978 2086 1998 2077 1986 2078 2098 1859 1897 2098 2008 2047 2077 1990 2048 2060 2087 2085 2101 1750 2095 1912 2108 2026 1966 2115 1973 2110 2106 1976 1870 2100 1888 2097 1957 2103 1928 2116 1970 2094 1846 2111 2087 2041 1822 2114 1845 2107 1852 2105 2119 1470 2062 1977 2075 1937 1968 2078 1830 2111 1988 2115 1911 2117 2076 2093 1870 2107 2064 2012 1984 2115 1826 2111 1999 2106 1854 2103 2051 2033 1880 2105 1971 2055 2098 2006 1829 2111 1978 2065 2016 2090 2082 1995 2033 2113 2105 1922 1823 2118 1996 2096 2110 1618 2017 2048 1958 2067 2024 2037 2092 2113 1814 2119 2095 2008 1961 2112 2107 1768 1917 2113 2002 2082 2019 2086 1978 2094 1912 2092 2108 1902 1870 2114 1924 2099 1810 2113 1834 2109 1825 2110 2069 1922 1911 2106 1870 2114 2104 1887 1979 2089 1938 2087 1994 2034 2111 1720 1890 2104 1945 2091 2111 1673 1876 2099 2091 1988 1861 2110 1902 2114 2084 2073 1902 2109 2091 2059 2007 2092 1831 2107 1916 2110 1867 2107 2016 2080 1854 2104 1853 2104 1877 2105 1985 2104 2004 2088 1910 2106 1833 2109 2111 1786 2070 2040 1820 2112 1947 2078 1918 2086 2057 2058 2100 1949 1993 2077 2026 2068 2064 1991 1885 2105 1852 2108 2060 1947 1977 2112 1854 2105 2090 2124 2008 2109 1842 2117 1992 2075 2105 2080 1942 2081 1898 2108 2003 2086 1894 2102 1870 2104 2093 2031 1999 2044 1840 2113 2013 2050 1850 2106 1888 2098 1981 2088 2047 2095 1910 2118 1913 2089 1920 2090 1987 2105 2094 1873 1919 2110 2038 2084 2014 2038 2106 1882 2022 2088 1829 2110 2099 1864 1837 2109 1989 2108 2070 2045 1873 2105 1966 2116 2057 2111 2028 2044 2052 2017 1898 2094 2033 2035 1888 2103 2114 1478 1824 2111 2013 2103 2046 2034 1930 2114 1846 2118 1994 2077 1959 2116 1885 2107 2056 1997 2017 2076 1994 2077 2060 2046 2048 2112 2027 2090 2025 2034 1896 2097 2072 2048 1941 2092 1888 2103 2102 1920 1986 2115 1962 2072 2059 2109 1994 2055 2078 2090 2046 1990 2071 2069 2117 1376 1855 2111 1893 2117 2097 2007 2069 2037 1893 2096 2073 1925 1954 2097 1934 2095 1993 2101 2026 2110 1832 2112 1978 2069 1928 2118 2074 1894 2017 2068 1870 2100 2064 2045 2093 1858 1882 2114 1850 2111 2076 1946 1844 2105 1912 2119 1860 2103 1976 2095 2111 1814 1998 2106 2082 2092 1856 2103 2109 1715 1847 2116 2010 2043 2096 2109 2000 2108 2024 2090 1949 2093 1999 2027 1970 2116 2090 1820 1913 2094 1858 2106 2083 2075 1984 2116 1876 2103 1857 2115 2101 2097 1894 2099 1919 2092 2089 1861 2110 1806 2053 2033 1932 2107 2118 2087 2100 1772 1837 2118 2032 2100 1828 2117 2068 1983 1897 2112 1982 2094 1877 2100 1963 2115 2009 2090 1978 2083 1948 2077 1971 2067 2067 1906 1884 2100 2017 2080 2016 2064 1823 2116 2103 1703 2107 1630 1836 2106 1911 2098 1978 2081 1956 2117 2028 2006 1964 2105 1906 2099 2094 1965 2111 1551 2032 2009 1976 2054 1934 2096 1891 2097 1854 2108 2075 2080 1925 2102 2081 1936 2107 2070 2063 1965 2011 2078 2114 2102 1874 2113 1991 2060 2075 1987 2048 2111 1937 2118 2110 2011 2069 2072 2119 1426 1871 2103 1858 2105 2016 2112 1833 2107 2115 1898 2055 2082 1952 2105 1884 2118 2007 2084 2087 1901 1964 2081 1843 2106 2014 2094 1891 2104 1970 2116 2106 1761 2050 2078 1965 2076 2116 1661 2072 2096 1914 2106 1997 2104 2104 2019 2080 1988 1959 2093 2074 1887 2033 2002 1892 2096 1912 2096 1906 2096 1882 2112 1933 2086 1850 2108 1860 2109 2075 1969 2098 2016 2085 2080 1912 2091 1997 2106 1961 2108 2074 2092 2049 2024 2021 2022 2118 1391 1876 2115 2031 2045 1959 2107 1968 2100 2108 1942 1895 2100 1911 2119 1974 2080 1950 2113 1903 2101 2018 2043 1868 2115 2104 2062 1915 2090 2053 2047 2023 2108 2061 1941 2014 2046 2103 1770 1902 2106 2023 2104 2110 1649 2067 2049 2024 2041 2094 1850 1976 2095 1845 2107 1938 2098 1938 2112 1954 2093 1926 2083 1984 2116 1962 2113 1914 2092 2102 1898 2113 2087 1833 2115 2032 2074 2085 2022 1961 2079 2109 1820 2102 2106 1909 2099 1915 2110 2098 1955 2025 2066 2027 2065 2102 2036 2090 1943 2088 1964 1997 2089 2104 2060 1897 2114 1983 2104 1842 2116 1908 2089 1885 2119 2067 2020 2096 1984 2011 2099 2005 2093 1862 2105 1837 2106 1887 2118 1922 2104 2109 1946 1815 2110 1927 2107 2093 2098 2050 2110 1996 2112 1890 2097 2035 2113 1991 2067 2069 1979 1957 2109 1895 2116 2076 1986 2117 1447 2101 2097 1985 2098 1989 2101 1854 2110 1858 2116 1892 2108 2062 2095 2073 1894 1819 2113 1955 2090 2034 2113 2116 1596 1825 2111 2112 1646 2057 2042 1912 2091 2010 2027 2018 2045 1835 2118 1845 2107 2061 1938 1959 2094 2004 2111 2104 1818 2003 2077 1901 2093 1986 2105 1909 2090 2104 1691 1992 2047 1930 2099 2046 2057 2071 2009 1957 2075 2019 2074 1980 2105 1888 2100 1832 2114 1932 2086 1852 2105 1828 2119 1879 2101 1928 2088 1983 2113 1841 2107 2082 2030 1844 2111 1871 2117 1947 2108 2071 2060 1873 2100 1916 2110 1988 2100 1901 2099 1936 2077 2103 2051 1889 2104 1870 2117 1919 2094 2045 2111 1846 2116 1934 2085 2107 1693 2112 1529 2107 1615 1931 2092 1961 2086 1896 2118 2100 1989 1984 2088 1888 2111 2029 2114 1998 2038 1900 2103 1878 2109 1918 2087 1830 2114 2103 1752 2117 1952 1920 2098 1988 2073 1897 2116 1996 2077 2115 1685 1960 2069 1963 2097 2039 2069 1988 2096 1929 2102 2008 2067 2110 1835 1973 2077 1866 2109 1975 2066 2013 2083 1911 2093 2079 1867 2091 2044 1871 2113 1867 2103 2033 2083 2057 2053 1954 2079 2100 2087 1995 2078 2002 2035 1887 2108 1964 2112 1918 2118 2054 1989 1981 2048 1945 2108 2005 2098 2099 2043 1997 2079 1980 2113 2098 1848 1887 2097 2032 2114 2029 2021 2073 2086 1845 2110 1870 2108 2056 1928 1915 2113 1988 2099 2101 1982 1875 2101 1838 2108 2051 2075 1875 2110 2061 2052 1868 2103 1990 2084 2116 1860 1825 2119 1968 2070 1883 2116 1884 2097 2107 1636 1863 2105 1970 2070 2059 2086 2068 1973 1852 2115 1923 2086 1907 2111 1964 2109 2116 1476 1819 2119 2036 2079 2027 2049 2095 1796 2109 1834 2062 1910 2043 1984 2114 1624 1912 2089 1856 2108 1914 2093 1823 2109 2089 1955 2100 1789 1906 2091 2012 2106 1965 2108 1878 2098 2092 1965 1939 2103 2077 1930 2102 1920 1880 2098 2079 2082 2015 2114 2051 2079 1864 2105 2045 2078 1952 2116 2094 2125 2044 1982 2097 2006 2034 2035 2065 1921 2113 1526 1957 2116 2073 2091 2037 2113 1979 2087 1882 2097 2110 2034 2050 2110 2113 1995 1827 2115 2023 2023 2093 2030 2099 2034 1903 2102 1980 2092 2109 1603 1832 2115 2087 2056 2070 1924 2024 2064 1904 2099 2098 2016 1982 2080 1992 2068 1885 2104 1979 2077 1978 2063 1828 2108 1874 2118 2023 2108 1960 2112 2093 1932 2108 1620 2060 1935 1873 2102 2107 1649 1943 2101 1829 2116 1958 2117 1921 2118 1938 2104 2084 2011 1961 2074 2000 2047 1890 2101 1835 2119 2004 2092 1928 2106 1941 2104 1838 2117 1946 2117 1987 2100 1948 2091 1958 2095 1934 2101 1876 2110 1842 2114 1845 2117 2081 2085 1914 2116 2095 2121 1890 2106 2000 2046 2017 2009 1933 2095 1996 2112 1894 2098 1975 2113 2075 2071 1828 2110 2104 1677 1901 2111 2014 2024 1955 2085 2099 1830 2039 2035 1900 2109 2045 2007 1877 2116 1915 2092 1868 2104 1961 2083 1920 2103 1827 2115 2027 2060 1979 2067 2117 1367 1996 2030 2102 2107 2115 1660 1859 2118 2050 2077 2010 2101 2106 1672 2076 1942 1912 2111 2019 2076 1948 2095 1914 2099 2090 1908 1986 2083 1970 2073 2068 2051 1997 2109 2051 2018 2032 2112 1927 2115 1903 2091 1848 2106 1957 2096 1967 2079 2093 1893 2081 2003 1815 2111 2009 2115 2117 1524 2102 1734 1908 2098 2090 2060 2046 2049 1959 2095 2086 1945 2011 2083 2094 1897 1905 2117 1968 2094 1931 2102 1971 2066 2005 2097 2110 2081 2064 2063 2016 2110 1922 2107 2073 1985 2058 2110 1988 2057 1955 2101 2099 2045 1835 2114 1832 2115 2001 2096 2085 2026 1914 2113 1991 2054 1973 2115 2004 2036 1948 2083 2097 1945 2013 2073 2063 2104 2086 1856 1844 2117 1922 2099 1867 2100 1917 2098 2004 2106 2081 2002 2071 2057 2031 1983 1829 2110 1948 2077 1832 2116 1820 2110 2093 1798 1866 2114 2099 1933 2052 1971 2073 2035 1872 2111 1872 2111 1910 2114 2097 2116 1965 2111 1923 2091 2103 2041 1946 2073 2042 2111 2091 2025 1903 2106 1889 2105 2073 1908 2109 2008 1993 2108 2010 2106 2084 1934 2103 2124 2006 2115 1967 2107 2053 2016 2098 1931 1847 2117 2090 1938 1823 2116 2084 1894 1943 2097 1859 2112 2056 2077 1890 2100 1942 2084 1874 2107 2020 2072 1848 2113 2082 1880 1842 2117 2096 1972 2033 2112 2105 1788 1956 2073 2003 2097 1906 2108 2021 2084 1865 2104 1959 2105 2112 1568 1937 2094 1956 2109 2079 1889 1884 2118 2033 2088 1901 2104 2073 2061 2088 1889 1921 2107 1847 2118 1926 2112 2103 1938 1975 2083 2034 2013 2113 1702 1908 2114 1952 2086 2102 1873 1965 2097 1914 2100 1896 2107 1919 2104 2048 2089 1925 2118 1876 2103 2096 2128 2062 2060 1917 2100 1968 2078 1865 2108 2100 1887 2015 2112 1831 2116 1894 2102 1992 2045 2068 2003 2100 1757 2115 1516 2006 2107 1986 2062 1905 2093 2007 2015 1846 2107 1860 2105 2077 1886 2043 2099 2016 2017 2116 1964 2099 2120 1889 2095 1934 2110 1879 2103 1966 2086 1923 2118 2086 2065 1934 2096 2094 1905 1933 2114 1939 2111 2109 1581 2109 1607 1946 2116 2041 2069 2115 1677 1907 2105 2091 2053 1930 2099 2044 2054 1872 2103 2078 1877 1933 2094 2076 1882 1971 2067 1963 2072 1876 2102 1992 2058 2112 1515 1991 2115 1889 2116 2111 1771 1965 2102 1830 2119 2065 2075 2086 1936 2068 2065 1894 2098 2062 2068 2022 2102 2066 2018 1936 2084 1934 2083 1996 2091 1819 2109 2097 1834 1984 2089 2101 1948 2010 2102 2069 1992 2118 2047 1824 2109 1920 2093 2001 2114 1975 2111 1927 2101 1956 2117 1961 2070 1992 2092 1843 2114 2049 2003 2083 1932 2013 2046 1994 2090 1942 2081 1833 2107 1907 2090 1909 2109 2106 1790 2043 2111 2115 1452 2103 1737 2076 2070 1987 2115 1828 2117 1971 2074 2099 2130 1861 2106 1817 2110 2114 1965 2003 2081 1920 2090 2117 1408 2083 1903 2051 1993 1902 2099 1850 2105 1853 2111 1919 2086 1972 2095 1943 2092 1858 2104 2060 2086 1961 2078 2107 1802 2065 2076 1870 2100 1959 2084 1836 2119 2038 2013 2086 2081 2103 2095 1878 2109 2076 1870 1835 2117 2083 1994 1982 2104 2090 1840 2029 2086 1921 2098 1943 2117 2103 1734 2093 2061 2045 1991 2048 2040 1937 2111 2041 2077 1989 2076 2029 2114 2075 2024 1854 2118 1942 2114 2102 1769 2046 2041 1876 2119 2115 1458 1987 2057 1928 2110 1950 2084 1915 2104 2097 2102 2091 2102 2071 2007 1873 2101 2104 1828 2084 1870 1988 2083 1955 2066 2083 2087 1982 2093 1911 2108 1907 2094 1932 2114 2114 1487 1991 2058 1926 2117 1853 2110 2094 2122 2036 2103 1854 2118 2009 2113 2040 1973 2104 2051 1857 2116 2113 1753 2050 2007 1836 2116 2042 2068 1978 2112 1985 2105 2097 1807 1820 2118 2075 2088 1892 2094 1864 2109 1867 2116 1924 2091 2061 2068 2036 2046 1860 2117 1821 2116 2072 2062 2106 1906 1915 2111 2108 2039 2081 1978 2004 2098 2106 2052 1961 2117 2021 2108 2112 1733 1913 2095 1920 2117 2092 2044 1911 2117 1970 2066 1887 2099 2010 2079 1844 2115 2101 1919 1995 2090 1821 2114 1828 2119 1840 2108 1931 2117 2097 1981 2093 1843 2096 1871 2035 2055 1987 2071 1835 2109 1871 2102 2092 1946 1947 2085 2056 2081 2083 1877 2093 1832 1916 2093 2031 2105 1863 2107 2102 1736 2088 2088 2094 2123 1820 2118 1860 2104 1846 2118 1914 2088 1921 2112 1881 2098 2095 1972 1898 2105 1996 2047 1889 2098 2035 2000 2077 1938 2096 2127 1901 2116 2018 2115 1885 2118 2101 2099 1851 2104 1967 2087 1818 2112 1856 2106 1961 2093 2050 1949 1831 2111 2080 1860 1959 2071 1999 2055 2068 1954 2073 2097 2103 1956 2109 1818 2104 1698 1824 2120 2094 2088 2070 2087 2080 1898 1925 2088 1924 2086 1828 2117 1822 2110 2082 1878 1815 2121 1816 2111 2036 1983 1872 2100 2038 2012 1870 2107 2011 2073 2067 1908 2119 1504 1874 2103 1994 2114 1889 2096 1982 2091 2064 1943 1958 2092 1836 2110 1967 2116 1977 2067 1928 2105 2094 1929 1832 2117 1950 2083 1870 2105 1847 2112 1875 2101 2078 1889 2105 1716 1978 2071 2073 1894 1918 2095 2101 1981 1968 2080 2111 1549 2022 2114 1939 2107 2114 1463 2032 2086 1857 2104 1980 2114 2112 1525 1847 2112 2034 2085 2079 1973 1919 2097 2107 1648 1932 2099 2093 2120 2103 1983 2080 1942 1976 2116 2092 1980 2087 1879 2118 1482 1985 2093 1902 2108 1882 2100 2020 2047 1907 2099 2055 2098 2000 2035 2014 2069 1920 2107 1934 2107 1901 2118 1912 2093 2037 2106 1908 2099 2117 1727 2012 2080 1975 2094 2094 1890 1841 2118 1838 2119 2079 2008 1831 2115 1939 2087 1864 2115 2021 2096 1855 2104 2065 2025 2004 2115 1861 2118 1956 2117 1930 2092 2043 2017 1863 2111 2027 2114 2067 2000 2035 2063 1892 2098 2079 1876 1823 2112 1840 2107 2099 2094 1918 2094 1988 2069 1893 2095 1963 2084 1925 2113 1992 2057 1844 2119 2105 2080 1882 2098 1834 2119 2090 1811 2087 2080 1887 2103 1885 2101 2106 1681 2043 2014 1827 2117 2095 1836 1842 2108 2060 2095 2114 1475 2111 1569 2083 2013 2118 1413 2100 2049 2037 2113 2086 1897 1976 2083 1842 2119 2081 2030 1882 2101 2099 1918 2089 2067 2094 2122 2104 1704 2083 1884 2007 2108 2098 2126 2042 2111 1882 2118 2014 2060 2014 2031 2102 2064 1858 2110 1905 2094 2104 1824 2046 2112 1985 2059 1892 2114 1955 2096 2033 2077 2046 2107 1941 2090 2056 2060 1867 2112 2102 2048 1861 2116 2097 2125 1933 2091 1915 2100 1992 2108 1964 2113 1998 2041 1899 2103 2093 2067 2119 1402 2074 2093 2046 2023 2044 2006 1851 2105 2080 1951 2094 2124 2103 1757 1998 2049 1980 2096 1888 2099 1956 2105 1964 2107 2050 2107 2055 2011 2097 2055 1907 2109 1872 2101 1897 2118 2067 2104 2055 2074 1863 2102 1995 2114 2028 2011 2048 2078 1913 2091 1838 2115 1881 2119 1891 2109 1826 2113 1888 2116 1998 2115 1884 2115 1940 2078 2048 2111 1892 2105 1875 2099 2007 2073 1896 2114 1847 2106 2110 1573 1812 2114 1850 2104 1995 2102 1895 2115 1896 2105 2054 2081 2073 1879 1964 2066 1961 2111 2116 1518 1974 2117 1921 2085 2059 1945 2015 2105 1916 2110 1834 2107 2066 2102 1999 2078 1949 2085 2064 1933 2099 2115 2075 1932 1944 2094 2095 2128 1890 2110 1992 2093 2004 2113 2111 1743 2039 2057 2001 2071 2010 2114 2032 2094 1976 2092 2095 1908 1925 2107 1975 2086 2071 1902 2099 1847 2106 1775 1915 2097 2106 2098 1842 2110 1998 2103 2063 1952 1946 2117 1853 2112 1902 2111 1838 2119 2073 1888 1985 2084 2072 1967 2116 1750 2097 2007 1822 2111 2110 1563 1915 2108 1903 2111 2051 2100 2009 2081 1906 2092 1996 2054 1892 2105 2108 1799 1855 2104 1962 2096 1984 2111 1997 2045 1940 2094 2095 2120 1930 2094 1839 2114 1834 2108 1868 2111 1852 2106 2075 2028 1965 2082 1973 2068 1811 2119 1897 2107 2110 1625 1986 2096 2097 1869 2011 2111 1999 2115 1852 2105 1832 2110 1989 2102 2111 1580 1889 2100 2039 2037 1944 2094 2107 1674 1900 2113 2007 2114 2049 1979 2070 2026 2090 1906 1867 2115 2042 2093 1846 2117 2106 1653 1908 2098 2047 2022 2114 1604 1842 2106 1854 2106 2109 2125 1821 2109 2016 2042 2017 2034 1959 2078 1904 2094 2054 2110 2091 2087 1934 2095 2021 2060 1820 2111 2053 1983 2114 1477 2107 1648 2009 2079 1871 2114 2118 2078 2111 1832 1994 2085 1894 2113 1879 2113 2100 1760 2096 2094 2098 1967 1869 2104 1896 2102 2021 2068 1876 2104 1890 2112 1922 2108 1850 2106 2114 1612 1911 2098 2023 2113 1971 2061 2044 2099 2023 2038 2068 2064 1880 2100 1953 2115 2088 2020 2085 2076 1842 2107 2005 2094 2010 2114 2058 2015 2063 1902 2005 2102 1840 2110 2026 2091 1984 2046 2000 2045 1928 2091 2108 1650 2089 2118 2094 2111 2111 1584 1910 2117 1894 2096 1836 2111 2029 2086 1958 2111 1925 2117 1872 2115 1980 2060 1884 2097 1879 2102 1839 2108 2040 1987 2111 1554 1844 2115 2073 2034 2091 1975 1997 2088 2020 2112 1873 2118 2024 2114 1836 2109 1978 2107 1958 2077 1937 2096 1891 2099 1886 2114 2047 2076 2059 2015 2052 2097 1942 2107 2092 1852 1856 2112 1898 2105 1937 2112 2053 1963 2084 2050 1943 2085 1986 2115 1969 2097 2098 2118 2112 2112 1858 2117 1949 2089 1948 2075 1886 2112 1988 2103 2100 1747 2022 2077 2063 2046 1959 2103 2094 1939 2014 2096 1916 2088 2093 1990 1914 2107 1960 2100 2099 1842 2117 1380 2045 2099 1894 2101 1826 2115 2035 2113 1948 2094 2101 1921 2105 1649 1982 2075 2002 2114 1865 2116 1990 2109 1817 2112 2101 2062 1938 2102 2079 2013 2059 2107 2056 2063 1936 2088 1971 2073 2017 2069 2062 2107 1925 2112 1967 2112 1976 2103 2119 1560 2055 2067 2004 2077 1915 2097 1922 2086 2024 2083 2055 2014 1940 2100 2117 1476 1822 2111 1999 2114 2003 2105 1977 2074 2025 2058 1957 2105 1975 2089 1886 2114 1959 2085 1915 2118 1850 2105 1919 2118 1932 2086 1861 2102 1880 2106 2031 2105 2088 2074 2041 2089 2074 2036 2108 1957 1851 2106 2092 2120 1825 2115 1899 2117 1943 2107 1840 2113 2104 1687 1940 2103 1870 2103 1828 2113 1894 2104 2117 1885 1917 2117 1909 2094 2002 2115 2037 1965 2024 1999 2042 2064 2013 2056 2101 2110 2114 1470 2043 2011 1917 2092 1937 2095 1997 2115 1960 2115 2056 2043 1890 2113 2039 2047 2085 2091 1888 2100 1964 2089 1837 2117 1840 2118 1883 2111 1867 2102 2104 2001 2116 1553 2043 2074 1889 2106 2016 2071 2091 1834 2011 2030 1894 2094 1992 2077 1998 2072 2022 2041 1830 2109 2093 2126 2086 1855 2048 1977 2043 1959 1992 2049 1977 2061 1933 2099 1993 2097 1858 2103 2034 2042 2086 1849 1838 2109 1942 2117 1978 2099 1990 2050 1877 2101 1862 2103 1966 2112 2005 2114 1833 2112 1980 2102 2051 2000 2026 2100 2039 2113 1830 2110 1965 2113 1994 2042 1953 2091 2037 2108 2085 1972 2118 1573 2012 2098 1840 2107 1953 2111 2072 2025 1926 2098 2075 2030 1931 2081 1974 2111 2096 1841 1831 2109 2085 2018 1903 2113 1886 2107 2046 2100 2047 1953 2059 2050 1837 2108 2064 1945 1981 2088 2081 1934 2116 1418 1873 2116 1970 2060 1906 2108 1838 2116 1904 2113 1860 2105 1968 2102 1837 2106 1863 2109 2053 2019 2066 2014 1961 2085 2033 2079 2099 1912 2066 2033 1997 2071 2091 2026 1839 2107 2048 2112 2032 2048 1981 2054 2109 1610 2016 2056 2051 2060 2091 1877 1876 2105 1867 2117 1828 2116 1911 2099 2094 1858 1865 2117 1853 2104 1926 2109 1975 2092 2096 1871 2058 2062 2015 2113 2038 2064 1845 2113 1865 2116 1924 2092 1924 2116 2117 2025 2070 2099 1881 2098 1884 2101 1903 2100 1998 2073 1925 2098 2079 2082 1923 2094 1872 2104 1832 2107 2030 2090 2118 1534 2092 1839 2040 2096 1952 2081 1897 2111 2113 1887 2063 2101 2065 1990 2092 2109 1832 2108 1949 2071 2032 2104 1941 2091 2039 2036 1936 2101 1922 2092 2062 2030 1932 2091 1983 2100 1974 2074 1897 2097 2112 2011 2030 2095 1959 2079 2033 2008 2108 1673 1997 2086 1997 2060 1981 2072 1965 2060 1958 2117 1990 2116 1962 2077 1958 2086 2118 1754 1998 2101 1914 2087 1839 2107 1996 2056 2054 2096 1862 2113 1956 2085 1867 2107 2103 1852 2097 2025 2064 1957 1920 2117 2093 1934 2112 1535 2000 2062 1860 2103 1935 2079 1956 2111 1952 2116 1951 2086 1938 2087 2082 2078 1886 2103 2113 1592 1977 2093 2118 1914 2004 2061 2065 1926 2101 1891 2103 1746 2066 1960 2013 2053 2116 1542 1967 2094 1964 2103 1984 2111 1820 2114 1906 2108 2079 2032 2000 2049 1836 2108 1919 2095 1871 2111 2045 2042 1860 2106 2098 1984 1935 2090 1900 2114 2072 1988 2091 1942 1960 2103 2118 1399 1875 2101 1956 2085 1928 2108 1974 2086 1997 2032 1863 2107 2110 1565 1913 2098 1949 2075 2064 2105 2000 2037 1859 2105 2034 2080 1980 2107 2108 1611 1931 2103 2005 2065 1955 2069 2065 2050 1961 2093 1825 2110 1861 2105 1959 2109 2116 1422 1948 2112 1957 2117 1945 2083 2087 2014 2018 2089 1922 2116 2072 1925 2022 2113 2112 1996 1968 2058 1814 2118 1985 2116 2071 1923 2065 2067 2072 2009 2055 2091 1914 2104 2080 1871 1922 2097 1996 2080 1897 2099 2080 1937 1863 2111 2040 2113 2037 1997 2108 1716 2082 1904 1984 2103 2116 1588 1947 2084 1858 2103 2043 2008 1974 2109 2031 2083 1950 2083 2013 2098 1853 2113 1956 2118 1898 2118 1859 2104 1876 2099 2017 2045 1827 2110 1964 2076 2115 1384 1950 2104 1909 2118 1878 2099 1948 2110 1997 2066 2042 2094 2116 1479 1896 2095 1960 2115 1827 2116 2093 1845 2102 1696 1968 2062 2107 1816 1885 2106 1964 2092 2048 1983 1963 2065 1888 2119 1954 2112 1867 2111 1865 2104 1890 2113 1916 2119 2101 2001 2031 1979 1948 2117 1970 2062 1927 2100 2104 1814 1844 2106 2022 2084 1888 2108 2034 2092 1999 2089 1921 2108 1898 2105 2005 2036 2024 2065 2016 2100 1970 2082 1934 2079 1897 2098 1900 2097 1875 2099 1945 2075 2013 2057 2105 1670 2089 1917 2070 2016 2111 2073 2072 1948 2051 1971 2093 1877 2067 2102 1934 2116 1957 2114 1978 2082 1964 2117 1918 2111 1905 2111 1925 2110 2024 2019 1872 2117 1942 2080 1870 2105 1855 2113 2033 1993 1934 2098 1820 2119 1832 2112 1913 2108 1813 2110 1927 2103 2115 1444 1956 2113 2086 1960 2081 1974 2082 1979 1949 2097 2053 2053 1844 2116 2101 1864 1919 2094 2068 2102 2097 2124 2009 2104 2033 2091 2113 1908 2015 2035 1898 2115 1972 2112 1904 2095 1935 2088 1940 2117 1975 2080 2098 1839 1886 2105 2016 2062 1964 2072 1956 2072 1842 2107 2076 2000 1954 2093 1984 2047 2037 2003 2070 2057 2089 1882 2095 1941 2115 1618 2079 1910 1965 2086 1987 2063 1853 2109 1991 2090 2030 1990 2037 2091 1913 2105 2039 2075 1946 2094 2000 2097 2051 2055 1921 2098 1892 2101 1990 2082 2115 1449 2036 2101 2004 2095 1881 2109 2097 1961 1934 2091 1917 2096 1990 2069 2086 2099 1947 2094 1952 2111 1956 2084 2114 1470 2083 1971 1948 2100 2043 2088 1987 2097 1914 2103 1939 2085 2016 2047 1923 2099 2087 2112 1844 2110 2094 2115 1912 2092 1893 2098 1895 2099 1969 2111 1923 2091 2023 2022 1864 2104 1895 2096 2005 2082 1994 2091 2099 2126 1954 2118 1861 2115 2100 2102 1970 2117 1846 2112 2046 2069 1915 2091 2002 2040 2096 1981 1870 2117 1863 2108 1913 2093"/>
<path transform="scale(.5)" fill="none" marker-start="url(#mh)" marker-mid="url(#mh)" marker-end="url(#mh)" d="M2120 1361 2120 1361 2120 1361 2120 1361 2120 1361 2120 1361 2120 1361 2120 1361 2120 1361 2120 1361 2120 1361 2120 1361 2120 1361 2120 1361 2120 1361 2120 1361 2120 1361 2120 1361 2120 1361 2120 1361 2120 1361 2120 1361 2120 1361 2120 1361 2120 1361 2120 1361 2120 1361 2120 1361 2120 1361 2120 1361 2120 1361 2120 1361"/>
<path d="M672.5 1067.5H682.5V1064.5H672.5ZM677.5 1064.5V1061.5M677.5 1067.5V1067.5M675.5 1061.5H680.5M675.5 1067.5H680.5M693.5 1067.5H703.5V1064.5H693.5ZM698.5 1064.5V1061.5M698.5 1067.5V1067.5M695.5 1061.5H700.5M695.5 1067.5H700.5M713.5 1067.5H723.5V1064.5H713.5ZM718.5 1064.5V1061.5M718.5 1067.5V1067.5M715.5 1061.5H720.5M715.5 1067.5H720.5M733.5 1067.5H743.5V1064.5H733.5ZM738.5 1064.5V1061.5M738.5 1067.5V1067.5M735.5 1061.5H740.5M735.5 1067.5H740.5M753.5 1067.5H763.5V1064.5H753.5ZM758.5 1064.5V1061.5M758.5 1067.5V1067.5M755.5 1061.5H760.5M755.5 1067.5H760.5M773.5 1067.5H783.5V1064.5H773.5ZM778.5 1064.5V1061.5M778.5 1067.5V1067.5M776.5 1061.5H781.5M776.5 1067.5H781.5M793.5 1067.5H803.5V1064.5H793.5ZM798.5 1064.5V1061.5M798.5 1067.5V1067.5M796.5 1061.5H801.5M796.5 1067.5H801.5M813.5 1067.5H823.5V1064.5H813.5ZM818.5 1064.5V1061.5M818.5 1067.5V1067.5M816.5 1061.5H821.5M816.5 1067.5H821.5M833.5 1067.5H843.5V1064.5H833.5ZM838.5 1064.5V1061.5M838.5 1067.5V1067.5M836.5 1061.5H841.5M836.5 1067.5H841.5M854.5 1064.5H864.5V1058.5H854.5ZM859.5 1058.5V1057.5M859.5 1064.5V1067.5M856.5 1057.5H861.5M856.5 1067.5H861.5M874.5 1064.5H884.5V1058.5H874.5ZM879.5 1058.5V1056.5M879.5 1064.5V1067.5M876.5 1056.5H881.5M876.5 1067.5H881.5M894.5 1063.5H904.5V1056.5H894.5ZM899.5 1056.5V1055.5M899.5 1063.5V1067.5M896.5 1055.5H901.5M896.5 1067.5H901.5M914.5 1062.5H924.5V1055.5H914.5ZM919.5 1055.5V1050.5M919.5 1062.5V1067.5M916.5 1050.5H921.5M916.5 1067.5H921.5M934.5 1062.5H944.5V1053.5H934.5ZM939.5 1053.5V1047.5M939.5 1062.5V1067.5M937.5 1047.5H942.5M937.5 1067.5H942.5M954.5 1062.5H964.5V1049.5H954.5ZM959.5 1049.5V1040.5M959.5 1062.5V1067.5M957.5 1040.5H962.5M957.5 1067.5H962.5M974.5 1061.5H984.5V1045.5H974.5ZM979.5 1045.5V1030.5M979.5 1061.5V1067.5M977.5 1030.5H982.5M977.5 1067.5H982.5M994.5 1061.5H1005.5V1042.5H994.5ZM999.5 1042.5V1011.5M999.5 1061.5V1067.5M997.5 1011.5H1002.5M997.5 1067.5H1002.5M1015.5 1062.5H1025.5V1034.5H1015.5ZM1020.5 1034.5V993.5M1020.5 1062.5V1067.5M1017.5 993.5H1022.5M1017.5 1067.5H1022.5M1035.5 1062.5H1045.5V1018.5H1035.5ZM1040.5 1018.5V951.5M1040.5 1062.5V1067.5M1037.5 951.5H1042.5M1037.5 1067.5H1042.5M1055.5 1058.5H1065.5V871.5H1055.5ZM1060.5 871.5V680.5M1060.5 1058.5V1066.5M1057.5 680.5H1062.5M1057.5 1066.5H1062.5" fill="none" stroke="#000" stroke-width="1.39" stroke-linecap="square"/>
<path d="M672.5 1066.5H682.5M693.5 1066.5H703.5M713.5 1066.5H723.5M733.5 1066.5H743.5M753.5 1066.5H763.5M773.5 1066.5H783.5M793.5 1066.5H803.5M813.5 1066.5H823.5M833.5 1066.5H843.5M854.5 1061.5H864.5M874.5 1061.5H884.5M894.5 1059.5H904.5M914.5 1059.5H924.5M934.5 1058.5H944.5M954.5 1058.5H964.5M974.5 1057.5H984.5M994.5 1058.5H1005.5M1015.5 1056.5H1025.5M1035.5 1052.5H1045.5M1055.5 965.5H1065.5M1075.5 680.5H1085.5" fill="none" stroke="#ff7f0e" stroke-width="1.39" stroke-linecap="square"/>
</g>
<g stroke="#000" stroke-width="1.11" fill="none"><path d="M150.5 144.5H573.5V564.5H150.5Z" stroke-linejoin="miter"/><path d="M150.5 564.5v4.86M235.5 564.5v4.86M319.5 564.5v4.86M404.5 564.5v4.86M488.5 564.5v4.86M573.5 564.5v4.86M150.5 564.5h-4.86M150.5 480.5h-4.86M150.5 396.5h-4.86M150.5 312.5h-4.86M150.5 228.5h-4.86M150.5 144.5h-4.86"/></g>
<g stroke="#000" stroke-width="1.11" fill="none"><path d="M657.5 144.5H1080.5V564.5H657.5Z" stroke-linejoin="miter"/><path d="M683.5 564.5v4.86M740.5 564.5v4.86M797.5 564.5v4.86M853.5 564.5v4.86M910.5 564.5v4.86M967.5 564.5v4.86M1023.5 564.5v4.86M1080.5 564.5v4.86M657.5 539.5h-4.86M657.5 486.5h-4.86M657.5 432.5h-4.86M657.5 378.5h-4.86M657.5 324.5h-4.86M657.5 270.5h-4.86M657.5 216.5h-4.86M657.5 162.5h-4.86"/></g>
<g stroke="#000" stroke-width="1.11" fill="none"><path d="M150.5 648.5H573.5V1068.5H150.5Z" stroke-linejoin="miter"/><path d="M170.5 1068.5v4.86M190.5 1068.5v4.86M210.5 1068.5v4.86M231.5 1068.5v4.86M251.5 1068.5v4.86M271.5 1068.5v4.86M291.5 1068.5v4.86M311.5 1068.5v4.86M331.5 1068.5v4.86M351.5 1068.5v4.86M371.5 1068.5v4.86M392.5 1068.5v4.86M412.5 1068.5v4.86M432.5 1068.5v4.86M452.5 1068.5v4.86M472.5 1068.5v4.86M492.5 1068.5v4.86M512.5 1068.5v4.86M532.5 1068.5v4.86M553.5 1068.5v4.86M573.5 1068.5v4.86M150.5 1068.5h-4.86M150.5 1003.5h-4.86M150.5 939.5h-4.86M150.5 874.5h-4.86M150.5 810.5h-4.86M150.5 745.5h-4.86M150.5 680.5h-4.86"/></g>
<g stroke="#000" stroke-width="1.11" fill="none"><path d="M657.5 648.5H1080.5V1068.5H657.5Z" stroke-linejoin="miter"/><path d="M677.5 1068.5v4.86M698.5 1068.5v4.86M718.5 1068.5v4.86M738.5 1068.5v4.86M758.5 1068.5v4.86M778.5 1068.5v4.86M798.5 1068.5v4.86M818.5 1068.5v4.86M838.5 1068.5v4.86M859.5 1068.5v4.86M879.5 1068.5v4.86M899.5 1068.5v4.86M919.5 1068.5v4.86M939.5 1068.5v4.86M959.5 1068.5v4.86M979.5 1068.5v4.86M999.5 1068.5v4.86M1020.5 1068.5v4.86M1040.5 1068.5v4.86M1060.5 1068.5v4.86M1080.5 1068.5v4.86M657.5 1068.5h-4.86M657.5 1003.5h-4.86M657.5 939.5h-4.86M657.5 874.5h-4.86M657.5 810.5h-4.86M657.5 745.5h-4.86M657.5 680.5h-4.86"/></g>
<text x="150.00" y="585.08" font-size="13.889" text-anchor="middle">0.0</text>
<text x="234.55" y="585.08" font-size="13.889" text-anchor="middle">0.2</text>
<text x="319.09" y="585.08" font-size="13.889" text-anchor="middle">0.4</text>
<text x="403.64" y="585.08" font-size="13.889" text-anchor="middle">0.6</text>
<text x="488.18" y="585.08" font-size="13.889" text-anchor="middle">0.8</text>
<text x="572.73" y="585.08" font-size="13.889" text-anchor="middle">1.0</text>
<text x="361.36" y="604.07" font-size="13.889" text-anchor="middle">Sample 1 Rank</text>
<text x="140.28" y="569.78" font-size="13.889" text-anchor="end">0.0</text>
<text x="140.28" y="485.78" font-size="13.889" text-anchor="end">0.2</text>
<text x="140.28" y="401.78" font-size="13.889" text-anchor="end">0.4</text>
<text x="140.28" y="317.78" font-size="13.889" text-anchor="end">0.6</text>
<text x="140.28" y="233.78" font-size="13.889" text-anchor="end">0.8</text>
<text x="140.28" y="149.78" font-size="13.889" text-anchor="end">1.0</text>
<text x="109.75" y="354.00" font-size="13.889" text-anchor="middle" transform="rotate(-90 109.75 354.00)">Sample 2 Rank</text>
<text x="361.36" y="134.67" font-size="16.667" text-anchor="middle">Ranks - (red &gt;= 0.05 IDR)</text>
<text x="683.48" y="585.08" font-size="13.889" text-anchor="middle">0.50</text>
<text x="740.11" y="585.08" font-size="13.889" text-anchor="middle">0.75</text>
<text x="796.74" y="585.08" font-size="13.889" text-anchor="middle">1.00</text>
<text x="853.37" y="585.08" font-size="13.889" text-anchor="middle">1.25</text>
<text x="910.00" y="585.08" font-size="13.889" text-anchor="middle">1.50</text>
<text x="966.63" y="585.08" font-size="13.889" text-anchor="middle">1.75</text>
<text x="1023.26" y="585.08" font-size="13.889" text-anchor="middle">2.00</text>
<text x="1079.89" y="585.08" font-size="13.889" text-anchor="middle">2.25</text>
<text x="868.64" y="604.07" font-size="13.889" text-anchor="middle">Sample 1 log10 Score</text>
<text x="647.55" y="545.28" font-size="13.889" text-anchor="end">0.50</text>
<text x="647.55" y="491.42" font-size="13.889" text-anchor="end">0.75</text>
<text x="647.55" y="437.56" font-size="13.889" text-anchor="end">1.00</text>
<text x="647.55" y="383.70" font-size="13.889" text-anchor="end">1.25</text>
<text x="647.55" y="329.85" font-size="13.889" text-anchor="end">1.50</text>
<text x="647.55" y="275.99" font-size="13.889" text-anchor="end">1.75</text>
<text x="647.55" y="222.13" font-size="13.889" text-anchor="end">2.00</text>
<text x="647.55" y="168.28" font-size="13.889" text-anchor="end">2.25</text>
<text x="608.18" y="354.00" font-size="13.889" text-anchor="middle" transform="rotate(-90 608.18 354.00)">Sample 2 log10 Score</text>
<text x="868.64" y="134.67" font-size="16.667" text-anchor="middle">Log10 Scores - (red &gt;= 0.05 IDR)</text>
<text x="170.13" y="1089.08" font-size="13.889" text-anchor="middle">1</text>
<text x="190.26" y="1089.08" font-size="13.889" text-anchor="middle">2</text>
<text x="210.39" y="1089.08" font-size="13.889" text-anchor="middle">3</text>
<text x="230.52" y="1089.08" font-size="13.889" text-anchor="middle">4</text>
<text x="250.65" y="1089.08" font-size="13.889" text-anchor="middle">5</text>
<text x="270.78" y="1089.08" font-size="13.889" text-anchor="middle">6</text>
<text x="290.91" y="1089.08" font-size="13.889" text-anchor="middle">7</text>
<text x="311.04" y="1089.08" font-size="13.889" text-anchor="middle">8</text>
<text x="331.17" y="1089.08" font-size="13.889" text-anchor="middle">9</text>
<text x="351.30" y="1089.08" font-size="13.889" text-anchor="middle">10</text>
<text x="371.43" y="1089.08" font-size="13.889" text-anchor="middle">11</text>
<text x="391.56" y="1089.08" font-size="13.889" text-anchor="middle">12</text>
<text x="411.69" y="1089.08" font-size="13.889" text-anchor="middle">13</text>
<text x="431.82" y="1089.08" font-size="13.889" text-anchor="middle">14</text>
<text x="451.95" y="1089.08" font-size="13.889" text-anchor="middle">15</text>
<text x="472.08" y="1089.08" font-size="13.889" text-anchor="middle">16</text>
<text x="492.21" y="1089.08" font-size="13.889" text-anchor="middle">17</text>
<text x="512.34" y="1089.08" font-size="13.889" text-anchor="middle">18</text>
<text x="532.47" y="1089.08" font-size="13.889" text-anchor="middle">19</text>
<text x="552.60" y="1089.08" font-size="13.889" text-anchor="middle">20</text>
<text x="572.73" y="1089.08" font-size="13.889" text-anchor="middle">21</text>
<text x="361.36" y="1108.07" font-size="13.889" text-anchor="middle">Sample 1 Peak Rank</text>
<text x="140.28" y="1073.78" font-size="13.889" text-anchor="end">0</text>
<text x="140.28" y="1009.16" font-size="13.889" text-anchor="end">1</text>
<text x="140.28" y="944.55" font-size="13.889" text-anchor="end">2</text>
<text x="140.28" y="879.93" font-size="13.889" text-anchor="end">3</text>
<text x="140.28" y="815.32" font-size="13.889" text-anchor="end">4</text>
<text x="140.28" y="750.70" font-size="13.889" text-anchor="end">5</text>
<text x="140.28" y="686.08" font-size="13.889" text-anchor="end">6</text>
<text x="123.00" y="858.00" font-size="13.889" text-anchor="middle" transform="rotate(-90 123.00 858.00)">-log10 IDR</text>
<text x="361.36" y="638.67" font-size="16.667" text-anchor="middle">Sample 1 Ranks vs IDR Values</text>
<text x="677.40" y="1089.08" font-size="13.889" text-anchor="middle">1</text>
<text x="697.53" y="1089.08" font-size="13.889" text-anchor="middle">2</text>
<text x="717.66" y="1089.08" font-size="13.889" text-anchor="middle">3</text>
<text x="737.79" y="1089.08" font-size="13.889" text-anchor="middle">4</text>
<text x="757.92" y="1089.08" font-size="13.889" text-anchor="middle">5</text>
<text x="778.05" y="1089.08" font-size="13.889" text-anchor="middle">6</text>
<text x="798.18" y="1089.08" font-size="13.889" text-anchor="middle">7</text>
<text x="818.31" y="1089.08" font-size="13.889" text-anchor="middle">8</text>
<text x="838.44" y="1089.08" font-size="13.889" text-anchor="middle">9</text>
<text x="858.57" y="1089.08" font-size="13.889" text-anchor="middle">10</text>
<text x="878.70" y="1089.08" font-size="13.889" text-anchor="middle">11</text>
<text x="898.83" y="1089.08" font-size="13.889" text-anchor="middle">12</text>
<text x="918.96" y="1089.08" font-size="13.889" text-anchor="middle">13</text>
<text x="939.09" y="1089.08" font-size="13.889" text-anchor="middle">14</text>
<text x="959.22" y="1089.08" font-size="13.889" text-anchor="middle">15</text>
<text x="979.35" y="1089.08" font-size="13.889" text-anchor="middle">16</text>
<text x="999.48" y="1089.08" font-size="13.889" text-anchor="middle">17</text>
<text x="1019.61" y="1089.08" font-size="13.889" text-anchor="middle">18</text>
<text x="1039.74" y="1089.08" font-size="13.889" text-anchor="middle">19</text>
<text x="1059.87" y="1089.08" font-size="13.889" text-anchor="middle">20</text>
<text x="1080.00" y="1089.08" font-size="13.889" text-anchor="middle">21</text>
<text x="868.64" y="1108.07" font-size="13.889" text-anchor="middle">Sample 2 Peak Rank</text>
<text x="647.55" y="1073.78" font-size="13.889" text-anchor="end">0</text>
<text x="647.55" y="1009.16" font-size="13.889" text-anchor="end">1</text>
<text x="647.55" y="944.55" font-size="13.889" text-anchor="end">2</text>
<text x="647.55" y="879.93" font-size="13.889" text-anchor="end">3</text>
<text x="647.55" y="815.32" font-size="13.889" text-anchor="end">4</text>
<text x="647.55" y="750.70" font-size="13.889" text-anchor="end">5</text>
<text x="647.55" y="686.08" font-size="13.889" text-anchor="end">6</text>
<text x="630.27" y="858.00" font-size="13.889" text-anchor="middle" transform="rotate(-90 630.27 858.00)">-log10 IDR</text>
<text x="868.64" y="638.67" font-size="16.667" text-anchor="middle">Sample 2 Ranks vs IDR Values</text>
</svg>
</body></html>
